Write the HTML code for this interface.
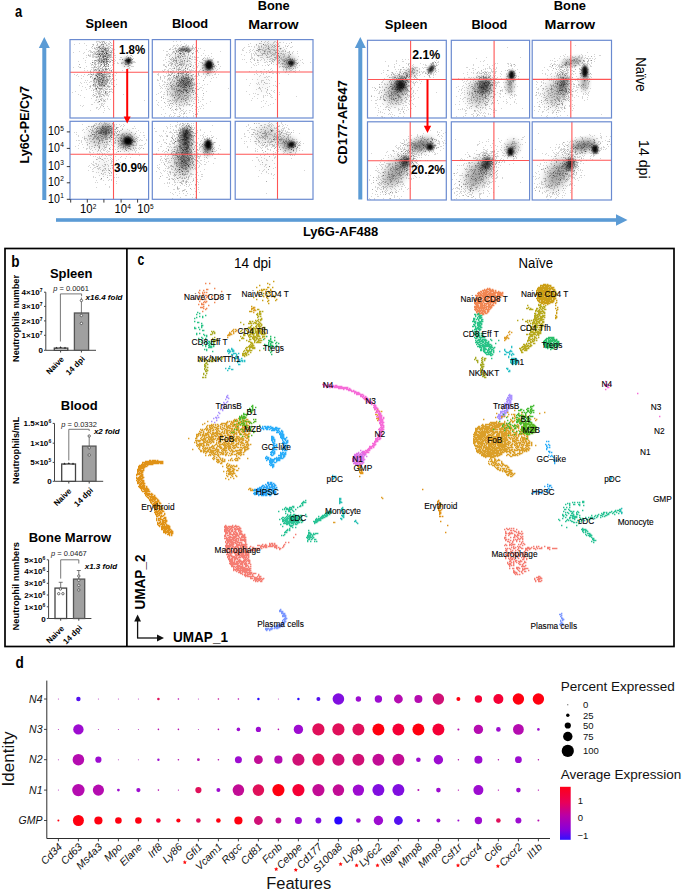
<!DOCTYPE html><html><head><meta charset="utf-8"><style>html,body{margin:0;padding:0;background:#fff;width:685px;height:890px;overflow:hidden}svg{position:absolute;left:0;top:0;display:block}text{font-family:"Liberation Sans",sans-serif}.b{font-weight:bold}.i{font-style:italic}</style></head><body>
<svg width="685" height="890" viewBox="0 0 685 890">
<defs><filter id="bl1" x="-50%" y="-50%" width="200%" height="200%"><feGaussianBlur stdDeviation="1"/></filter><filter id="bl2" x="-50%" y="-50%" width="200%" height="200%"><feGaussianBlur stdDeviation="2"/></filter><filter id="bl3" x="-50%" y="-50%" width="200%" height="200%"><feGaussianBlur stdDeviation="3"/></filter><filter id="bl4" x="-50%" y="-50%" width="200%" height="200%"><feGaussianBlur stdDeviation="4.5"/></filter><filter id="bl6" x="-50%" y="-50%" width="200%" height="200%"><feGaussianBlur stdDeviation="6"/></filter><linearGradient id="cbar" x1="0" y1="0" x2="0" y2="1"><stop offset="0" stop-color="#ff0018"/><stop offset=".3" stop-color="#e8005a"/><stop offset=".55" stop-color="#b800a8"/><stop offset=".8" stop-color="#8a00d8"/><stop offset="1" stop-color="#3010ff"/></linearGradient></defs>
<text x="15" y="16.9" font-size="16.4" class="b" textLength="7.2" lengthAdjust="spacingAndGlyphs">a</text>
<text x="106.5" y="27.9" font-size="13" class="b" text-anchor="middle" textLength="42.1" lengthAdjust="spacingAndGlyphs">Spleen</text>
<text x="190" y="28.2" font-size="13" class="b" text-anchor="middle" textLength="36.2" lengthAdjust="spacingAndGlyphs">Blood</text>
<text x="273.7" y="9.8" font-size="13" class="b" text-anchor="middle" textLength="32" lengthAdjust="spacingAndGlyphs">Bone</text>
<text x="273.4" y="28.8" font-size="13" class="b" text-anchor="middle" textLength="50.4" lengthAdjust="spacingAndGlyphs">Marrow</text>
<text x="406.2" y="28.8" font-size="13" class="b" text-anchor="middle" textLength="42.8" lengthAdjust="spacingAndGlyphs">Spleen</text>
<text x="489.4" y="28.8" font-size="13" class="b" text-anchor="middle" textLength="36" lengthAdjust="spacingAndGlyphs">Blood</text>
<text x="569.9" y="10.4" font-size="13" class="b" text-anchor="middle" textLength="32.2" lengthAdjust="spacingAndGlyphs">Bone</text>
<text x="569.9" y="29.4" font-size="13" class="b" text-anchor="middle" textLength="50.6" lengthAdjust="spacingAndGlyphs">Marrow</text>
<rect x="42.3" y="47" width="4" height="153" fill="#5b9bd5"/>
<path d="M44.3 37L49.8 48L38.8 48Z" fill="#5b9bd5"/>
<rect x="358.3" y="47" width="4" height="152.5" fill="#5b9bd5"/>
<path d="M360.3 37L365.8 48L354.8 48Z" fill="#5b9bd5"/>
<rect x="56" y="218.2" width="561" height="3.6" fill="#5b9bd5"/>
<path d="M627.5 220L616 214.2L616 225.8Z" fill="#5b9bd5"/>
<text x="29.5" y="124.8" font-size="12.5" class="b" text-anchor="middle" transform="rotate(-90 29.5 124.8)">Ly6C-PE/Cy7</text>
<text x="347.3" y="122.2" font-size="13" class="b" text-anchor="middle" transform="rotate(-90 347.3 122.2)">CD177-AF647</text>
<text x="340.6" y="236.4" font-size="13" class="b" text-anchor="middle">Ly6G-AF488</text>
<text x="636" y="74.4" font-size="14.2" text-anchor="middle" transform="rotate(90 636 74.4)" textLength="34.2" lengthAdjust="spacingAndGlyphs">Na&#239;ve</text>
<text x="638.6" y="159.3" font-size="14.2" text-anchor="middle" transform="rotate(90 638.6 159.3)" textLength="38.6" lengthAdjust="spacingAndGlyphs">14 dpi</text>
<clipPath id="c1"><rect x="70" y="39.6" width="78.6" height="78.4"/></clipPath>
<g clip-path="url(#c1)">
<ellipse cx="103" cy="54" rx="5" ry="8" transform="rotate(0 103 54)" fill="#000" fill-opacity="0.26" filter="url(#bl3)"/>
<ellipse cx="101.5" cy="79" rx="5.5" ry="8" transform="rotate(0 101.5 79)" fill="#000" fill-opacity="0.3" filter="url(#bl3)"/>
<ellipse cx="100.5" cy="98" rx="4" ry="6" transform="rotate(0 100.5 98)" fill="#000" fill-opacity="0.05" filter="url(#bl3)"/>
<ellipse cx="128.4" cy="60.7" rx="2.8" ry="2.8" transform="rotate(0 128.4 60.7)" fill="#000" fill-opacity="0.97" filter="url(#bl1)"/>
<ellipse cx="126.5" cy="62" rx="4" ry="4" transform="rotate(0 126.5 62)" fill="#000" fill-opacity="0.3" filter="url(#bl2)"/>
<path d="M106 74h1M96 60h1M96 54h1M97 76h1M128 59h1M100 71h1M124 63h1M91 52h1M105 56h1M103 58h1M101 96h1M131 58h1M98 93h1M103 81h1M95 87h1M108 43h1M102 67h1M101 91h1M99 85h1M99 71h1M97 90h1M106 61h1M98 51h1M99 77h1M105 64h1M97 44h1M102 72h1M105 64h1M106 92h1M98 74h1M90 72h1M87 84h1M104 90h1M106 83h1M110 54h1M99 73h1M103 75h1M92 57h1M92 46h1M95 53h1M113 63h1M106 69h1M109 83h1M112 57h1M126 60h1M129 68h1M103 66h1M111 45h1M103 51h1M111 50h1M96 67h1M88 74h1M97 72h1M99 96h1M99 46h1M107 53h1M105 58h1M93 65h1M106 55h1M100 66h1M127 55h1M106 95h1M101 62h1M101 82h1M110 50h1M121 57h1M103 61h1M103 46h1M99 46h1M109 58h1M130 65h1M93 68h1M103 56h1M103 56h1M108 73h1M98 54h1M113 71h1M107 66h1M113 58h1M100 62h1M102 44h1M108 64h1M134 61h1M102 80h1M94 78h1M100 58h1M100 79h1M108 59h1M108 61h1M103 80h1M103 59h1M108 86h1M103 94h1M104 110h1M109 48h1M122 59h1M114 63h1M103 66h1M99 54h1M108 49h1M108 53h1M113 52h1M103 62h1M97 47h1M100 56h1M103 55h1M98 56h1M98 101h1M96 64h1M110 56h1M94 51h1M100 68h1M106 50h1M106 59h1M99 86h1M92 60h1M104 77h1M105 83h1M110 76h1M102 60h1M130 62h1M126 56h1M81 75h1M104 74h1M107 80h1M94 81h1M130 57h1M101 88h1M93 73h1M88 54h1M98 60h1M89 82h1M98 80h1M134 62h1M96 88h1M106 52h1M99 58h1M129 65h1M104 53h1M125 60h1M104 77h1M93 67h1M95 85h1M104 103h1M108 59h1M95 64h1M102 48h1M102 94h1M100 85h1M100 84h1M110 61h1M99 59h1M127 60h1M102 61h1M102 76h1M107 56h1M103 59h1M98 62h1M107 72h1M101 68h1M111 60h1M96 73h1M103 69h1M128 61h1M106 50h1M99 79h1M96 54h1M104 59h1M95 78h1M104 55h1M91 72h1M104 83h1M108 46h1M94 69h1M90 70h1M90 51h1M98 94h1M95 66h1M111 89h1M133 58h1M99 75h1M104 49h1M107 45h1M99 57h1M106 59h1M102 74h1M80 82h1M93 84h1M104 84h1M108 57h1M112 62h1M105 92h1M92 48h1M102 47h1M106 66h1M100 72h1M104 42h1M95 60h1M105 80h1M102 81h1M96 51h1M95 70h1M105 91h1M110 55h1M108 54h1M99 92h1M101 85h1M111 70h1M110 57h1M100 42h1M128 63h1M93 55h1M100 85h1M110 61h1M106 75h1M101 62h1M88 72h1M106 64h1M98 73h1M93 69h1M101 60h1M99 60h1M111 70h1M92 62h1M133 66h1M107 55h1M100 79h1M90 77h1M96 75h1M108 66h1M94 70h1M94 70h1M130 59h1M104 85h1M109 91h1M92 52h1M94 79h1M92 52h1M99 82h1M103 106h1M103 46h1M113 86h1M92 54h1M131 55h1M96 76h1M104 50h1M107 82h1M107 86h1M90 110h1M111 84h1M122 70h1M102 84h1M86 45h1M97 97h1M96 89h1M112 50h1M88 55h1M97 63h1M129 67h1M105 82h1M98 62h1M117 62h1M99 78h1M106 59h1M105 56h1M104 74h1M104 62h1M108 68h1M123 62h1M107 106h1M112 76h1M91 81h1M99 57h1M105 68h1M94 53h1M92 104h1M102 43h1M104 42h1M105 54h1M104 93h1M108 80h1M105 56h1M104 79h1M101 73h1M103 48h1M99 93h1M99 54h1M104 61h1M107 60h1M129 59h1M101 41h1M106 61h1M103 84h1M101 84h1M100 90h1M129 59h1M101 94h1M111 55h1M105 61h1M105 58h1M98 84h1M93 86h1M99 62h1M127 70h1M95 78h1M94 60h1M87 70h1M101 54h1M111 88h1M103 60h1M102 74h1M105 76h1M99 84h1M101 61h1M99 49h1M93 89h1M103 62h1M102 54h1M98 60h1M104 73h1M112 84h1M98 74h1M103 78h1M100 53h1M101 78h1M112 49h1M94 63h1M100 93h1M106 61h1M102 71h1M97 96h1M110 99h1M109 109h1M100 48h1M95 75h1M105 49h1M109 54h1M98 59h1M106 64h1M106 57h1M109 75h1M98 50h1M101 73h1M103 48h1M93 94h1M108 76h1M106 80h1M86 82h1M99 84h1M101 71h1M82 86h1M111 43h1M103 57h1M106 81h1M105 52h1M104 86h1M97 86h1M133 62h1M128 58h1M118 63h1M99 46h1M105 69h1M103 76h1M103 91h1M125 72h1M96 47h1M108 87h1M115 72h1M108 66h1M105 71h1M93 92h1M99 52h1M99 54h1M129 59h1M106 66h1M99 88h1M106 76h1M100 60h1M76 75h1M106 60h1M108 80h1M73 52h1M108 64h1M128 63h1M108 57h1M99 88h1M106 48h1M93 74h1M90 54h1M100 64h1M85 80h1M128 61h1M104 76h1M126 64h1M104 85h1M97 79h1M98 52h1M109 55h1M104 71h1M103 52h1M94 80h1M106 42h1M107 57h1M108 108h1M103 61h1M125 64h1M125 61h1M95 63h1M101 64h1M104 61h1M107 51h1M92 95h1M109 56h1M101 105h1M104 72h1M107 57h1M95 88h1M98 59h1M100 55h1M101 54h1M114 80h1M94 95h1M108 47h1M104 81h1M107 51h1M103 52h1M103 62h1M81 78h1M104 53h1M129 60h1M95 48h1M110 42h1M108 51h1M102 57h1M95 60h1M99 41h1M94 67h1M115 55h1M106 51h1M94 66h1M131 55h1M95 100h1M100 73h1M94 64h1M107 91h1M92 88h1M110 91h1M96 108h1M90 56h1M91 64h1M99 77h1M92 75h1M107 54h1M128 59h1M94 89h1M127 62h1M101 78h1M94 66h1M102 84h1M128 65h1M115 75h1M103 54h1M103 79h1M99 79h1M114 61h1M99 73h1M105 68h1M101 64h1M103 85h1M95 78h1M74 44h1M108 72h1M133 61h1M96 88h1M128 68h1M103 51h1M97 79h1M83 76h1M93 70h1M97 45h1M125 60h1M108 59h1M95 64h1M108 64h1M104 72h1M107 69h1M95 49h1M98 68h1M104 65h1M95 83h1M144 100h1M105 60h1M107 57h1M106 60h1M109 76h1M104 61h1M115 60h1M107 94h1M109 52h1M110 65h1M94 63h1M101 61h1M100 77h1M113 77h1M104 53h1M94 84h1M129 62h1M131 66h1M111 82h1M110 81h1M99 70h1M128 57h1M80 67h1M101 75h1M95 91h1M104 88h1M91 76h1M132 59h1M100 99h1M101 91h1M102 82h1M109 54h1M99 97h1M93 84h1M105 99h1M96 89h1M105 91h1M72 92h1M105 66h1M126 64h1M97 102h1M109 61h1M105 56h1M107 89h1M111 83h1M98 69h1M100 55h1M98 81h1M109 44h1M92 46h1M109 43h1M97 43h1M100 45h1M103 64h1M102 98h1M90 76h1M125 64h1M106 63h1M106 53h1M113 61h1M93 81h1M100 68h1M96 81h1M100 74h1M109 51h1M100 61h1M107 61h1M104 82h1M98 61h1M99 67h1M102 62h1M96 96h1M112 78h1M116 79h1M96 42h1M95 60h1M105 72h1M108 49h1M97 72h1M104 58h1M97 51h1M94 79h1M106 63h1M97 77h1M106 59h1M106 73h1M109 89h1M128 57h1M131 63h1M97 72h1M108 86h1M106 53h1M107 82h1M106 51h1M101 64h1M105 49h1M104 65h1M102 69h1M94 82h1M106 49h1M130 55h1M104 63h1M129 59h1M86 55h1M101 98h1M98 93h1M97 73h1M111 79h1M96 41h1M112 92h1M100 72h1M78 94h1M99 70h1M109 73h1M110 70h1M99 70h1M91 67h1M108 96h1M84 68h1M105 56h1M112 65h1M127 64h1M106 77h1M103 101h1M99 83h1M102 94h1M107 65h1M95 89h1M109 76h1M100 92h1M90 55h1M108 52h1M93 53h1M132 61h1M107 56h1M110 45h1M96 56h1M99 77h1M102 63h1M96 88h1M99 61h1M111 71h1M93 57h1M98 46h1M96 81h1M99 51h1M113 54h1M103 77h1M90 86h1M110 57h1M107 63h1M100 63h1M105 58h1M109 72h1M121 63h1M96 79h1M103 44h1M105 66h1M128 66h1M97 76h1M98 72h1M106 57h1M98 80h1M111 52h1M100 46h1M106 70h1M105 92h1M103 77h1M98 60h1M101 73h1M112 48h1M92 56h1M95 84h1M128 64h1M98 84h1M106 89h1M108 74h1M96 97h1M99 59h1M94 60h1M99 61h1M105 55h1M105 51h1M107 50h1M107 59h1M101 72h1M101 49h1M104 80h1M128 52h1M99 42h1M106 52h1M110 62h1M106 58h1M103 63h1M109 87h1M94 61h1M99 66h1M106 68h1M103 74h1M104 47h1M98 50h1M97 60h1M96 72h1M102 41h1M110 80h1M107 98h1M99 47h1M102 51h1M95 75h1M125 60h1M103 70h1M105 89h1M103 61h1M104 48h1M90 73h1M129 59h1M95 88h1M100 51h1M99 101h1M94 48h1M105 43h1M109 70h1M101 92h1M81 90h1M94 52h1M105 50h1M132 59h1M108 55h1M94 85h1M90 50h1M95 53h1M114 86h1M92 67h1M112 60h1M125 60h1M103 57h1M108 56h1M108 66h1M100 55h1M107 63h1M106 69h1M99 69h1M97 49h1M105 43h1M113 58h1M100 107h1M107 62h1M113 54h1M102 89h1M98 66h1M100 79h1M99 72h1M102 70h1M106 52h1M107 47h1M108 55h1M100 73h1M96 80h1M107 79h1M106 54h1M102 50h1M101 50h1M100 84h1M97 91h1M98 63h1M102 77h1M101 51h1M105 66h1M107 93h1M94 47h1M96 74h1M103 89h1M107 53h1M101 51h1M103 104h1M106 81h1M102 103h1M131 59h1M92 74h1M94 78h1M103 61h1M103 80h1M104 56h1M92 78h1M98 102h1M94 67h1M124 60h1M104 72h1M108 68h1M106 53h1" stroke="#000" stroke-width="1" stroke-opacity=".17" fill="none" transform="translate(0 .5)"/>
<path d="M97 72h1M111 70h1M98 64h1M102 69h1M107 79h1M128 64h1M103 62h1M96 82h1M106 44h1M99 91h1M90 76h1M103 47h1M107 53h1M99 85h1M93 94h1M111 52h1M111 91h1M78 61h1M103 59h1M102 87h1M95 69h1M106 82h1M84 74h1M100 62h1M89 88h1M92 62h1M106 62h1M96 47h1M102 82h1M105 86h1M102 80h1M104 56h1M90 71h1M102 88h1M107 61h1M106 63h1M112 52h1M122 63h1M96 75h1M99 54h1M93 51h1M89 50h1M103 112h1M90 77h1M99 72h1M98 73h1M102 56h1M84 82h1M97 92h1M91 72h1M105 49h1M104 95h1M130 59h1M108 64h1M110 78h1M130 57h1M103 85h1M96 69h1M128 59h1M109 73h1M99 54h1M97 86h1M94 56h1M94 78h1M102 48h1M107 48h1M105 59h1M96 49h1M102 44h1M94 62h1M101 64h1M96 57h1M108 79h1M102 80h1M128 62h1M99 74h1M98 72h1M108 68h1M93 79h1M129 65h1M101 100h1M97 74h1M120 57h1M100 56h1M113 77h1M92 85h1M103 85h1M100 48h1M97 53h1M106 60h1M79 43h1M95 77h1M96 75h1M116 84h1M112 89h1M99 95h1M102 105h1M96 52h1M104 53h1M106 79h1M105 101h1M110 42h1M98 83h1M94 86h1M102 55h1M104 66h1M98 47h1M131 62h1M101 58h1M106 58h1M113 54h1M95 62h1M101 51h1M113 43h1M96 85h1M80 95h1M126 59h1M112 69h1M103 56h1M102 60h1M99 53h1M99 73h1M97 59h1M131 62h1M101 78h1M93 96h1M93 71h1M101 75h1M104 53h1M101 70h1M98 50h1M96 72h1M95 57h1M98 56h1M104 64h1M91 51h1M105 52h1M105 50h1M106 65h1M95 67h1M102 79h1M107 78h1M105 72h1M96 70h1M106 71h1M128 63h1M103 83h1M100 80h1M90 81h1M110 55h1M96 79h1M104 72h1M117 63h1M99 47h1M102 42h1M106 83h1M97 61h1M79 85h1M100 42h1M103 57h1M101 84h1M94 54h1M90 52h1M106 91h1M106 77h1M108 92h1M100 48h1M93 45h1M102 53h1M99 101h1M101 62h1M102 84h1M104 82h1M103 79h1M103 49h1M97 73h1M125 60h1M96 91h1M105 80h1M128 57h1M95 56h1M91 74h1M90 87h1M111 67h1M125 64h1M102 46h1M104 72h1M96 61h1M101 85h1M103 69h1M97 80h1M112 82h1M104 62h1M109 86h1M95 95h1M80 67h1M91 65h1M97 78h1M98 81h1M102 52h1M99 58h1M103 74h1M102 53h1M125 63h1M104 65h1M101 73h1M97 86h1M125 62h1M106 53h1M101 60h1M108 55h1M96 107h1M114 59h1M90 71h1M122 59h1M122 59h1M98 78h1M107 48h1M101 45h1M111 51h1M79 51h1M99 54h1M85 60h1M107 80h1M110 52h1M98 68h1M105 48h1M104 101h1M108 85h1M101 73h1M111 54h1M105 94h1M103 44h1M110 68h1M128 66h1M101 44h1M88 55h1M84 97h1M101 79h1M97 96h1M99 89h1M100 56h1M100 81h1M116 73h1M100 48h1M99 54h1M99 104h1M103 100h1M101 100h1M98 63h1M100 106h1M99 80h1M114 86h1M131 60h1M103 70h1M96 54h1M99 53h1M99 81h1M106 56h1M108 76h1M100 99h1M109 56h1M102 76h1M102 51h1M110 86h1M109 57h1M75 91h1M104 63h1M91 74h1M132 59h1M102 75h1M112 60h1M93 84h1M105 48h1M83 105h1M104 49h1M90 86h1M99 70h1M108 61h1M103 44h1M105 69h1M104 55h1M95 86h1M109 41h1M102 51h1M96 93h1M104 85h1M98 67h1M104 65h1M98 109h1M91 90h1M106 48h1M107 59h1M130 60h1M99 81h1M102 82h1M98 80h1M107 50h1M97 41h1M104 85h1M104 86h1M114 55h1M109 86h1M110 47h1M131 63h1M92 64h1M105 62h1M100 88h1M95 82h1M100 86h1M104 59h1M98 55h1M93 44h1M97 54h1M113 68h1M95 85h1M97 53h1M97 76h1M101 53h1M106 89h1M93 84h1M106 77h1M128 60h1M103 78h1M103 59h1M105 84h1M89 55h1M111 45h1M111 71h1M112 60h1M130 60h1M109 62h1M129 61h1M103 106h1M89 56h1M97 107h1M93 80h1M108 48h1M107 57h1M108 65h1M106 53h1M105 81h1M98 91h1M110 89h1M101 59h1M100 65h1M95 69h1M101 99h1M99 94h1M111 56h1M104 100h1M86 49h1M113 67h1M98 82h1M83 53h1M98 51h1M99 74h1M126 61h1M106 64h1M106 45h1M96 97h1M107 73h1M100 82h1M105 69h1M103 46h1M99 81h1M102 51h1M100 96h1M106 54h1M101 75h1M108 72h1M103 58h1M87 75h1M104 41h1M101 86h1M93 90h1M89 86h1M105 62h1M112 74h1M98 88h1M110 54h1M95 69h1M111 57h1M106 78h1M103 51h1M94 102h1M105 50h1M111 59h1M104 65h1M101 88h1M99 90h1M110 47h1M90 63h1M100 55h1M93 80h1M98 78h1M121 63h1M101 79h1M81 83h1M101 59h1M95 78h1M83 58h1M94 95h1M107 63h1M102 60h1M93 44h1M105 56h1M96 75h1M102 78h1M105 80h1M86 57h1M101 104h1M96 75h1M92 64h1M101 58h1M99 91h1M107 88h1M96 88h1M102 54h1M98 47h1M104 71h1M101 65h1M113 91h1M93 82h1M126 60h1M99 108h1M110 52h1M93 54h1M107 61h1M97 74h1M91 69h1M99 48h1M97 87h1M104 59h1M103 50h1M97 66h1M115 57h1M98 88h1M109 91h1M102 56h1M97 57h1M100 89h1M98 54h1M98 47h1M107 86h1M107 76h1M107 71h1M109 83h1M105 69h1M119 59h1M96 82h1M135 62h1M109 77h1M102 80h1M102 68h1M128 61h1M99 93h1M98 87h1M103 92h1M105 74h1M104 43h1M107 95h1M86 89h1M103 82h1M103 54h1M97 84h1M106 59h1M107 55h1M97 87h1M103 61h1M105 48h1M101 82h1M99 50h1M99 96h1M101 61h1M99 77h1M80 105h1M97 48h1M79 67h1M103 51h1M104 68h1M106 94h1M109 69h1M98 72h1M127 69h1M101 103h1M98 53h1M104 76h1M93 90h1M99 72h1M102 57h1M107 85h1M98 81h1M101 60h1M101 44h1M103 41h1M94 78h1M104 49h1M111 53h1M132 66h1M103 45h1M98 41h1M102 74h1M106 52h1M98 77h1M110 74h1M104 108h1M99 58h1M102 76h1M93 62h1M97 76h1M106 62h1M94 83h1M114 53h1M99 88h1M101 54h1M99 60h1M95 84h1M109 89h1M101 83h1M88 74h1M104 75h1M106 53h1M111 80h1M104 59h1M124 66h1M84 43h1M101 71h1M107 74h1M130 69h1M106 93h1M111 48h1M82 106h1M104 64h1M105 55h1M93 85h1M99 56h1M109 79h1M96 99h1M109 46h1M93 74h1M107 58h1M97 51h1M97 68h1M103 72h1M104 100h1M127 68h1M127 60h1M101 83h1M96 94h1M104 60h1M95 62h1M112 75h1M110 52h1M100 75h1M86 66h1M98 74h1M102 86h1M105 88h1M132 63h1M123 94h1M107 61h1M91 47h1M99 83h1M110 76h1M98 79h1M105 93h1M108 59h1M127 63h1M107 69h1M105 92h1M103 55h1M106 61h1M101 76h1M100 95h1M96 90h1M92 62h1M104 63h1M106 53h1M109 62h1M94 78h1M106 84h1M94 81h1M126 60h1M113 84h1M108 44h1M101 47h1M105 76h1M101 89h1M104 78h1M96 70h1M110 61h1M98 92h1M109 92h1M103 41h1M120 59h1M121 62h1M103 77h1M99 85h1M99 101h1M92 44h1M99 83h1M100 59h1M101 62h1M113 71h1M129 63h1M96 57h1M93 85h1M108 50h1M107 53h1M99 61h1M91 74h1M99 63h1M90 85h1M107 99h1M96 67h1M100 66h1M100 53h1M106 79h1M103 86h1M98 71h1M95 93h1M127 66h1M97 69h1M84 70h1M127 71h1M102 82h1M95 74h1M102 51h1M105 91h1M109 82h1M122 62h1M128 60h1M106 58h1M100 94h1M98 99h1M106 69h1M99 75h1M112 45h1M105 84h1M105 92h1M91 98h1M103 66h1M106 59h1M124 66h1M99 47h1M114 49h1M113 91h1M91 76h1M102 53h1M95 79h1M104 96h1M101 48h1M103 80h1M103 95h1M106 72h1M101 82h1M102 83h1M99 61h1M90 74h1M102 42h1M104 58h1M73 67h1M96 60h1M102 81h1M100 72h1M92 77h1M94 48h1M74 74h1M110 73h1M130 58h1M98 65h1M93 56h1M132 62h1M94 79h1M112 79h1M106 62h1M100 81h1M101 44h1M103 90h1M107 81h1M79 64h1M99 75h1M98 56h1M109 76h1M126 59h1M110 59h1M95 54h1M112 74h1M78 66h1M107 81h1M101 78h1M97 44h1M88 51h1M96 88h1M104 56h1M79 64h1M105 83h1M102 67h1M103 61h1M102 48h1M109 60h1M102 59h1M100 65h1M97 77h1M106 68h1M106 45h1M101 49h1M100 89h1M100 88h1M89 74h1M98 75h1M113 85h1M101 88h1M103 95h1M108 95h1M105 48h1M111 51h1M97 76h1M103 56h1M95 65h1M127 70h1M106 87h1M108 50h1M97 76h1M104 60h1M77 74h1M91 104h1M104 49h1M112 64h1M103 57h1M112 78h1M87 80h1M102 82h1M105 93h1M132 56h1M105 59h1M104 64h1M102 61h1M102 75h1M109 75h1M97 56h1M85 62h1M106 84h1M109 94h1M96 89h1M92 55h1M97 54h1M107 93h1M98 70h1M95 52h1M95 86h1M98 83h1M96 100h1M105 74h1M101 96h1M107 79h1M109 55h1M105 47h1M99 101h1M102 85h1M105 67h1M105 54h1M98 82h1M102 71h1M103 99h1M84 52h1M92 62h1M78 76h1M85 87h1M108 54h1M113 63h1M101 85h1M103 77h1M109 78h1M96 45h1M93 72h1M104 85h1M109 70h1M105 70h1" stroke="#000" stroke-width="1" stroke-opacity=".17" fill="none" transform="translate(0 .5)"/>
</g>
<line x1="113.6" y1="39.6" x2="113.6" y2="118" stroke="#ff5555" stroke-width="1.1"/>
<line x1="70" y1="72.3" x2="148.6" y2="72.3" stroke="#ff5555" stroke-width="1.1"/>
<rect x="70" y="39.6" width="78.6" height="78.4" fill="none" stroke="#6a8ad0" stroke-width="1.2"/>
<clipPath id="c2"><rect x="152.3" y="39.6" width="78.2" height="78.4"/></clipPath>
<g clip-path="url(#c2)">
<ellipse cx="185" cy="49.4" rx="6" ry="2" transform="rotate(0 185 49.4)" fill="#000" fill-opacity="0.6" filter="url(#bl1)"/>
<ellipse cx="181" cy="60" rx="8" ry="8" transform="rotate(0 181 60)" fill="#000" fill-opacity="0.14" filter="url(#bl4)"/>
<ellipse cx="209" cy="64.9" rx="3.8" ry="4.6" transform="rotate(0 209 64.9)" fill="#000" fill-opacity="0.98" filter="url(#bl1)"/>
<ellipse cx="208" cy="67" rx="5" ry="6.5" transform="rotate(0 208 67)" fill="#000" fill-opacity="0.42" filter="url(#bl2)"/>
<ellipse cx="185.7" cy="82" rx="4.5" ry="5.5" transform="rotate(0 185.7 82)" fill="#000" fill-opacity="0.6" filter="url(#bl3)"/>
<ellipse cx="181" cy="90" rx="10" ry="13" transform="rotate(0 181 90)" fill="#000" fill-opacity="0.3" filter="url(#bl4)"/>
<path d="M163 84h1M185 98h1M181 76h1M168 83h1M187 92h1M186 84h1M215 68h1M196 74h1M188 60h1M195 64h1M193 94h1M156 94h1M179 62h1M192 49h1M174 68h1M194 84h1M185 79h1M180 71h1M173 68h1M177 95h1M193 83h1M209 72h1M176 89h1M161 91h1M192 59h1M203 70h1M175 60h1M158 102h1M170 72h1M198 89h1M188 82h1M192 105h1M163 64h1M181 99h1M167 105h1M173 116h1M195 59h1M202 63h1M177 76h1M172 70h1M172 84h1M184 95h1M203 58h1M174 113h1M193 101h1M190 98h1M174 80h1M169 78h1M186 90h1M187 60h1M173 112h1M163 71h1M198 72h1M179 112h1M191 75h1M203 88h1M178 54h1M181 79h1M175 60h1M191 64h1M185 51h1M190 88h1M183 92h1M170 79h1M196 53h1M181 110h1M205 55h1M166 67h1M187 47h1M191 79h1M193 79h1M180 75h1M186 91h1M181 73h1M178 52h1M193 47h1M183 109h1M179 50h1M167 70h1M177 77h1M183 87h1M164 69h1M181 113h1M181 74h1M193 115h1M178 45h1M170 49h1M184 78h1M214 71h1M169 77h1M168 64h1M215 73h1M178 95h1M181 44h1M186 87h1M168 78h1M175 72h1M188 76h1M211 62h1M186 71h1M211 56h1M207 63h1M178 90h1M183 78h1M185 90h1M186 82h1M176 75h1M179 108h1M211 65h1M192 57h1M186 93h1M176 45h1M184 104h1M186 44h1M189 86h1M183 111h1M187 86h1M190 89h1M202 85h1M182 92h1M200 101h1M193 90h1M200 62h1M168 101h1M187 102h1M206 64h1M208 73h1M179 50h1M208 72h1M186 65h1M198 100h1M175 78h1M185 45h1M193 74h1M203 60h1M183 99h1M194 68h1M194 71h1M179 78h1M186 78h1M179 67h1M195 97h1M186 77h1M170 72h1M183 87h1M190 66h1M197 60h1M171 71h1M177 63h1M191 70h1M170 108h1M199 61h1M198 48h1M188 74h1M182 47h1M179 94h1M180 69h1M186 73h1M195 93h1M179 79h1M174 77h1M175 47h1M210 62h1M179 89h1M180 48h1M192 56h1M187 79h1M185 77h1M184 78h1M206 63h1M178 49h1M180 57h1M172 57h1M187 61h1M196 89h1M194 59h1M194 76h1M171 69h1M186 87h1M212 71h1M176 76h1M174 60h1M184 80h1M177 79h1M192 111h1M175 54h1M167 51h1M166 51h1M183 83h1M175 103h1M182 87h1M176 70h1M173 100h1M185 85h1M172 72h1M178 56h1M184 82h1M191 65h1M178 76h1M168 79h1M196 68h1M187 78h1M198 65h1M190 50h1M192 105h1M193 87h1M181 86h1M171 54h1M166 62h1M180 101h1M179 64h1M191 87h1M182 64h1M211 67h1M173 85h1M187 92h1M186 53h1M190 71h1M178 60h1M180 71h1M165 69h1M204 57h1M173 85h1M179 68h1M182 52h1M188 50h1M175 92h1M185 77h1M168 73h1M189 60h1M173 95h1M178 85h1M174 101h1M176 101h1M184 54h1M186 98h1M169 80h1M181 59h1M208 67h1M190 78h1M188 51h1M178 68h1M164 86h1M170 83h1M190 75h1M187 86h1M185 72h1M193 70h1M210 101h1M169 49h1M208 66h1M180 53h1M172 68h1M180 96h1M157 79h1M178 56h1M199 75h1M164 76h1M198 102h1M184 86h1M207 73h1M172 59h1M176 104h1M181 55h1M195 88h1M188 82h1M205 61h1M182 74h1M165 82h1M176 78h1M172 73h1M164 102h1M180 92h1M194 90h1M185 100h1M176 51h1M184 64h1M188 84h1M189 58h1M177 44h1M186 116h1M183 53h1M181 91h1M207 73h1M173 78h1M192 47h1M162 88h1M172 79h1M185 50h1M178 56h1M182 78h1M165 66h1M158 73h1M179 97h1M168 72h1M189 100h1M200 69h1M176 84h1M178 106h1M197 89h1M199 71h1M199 83h1M189 83h1M186 78h1M188 81h1M195 109h1M181 80h1M216 77h1M209 75h1M177 90h1M172 103h1M171 62h1M174 52h1M180 87h1M188 67h1M173 72h1M186 100h1M203 105h1M174 87h1M177 77h1M204 60h1M191 86h1M185 98h1M183 73h1M190 66h1M174 89h1M171 101h1M168 69h1M217 61h1M183 87h1M163 60h1M172 103h1M213 66h1M192 70h1M182 56h1M181 85h1M182 54h1M164 116h1M207 66h1M177 65h1M187 97h1M197 51h1M196 64h1M172 88h1M174 98h1M182 49h1M189 51h1M176 58h1M164 64h1M173 66h1M192 90h1M169 61h1M173 58h1M190 80h1M181 83h1M208 69h1M184 84h1M189 80h1M188 93h1M196 96h1M187 90h1M179 81h1M194 49h1M165 57h1M171 89h1M188 54h1M178 50h1M167 93h1M190 80h1M181 98h1M180 51h1M179 52h1M189 104h1M186 105h1M164 70h1M188 82h1M195 99h1M171 74h1M179 80h1M212 62h1M183 54h1M179 62h1M201 87h1M181 72h1M186 73h1M190 82h1M183 93h1M179 53h1M171 86h1M179 71h1M175 53h1M187 103h1M167 84h1M192 85h1M180 111h1M184 53h1M203 80h1M192 78h1M189 81h1M194 57h1M176 60h1M158 93h1M191 97h1M180 53h1M188 92h1M195 76h1M160 79h1M188 84h1M182 72h1M172 73h1M183 81h1M178 86h1M182 80h1M172 64h1M191 48h1M192 76h1M195 88h1M194 82h1M206 74h1M183 81h1M185 85h1M174 91h1M193 84h1M197 94h1M172 109h1M192 82h1M187 72h1M189 50h1M186 113h1M178 75h1M215 74h1M178 77h1M188 52h1M176 50h1M180 83h1M191 83h1M167 76h1M190 66h1M210 72h1M182 73h1M180 86h1M197 83h1M192 82h1M167 89h1M180 63h1M192 90h1M184 79h1M162 70h1M181 91h1M212 60h1M167 91h1M210 71h1M185 68h1M193 113h1M185 76h1M169 100h1M183 86h1M181 88h1M210 61h1M195 78h1M175 109h1M202 70h1M172 63h1M184 80h1M185 84h1M171 88h1M164 94h1M189 81h1M187 83h1M188 83h1M195 106h1M189 66h1M212 75h1M208 67h1M187 104h1M163 96h1M209 57h1M192 53h1M178 70h1M186 85h1M187 80h1M186 77h1M216 70h1M185 100h1M190 64h1M182 79h1M181 79h1M172 94h1M179 85h1M173 88h1M193 116h1M172 89h1M191 85h1M193 87h1M174 75h1M189 85h1M181 51h1M180 82h1M171 85h1M180 81h1M217 62h1M178 86h1M186 92h1M182 80h1M184 86h1M207 65h1M197 96h1M180 65h1M185 90h1M190 66h1M166 55h1M174 77h1M173 60h1M184 56h1M172 61h1M179 116h1M207 66h1M180 61h1M179 55h1M185 51h1M189 73h1M182 94h1M173 81h1M184 54h1M176 101h1M182 71h1M181 51h1M187 82h1M158 80h1M168 89h1M180 82h1M189 112h1M191 101h1M187 94h1M205 71h1M213 64h1M198 89h1M186 50h1M183 80h1M185 70h1M178 72h1M206 65h1M167 94h1M167 82h1M203 93h1M168 103h1M193 65h1M190 58h1M191 80h1M193 90h1M161 100h1M175 113h1M174 75h1M180 71h1M184 85h1M203 95h1M185 87h1M181 79h1M191 75h1M210 65h1M167 75h1M184 89h1M186 47h1M181 93h1M167 91h1M178 75h1M176 51h1M170 85h1M183 50h1M174 97h1M189 79h1M187 79h1M179 105h1M205 64h1M196 63h1M181 67h1M184 46h1M166 84h1M176 99h1M192 90h1M180 59h1M169 104h1M183 75h1M180 62h1M180 50h1M218 64h1M175 109h1M190 85h1M183 105h1M173 76h1M179 114h1M195 92h1M208 60h1M213 64h1M184 88h1M173 102h1M184 53h1M183 98h1M160 88h1M172 93h1M176 61h1M179 64h1M199 106h1M170 92h1M173 104h1M181 50h1M168 75h1M186 85h1M174 75h1M182 66h1M194 85h1M189 86h1M195 57h1M184 60h1M176 59h1M159 83h1M171 95h1M182 48h1M190 83h1M175 99h1M171 110h1M180 53h1M188 64h1M184 113h1M189 110h1M177 92h1M179 102h1M188 52h1M189 79h1M178 69h1M197 50h1M220 66h1M197 114h1M175 78h1M181 77h1M183 63h1M194 83h1M172 53h1M218 62h1M167 88h1M208 73h1M187 81h1M185 111h1M176 100h1M194 56h1M178 94h1M206 65h1M171 86h1M181 77h1M168 99h1M196 105h1M183 80h1M202 104h1M185 83h1M182 76h1M169 105h1M175 65h1M186 95h1M215 65h1M198 73h1M188 49h1M182 80h1M165 59h1M165 98h1M180 51h1M169 56h1M172 63h1M165 88h1M193 85h1M194 48h1M187 72h1M186 77h1M211 59h1M179 53h1M207 70h1M210 62h1M187 92h1M176 66h1M184 72h1M175 48h1M177 99h1M191 92h1M168 61h1M169 101h1M194 103h1M172 99h1M179 107h1M157 74h1M204 65h1M171 103h1M175 56h1M207 67h1M188 97h1M181 53h1M208 55h1M210 63h1M176 69h1M181 86h1M187 51h1M162 81h1M182 56h1M186 75h1M179 83h1M192 48h1M189 70h1M198 111h1M197 107h1M181 64h1M177 80h1M202 90h1M172 100h1M176 91h1M176 74h1M192 74h1M168 89h1M165 103h1M186 48h1M186 91h1M186 50h1M206 65h1M228 88h1M203 93h1M186 74h1M202 99h1M186 74h1M183 97h1M175 77h1M174 51h1M189 77h1M177 73h1M168 65h1M182 51h1M171 59h1M179 91h1M211 78h1M173 75h1M176 67h1M188 99h1M169 105h1M170 71h1M188 55h1M198 99h1M177 69h1M186 102h1M177 91h1M177 93h1M159 85h1M183 116h1M187 96h1M188 65h1M187 51h1M188 83h1M187 77h1M182 87h1M200 48h1M171 74h1M185 84h1M197 66h1M183 89h1M186 48h1M170 75h1M173 77h1M188 77h1M181 91h1M182 77h1M183 46h1M188 77h1M178 84h1M212 66h1M186 51h1M187 89h1M178 82h1M185 87h1M190 55h1M185 74h1M178 65h1M177 82h1M170 93h1M176 82h1M183 114h1M183 106h1M182 52h1M191 62h1M186 85h1M186 79h1M177 86h1M171 85h1M182 110h1M182 82h1M176 106h1M185 56h1M191 52h1M192 77h1M190 81h1M192 75h1M181 81h1M160 92h1M189 82h1M196 99h1M169 49h1M161 87h1M160 78h1M179 97h1M174 88h1M185 68h1M174 115h1M184 84h1M177 90h1M219 68h1M179 53h1M186 72h1M175 50h1M183 49h1M208 68h1M202 68h1M190 72h1M173 49h1M189 51h1M181 72h1M178 90h1M175 63h1M163 94h1M180 109h1M184 84h1M180 86h1M176 108h1M205 64h1M183 84h1M167 55h1M179 72h1M182 62h1M172 57h1M205 69h1M175 49h1M198 75h1M183 72h1M201 62h1M190 83h1M183 46h1M179 84h1M186 95h1M189 88h1M173 110h1M181 99h1M168 78h1M180 73h1M186 85h1M202 97h1M205 77h1M187 50h1M185 67h1M198 74h1M178 73h1M174 97h1M177 85h1M178 90h1M182 61h1" stroke="#000" stroke-width="1" stroke-opacity=".17" fill="none" transform="translate(0 .5)"/>
<path d="M178 98h1M187 56h1M164 84h1M173 61h1M181 55h1M211 72h1M178 85h1M187 61h1M188 85h1M180 69h1M184 43h1M189 86h1M165 76h1M175 53h1M187 49h1M197 76h1M188 95h1M190 95h1M169 75h1M178 85h1M184 48h1M186 90h1M196 66h1M206 103h1M186 104h1M184 60h1M175 93h1M189 57h1M190 56h1M176 76h1M184 49h1M209 67h1M186 61h1M184 62h1M178 98h1M166 66h1M186 91h1M202 67h1M185 55h1M189 61h1M190 104h1M191 84h1M171 77h1M183 92h1M197 86h1M181 85h1M207 57h1M186 73h1M171 86h1M188 72h1M187 72h1M177 46h1M188 79h1M192 79h1M176 76h1M167 54h1M174 72h1M191 81h1M188 78h1M178 74h1M172 106h1M181 61h1M180 82h1M191 79h1M166 73h1M213 58h1M189 93h1M206 69h1M185 71h1M186 50h1M172 87h1M171 64h1M182 63h1M184 63h1M192 46h1M171 105h1M156 100h1M182 84h1M184 71h1M190 91h1M175 95h1M192 91h1M195 62h1M196 48h1M190 83h1M185 101h1M183 81h1M167 80h1M183 92h1M158 75h1M183 73h1M196 69h1M189 105h1M176 77h1M190 96h1M182 70h1M190 70h1M202 65h1M179 76h1M183 83h1M178 84h1M175 91h1M191 59h1M189 90h1M179 80h1M182 75h1M185 95h1M194 97h1M181 48h1M214 66h1M170 103h1M188 54h1M209 63h1M193 52h1M176 57h1M211 60h1M189 51h1M214 65h1M162 85h1M178 51h1M168 107h1M180 54h1M181 77h1M180 81h1M175 58h1M190 73h1M177 82h1M185 66h1M170 63h1M190 83h1M180 82h1M198 74h1M188 104h1M191 88h1M188 74h1M191 50h1M177 52h1M172 49h1M209 67h1M213 63h1M178 65h1M210 66h1M180 91h1M180 73h1M187 92h1M185 71h1M191 106h1M194 91h1M177 54h1M169 115h1M160 86h1M175 53h1M175 86h1M183 76h1M160 76h1M179 116h1M180 73h1M175 55h1M178 73h1M188 81h1M180 52h1M176 88h1M178 70h1M168 75h1M192 53h1M181 80h1M213 72h1M170 100h1M177 51h1M180 53h1M185 68h1M203 64h1M182 72h1M182 56h1M207 84h1M179 96h1M164 81h1M185 87h1M196 76h1M204 84h1M178 69h1M177 78h1M189 79h1M210 64h1M183 71h1M201 106h1M174 62h1M192 99h1M179 81h1M197 113h1M183 117h1M212 66h1M189 104h1M176 41h1M202 62h1M181 82h1M189 86h1M184 95h1M170 100h1M170 114h1M179 47h1M192 90h1M161 96h1M160 77h1M192 87h1M183 91h1M170 85h1M165 66h1M169 91h1M172 47h1M178 97h1M190 77h1M190 84h1M171 60h1M184 103h1M185 100h1M193 48h1M186 45h1M192 88h1M176 83h1M178 57h1M187 92h1M171 116h1M203 53h1M174 68h1M204 64h1M170 59h1M187 117h1M192 45h1M184 113h1M178 75h1M170 65h1M193 78h1M193 74h1M190 63h1M180 60h1M186 91h1M205 58h1M183 81h1M170 68h1M182 73h1M187 58h1M192 84h1M177 98h1M188 51h1M214 71h1M177 49h1M179 48h1M183 89h1M212 67h1M173 51h1M169 63h1M188 51h1M189 89h1M176 109h1M186 80h1M206 67h1M175 57h1M180 64h1M191 85h1M188 72h1M218 74h1M203 99h1M191 79h1M181 79h1M180 108h1M177 100h1M193 66h1M170 55h1M183 58h1M188 98h1M187 74h1M175 92h1M188 71h1M176 79h1M183 46h1M180 53h1M160 77h1M180 45h1M182 67h1M191 72h1M186 97h1M191 78h1M181 64h1M198 73h1M172 95h1M163 98h1M187 79h1M182 82h1M180 90h1M193 92h1M181 83h1M185 51h1M184 74h1M192 83h1M190 94h1M187 69h1M173 76h1M192 88h1M186 88h1M175 65h1M168 65h1M183 58h1M211 64h1M192 53h1M158 74h1M185 83h1M195 51h1M183 77h1M172 79h1M182 61h1M180 64h1M191 86h1M188 96h1M181 101h1M182 91h1M189 50h1M186 90h1M178 73h1M187 78h1M185 85h1M175 86h1M195 75h1M185 89h1M192 97h1M169 74h1M168 71h1M179 90h1M183 77h1M185 89h1M181 63h1M161 97h1M176 84h1M209 69h1M182 80h1M157 80h1M196 84h1M178 51h1M176 86h1M198 102h1M185 74h1M177 80h1M169 94h1M184 89h1M184 103h1M157 104h1M181 70h1M169 68h1M173 95h1M187 59h1M218 64h1M178 90h1M170 87h1M163 71h1M176 51h1M185 58h1M188 74h1M186 85h1M183 82h1M177 56h1M202 68h1M194 62h1M178 80h1M188 78h1M176 68h1M182 91h1M189 87h1M192 89h1M189 101h1M173 46h1M170 62h1M191 49h1M183 54h1M183 89h1M194 79h1M176 50h1M180 49h1M178 49h1M186 83h1M181 105h1M167 99h1M180 57h1M176 60h1M180 50h1M179 57h1M179 85h1M205 76h1M186 78h1M179 58h1M176 83h1M188 46h1M180 56h1M206 71h1M196 50h1M179 50h1M177 116h1M181 49h1M186 90h1M214 67h1M175 102h1M220 51h1M182 80h1M171 66h1M193 68h1M184 90h1M173 70h1M185 78h1M170 82h1M188 45h1M188 76h1M187 97h1M173 83h1M183 83h1M185 71h1M207 72h1M158 105h1M166 90h1M192 46h1M214 66h1M180 84h1M206 91h1M178 85h1M166 54h1M192 67h1M184 78h1M175 48h1M204 78h1M182 96h1M179 69h1M183 56h1M173 52h1M174 48h1M191 80h1M178 48h1M187 75h1M179 94h1M188 75h1M188 48h1M183 50h1M174 85h1M184 55h1M198 57h1M192 54h1M177 92h1M176 83h1M203 73h1M180 95h1M186 80h1M174 73h1M174 81h1M204 50h1M174 97h1M173 60h1M191 75h1M189 49h1M179 50h1M174 68h1M171 107h1M187 52h1M179 50h1M186 85h1M178 80h1M183 76h1M172 80h1M184 87h1M179 69h1M175 109h1M184 78h1M189 58h1M171 72h1M172 72h1M179 67h1M189 85h1M195 93h1M187 83h1M179 64h1M195 114h1M179 90h1M187 57h1M183 64h1M178 88h1M169 116h1M176 89h1M163 75h1M184 96h1M179 93h1M182 46h1M195 47h1M213 64h1M173 51h1M176 88h1M181 99h1M198 71h1M164 82h1M218 61h1M180 105h1M208 61h1M171 64h1M175 57h1M180 56h1M179 94h1M169 88h1M193 88h1M184 69h1M170 75h1M185 95h1M186 89h1M190 90h1M191 89h1M180 54h1M183 90h1M203 67h1M184 89h1M187 61h1M176 110h1M177 50h1M181 65h1M189 84h1M173 41h1M167 92h1M175 64h1M161 114h1M189 63h1M193 103h1M187 81h1M192 92h1M192 48h1M185 75h1M189 69h1M192 80h1M165 113h1M183 52h1M171 82h1M178 57h1M212 59h1M185 70h1M195 47h1M184 87h1M196 82h1M171 65h1M188 85h1M200 108h1M171 81h1M168 86h1M178 51h1M179 83h1M165 106h1M179 89h1M180 115h1M188 81h1M187 68h1M168 53h1M194 99h1M187 82h1M196 81h1M186 64h1M182 50h1M199 88h1M187 69h1M191 79h1M179 104h1M161 107h1M168 71h1M184 61h1M184 49h1M186 110h1M189 86h1M170 71h1M209 63h1M182 75h1M197 67h1M170 48h1M176 76h1M176 63h1M176 62h1M171 73h1M190 110h1M202 63h1M194 84h1M177 80h1M203 108h1M176 61h1M180 92h1M190 58h1M184 86h1M186 50h1M179 73h1M203 80h1M188 77h1M190 66h1M173 59h1M214 74h1M164 102h1M193 80h1M173 58h1M174 59h1M176 77h1M175 94h1M163 65h1M183 65h1M213 77h1M186 65h1M190 50h1M170 59h1M186 66h1M163 109h1M178 82h1M181 68h1M198 52h1M183 65h1M212 68h1M183 78h1M177 63h1M190 61h1M195 70h1M197 57h1M196 84h1M174 97h1M171 87h1M176 66h1M166 86h1M185 81h1M211 53h1M163 98h1M197 50h1M174 60h1M196 66h1M188 52h1M170 96h1M180 53h1M178 75h1M187 72h1M176 90h1M180 86h1M202 59h1M217 69h1M178 95h1M190 86h1M193 53h1M212 68h1M181 81h1M167 95h1M176 71h1M186 90h1M216 66h1M169 54h1M189 91h1M171 94h1M177 86h1M170 108h1M166 86h1M170 103h1M188 92h1M180 89h1M191 69h1M192 91h1M172 86h1M183 53h1M196 49h1M188 91h1M178 55h1M182 84h1M172 52h1M181 73h1M177 76h1M186 82h1M186 75h1M185 90h1M183 99h1M179 90h1M185 78h1M188 87h1M188 79h1M176 104h1M181 102h1M183 70h1M178 91h1M167 79h1M173 45h1M183 85h1M192 85h1M213 66h1M179 104h1M177 56h1M191 76h1M161 97h1M179 79h1M181 93h1M181 91h1M210 68h1M186 99h1M207 61h1M178 116h1M198 63h1M175 95h1M169 56h1M189 88h1M210 81h1M203 65h1M188 90h1M212 69h1M192 108h1M182 60h1M191 82h1M183 101h1M189 52h1M185 51h1M178 73h1M181 49h1M182 104h1M193 79h1M189 91h1M167 101h1M185 58h1M173 89h1M181 78h1M176 102h1M164 92h1M173 71h1M193 94h1M176 52h1M185 46h1M170 78h1M190 88h1M169 84h1M185 91h1M175 53h1M172 84h1M183 70h1M185 83h1M164 78h1M203 70h1M207 58h1M198 109h1M179 83h1M193 98h1M184 99h1M176 96h1M181 90h1M188 72h1M180 41h1M162 80h1M163 50h1M183 72h1M187 71h1M179 48h1M174 67h1M170 83h1M195 114h1M183 90h1M187 90h1M191 81h1M187 64h1M180 108h1M190 82h1M181 61h1M169 74h1M187 75h1M207 75h1M183 72h1M182 87h1M183 76h1M170 82h1M191 79h1M189 58h1M177 73h1M169 58h1M182 85h1M177 109h1M176 60h1M171 58h1M189 81h1M177 66h1M193 50h1M180 90h1M201 55h1M195 84h1M171 63h1M203 58h1M187 99h1M191 100h1M185 68h1M176 94h1M184 112h1M182 46h1M164 77h1M170 75h1M181 65h1M178 74h1M176 62h1M173 61h1M175 58h1M191 92h1M187 68h1M202 59h1M193 44h1M169 79h1M167 94h1M176 106h1M189 95h1M209 68h1M175 100h1M187 50h1M189 81h1M174 45h1M206 66h1M187 46h1M174 100h1M210 70h1M207 68h1M192 78h1M189 86h1M190 51h1M192 78h1M174 89h1M196 53h1M205 60h1M176 48h1M183 113h1M174 64h1M187 89h1M175 61h1M199 70h1M210 59h1M211 63h1M180 85h1M198 79h1M186 93h1M172 96h1M193 92h1M190 50h1M177 85h1M179 80h1M187 84h1M186 102h1M203 74h1M213 69h1M200 87h1M184 60h1M188 53h1M168 74h1M174 81h1M191 88h1M182 98h1M178 72h1M168 70h1M180 78h1M183 92h1M203 70h1M181 53h1M167 84h1M198 97h1M188 88h1M193 94h1M164 65h1M183 69h1M201 76h1M192 85h1" stroke="#000" stroke-width="1" stroke-opacity=".17" fill="none" transform="translate(0 .5)"/>
</g>
<line x1="196.4" y1="39.6" x2="196.4" y2="118" stroke="#ff5555" stroke-width="1.1"/>
<line x1="152.3" y1="72" x2="230.5" y2="72" stroke="#ff5555" stroke-width="1.1"/>
<rect x="152.3" y="39.6" width="78.2" height="78.4" fill="none" stroke="#6a8ad0" stroke-width="1.2"/>
<clipPath id="c3"><rect x="235.2" y="39.6" width="77.8" height="78.4"/></clipPath>
<g clip-path="url(#c3)">
<ellipse cx="268" cy="50" rx="10" ry="6" transform="rotate(-10 268 50)" fill="#000" fill-opacity="0.2" filter="url(#bl4)"/>
<ellipse cx="281" cy="57" rx="7" ry="5" transform="rotate(0 281 57)" fill="#000" fill-opacity="0.17" filter="url(#bl3)"/>
<ellipse cx="291.5" cy="63.1" rx="3" ry="2.6" transform="rotate(-30 291.5 63.1)" fill="#000" fill-opacity="0.95" filter="url(#bl1)"/>
<ellipse cx="289" cy="63" rx="6" ry="5" transform="rotate(-30 289 63)" fill="#000" fill-opacity="0.5" filter="url(#bl3)"/>
<ellipse cx="263" cy="84" rx="7" ry="9" transform="rotate(0 263 84)" fill="#000" fill-opacity="0.04" filter="url(#bl4)"/>
<path d="M270 44h1M272 61h1M291 66h1M278 43h1M279 60h1M263 50h1M260 52h1M296 65h1M292 58h1M261 80h1M251 67h1M277 53h1M295 67h1M266 55h1M266 101h1M275 59h1M274 54h1M249 50h1M269 61h1M289 56h1M279 57h1M293 68h1M274 50h1M274 60h1M279 62h1M263 44h1M267 89h1M290 58h1M263 44h1M276 56h1M268 49h1M263 106h1M259 43h1M270 69h1M274 49h1M260 51h1M279 59h1M266 57h1M252 57h1M254 55h1M270 56h1M291 64h1M263 44h1M289 53h1M294 60h1M283 57h1M265 45h1M288 61h1M275 58h1M310 62h1M289 55h1M252 58h1M263 80h1M253 64h1M264 82h1M249 46h1M288 56h1M289 71h1M285 58h1M286 43h1M285 72h1M249 85h1M273 59h1M266 79h1M269 93h1M261 46h1M284 61h1M256 70h1M261 59h1M295 64h1M254 51h1M288 66h1M264 45h1M274 92h1M253 93h1M274 41h1M290 66h1M264 42h1M293 68h1M295 66h1M283 56h1M278 44h1M290 66h1M272 60h1M268 47h1M274 45h1M272 58h1M267 59h1M264 53h1M265 53h1M293 60h1M285 60h1M254 54h1M295 70h1M273 61h1M267 89h1M260 60h1M270 50h1M285 46h1M251 53h1M290 54h1M277 47h1M275 46h1M254 46h1M302 62h1M293 71h1M268 65h1M288 61h1M243 50h1M262 50h1M279 66h1M277 59h1M266 45h1M261 71h1M286 62h1M257 79h1M278 53h1M290 60h1M297 63h1M288 62h1M250 49h1M261 47h1M251 57h1M278 58h1M267 64h1M273 59h1M278 56h1M276 64h1M256 44h1M278 50h1M290 47h1M259 46h1M299 65h1M289 60h1M283 67h1M280 64h1M268 57h1M281 63h1M271 56h1M296 60h1M274 60h1M275 99h1M285 50h1M265 41h1M270 58h1M264 53h1M293 51h1M288 55h1M260 55h1M283 61h1M277 60h1M290 62h1M258 82h1M288 66h1M262 53h1M289 63h1M271 90h1M289 63h1M274 90h1M289 43h1M268 76h1M274 55h1M280 61h1M275 41h1M253 59h1M269 59h1M269 49h1M291 42h1M279 42h1M259 50h1M279 92h1M291 60h1M289 63h1M258 50h1M300 60h1M266 61h1M252 98h1M273 45h1M249 94h1M258 45h1M267 54h1M262 87h1M266 71h1M242 49h1M271 62h1M267 87h1M273 64h1M265 54h1M267 77h1M289 61h1M272 46h1M268 51h1M264 82h1M277 57h1M290 58h1M279 51h1M272 61h1M251 56h1M278 55h1M280 58h1M288 74h1M272 52h1M273 42h1M279 57h1M250 59h1M256 53h1M279 73h1M288 59h1M276 52h1M274 57h1M250 59h1M267 57h1M280 55h1M285 67h1M264 50h1M259 87h1M275 53h1M258 83h1M295 60h1M263 53h1M288 68h1M280 48h1M259 49h1M284 60h1M286 63h1M297 67h1M272 59h1M272 70h1M260 75h1M275 81h1M276 73h1M264 60h1M288 57h1M277 49h1M256 83h1M251 58h1M244 55h1M291 68h1M284 61h1M292 52h1M291 42h1M252 50h1M286 66h1M275 48h1M302 59h1M268 70h1M268 46h1M294 63h1M276 55h1M266 49h1M292 59h1M282 54h1M273 85h1M289 61h1M295 62h1M289 69h1M285 51h1M258 64h1M272 54h1M280 66h1M265 77h1M249 71h1M292 62h1M273 91h1M266 92h1M265 88h1M260 71h1M268 48h1M275 52h1M279 67h1M289 59h1M287 57h1M291 65h1M274 46h1M257 62h1M256 50h1M296 96h1M287 46h1M269 57h1M266 55h1M279 45h1M261 41h1M270 72h1M286 69h1M294 66h1M263 96h1M271 60h1M271 97h1M279 60h1M277 60h1M268 65h1M261 73h1M267 42h1M269 72h1M261 46h1M269 64h1M273 103h1M279 56h1M253 53h1M275 46h1M267 51h1M289 61h1M272 54h1M283 53h1M291 70h1M244 47h1M289 63h1M275 51h1M258 51h1M282 60h1M285 53h1M263 97h1M264 52h1M284 61h1M257 74h1M276 42h1M269 56h1M273 54h1M269 80h1M271 71h1M292 53h1M254 47h1M277 45h1M268 43h1M261 49h1M287 59h1M267 52h1M258 55h1M292 63h1M263 44h1M249 52h1M294 59h1M272 44h1M263 95h1M271 68h1M274 50h1M262 65h1M297 51h1M288 63h1M257 98h1M288 66h1M286 69h1M258 94h1M263 73h1M267 83h1M283 69h1M258 49h1M276 50h1M246 79h1M283 54h1M280 42h1M283 60h1" stroke="#000" stroke-width="1" stroke-opacity=".17" fill="none" transform="translate(0 .5)"/>
<path d="M264 51h1M281 51h1M297 63h1M256 89h1M283 66h1M272 49h1M296 63h1M271 63h1M263 58h1M286 68h1M277 54h1M282 50h1M268 54h1M294 71h1M290 59h1M258 51h1M278 61h1M262 55h1M277 44h1M279 62h1M259 87h1M269 83h1M296 64h1M271 55h1M285 67h1M267 93h1M295 72h1M290 61h1M303 63h1M271 53h1M281 58h1M246 52h1M273 53h1M298 62h1M290 54h1M262 49h1M257 48h1M258 46h1M270 53h1M277 54h1M284 66h1M278 53h1M269 52h1M281 53h1M246 91h1M261 91h1M278 60h1M287 60h1M286 60h1M264 77h1M267 57h1M241 54h1M290 59h1M259 48h1M265 51h1M279 83h1M254 74h1M290 59h1M266 46h1M287 64h1M256 65h1M271 95h1M286 70h1M289 61h1M276 86h1M254 60h1M287 52h1M270 51h1M260 89h1M251 62h1M289 64h1M258 60h1M292 69h1M255 53h1M275 85h1M256 45h1M264 51h1M257 50h1M261 53h1M267 44h1M272 97h1M289 67h1M273 50h1M294 58h1M255 63h1M265 103h1M286 71h1M254 65h1M275 52h1M260 49h1M294 61h1M291 47h1M283 70h1M282 63h1M283 50h1M251 54h1M254 60h1M265 49h1M288 54h1M291 59h1M292 65h1M279 56h1M280 53h1M288 57h1M290 62h1M258 47h1M261 45h1M242 50h1M289 57h1M262 54h1M266 91h1M287 60h1M264 62h1M259 88h1M297 53h1M271 77h1M288 62h1M290 54h1M267 53h1M288 61h1M251 100h1M267 48h1M294 62h1M259 84h1M256 50h1M260 49h1M248 44h1M291 61h1M288 45h1M267 56h1M257 94h1M272 46h1M289 51h1M269 49h1M282 59h1M264 51h1M250 83h1M258 55h1M281 59h1M269 51h1M250 51h1M283 47h1M275 57h1M278 46h1M270 104h1M267 53h1M263 100h1M274 45h1M261 43h1M270 61h1M273 62h1M248 46h1M295 68h1M298 56h1M260 43h1M291 61h1M257 55h1M261 81h1M289 56h1M261 90h1M251 46h1M275 57h1M281 48h1M297 63h1M265 47h1M273 43h1M266 73h1M287 67h1M279 63h1M270 59h1M289 51h1M276 52h1M265 50h1M243 48h1M290 61h1M244 59h1M288 63h1M274 59h1M299 70h1M283 42h1M286 62h1M273 49h1M290 70h1M288 59h1M297 59h1M275 44h1M280 49h1M287 63h1M267 95h1M279 48h1M286 58h1M273 73h1M274 42h1M289 64h1M279 46h1M274 47h1M258 62h1M290 68h1M274 57h1M282 64h1M258 88h1M262 57h1M289 59h1M265 83h1M268 48h1M264 69h1M284 56h1M278 55h1M257 60h1M281 57h1M278 53h1M282 63h1M277 56h1M256 54h1M268 105h1M257 55h1M287 46h1M289 52h1M282 51h1M250 61h1M277 45h1M281 53h1M256 44h1M253 49h1M275 50h1M250 43h1M269 72h1M271 47h1M278 46h1M283 59h1M271 49h1M257 50h1M283 63h1M274 53h1M280 48h1M257 84h1M283 51h1M259 49h1M272 73h1M255 93h1M254 96h1M277 47h1M259 76h1M278 63h1M261 107h1M286 48h1M287 67h1M262 54h1M259 49h1M285 51h1M268 41h1M292 59h1M276 45h1M267 90h1M284 59h1M251 55h1M271 63h1M276 58h1M260 57h1M265 62h1M269 93h1M277 56h1M259 55h1M279 57h1M292 64h1M289 68h1M270 96h1M288 62h1M268 45h1M263 84h1M279 94h1M280 48h1M254 59h1M282 66h1M263 48h1M292 46h1M268 79h1M277 86h1M266 83h1M263 53h1M246 62h1M242 59h1M255 52h1M292 62h1M289 58h1M267 62h1M271 55h1M258 49h1M261 101h1M269 61h1M252 79h1M285 60h1M258 49h1M269 86h1M264 59h1M282 66h1M290 62h1M263 47h1M275 54h1M284 64h1M261 57h1M289 63h1M296 62h1M271 45h1M262 80h1M261 41h1M276 57h1M257 59h1M254 58h1M286 61h1M277 61h1M268 46h1M278 62h1M270 94h1M256 73h1M263 74h1M284 49h1M270 52h1M284 54h1M259 43h1M273 47h1M261 82h1M268 48h1M290 66h1M257 60h1M289 62h1M284 55h1M286 67h1M261 55h1M290 65h1M273 55h1M286 59h1M269 47h1M291 64h1M285 45h1M292 59h1M276 49h1M288 52h1M269 51h1M265 65h1M259 47h1M278 46h1M265 44h1M260 88h1M289 63h1M266 76h1M285 64h1M258 56h1M271 58h1M269 76h1M288 62h1M265 95h1" stroke="#000" stroke-width="1" stroke-opacity=".17" fill="none" transform="translate(0 .5)"/>
</g>
<line x1="277.5" y1="39.6" x2="277.5" y2="118" stroke="#ff5555" stroke-width="1.1"/>
<line x1="235.2" y1="72" x2="313" y2="72" stroke="#ff5555" stroke-width="1.1"/>
<rect x="235.2" y="39.6" width="77.8" height="78.4" fill="none" stroke="#6a8ad0" stroke-width="1.2"/>
<clipPath id="c4"><rect x="70" y="121.3" width="78.6" height="78"/></clipPath>
<g clip-path="url(#c4)">
<ellipse cx="106" cy="130" rx="6" ry="5" transform="rotate(-10 106 130)" fill="#000" fill-opacity="0.65" filter="url(#bl3)"/>
<ellipse cx="99" cy="137" rx="10" ry="9" transform="rotate(-20 99 137)" fill="#000" fill-opacity="0.25" filter="url(#bl4)"/>
<ellipse cx="127.9" cy="141" rx="4.3" ry="3.9" transform="rotate(0 127.9 141)" fill="#000" fill-opacity="0.98" filter="url(#bl1)"/>
<ellipse cx="126.5" cy="141" rx="7.5" ry="7" transform="rotate(0 126.5 141)" fill="#000" fill-opacity="0.6" filter="url(#bl3)"/>
<ellipse cx="104" cy="166" rx="7" ry="9" transform="rotate(0 104 166)" fill="#000" fill-opacity="0.06" filter="url(#bl4)"/>
<path d="M134 141h1M121 156h1M98 126h1M100 132h1M112 139h1M95 133h1M98 142h1M96 131h1M107 133h1M111 155h1M132 145h1M114 142h1M111 127h1M118 143h1M98 131h1M110 128h1M116 174h1M99 168h1M94 128h1M104 132h1M135 139h1M133 138h1M76 132h1M103 134h1M132 154h1M139 145h1M103 174h1M115 142h1M129 148h1M107 126h1M94 125h1M130 140h1M106 133h1M103 130h1M107 164h1M136 144h1M118 135h1M105 137h1M116 136h1M100 169h1M100 129h1M114 177h1M105 168h1M93 125h1M116 127h1M128 139h1M109 170h1M110 135h1M128 134h1M114 138h1M116 177h1M109 131h1M126 150h1M101 130h1M130 140h1M128 144h1M115 163h1M99 130h1M101 178h1M106 142h1M97 130h1M114 133h1M111 130h1M94 124h1M100 143h1M143 148h1M125 145h1M78 148h1M144 135h1M99 141h1M135 142h1M125 139h1M95 132h1M102 127h1M96 124h1M88 170h1M110 140h1M84 138h1M107 139h1M123 144h1M116 160h1M139 135h1M86 149h1M127 140h1M132 140h1M96 132h1M101 131h1M99 127h1M132 142h1M113 126h1M106 132h1M104 153h1M96 138h1M105 134h1M102 139h1M109 148h1M98 143h1M96 132h1M115 131h1M96 163h1M115 149h1M90 129h1M106 145h1M102 136h1M118 127h1M99 137h1M138 137h1M97 131h1M103 144h1M122 147h1M129 145h1M104 172h1M113 132h1M108 169h1M110 135h1M107 138h1M99 161h1M121 145h1M125 149h1M111 136h1M133 141h1M100 133h1M98 168h1M117 149h1M109 170h1M125 137h1M122 141h1M123 146h1M116 124h1M109 133h1M123 148h1M131 144h1M98 146h1M87 148h1M107 142h1M114 134h1M94 147h1M128 146h1M104 158h1M136 140h1M131 132h1M109 175h1M92 126h1M93 177h1M124 135h1M101 136h1M108 133h1M120 140h1M92 128h1M91 132h1M119 168h1M134 126h1M97 137h1M131 149h1M110 136h1M110 159h1M134 145h1M123 147h1M86 138h1M118 148h1M138 148h1M98 138h1M98 172h1M100 158h1M134 142h1M109 137h1M141 140h1M115 142h1M105 155h1M110 128h1M95 145h1M131 138h1M105 134h1M109 132h1M132 128h1M106 146h1M131 140h1M101 133h1M99 158h1M93 134h1M111 132h1M121 144h1M134 141h1M128 143h1M119 124h1M136 131h1M89 152h1M103 132h1M105 136h1M135 145h1M89 151h1M128 154h1M121 147h1M92 134h1M130 146h1M126 142h1M123 143h1M133 128h1M130 149h1M127 143h1M106 131h1M122 143h1M105 174h1M113 127h1M111 137h1M108 132h1M116 127h1M129 141h1M111 132h1M99 126h1M79 143h1M104 142h1M114 143h1M92 130h1M97 128h1M108 129h1M118 144h1M113 144h1M98 133h1M109 127h1M113 123h1M113 123h1M81 140h1M99 157h1M97 131h1M120 147h1M94 134h1M112 127h1M109 129h1M98 169h1M117 135h1M120 130h1M110 175h1M113 144h1M103 128h1M109 132h1M118 141h1M91 127h1M114 135h1M98 165h1M111 160h1M93 161h1M138 130h1M112 145h1M91 130h1M91 136h1M116 133h1M107 177h1M110 126h1M129 146h1M111 129h1M111 134h1M115 138h1M105 133h1M111 142h1M106 132h1M132 150h1M96 187h1M136 148h1M101 127h1M131 144h1M102 128h1M92 164h1M131 141h1M93 171h1M105 126h1M105 134h1M94 141h1M101 140h1M109 141h1M98 136h1M106 133h1M106 151h1M132 137h1M121 135h1M111 165h1M97 151h1M114 126h1M122 134h1M102 126h1M109 151h1M111 131h1M105 169h1M93 152h1M101 132h1M140 148h1M94 167h1M75 146h1M94 132h1M132 139h1M91 132h1M120 144h1M98 143h1M101 179h1M105 149h1M97 166h1M127 140h1M114 138h1M102 140h1M115 132h1M112 123h1M122 142h1M100 133h1M120 157h1M110 168h1M101 123h1M95 135h1M115 135h1M137 137h1M96 134h1M96 123h1M107 139h1M102 170h1M135 138h1M87 142h1M104 134h1M100 131h1M106 144h1M105 168h1M92 146h1M111 128h1M114 131h1M90 141h1M78 135h1M109 173h1M106 138h1M98 139h1M135 141h1M140 132h1M136 143h1M107 150h1M100 151h1M103 129h1M100 128h1M122 135h1M97 168h1M115 140h1M100 179h1M91 126h1M133 140h1M93 126h1M125 148h1M120 145h1M98 133h1M92 134h1M98 130h1M117 129h1M123 138h1M144 144h1M129 146h1M134 141h1M135 151h1M117 127h1M91 148h1M98 124h1M102 159h1M98 132h1M104 122h1M104 128h1M103 128h1M129 144h1M93 134h1M118 138h1M97 182h1M113 143h1M100 132h1M96 159h1M102 130h1M120 170h1M130 149h1M106 127h1M106 132h1M92 131h1M97 153h1M81 141h1M122 140h1M114 146h1M94 132h1M100 122h1M89 139h1M135 128h1M104 166h1M76 140h1M110 141h1M109 132h1M89 148h1M97 145h1M146 140h1M107 124h1M99 167h1M97 131h1M113 127h1M96 138h1M144 137h1M82 137h1M118 138h1M98 150h1M95 144h1M89 147h1M145 143h1M98 149h1M135 152h1M103 127h1M105 130h1M100 158h1M101 173h1M131 143h1M111 132h1M91 163h1M99 133h1M108 126h1M113 125h1M94 137h1M104 148h1M95 167h1M97 128h1M85 138h1M135 148h1M126 150h1M123 145h1M113 148h1M104 142h1M103 126h1M94 142h1M127 145h1M102 128h1M104 145h1M109 137h1M105 126h1M88 126h1M108 170h1M121 130h1M112 124h1M118 177h1M104 142h1M111 135h1M99 140h1M104 147h1M112 168h1M102 155h1M113 170h1M89 131h1M103 173h1M76 134h1M122 133h1M108 144h1M136 150h1M93 138h1M118 141h1M97 134h1M117 131h1M96 139h1M99 143h1M116 128h1M96 135h1M102 154h1M103 132h1M84 132h1M105 164h1M106 134h1M129 137h1M105 124h1M94 165h1M106 123h1M109 141h1M134 140h1M133 148h1M116 132h1M91 133h1M124 143h1M119 132h1M143 132h1M123 146h1M99 139h1M107 144h1M94 134h1M131 135h1M117 147h1M98 144h1M92 129h1M127 147h1M103 126h1M96 130h1M118 151h1M100 140h1M100 135h1M121 141h1M84 136h1M126 136h1M98 147h1M140 139h1M135 147h1M130 144h1M101 139h1M96 136h1M109 145h1M96 129h1M105 137h1M111 133h1M104 129h1M108 129h1M122 144h1M102 134h1M105 131h1M111 180h1M110 126h1M101 133h1M135 141h1M108 180h1M124 146h1M116 135h1M102 142h1M111 158h1M125 140h1M103 149h1M102 148h1M86 127h1M90 152h1M86 148h1M99 175h1M104 168h1M126 156h1M88 166h1M130 144h1M103 146h1M99 132h1M121 137h1M105 131h1M89 143h1M133 147h1M112 149h1M117 135h1M127 129h1M134 149h1M130 143h1M108 151h1M108 130h1M101 132h1M114 133h1M90 136h1M95 163h1M128 139h1M110 130h1M131 136h1M103 132h1M105 126h1M100 128h1M96 127h1M111 161h1M110 126h1M98 138h1M123 133h1M118 151h1M103 124h1M87 145h1" stroke="#000" stroke-width="1" stroke-opacity=".17" fill="none" transform="translate(0 .5)"/>
<path d="M102 125h1M101 178h1M119 145h1M101 159h1M127 140h1M130 148h1M93 132h1M125 147h1M93 162h1M102 140h1M123 136h1M129 133h1M138 152h1M112 128h1M102 170h1M111 172h1M118 141h1M97 166h1M96 180h1M113 133h1M110 163h1M110 171h1M128 148h1M109 138h1M116 183h1M117 134h1M126 138h1M136 138h1M127 136h1M133 141h1M110 136h1M130 143h1M86 129h1M104 135h1M121 138h1M112 165h1M99 128h1M130 143h1M104 146h1M132 142h1M108 168h1M126 138h1M110 126h1M101 178h1M103 170h1M146 139h1M101 173h1M100 150h1M120 151h1M92 139h1M110 149h1M126 148h1M103 166h1M108 172h1M109 179h1M105 123h1M101 152h1M113 129h1M107 141h1M101 129h1M141 145h1M113 146h1M107 177h1M97 137h1M122 129h1M111 163h1M110 130h1M107 143h1M107 154h1M100 130h1M97 159h1M120 139h1M90 138h1M129 140h1M99 146h1M112 131h1M103 150h1M105 165h1M93 142h1M87 128h1M108 137h1M102 142h1M101 138h1M102 136h1M93 164h1M143 148h1M103 138h1M111 129h1M102 171h1M92 139h1M123 126h1M118 146h1M94 141h1M96 134h1M98 132h1M111 128h1M117 127h1M109 123h1M93 168h1M105 135h1M102 130h1M91 126h1M113 129h1M112 159h1M102 159h1M90 135h1M113 144h1M110 138h1M97 128h1M92 154h1M89 138h1M94 125h1M132 140h1M127 142h1M118 134h1M124 138h1M126 133h1M98 158h1M87 140h1M128 139h1M109 141h1M131 132h1M121 140h1M136 138h1M99 145h1M129 148h1M101 132h1M130 137h1M119 131h1M112 137h1M123 147h1M135 133h1M96 142h1M102 132h1M94 129h1M93 176h1M108 124h1M107 175h1M132 144h1M125 138h1M130 134h1M100 132h1M99 131h1M134 150h1M109 170h1M121 143h1M123 135h1M127 141h1M98 136h1M108 155h1M115 129h1M129 140h1M112 132h1M112 123h1M109 155h1M121 134h1M113 130h1M95 123h1M142 140h1M99 123h1M81 142h1M105 172h1M99 140h1M88 135h1M109 125h1M103 134h1M102 130h1M133 148h1M90 167h1M125 141h1M84 139h1M102 131h1M94 138h1M92 130h1M87 144h1M87 144h1M109 137h1M102 127h1M117 131h1M110 147h1M101 129h1M126 138h1M111 137h1M111 131h1M120 137h1M87 139h1M93 156h1M96 166h1M114 134h1M95 128h1M120 140h1M106 137h1M96 159h1M118 151h1M99 156h1M82 124h1M122 128h1M99 132h1M83 129h1M99 140h1M128 136h1M103 132h1M97 127h1M129 130h1M109 149h1M127 142h1M96 127h1M92 134h1M107 135h1M132 139h1M107 126h1M104 164h1M115 139h1M113 170h1M98 133h1M124 125h1M126 145h1M111 162h1M106 170h1M97 138h1M105 132h1M97 137h1M111 139h1M92 150h1M97 139h1M112 167h1M103 160h1M126 141h1M106 161h1M98 154h1M125 147h1M103 137h1M115 143h1M89 165h1M132 140h1M105 131h1M104 133h1M95 125h1M91 135h1M118 130h1M137 139h1M133 139h1M118 134h1M93 138h1M124 151h1M99 133h1M90 149h1M95 136h1M106 147h1M104 137h1M100 167h1M130 157h1M101 131h1M143 135h1M109 173h1M121 138h1M122 129h1M103 138h1M88 136h1M105 133h1M130 135h1M113 146h1M116 154h1M124 137h1M94 136h1M98 128h1M108 131h1M137 141h1M106 131h1M120 148h1M113 126h1M102 141h1M111 173h1M98 164h1M106 139h1M119 134h1M104 136h1M100 133h1M78 136h1M104 132h1M93 126h1M93 131h1M131 142h1M89 136h1M99 153h1M114 124h1M104 131h1M126 143h1M134 139h1M111 179h1M129 153h1M93 139h1M111 135h1M99 135h1M121 143h1M110 155h1M95 145h1M101 138h1M122 168h1M122 143h1M133 144h1M125 140h1M105 184h1M113 152h1M79 140h1M105 132h1M99 147h1M117 131h1M95 149h1M88 126h1M102 153h1M101 136h1M122 149h1M108 127h1M124 136h1M102 126h1M106 130h1M89 131h1M139 155h1M106 130h1M139 140h1M117 140h1M111 133h1M95 136h1M99 147h1M118 146h1M102 128h1M105 138h1M106 128h1M125 158h1M104 162h1M92 169h1M139 149h1M104 170h1M132 154h1M127 135h1M109 148h1M108 126h1M108 166h1M92 134h1M88 135h1M112 129h1M141 147h1M82 130h1M120 126h1M130 143h1M109 148h1M98 137h1M133 141h1M93 126h1M102 165h1M97 126h1M115 137h1M124 134h1M108 160h1M99 146h1M98 130h1M114 129h1M91 141h1M106 136h1M92 171h1M108 130h1M99 141h1M103 169h1M99 123h1M96 131h1M125 149h1M110 139h1M107 127h1M106 136h1M99 147h1M118 140h1M132 136h1M111 125h1M135 133h1M105 129h1M116 137h1M104 123h1M88 130h1M97 145h1M110 132h1M108 132h1M111 144h1M97 157h1M117 151h1M94 142h1M139 147h1M127 147h1M120 162h1M111 175h1M94 147h1M119 137h1M98 142h1M106 129h1M125 137h1M106 139h1M106 134h1M74 132h1M106 133h1M94 134h1M105 139h1M123 141h1M99 133h1M126 139h1M117 137h1M120 138h1M101 129h1M107 129h1M90 135h1M94 136h1M105 158h1M126 133h1M96 172h1M96 132h1M104 127h1M129 134h1M121 136h1M101 149h1M95 177h1M96 164h1M117 165h1M105 139h1M84 138h1M94 135h1M125 142h1M116 128h1M111 137h1M128 146h1M115 156h1M109 128h1M121 138h1M125 146h1M107 137h1M132 136h1M113 183h1M121 141h1M103 180h1M100 135h1M93 130h1M103 133h1M124 139h1M130 134h1M132 140h1M99 141h1M115 140h1M105 164h1M110 157h1M93 137h1M107 152h1M95 131h1M94 145h1M116 133h1M128 137h1M90 155h1M93 165h1M109 133h1M85 140h1M105 147h1M96 129h1M128 136h1M116 181h1M95 156h1M118 159h1M106 141h1M112 134h1M95 182h1M114 125h1M96 133h1M119 131h1M78 145h1M109 187h1M102 134h1M89 143h1M78 140h1M89 146h1M103 131h1M142 145h1M99 148h1M108 126h1M102 138h1M105 147h1M95 128h1M100 137h1M111 172h1M84 137h1M112 161h1M116 128h1M99 124h1M91 146h1M123 124h1M126 150h1M83 147h1M86 142h1M105 128h1M122 134h1M109 186h1M93 127h1M101 133h1M103 176h1M110 130h1M95 137h1M102 126h1M104 150h1M127 142h1M128 148h1M114 141h1M107 158h1M140 145h1M108 132h1M128 151h1M106 156h1M136 136h1M90 129h1M106 135h1M101 156h1M103 140h1M130 139h1M129 146h1M99 148h1M133 145h1M105 133h1M131 140h1M82 144h1M111 126h1M112 133h1M110 130h1M107 130h1M120 151h1M112 165h1M108 165h1M111 137h1M116 152h1M111 135h1M119 143h1M121 125h1M89 126h1M129 140h1M105 144h1M98 150h1M101 130h1M115 129h1M127 142h1M108 134h1M106 142h1M125 141h1M102 174h1M120 135h1M134 134h1M100 131h1M134 137h1M136 145h1M118 134h1M109 126h1M133 145h1M110 136h1" stroke="#000" stroke-width="1" stroke-opacity=".17" fill="none" transform="translate(0 .5)"/>
</g>
<line x1="113.5" y1="121.3" x2="113.5" y2="199.3" stroke="#ff5555" stroke-width="1.1"/>
<line x1="70" y1="154.3" x2="148.6" y2="154.3" stroke="#ff5555" stroke-width="1.1"/>
<rect x="70" y="121.3" width="78.6" height="78" fill="none" stroke="#6a8ad0" stroke-width="1.2"/>
<clipPath id="c5"><rect x="152.3" y="121.3" width="78.2" height="78"/></clipPath>
<g clip-path="url(#c5)">
<ellipse cx="185.7" cy="140" rx="4.5" ry="11" transform="rotate(0 185.7 140)" fill="#000" fill-opacity="0.75" filter="url(#bl3)"/>
<ellipse cx="186" cy="133" rx="3.5" ry="5" transform="rotate(0 186 133)" fill="#000" fill-opacity="0.6" filter="url(#bl2)"/>
<ellipse cx="185" cy="160" rx="6" ry="10" transform="rotate(0 185 160)" fill="#000" fill-opacity="0.4" filter="url(#bl3)"/>
<ellipse cx="182" cy="160" rx="9" ry="18" transform="rotate(0 182 160)" fill="#000" fill-opacity="0.22" filter="url(#bl4)"/>
<ellipse cx="208.2" cy="144.5" rx="3.4" ry="4.8" transform="rotate(0 208.2 144.5)" fill="#000" fill-opacity="0.98" filter="url(#bl1)"/>
<ellipse cx="207.5" cy="148" rx="4.5" ry="7" transform="rotate(0 207.5 148)" fill="#000" fill-opacity="0.5" filter="url(#bl2)"/>
<path d="M208 149h1M178 157h1M184 160h1M199 165h1M186 131h1M186 135h1M177 182h1M198 156h1M185 135h1M184 165h1M163 162h1M168 162h1M175 146h1M189 149h1M167 152h1M178 152h1M166 177h1M196 187h1M196 160h1M190 152h1M161 173h1M195 136h1M184 142h1M179 148h1M176 134h1M179 138h1M201 140h1M187 153h1M185 162h1M185 152h1M180 172h1M218 148h1M172 198h1M190 169h1M162 136h1M204 161h1M182 166h1M189 126h1M195 184h1M188 151h1M164 183h1M159 178h1M192 140h1M187 164h1M176 151h1M175 182h1M189 153h1M187 168h1M182 154h1M182 152h1M182 168h1M204 132h1M188 151h1M175 139h1M186 144h1M192 158h1M208 139h1M179 172h1M187 128h1M185 169h1M186 147h1M169 132h1M180 146h1M181 148h1M172 138h1M161 156h1M185 153h1M186 133h1M182 140h1M178 141h1M185 144h1M182 173h1M180 143h1M184 149h1M181 126h1M188 159h1M188 172h1M185 143h1M186 182h1M169 172h1M192 143h1M160 176h1M207 140h1M161 158h1M165 154h1M183 133h1M183 166h1M209 140h1M193 129h1M170 144h1M192 159h1M185 154h1M190 153h1M182 183h1M191 158h1M192 129h1M186 125h1M184 152h1M182 123h1M174 144h1M174 170h1M182 165h1M179 135h1M180 135h1M169 144h1M207 137h1M175 154h1M209 137h1M179 132h1M177 140h1M204 139h1M186 177h1M186 147h1M176 172h1M185 154h1M182 163h1M183 162h1M190 127h1M187 162h1M190 182h1M213 143h1M197 149h1M185 123h1M179 154h1M191 131h1M185 126h1M203 147h1M177 166h1M189 141h1M206 157h1M179 150h1M188 153h1M188 126h1M190 135h1M198 156h1M183 135h1M197 161h1M211 144h1M177 171h1M210 150h1M188 147h1M179 171h1M165 151h1M184 136h1M176 131h1M188 176h1M172 157h1M165 161h1M185 173h1M187 150h1M183 158h1M197 163h1M181 158h1M179 159h1M212 151h1M201 146h1M203 143h1M174 173h1M189 126h1M184 134h1M196 160h1M170 192h1M187 133h1M185 150h1M175 138h1M188 165h1M166 148h1M210 149h1M212 154h1M173 143h1M174 151h1M175 132h1M191 126h1M193 141h1M183 159h1M191 151h1M182 174h1M180 146h1M177 150h1M173 129h1M166 159h1M186 177h1M196 195h1M182 151h1M164 164h1M181 147h1M180 182h1M207 135h1M186 145h1M176 141h1M184 138h1M193 132h1M188 147h1M191 165h1M196 174h1M175 168h1M166 135h1M183 154h1M187 149h1M185 165h1M189 159h1M188 144h1M194 159h1M189 166h1M174 132h1M197 150h1M205 149h1M191 154h1M187 133h1M182 165h1M197 157h1M157 165h1M193 174h1M186 130h1M190 127h1M173 179h1M198 184h1M170 172h1M183 135h1M213 153h1M172 151h1M161 135h1M173 158h1M188 177h1M186 148h1M199 158h1M180 159h1M190 152h1M176 163h1M195 167h1M191 189h1M205 152h1M177 150h1M197 130h1M190 131h1M186 143h1M191 135h1M184 144h1M176 145h1M188 131h1M187 154h1M176 146h1M175 141h1M196 175h1M197 152h1M179 177h1M211 148h1M178 156h1M183 159h1M170 132h1M179 169h1M190 138h1M183 133h1M170 146h1M182 161h1M187 155h1M186 148h1M182 149h1M155 131h1M185 140h1M190 145h1M191 176h1M190 168h1M174 157h1M175 141h1M183 136h1M196 181h1M186 150h1M206 142h1M185 181h1M184 138h1M182 153h1M179 133h1M185 149h1M191 151h1M175 179h1M165 159h1M193 149h1M195 159h1M185 143h1M188 123h1M173 151h1M183 147h1M191 151h1M183 134h1M179 132h1M192 156h1M171 154h1M167 171h1M189 147h1M156 171h1M187 144h1M191 159h1M175 175h1M193 149h1M199 144h1M193 162h1M179 169h1M165 168h1M174 151h1M188 142h1M176 174h1M193 149h1M184 157h1M191 143h1M211 135h1M189 143h1M178 178h1M168 175h1M185 142h1M212 137h1M204 138h1M184 153h1M198 150h1M186 157h1M179 172h1M202 144h1M173 139h1M179 140h1M179 169h1M173 189h1M193 194h1M172 135h1M175 157h1M179 144h1M207 142h1M186 149h1M187 153h1M179 182h1M179 124h1M194 153h1M179 165h1M180 146h1M168 150h1M171 166h1M187 145h1M173 140h1M195 155h1M181 148h1M199 162h1M192 163h1M181 167h1M187 158h1M190 129h1M158 168h1M196 131h1M180 133h1M186 125h1M183 154h1M182 128h1M193 138h1M197 143h1M177 149h1M193 158h1M179 137h1M196 167h1M188 157h1M186 167h1M193 157h1M166 161h1M209 153h1M196 140h1M195 177h1M184 135h1M200 129h1M182 152h1M163 150h1M175 154h1M172 154h1M195 191h1M204 159h1M179 137h1M186 191h1M161 146h1M204 145h1M169 182h1M210 148h1M188 137h1M182 190h1M191 149h1M166 126h1M190 174h1M177 148h1M180 159h1M177 171h1M172 178h1M175 152h1M193 123h1M186 134h1M189 124h1M198 138h1M184 135h1M178 146h1M181 134h1M202 144h1M171 169h1M187 137h1M182 178h1M186 149h1M185 140h1M181 160h1M188 136h1M191 143h1M178 136h1M191 142h1M171 137h1M191 145h1M191 147h1M212 151h1M184 139h1M183 139h1M174 142h1M186 153h1M162 160h1M184 159h1M192 143h1M191 139h1M190 138h1M183 190h1M190 129h1M189 130h1M169 183h1M174 136h1M168 146h1M184 143h1M182 149h1M194 164h1M178 135h1M203 137h1M180 147h1M180 141h1M204 139h1M180 157h1M186 180h1M183 159h1M183 139h1M199 147h1M179 125h1M168 174h1M193 180h1M186 151h1M185 133h1M189 167h1M184 127h1M212 147h1M208 141h1M182 171h1M180 123h1M183 149h1M207 155h1M173 155h1M186 163h1M189 158h1M174 151h1M178 152h1M167 168h1M191 125h1M190 157h1M176 130h1M174 174h1M178 161h1M180 136h1M193 125h1M199 145h1M188 150h1M187 128h1M185 131h1M173 130h1M182 123h1M172 179h1M210 146h1M189 135h1M200 160h1M189 155h1M173 172h1M184 174h1M174 142h1M189 150h1M205 150h1M174 161h1M202 135h1M191 173h1M191 139h1M186 130h1M207 145h1M191 174h1M183 168h1M186 169h1M207 138h1M168 150h1M203 145h1M188 186h1M171 150h1M175 172h1M187 127h1M179 169h1M183 150h1M187 147h1M212 125h1M189 136h1M187 149h1M178 150h1M212 144h1M181 170h1M186 130h1M181 161h1M185 133h1M185 168h1M198 189h1M172 166h1M200 156h1M186 152h1M192 144h1M177 189h1M172 126h1M167 156h1M186 127h1M180 137h1M207 144h1M177 134h1M193 164h1M190 134h1M193 164h1M183 173h1M193 132h1M184 160h1M207 139h1M184 146h1M194 159h1M181 136h1M183 132h1M179 146h1M174 147h1M170 172h1M187 145h1M186 151h1M210 144h1M185 135h1M172 133h1M180 185h1M204 155h1M189 134h1M181 152h1M198 175h1M177 162h1M183 180h1M186 137h1M165 155h1M186 137h1M200 146h1M186 169h1M166 136h1M178 188h1M183 190h1M188 166h1M170 165h1M184 178h1M182 181h1M191 152h1M187 173h1M193 137h1M182 191h1M182 149h1M160 176h1M182 161h1M186 143h1M187 148h1M171 147h1M207 150h1M195 133h1M178 159h1M170 166h1M188 159h1M192 163h1M186 136h1M181 159h1M184 143h1M187 179h1M184 149h1M184 137h1M193 161h1M177 195h1M180 135h1M182 171h1M189 175h1M168 158h1M192 162h1M190 149h1M188 131h1M181 167h1M192 148h1M188 125h1M179 147h1M180 130h1M169 176h1M171 153h1M193 178h1M195 169h1M179 133h1M196 172h1M183 151h1M193 140h1M180 174h1M180 124h1M179 156h1M183 193h1M187 145h1M156 153h1M178 189h1M187 151h1M186 160h1M175 174h1M189 132h1M177 137h1M188 142h1M183 150h1M185 144h1M179 146h1M184 147h1M184 130h1M173 175h1M196 166h1M185 157h1M182 154h1M161 162h1M186 186h1M171 168h1M182 167h1M180 131h1M175 168h1M190 157h1M176 150h1M191 123h1M181 153h1M175 147h1M179 128h1M177 155h1M164 163h1M193 161h1M166 143h1M190 128h1M163 170h1M164 152h1M194 147h1M178 135h1M188 177h1M187 181h1M188 170h1M188 166h1M212 143h1M177 156h1M206 151h1M187 174h1M209 149h1M196 166h1M179 169h1M179 134h1M168 149h1M182 155h1M170 171h1M183 129h1M188 166h1M206 157h1M183 169h1M168 161h1M172 184h1M174 164h1M185 147h1M199 148h1M203 148h1M165 165h1M188 154h1M177 178h1M181 182h1M193 142h1M192 167h1M182 149h1M188 141h1M174 146h1M186 174h1M180 165h1M184 136h1M182 147h1M203 134h1M180 158h1M208 144h1M186 148h1M188 161h1M175 130h1M180 140h1M208 147h1M184 140h1M187 126h1M183 144h1M204 149h1M175 141h1M182 174h1M210 148h1M182 127h1M197 149h1M191 161h1M211 151h1M188 146h1M170 162h1M215 142h1M185 160h1M192 135h1M191 153h1M186 129h1M204 154h1M194 127h1M184 144h1M184 171h1M187 130h1M176 172h1M176 170h1M186 168h1M187 155h1M186 137h1M194 156h1M177 147h1M189 137h1M186 130h1M178 159h1M192 132h1M192 127h1M193 165h1M198 161h1M181 152h1M166 166h1M190 164h1M189 155h1M186 148h1M189 129h1M174 149h1M188 125h1M186 146h1M207 158h1M167 163h1M169 160h1M184 164h1M177 154h1M168 179h1M189 152h1M178 139h1M184 133h1M186 181h1M176 157h1M192 174h1M177 156h1M168 168h1M179 141h1M182 158h1M185 169h1M182 139h1M183 136h1M212 151h1M171 165h1M168 167h1M182 139h1M196 145h1M187 144h1M174 185h1M184 151h1M190 162h1M178 157h1M186 138h1M161 144h1M169 143h1M179 132h1M189 126h1M181 158h1M189 151h1M191 136h1M183 132h1M180 177h1M176 165h1M216 150h1M172 138h1M182 161h1M196 142h1M181 156h1M192 197h1M180 142h1M172 193h1M194 168h1M185 139h1M192 131h1M185 166h1M186 138h1M191 159h1M185 131h1M204 149h1M178 143h1M192 135h1M196 149h1M180 142h1M177 141h1M169 162h1M168 186h1M187 132h1M193 158h1M211 140h1M188 130h1M177 122h1M179 177h1M181 167h1M185 140h1M173 167h1M175 153h1M214 151h1M177 145h1M183 155h1M202 174h1M177 152h1M184 149h1M173 158h1M181 156h1M174 162h1M185 142h1M197 153h1M186 137h1M158 148h1M183 150h1M167 183h1M190 155h1M187 131h1M187 146h1M190 131h1M182 177h1M179 146h1M173 179h1M181 141h1M189 164h1M183 150h1M172 137h1M189 159h1M181 178h1M174 159h1M183 125h1M185 139h1M181 139h1M193 149h1M180 147h1M191 135h1M210 142h1M181 154h1M183 140h1M191 145h1M165 133h1M176 162h1M172 142h1M186 164h1M209 138h1M165 156h1M195 160h1M166 158h1M193 179h1M180 169h1M186 131h1M177 140h1M180 174h1M172 136h1M177 158h1M200 171h1M190 132h1M178 141h1M212 149h1M187 164h1M173 139h1" stroke="#000" stroke-width="1" stroke-opacity=".17" fill="none" transform="translate(0 .5)"/>
<path d="M160 136h1M166 160h1M188 141h1M167 182h1M187 141h1M181 170h1M192 163h1M159 169h1M181 139h1M212 150h1M196 156h1M184 158h1M189 127h1M182 155h1M180 148h1M191 132h1M179 154h1M186 161h1M192 181h1M182 171h1M190 150h1M205 139h1M188 182h1M179 145h1M192 168h1M191 156h1M187 148h1M180 162h1M191 137h1M191 129h1M183 150h1M207 149h1M183 128h1M204 144h1M176 132h1M188 165h1M174 132h1M171 137h1M209 138h1M189 142h1M175 138h1M189 125h1M185 144h1M169 179h1M188 132h1M167 136h1M182 184h1M205 164h1M186 162h1M185 163h1M156 154h1M207 139h1M186 131h1M186 134h1M178 129h1M191 131h1M180 129h1M182 140h1M188 145h1M205 145h1M184 142h1M186 129h1M182 174h1M201 145h1M188 148h1M185 174h1M182 160h1M187 193h1M178 130h1M175 169h1M184 178h1M185 163h1M179 155h1M183 175h1M182 160h1M200 155h1M181 163h1M180 138h1M186 139h1M172 149h1M187 139h1M200 143h1M183 163h1M179 137h1M199 144h1M197 132h1M176 126h1M187 171h1M182 139h1M176 152h1M195 157h1M184 127h1M212 146h1M189 149h1M207 152h1M194 155h1M172 166h1M185 137h1M198 153h1M185 153h1M187 170h1M187 158h1M189 176h1M182 143h1M192 155h1M200 147h1M200 163h1M176 165h1M185 163h1M214 158h1M183 131h1M184 134h1M210 146h1M186 141h1M207 141h1M198 182h1M182 154h1M210 149h1M182 144h1M174 143h1M171 160h1M186 140h1M196 165h1M215 158h1M175 158h1M184 143h1M181 137h1M213 151h1M179 140h1M159 164h1M181 142h1M167 177h1M174 189h1M186 138h1M173 153h1M184 165h1M192 144h1M181 154h1M179 167h1M192 156h1M187 151h1M190 145h1M198 187h1M190 157h1M174 180h1M180 135h1M172 156h1M157 167h1M191 142h1M191 139h1M186 163h1M183 162h1M186 184h1M202 146h1M187 151h1M186 195h1M182 171h1M184 128h1M208 161h1M191 167h1M169 179h1M188 137h1M191 150h1M186 143h1M214 147h1M175 169h1M159 135h1M167 158h1M187 132h1M157 142h1M176 127h1M183 143h1M187 130h1M182 141h1M192 139h1M211 137h1M162 175h1M187 137h1M208 144h1M184 153h1M187 160h1M189 161h1M185 165h1M187 142h1M188 152h1M180 133h1M179 140h1M186 142h1M160 172h1M183 165h1M194 142h1M183 156h1M187 130h1M179 169h1M165 159h1M179 130h1M182 171h1M184 141h1M186 149h1M188 157h1M192 161h1M177 138h1M185 136h1M177 169h1M165 142h1M197 156h1M164 158h1M178 157h1M191 145h1M182 156h1M185 150h1M201 160h1M187 156h1M177 164h1M183 130h1M183 160h1M181 143h1M177 148h1M178 169h1M189 157h1M172 138h1M189 135h1M199 192h1M181 150h1M186 176h1M182 125h1M177 124h1M197 142h1M194 151h1M186 132h1M182 129h1M169 171h1M182 178h1M185 134h1M184 190h1M195 197h1M177 149h1M185 133h1M183 181h1M187 140h1M181 153h1M171 178h1M186 149h1M205 136h1M181 157h1M185 168h1M185 147h1M178 130h1M176 164h1M173 147h1M182 135h1M195 145h1M193 165h1M190 162h1M185 134h1M193 136h1M190 148h1M186 153h1M163 139h1M184 161h1M191 154h1M212 151h1M183 137h1M174 182h1M200 151h1M210 131h1M176 155h1M177 139h1M179 193h1M184 161h1M192 131h1M192 160h1M190 127h1M181 161h1M188 146h1M182 132h1M190 149h1M183 139h1M174 163h1M181 137h1M174 160h1M181 171h1M178 140h1M159 167h1M170 128h1M192 167h1M177 156h1M179 149h1M185 161h1M177 132h1M174 135h1M186 157h1M176 153h1M178 160h1M187 148h1M184 156h1M175 155h1M178 175h1M182 130h1M187 164h1M190 134h1M177 153h1M176 163h1M183 139h1M180 130h1M184 189h1M185 151h1M208 144h1M182 152h1M175 184h1M211 144h1M188 171h1M184 135h1M197 154h1M176 147h1M186 125h1M192 131h1M199 157h1M184 148h1M191 137h1M181 162h1M174 149h1M178 180h1M192 152h1M179 138h1M186 165h1M189 153h1M196 171h1M181 166h1M194 154h1M189 142h1M200 135h1M175 163h1M185 142h1M174 176h1M170 124h1M206 143h1M179 163h1M189 160h1M189 133h1M186 163h1M193 169h1M186 171h1M184 140h1M186 147h1M187 150h1M164 142h1M195 174h1M191 146h1M187 152h1M166 139h1M193 133h1M179 133h1M171 158h1M189 164h1M159 141h1M186 132h1M181 165h1M182 131h1M201 176h1M213 148h1M182 135h1M169 178h1M211 147h1M197 172h1M204 169h1M188 166h1M186 140h1M188 178h1M180 145h1M184 162h1M182 161h1M185 160h1M187 164h1M213 163h1M209 144h1M187 153h1M209 143h1M192 147h1M182 155h1M182 129h1M167 128h1M188 171h1M184 162h1M184 136h1M191 127h1M210 148h1M169 167h1M183 130h1M160 156h1M206 162h1M158 150h1M187 153h1M178 170h1M189 160h1M184 174h1M187 141h1M183 147h1M185 149h1M190 152h1M187 171h1M175 162h1M185 156h1M183 152h1M194 151h1M186 130h1M185 165h1M210 147h1M187 123h1M186 184h1M192 162h1M179 162h1M185 149h1M184 138h1M213 153h1M198 167h1M191 184h1M177 178h1M190 134h1M174 181h1M189 159h1M170 126h1M183 174h1M179 167h1M209 154h1M195 151h1M185 130h1M171 158h1M180 129h1M182 150h1M185 132h1M205 151h1M190 136h1M183 139h1M184 185h1M219 145h1M183 153h1M183 164h1M197 160h1M183 131h1M176 177h1M190 133h1M186 151h1M170 154h1M188 134h1M194 133h1M183 156h1M190 188h1M184 177h1M185 134h1M165 170h1M176 159h1M178 163h1M196 123h1M195 185h1M182 139h1M188 158h1M164 171h1M220 149h1M156 131h1M185 137h1M187 146h1M185 139h1M186 171h1M204 141h1M179 142h1M186 139h1M182 152h1M198 158h1M194 141h1M201 164h1M218 153h1M183 162h1M181 157h1M171 132h1M182 173h1M173 166h1M189 132h1M187 133h1M180 148h1M173 151h1M192 167h1M188 147h1M180 197h1M181 132h1M190 155h1M213 142h1M192 158h1M185 189h1M181 164h1M194 146h1M192 143h1M180 159h1M181 163h1M176 166h1M173 155h1M179 144h1M197 146h1M163 131h1M214 149h1M186 137h1M189 139h1M187 137h1M200 130h1M205 145h1M188 138h1M195 184h1M181 183h1M188 146h1M178 152h1M181 135h1M207 143h1M177 178h1M180 163h1M195 142h1M179 191h1M182 128h1M168 149h1M204 157h1M183 128h1M185 133h1M188 160h1M200 141h1M211 153h1M207 146h1M210 140h1M167 136h1M207 152h1M179 167h1M187 128h1M190 130h1M183 180h1M181 131h1M186 191h1M173 194h1M186 147h1M188 153h1M199 166h1M180 132h1M190 188h1M184 154h1M174 175h1M184 155h1M182 144h1M180 140h1M179 174h1M185 136h1M187 152h1M175 149h1M182 157h1M176 155h1M166 131h1M182 167h1M206 138h1M190 135h1M179 169h1M193 144h1M187 147h1M177 166h1M184 124h1M189 129h1M202 144h1M160 160h1M174 162h1M162 151h1M174 140h1M193 129h1M180 145h1M193 139h1M196 170h1M172 169h1M175 141h1M187 129h1M184 139h1M170 173h1M178 134h1M167 127h1M183 124h1M180 149h1M187 133h1M186 159h1M204 151h1M191 136h1M194 148h1M185 172h1M193 154h1M189 130h1M179 146h1M171 153h1M186 182h1M192 144h1M185 147h1M175 159h1M182 125h1M188 138h1M187 160h1M183 181h1M196 158h1M171 140h1M184 168h1M191 144h1M190 164h1M215 151h1M180 139h1M185 136h1M184 137h1M203 152h1M179 158h1M176 125h1M179 156h1M214 142h1M209 147h1M154 128h1M181 147h1M194 135h1M169 147h1M194 128h1M202 138h1M178 159h1M186 126h1M188 156h1M189 185h1M194 135h1M178 146h1M191 131h1M177 186h1M189 145h1M183 142h1M190 151h1M195 145h1M191 153h1M202 146h1M176 153h1M174 174h1M191 155h1M177 187h1M177 162h1M179 142h1M188 160h1M180 152h1M187 124h1M179 152h1M188 132h1M188 139h1M187 148h1M202 176h1M181 148h1M190 173h1M180 144h1M186 132h1M197 181h1M172 143h1M189 129h1M201 174h1M184 134h1M194 135h1M180 151h1M195 133h1M173 134h1M188 126h1M181 161h1M194 188h1M182 161h1M177 188h1M174 155h1M197 160h1M191 128h1M183 145h1M173 143h1M174 147h1M193 136h1M176 153h1M174 178h1M183 168h1M187 143h1M212 149h1M185 161h1M192 136h1M167 173h1M196 168h1M185 142h1M194 166h1M179 147h1M191 134h1M182 158h1M213 136h1M188 179h1M183 157h1M187 123h1M175 192h1M189 138h1M180 139h1M182 161h1M188 125h1M172 152h1M167 135h1M177 157h1M176 162h1M191 150h1M189 144h1M185 195h1M184 145h1M189 154h1M178 136h1M186 132h1M179 136h1M175 155h1M182 137h1M160 159h1M181 139h1M180 137h1M180 132h1M186 181h1M208 144h1M205 141h1M168 155h1M160 146h1M209 142h1M163 140h1M185 174h1M176 152h1M188 145h1M171 141h1M213 148h1M178 139h1M181 129h1M184 136h1M172 155h1M204 144h1M197 155h1M195 168h1M187 147h1M184 133h1M204 153h1M175 141h1M183 123h1M212 137h1M170 174h1M182 180h1M166 151h1M185 133h1M180 166h1M196 140h1M179 172h1M182 167h1M213 144h1M180 182h1M184 175h1M186 157h1M188 163h1M179 188h1M186 139h1M186 142h1M172 172h1M185 130h1M196 147h1M181 181h1M177 187h1M177 156h1M200 179h1M181 163h1M214 142h1M170 131h1M181 183h1M204 142h1M185 135h1M186 153h1M180 176h1M181 148h1M211 142h1M216 138h1M189 134h1M181 145h1M170 141h1M183 144h1M178 140h1M190 139h1M187 138h1M199 154h1M189 184h1M180 128h1M164 164h1M193 180h1M212 155h1M179 164h1M177 151h1M174 142h1M191 158h1M191 128h1M188 142h1M171 152h1M188 148h1M197 179h1M189 149h1M190 140h1M185 139h1M181 160h1M187 133h1M185 144h1M190 155h1M179 153h1M186 167h1M188 159h1M188 165h1M168 150h1M188 146h1M203 136h1M182 134h1M188 165h1M193 135h1M199 149h1M187 138h1M184 129h1M163 130h1M189 148h1M188 158h1M185 167h1M191 135h1M167 146h1M186 151h1M176 137h1M181 135h1M187 158h1M187 131h1M188 165h1M175 175h1M184 159h1M185 131h1M192 157h1M185 149h1M183 156h1M185 152h1M189 158h1M192 140h1M179 127h1M203 152h1M178 165h1M187 138h1M179 141h1M190 194h1M199 156h1M191 155h1M175 126h1M168 166h1M188 151h1M177 134h1M195 165h1M180 157h1M187 144h1M183 144h1M192 133h1M190 127h1M185 183h1M175 125h1M171 165h1M185 143h1M185 182h1M175 161h1M204 164h1M185 178h1M186 143h1M176 163h1M183 154h1M188 141h1M177 188h1M180 150h1M192 137h1M188 135h1M178 136h1M166 143h1M211 139h1" stroke="#000" stroke-width="1" stroke-opacity=".17" fill="none" transform="translate(0 .5)"/>
</g>
<line x1="196.4" y1="121.3" x2="196.4" y2="199.3" stroke="#ff5555" stroke-width="1.1"/>
<line x1="152.3" y1="154.2" x2="230.5" y2="154.2" stroke="#ff5555" stroke-width="1.1"/>
<rect x="152.3" y="121.3" width="78.2" height="78" fill="none" stroke="#6a8ad0" stroke-width="1.2"/>
<clipPath id="c6"><rect x="235.2" y="121.3" width="77.8" height="78"/></clipPath>
<g clip-path="url(#c6)">
<ellipse cx="267" cy="134" rx="10" ry="7" transform="rotate(-10 267 134)" fill="#000" fill-opacity="0.22" filter="url(#bl4)"/>
<ellipse cx="281" cy="140" rx="7" ry="5" transform="rotate(0 281 140)" fill="#000" fill-opacity="0.2" filter="url(#bl3)"/>
<ellipse cx="291.5" cy="144.5" rx="3.2" ry="3" transform="rotate(0 291.5 144.5)" fill="#000" fill-opacity="0.95" filter="url(#bl1)"/>
<ellipse cx="289" cy="145" rx="6.5" ry="5.5" transform="rotate(0 289 145)" fill="#000" fill-opacity="0.5" filter="url(#bl3)"/>
<ellipse cx="266" cy="163" rx="7" ry="7" transform="rotate(0 266 163)" fill="#000" fill-opacity="0.03" filter="url(#bl4)"/>
<path d="M292 155h1M267 149h1M277 130h1M257 133h1M291 158h1M275 134h1M273 153h1M271 130h1M285 131h1M280 139h1M289 145h1M281 130h1M267 144h1M292 139h1M251 134h1M279 130h1M272 146h1M265 151h1M265 142h1M296 148h1M287 132h1M248 130h1M267 145h1M260 125h1M278 131h1M288 129h1M288 146h1M268 149h1M289 154h1M277 132h1M262 133h1M265 146h1M275 156h1M280 131h1M280 136h1M277 151h1M274 139h1M259 127h1M288 137h1M278 142h1M286 133h1M293 144h1M288 147h1M272 130h1M277 140h1M290 137h1M268 134h1M286 140h1M284 142h1M244 136h1M280 143h1M297 147h1M275 142h1M262 140h1M286 146h1M274 138h1M276 144h1M244 134h1M275 167h1M296 148h1M288 139h1M287 144h1M273 139h1M272 141h1M273 141h1M258 135h1M255 134h1M262 162h1M277 135h1M273 139h1M294 141h1M264 144h1M248 124h1M280 138h1M241 138h1M288 139h1M274 145h1M267 146h1M278 142h1M261 137h1M294 155h1M275 133h1M258 159h1M268 173h1M275 147h1M275 147h1M272 141h1M292 142h1M284 136h1M266 167h1M270 134h1M271 131h1M292 145h1M257 131h1M265 134h1M265 139h1M264 155h1M295 153h1M281 137h1M291 152h1M258 160h1M262 136h1M265 137h1M254 129h1M271 139h1M271 130h1M299 142h1M292 143h1M256 127h1M264 138h1M269 133h1M279 139h1M287 145h1M263 145h1M285 150h1M290 155h1M293 143h1M269 145h1M259 142h1M277 133h1M255 148h1M254 123h1M295 143h1M298 145h1M293 142h1M281 132h1M271 134h1M273 125h1M270 129h1M276 138h1M266 193h1M289 146h1M297 147h1M277 162h1M279 147h1M285 150h1M283 141h1M244 133h1M272 145h1M273 175h1M258 176h1M267 160h1M279 140h1M278 149h1M265 136h1M284 142h1M286 142h1M256 141h1M276 130h1M282 139h1M273 139h1M272 144h1M292 146h1M266 145h1M277 142h1M263 136h1M271 141h1M269 139h1M259 132h1M285 130h1M288 135h1M258 141h1M281 123h1M289 144h1M279 126h1M262 143h1M283 153h1M260 129h1M291 149h1M274 148h1M288 138h1M272 130h1M273 146h1M281 129h1M296 142h1M264 142h1M276 127h1M279 135h1M265 132h1M278 144h1M286 138h1M295 145h1M270 150h1M293 150h1M260 138h1M277 140h1M300 143h1M281 138h1M255 141h1M273 151h1M274 128h1M289 132h1M262 138h1M278 131h1M269 122h1M290 152h1M271 128h1M288 128h1M278 151h1M279 147h1M275 128h1M289 140h1M273 145h1M289 146h1M278 145h1M258 140h1M274 135h1M259 137h1M268 142h1M293 150h1M284 127h1M287 153h1M285 140h1M276 150h1M281 132h1M296 141h1M266 181h1M264 127h1M278 137h1M258 131h1M273 155h1M285 143h1M284 146h1M280 134h1M293 150h1M289 145h1M296 149h1M274 148h1M286 139h1M256 139h1M274 146h1M287 125h1M266 136h1M266 133h1M285 133h1M291 154h1M276 137h1M277 147h1M280 133h1M255 130h1M284 144h1M268 126h1M292 147h1M254 141h1M260 147h1M288 134h1M290 143h1M289 148h1M265 135h1M287 142h1M271 125h1M290 145h1M290 133h1M273 139h1M267 132h1M255 150h1M295 144h1M269 166h1M258 145h1M290 154h1M267 153h1M259 141h1M257 134h1M273 168h1M295 142h1M265 130h1M281 139h1M261 135h1M274 133h1M265 132h1M282 147h1M257 139h1M275 139h1M265 164h1M255 133h1M260 137h1M286 148h1M299 145h1M289 148h1M283 125h1M274 157h1M262 162h1M263 152h1M284 139h1M261 142h1M295 145h1M271 141h1M251 129h1M297 146h1M296 143h1M283 137h1M282 131h1M260 132h1M280 149h1M265 135h1M299 145h1M252 134h1M296 139h1M257 151h1M281 143h1M288 141h1M296 151h1M263 133h1M264 126h1M277 135h1M304 170h1M276 123h1M271 140h1M262 127h1M282 128h1M287 131h1M255 166h1M292 138h1M271 126h1M289 134h1M250 141h1M285 148h1M244 141h1M277 137h1M279 131h1M281 132h1M274 158h1M297 144h1M287 136h1M282 132h1M278 139h1M285 143h1M263 137h1M293 149h1M259 146h1M267 136h1M273 137h1M248 125h1M257 149h1M277 149h1M293 151h1M272 160h1M251 136h1M247 147h1M293 150h1M270 130h1M273 136h1M294 144h1M266 159h1M274 144h1" stroke="#000" stroke-width="1" stroke-opacity=".17" fill="none" transform="translate(0 .5)"/>
<path d="M265 147h1M256 123h1M269 156h1M269 143h1M275 136h1M259 161h1M246 141h1M291 144h1M264 158h1M277 140h1M274 136h1M257 157h1M290 143h1M270 127h1M296 143h1M282 124h1M284 143h1M287 134h1M288 145h1M262 136h1M264 124h1M283 140h1M270 144h1M273 178h1M285 124h1M283 142h1M254 132h1M293 130h1M250 127h1M248 137h1M274 138h1M262 133h1M271 144h1M256 138h1M283 148h1M273 154h1M294 142h1M289 152h1M299 148h1M247 130h1M291 146h1M258 142h1M279 133h1M283 141h1M293 132h1M257 133h1M283 147h1M272 135h1M281 140h1M263 142h1M293 141h1M262 137h1M264 135h1M281 122h1M270 124h1M281 139h1M279 139h1M266 164h1M270 138h1M291 132h1M276 128h1M268 169h1M267 138h1M269 124h1M289 144h1M274 139h1M261 129h1M297 141h1M294 139h1M288 144h1M264 127h1M262 150h1M252 160h1M262 145h1M266 181h1M280 141h1M279 125h1M264 133h1M275 154h1M254 123h1M270 132h1M255 143h1M278 126h1M290 152h1M264 169h1M269 156h1M293 143h1M288 136h1M258 140h1M294 142h1M299 144h1M272 131h1M264 166h1M247 146h1M259 141h1M291 149h1M278 141h1M297 147h1M277 139h1M289 143h1M266 171h1M262 150h1M270 142h1M285 151h1M259 136h1M269 138h1M263 133h1M295 144h1M279 139h1M274 127h1M292 144h1M263 137h1M291 146h1M261 129h1M271 131h1M284 128h1M280 136h1M260 143h1M265 142h1M271 123h1M279 131h1M270 149h1M283 151h1M280 134h1M256 144h1M268 132h1M265 133h1M253 132h1M286 134h1M292 142h1M263 145h1M279 154h1M280 140h1M291 132h1M252 134h1M271 131h1M278 138h1M272 129h1M259 137h1M278 129h1M288 147h1M287 147h1M278 126h1M285 141h1M291 143h1M279 132h1M278 134h1M266 134h1M266 134h1M279 146h1M257 130h1M303 143h1M286 141h1M291 149h1M291 140h1M283 133h1M276 139h1M269 126h1M267 125h1M253 129h1M293 139h1M245 136h1M264 138h1M270 129h1M271 130h1M258 138h1M282 142h1M291 149h1M289 129h1M268 131h1M259 123h1M287 137h1M253 132h1M286 141h1M267 128h1M283 130h1M278 141h1M270 142h1M282 138h1M291 147h1M279 143h1M274 134h1M300 141h1M265 154h1M259 170h1M267 136h1M295 146h1M269 125h1M282 126h1M256 143h1M286 134h1M261 125h1M284 133h1M266 133h1M262 147h1M260 132h1M264 133h1M256 134h1M272 144h1M284 152h1M269 142h1M268 140h1M264 131h1M284 150h1M254 130h1M256 138h1M299 150h1M263 129h1M271 174h1M271 130h1M282 130h1M274 140h1M274 163h1M296 150h1M287 143h1M246 126h1M265 142h1M282 143h1M279 134h1M262 144h1M261 135h1M283 135h1M290 134h1M293 147h1M299 142h1M268 141h1M300 145h1M291 142h1M253 134h1M276 136h1M285 141h1M258 123h1M293 147h1M295 146h1M276 132h1M275 142h1M264 144h1M266 160h1M281 133h1M287 146h1M265 165h1M275 157h1M269 144h1M268 123h1M298 145h1M263 170h1M288 147h1M265 151h1M289 140h1M295 146h1M260 164h1M261 173h1M290 136h1M288 144h1M268 169h1M287 143h1M284 142h1M267 141h1M288 132h1M284 145h1M255 137h1M293 147h1M275 152h1M273 130h1M266 172h1M265 138h1M280 145h1M299 133h1M261 131h1M283 129h1M255 141h1M278 143h1M294 146h1M268 125h1M280 139h1M257 136h1M271 130h1M291 144h1M288 135h1M262 171h1M289 145h1M272 124h1M250 139h1M278 137h1M261 160h1M295 152h1M261 148h1M286 127h1M278 136h1M298 143h1M275 137h1M274 136h1M280 149h1M283 141h1M265 124h1M267 142h1M286 138h1M264 132h1M269 166h1M266 127h1M286 132h1M265 130h1M271 173h1M249 132h1M261 125h1M288 149h1M264 136h1M273 145h1M294 145h1M274 174h1M265 131h1M265 139h1M256 157h1M271 142h1M289 147h1M256 127h1M282 135h1M302 150h1M261 145h1M267 137h1M277 147h1M261 157h1M252 129h1M283 139h1M270 141h1M276 146h1M269 166h1M276 135h1M254 136h1M279 136h1M271 147h1M297 142h1M244 143h1M295 146h1M260 155h1M249 128h1M262 164h1M269 134h1M277 140h1M293 147h1M283 128h1M266 135h1M255 151h1M266 146h1M267 148h1M284 136h1" stroke="#000" stroke-width="1" stroke-opacity=".17" fill="none" transform="translate(0 .5)"/>
</g>
<line x1="277.5" y1="121.3" x2="277.5" y2="199.3" stroke="#ff5555" stroke-width="1.1"/>
<line x1="235.2" y1="154.2" x2="313" y2="154.2" stroke="#ff5555" stroke-width="1.1"/>
<rect x="235.2" y="121.3" width="77.8" height="78" fill="none" stroke="#6a8ad0" stroke-width="1.2"/>
<clipPath id="c7"><rect x="367.5" y="40.3" width="78.8" height="77.7"/></clipPath>
<g clip-path="url(#c7)">
<ellipse cx="400.7" cy="85" rx="5" ry="6.5" transform="rotate(20 400.7 85)" fill="#000" fill-opacity="0.9" filter="url(#bl2)"/>
<ellipse cx="396" cy="91" rx="9" ry="13" transform="rotate(25 396 91)" fill="#000" fill-opacity="0.36" filter="url(#bl4)"/>
<ellipse cx="410" cy="73" rx="8" ry="3" transform="rotate(-25 410 73)" fill="#000" fill-opacity="0.3" filter="url(#bl2)"/>
<ellipse cx="431.2" cy="68.9" rx="2.6" ry="4.5" transform="rotate(35 431.2 68.9)" fill="#000" fill-opacity="0.85" filter="url(#bl1)"/>
<path d="M410 97h1M409 95h1M372 87h1M393 96h1M438 71h1M395 89h1M394 74h1M399 76h1M406 99h1M398 69h1M408 82h1M371 100h1M379 92h1M390 86h1M405 94h1M396 86h1M406 73h1M390 80h1M416 79h1M402 79h1M413 83h1M405 97h1M390 103h1M413 95h1M413 81h1M404 85h1M402 85h1M395 91h1M389 96h1M389 81h1M407 94h1M394 92h1M395 93h1M406 80h1M397 94h1M406 78h1M406 88h1M414 67h1M399 75h1M403 77h1M404 81h1M405 78h1M405 86h1M392 88h1M417 70h1M422 67h1M426 73h1M435 68h1M390 86h1M423 64h1M403 89h1M420 63h1M391 88h1M400 69h1M407 95h1M395 81h1M405 100h1M398 96h1M391 84h1M374 87h1M398 74h1M398 104h1M399 90h1M403 73h1M374 90h1M402 100h1M420 79h1M412 87h1M401 75h1M419 80h1M396 98h1M396 83h1M400 96h1M393 85h1M388 70h1M409 79h1M396 90h1M407 88h1M400 90h1M417 70h1M398 97h1M392 78h1M425 73h1M431 68h1M423 72h1M396 83h1M435 62h1M404 77h1M384 83h1M403 81h1M435 71h1M420 83h1M384 99h1M396 79h1M397 95h1M409 80h1M404 83h1M392 97h1M409 76h1M409 78h1M379 91h1M409 76h1M388 91h1M410 84h1M388 102h1M405 78h1M407 76h1M401 73h1M405 78h1M402 103h1M403 86h1M408 97h1M428 72h1M400 89h1M410 90h1M404 84h1M387 106h1M410 90h1M396 101h1M431 63h1M430 73h1M418 87h1M405 80h1M406 102h1M417 82h1M406 86h1M410 80h1M403 73h1M407 75h1M409 104h1M399 84h1M415 77h1M405 105h1M409 74h1M404 101h1M406 93h1M404 77h1M406 97h1M427 74h1M396 71h1M402 75h1M410 84h1M398 78h1M435 74h1M426 69h1M409 63h1M389 95h1M405 72h1M412 67h1M399 81h1M413 68h1M428 73h1M391 72h1M396 84h1M398 78h1M400 85h1M400 90h1M404 93h1M390 95h1M406 70h1M389 90h1M408 95h1M380 87h1M417 67h1M408 64h1M414 76h1M409 77h1M403 87h1M393 99h1M437 62h1M402 61h1M391 97h1M404 107h1M392 77h1M429 68h1M396 94h1M410 85h1M413 79h1M430 70h1M433 64h1M381 73h1M398 87h1M383 80h1M396 80h1M401 87h1M400 102h1M398 108h1M409 66h1M376 103h1M407 81h1M403 87h1M396 91h1M411 79h1M382 86h1M432 69h1M400 79h1M389 97h1M414 78h1M401 84h1M398 110h1M406 70h1M401 86h1M391 92h1M405 85h1M436 63h1M385 100h1M399 89h1M433 68h1M397 89h1M389 98h1M398 91h1M403 78h1M402 99h1M410 86h1M381 84h1M399 96h1M401 79h1M395 107h1M387 84h1M396 100h1M434 66h1M399 96h1M403 103h1M400 87h1M377 115h1M410 74h1M393 98h1M402 83h1M387 76h1M399 81h1M396 87h1M402 87h1M432 63h1M407 91h1M379 87h1M401 88h1M385 107h1M392 114h1M389 110h1M414 75h1M395 77h1M405 87h1M391 83h1M414 83h1M393 92h1M419 71h1M394 75h1M427 69h1M397 92h1M385 97h1M408 82h1M397 88h1M403 85h1M406 87h1M436 65h1M394 86h1M400 70h1M406 63h1M428 75h1M413 69h1M401 78h1M376 100h1M406 73h1M394 83h1M402 86h1M409 91h1M404 76h1M402 108h1M385 94h1M397 80h1M388 107h1M407 80h1M393 98h1M393 88h1M391 89h1M393 84h1M409 72h1M381 97h1M399 92h1M390 91h1M392 103h1M405 89h1M401 87h1M396 89h1M407 89h1M394 82h1M406 72h1M389 100h1M408 71h1M399 85h1M399 84h1M391 84h1M406 75h1M406 75h1M389 100h1M395 89h1M403 111h1M404 69h1M405 82h1M398 83h1M379 84h1M411 100h1M428 72h1M393 78h1M432 69h1M391 86h1M404 109h1M410 81h1M391 95h1M391 112h1M393 93h1M400 83h1M399 74h1M409 100h1M371 95h1M396 90h1M399 79h1M400 79h1M431 73h1M383 96h1M404 113h1M401 100h1M405 94h1M403 67h1M403 85h1M415 67h1M380 90h1M433 63h1M413 99h1M391 93h1M415 68h1M414 70h1M392 84h1M405 77h1M411 108h1M416 70h1M434 65h1M396 93h1M429 77h1M431 67h1M388 96h1M399 79h1M381 95h1M409 82h1M413 92h1M403 76h1M391 81h1M423 71h1M413 82h1M399 113h1M398 74h1M409 74h1M408 77h1M401 77h1M384 94h1M429 75h1M435 69h1M402 88h1M399 76h1M400 78h1M405 70h1M398 91h1M385 100h1M397 95h1M431 64h1M390 86h1M388 109h1M371 96h1M394 80h1M382 117h1M405 82h1M389 77h1M401 90h1M389 94h1M398 88h1M389 96h1M379 93h1M408 69h1M405 82h1M377 89h1M405 72h1M400 111h1M410 79h1M397 76h1M380 111h1M391 99h1M404 84h1M419 75h1M402 76h1M400 91h1M421 81h1M403 61h1M388 88h1M405 87h1M400 72h1M411 72h1M417 71h1M401 87h1M396 60h1M410 98h1M400 69h1M400 82h1M396 63h1M404 85h1M391 74h1M394 66h1M409 96h1M394 87h1M401 79h1M401 87h1M406 84h1M404 85h1M438 61h1M408 59h1M414 85h1M401 102h1M407 76h1M391 116h1M388 105h1M379 87h1M410 81h1M398 96h1M398 95h1M402 88h1M411 97h1M394 76h1M383 99h1M387 84h1M408 80h1M403 78h1M438 69h1M401 85h1M406 77h1M412 70h1M398 103h1M406 76h1M398 109h1M405 82h1M394 64h1M410 69h1M408 91h1M428 69h1M397 92h1M378 110h1M435 68h1M397 75h1M381 92h1M397 84h1M406 110h1M410 75h1M416 81h1M436 70h1M406 91h1M382 81h1M412 68h1M406 75h1M406 93h1M391 95h1M386 107h1M398 83h1M400 88h1M402 94h1M394 77h1M393 99h1M406 92h1M415 106h1M378 108h1M395 81h1M404 84h1M407 92h1M417 75h1M414 98h1M376 79h1M413 96h1M383 96h1M414 69h1M396 89h1M401 99h1M400 72h1M394 94h1M435 70h1M425 64h1M435 66h1M429 75h1M405 97h1M388 65h1M387 70h1M406 89h1M392 76h1M416 78h1M395 73h1M411 76h1M399 89h1M404 87h1M389 113h1M382 82h1M404 72h1M384 89h1M397 100h1M384 100h1M417 78h1M407 94h1M405 59h1M413 90h1M392 92h1M385 87h1M392 80h1M386 87h1M410 71h1M399 74h1M406 75h1M435 66h1M402 67h1M409 75h1M408 103h1M399 85h1M435 62h1M385 92h1M386 87h1M378 112h1M428 73h1M409 101h1M399 87h1M389 87h1M391 88h1M394 86h1M391 86h1M398 95h1M403 111h1M399 82h1M395 87h1M393 76h1M403 67h1M410 75h1M402 86h1M393 91h1M375 88h1M394 77h1M398 102h1M407 74h1M387 104h1M413 73h1M406 84h1M392 87h1M392 72h1M406 87h1M394 100h1M405 78h1" stroke="#000" stroke-width="1" stroke-opacity=".17" fill="none" transform="translate(0 .5)"/>
<path d="M383 72h1M436 72h1M429 76h1M396 81h1M399 80h1M407 75h1M403 84h1M403 86h1M413 91h1M399 109h1M402 89h1M406 76h1M402 86h1M406 83h1M397 87h1M395 77h1M407 74h1M412 93h1M394 83h1M409 81h1M402 93h1M416 74h1M394 93h1M425 65h1M399 71h1M384 78h1M438 62h1M402 93h1M401 79h1M392 103h1M434 61h1M394 79h1M424 71h1M424 76h1M395 82h1M392 94h1M399 87h1M414 72h1M433 67h1M407 86h1M401 91h1M433 65h1M375 88h1M397 89h1M396 104h1M407 76h1M401 101h1M386 98h1M400 76h1M396 78h1M397 80h1M411 79h1M408 109h1M385 61h1M393 87h1M401 82h1M385 109h1M390 95h1M403 86h1M400 100h1M398 98h1M404 86h1M419 68h1M402 78h1M399 72h1M402 80h1M400 104h1M405 91h1M432 66h1M412 68h1M430 69h1M413 69h1M397 92h1M381 82h1M398 89h1M412 69h1M394 78h1M404 84h1M394 79h1M399 96h1M391 82h1M399 65h1M436 64h1M401 83h1M430 68h1M401 85h1M380 112h1M402 80h1M395 88h1M408 63h1M407 73h1M436 92h1M384 117h1M412 103h1M391 84h1M384 90h1M403 116h1M391 75h1M397 92h1M391 96h1M427 69h1M394 115h1M388 66h1M394 91h1M431 72h1M392 117h1M399 104h1M392 88h1M401 87h1M396 84h1M390 80h1M395 94h1M396 81h1M430 77h1M424 67h1M397 84h1M401 94h1M408 86h1M405 93h1M403 83h1M418 97h1M388 75h1M431 74h1M383 98h1M395 89h1M401 84h1M407 89h1M404 77h1M395 69h1M407 81h1M391 98h1M401 76h1M384 90h1M406 105h1M405 77h1M400 87h1M404 79h1M419 69h1M401 92h1M401 81h1M403 87h1M384 99h1M405 78h1M380 97h1M396 87h1M374 96h1M392 89h1M399 79h1M407 80h1M410 82h1M398 85h1M411 71h1M387 91h1M384 89h1M403 81h1M391 91h1M394 85h1M399 90h1M402 88h1M399 76h1M399 90h1M407 107h1M399 84h1M400 75h1M412 65h1M390 77h1M399 79h1M391 93h1M402 76h1M391 82h1M380 97h1M397 73h1M405 94h1M415 75h1M408 90h1M384 84h1M419 72h1M415 82h1M394 86h1M378 93h1M403 90h1M399 74h1M382 116h1M403 94h1M402 77h1M417 90h1M389 110h1M402 59h1M410 87h1M426 67h1M375 107h1M435 58h1M404 88h1M398 99h1M392 88h1M394 79h1M425 72h1M400 91h1M390 86h1M384 100h1M398 75h1M431 69h1M395 76h1M393 74h1M393 77h1M392 94h1M409 70h1M394 89h1M382 103h1M389 95h1M408 85h1M384 100h1M381 92h1M402 109h1M403 94h1M433 62h1M416 67h1M395 83h1M432 62h1M393 104h1M391 77h1M376 90h1M412 71h1M395 103h1M431 64h1M401 76h1M422 73h1M386 95h1M383 99h1M390 104h1M387 96h1M403 87h1M379 84h1M395 79h1M411 88h1M403 87h1M400 91h1M407 90h1M407 80h1M432 71h1M413 64h1M411 81h1M392 73h1M392 89h1M395 93h1M379 86h1M401 91h1M412 70h1M383 109h1M436 60h1M404 98h1M410 64h1M399 83h1M399 78h1M413 73h1M398 88h1M400 77h1M408 81h1M406 99h1M398 85h1M410 88h1M377 97h1M403 84h1M407 75h1M394 100h1M412 82h1M408 65h1M383 95h1M406 90h1M389 77h1M398 97h1M406 74h1M406 98h1M401 77h1M400 78h1M430 74h1M396 98h1M408 68h1M405 73h1M396 92h1M393 73h1M396 82h1M386 106h1M433 68h1M388 114h1M396 103h1M407 69h1M397 89h1M402 83h1M388 92h1M401 69h1M397 95h1M395 88h1M389 102h1M391 94h1M400 97h1M409 85h1M405 81h1M394 91h1M414 75h1M405 101h1M393 74h1M403 74h1M382 87h1M406 82h1M391 98h1M408 82h1M405 81h1M395 98h1M405 89h1M398 83h1M391 99h1M406 77h1M390 108h1M399 73h1M391 93h1M408 71h1M395 98h1M398 116h1M399 79h1M405 74h1M436 65h1M380 106h1M413 66h1M393 95h1M403 69h1M401 109h1M408 85h1M434 72h1M404 92h1M405 90h1M432 70h1M400 79h1M397 86h1M419 72h1M427 74h1M406 77h1M395 95h1M403 87h1M411 89h1M391 74h1M402 80h1M406 80h1M402 94h1M411 96h1M384 113h1M402 71h1M392 85h1M399 97h1M403 73h1M383 104h1M407 86h1M402 83h1M390 114h1M398 81h1M419 79h1M410 95h1M394 89h1M409 76h1M433 63h1M409 86h1M400 97h1M391 106h1M433 77h1M415 76h1M415 77h1M391 101h1M380 98h1M411 79h1M389 90h1M403 81h1M408 90h1M395 98h1M377 99h1M405 88h1M435 71h1M393 87h1M403 95h1M435 62h1M397 89h1M396 61h1M411 94h1M422 72h1M408 77h1M420 74h1M397 86h1M428 73h1M379 99h1M396 78h1M397 77h1M427 67h1M406 80h1M392 87h1M397 87h1M413 68h1M402 78h1M400 81h1M392 86h1M433 74h1M400 113h1M396 87h1M411 88h1M380 99h1M388 109h1M390 84h1M398 94h1M415 93h1M430 63h1M407 89h1M393 95h1M409 69h1M431 70h1M409 71h1M404 83h1M403 112h1M397 90h1M411 74h1M375 103h1M397 102h1M425 73h1M397 82h1M395 79h1M397 85h1M421 71h1M393 99h1M409 91h1M382 90h1M433 75h1M409 79h1M405 102h1M387 100h1M390 98h1M406 67h1M402 84h1M404 76h1M406 88h1M394 67h1M406 90h1M397 81h1M390 83h1M407 96h1M388 88h1M400 82h1M412 72h1M413 104h1M383 97h1M397 91h1M399 88h1M408 64h1M414 72h1M380 96h1M398 79h1M432 63h1M403 86h1M438 64h1M396 84h1M433 62h1M392 99h1M401 97h1M413 77h1M389 82h1M398 81h1M393 89h1M407 90h1M405 87h1M394 77h1M398 100h1M437 65h1M426 65h1M398 94h1M385 84h1M430 68h1M399 89h1M395 103h1M389 81h1M406 76h1M413 72h1M407 81h1M389 87h1M414 76h1M384 94h1M400 81h1M399 82h1M396 75h1M388 93h1M433 70h1M394 107h1M414 84h1M395 75h1M397 81h1M386 92h1M392 89h1M404 91h1M432 62h1M410 76h1M411 68h1M406 82h1M400 87h1M393 81h1M394 99h1M433 73h1M429 76h1M407 99h1M375 100h1M431 66h1M407 79h1M397 100h1M408 81h1M402 84h1M395 98h1M391 92h1M389 107h1M382 112h1M398 81h1M399 82h1M386 94h1M406 80h1M403 105h1M403 85h1M388 93h1M415 82h1M400 98h1M396 101h1M391 102h1M383 70h1M425 67h1M402 107h1M416 77h1M395 91h1M395 77h1M392 72h1M401 99h1M406 84h1M399 95h1M400 71h1M417 73h1M386 74h1M371 96h1M405 82h1M404 87h1M416 73h1M404 72h1M381 116h1M387 70h1M397 89h1M410 93h1M423 68h1M377 105h1" stroke="#000" stroke-width="1" stroke-opacity=".17" fill="none" transform="translate(0 .5)"/>
</g>
<line x1="410.6" y1="40.3" x2="410.6" y2="118" stroke="#ff5555" stroke-width="1.1"/>
<line x1="367.5" y1="79.5" x2="446.3" y2="79.5" stroke="#ff5555" stroke-width="1.1"/>
<rect x="367.5" y="40.3" width="78.8" height="77.7" fill="none" stroke="#6a8ad0" stroke-width="1.2"/>
<clipPath id="c8"><rect x="451.3" y="40.3" width="78.3" height="77.7"/></clipPath>
<g clip-path="url(#c8)">
<ellipse cx="484.7" cy="85.7" rx="5" ry="6.5" transform="rotate(20 484.7 85.7)" fill="#000" fill-opacity="0.77" filter="url(#bl3)"/>
<ellipse cx="480" cy="92" rx="10" ry="14" transform="rotate(20 480 92)" fill="#000" fill-opacity="0.27" filter="url(#bl4)"/>
<ellipse cx="511.6" cy="74.9" rx="3" ry="4.5" transform="rotate(0 511.6 74.9)" fill="#000" fill-opacity="0.95" filter="url(#bl1)"/>
<ellipse cx="510" cy="84" rx="3.5" ry="10" transform="rotate(0 510 84)" fill="#000" fill-opacity="0.34" filter="url(#bl2)"/>
<path d="M487 87h1M467 90h1M478 67h1M477 77h1M510 85h1M464 78h1M478 108h1M482 95h1M505 93h1M509 85h1M487 79h1M508 64h1M508 87h1M486 75h1M475 92h1M475 100h1M489 88h1M474 86h1M481 87h1M493 96h1M507 89h1M483 88h1M495 63h1M489 92h1M494 80h1M463 82h1M502 90h1M514 71h1M467 101h1M483 77h1M483 81h1M467 105h1M491 96h1M486 72h1M488 84h1M496 71h1M489 89h1M483 77h1M480 109h1M471 99h1M471 106h1M481 90h1M485 101h1M467 108h1M511 92h1M513 80h1M474 111h1M483 91h1M482 94h1M497 92h1M507 84h1M510 84h1M489 79h1M510 98h1M486 80h1M482 91h1M474 90h1M476 58h1M464 92h1M483 87h1M488 82h1M479 82h1M480 87h1M478 91h1M484 73h1M481 88h1M494 94h1M492 90h1M509 97h1M469 94h1M482 96h1M490 78h1M516 95h1M485 81h1M487 88h1M473 97h1M479 115h1M484 78h1M510 88h1M475 95h1M466 81h1M471 86h1M485 92h1M488 81h1M511 73h1M505 89h1M486 77h1M494 85h1M486 90h1M511 76h1M492 85h1M476 76h1M493 88h1M483 77h1M506 73h1M515 80h1M500 73h1M483 65h1M500 90h1M483 101h1M465 103h1M476 83h1M509 91h1M487 82h1M493 80h1M502 91h1M508 84h1M479 104h1M481 87h1M511 94h1M484 85h1M490 86h1M485 116h1M473 115h1M474 110h1M492 102h1M473 97h1M475 91h1M482 91h1M487 95h1M482 82h1M490 97h1M489 93h1M489 83h1M472 102h1M507 76h1M476 101h1M469 69h1M496 110h1M509 83h1M486 87h1M473 88h1M497 100h1M494 93h1M514 101h1M475 83h1M488 83h1M486 102h1M494 83h1M482 76h1M476 79h1M507 70h1M490 75h1M475 106h1M475 81h1M479 84h1M479 101h1M513 82h1M508 63h1M497 83h1M496 85h1M486 90h1M487 81h1M485 85h1M473 87h1M489 77h1M488 79h1M471 108h1M514 79h1M483 79h1M488 82h1M484 103h1M511 78h1M509 87h1M472 95h1M483 61h1M479 89h1M485 82h1M493 75h1M489 93h1M494 95h1M467 98h1M471 106h1M484 103h1M467 93h1M486 78h1M481 81h1M480 91h1M478 76h1M473 73h1M477 90h1M464 77h1M471 92h1M490 84h1M487 71h1M475 102h1M507 47h1M464 97h1M466 107h1M492 82h1M476 95h1M462 88h1M472 68h1M479 85h1M488 100h1M477 92h1M515 84h1M482 94h1M484 89h1M483 76h1M467 67h1M484 83h1M474 91h1M465 110h1M491 80h1M509 74h1M483 76h1M500 94h1M496 84h1M480 84h1M477 85h1M483 91h1M487 85h1M516 103h1M491 71h1M491 80h1M480 90h1M511 72h1M489 81h1M486 88h1M489 74h1M492 82h1M479 85h1M497 82h1M490 85h1M471 98h1M516 75h1M475 111h1M486 72h1M469 94h1M510 71h1M506 90h1M483 69h1M488 113h1M508 90h1M481 76h1M475 81h1M510 82h1M492 71h1M491 79h1M514 75h1M494 83h1M486 57h1M491 100h1M479 81h1M502 89h1M479 86h1M483 83h1M477 115h1M500 97h1M481 88h1M492 91h1M466 87h1M490 87h1M505 82h1M488 91h1M510 89h1M488 90h1M494 116h1M485 97h1M471 72h1M479 81h1M481 81h1M480 107h1M514 96h1M493 110h1M481 85h1M489 86h1M486 82h1M475 96h1M480 82h1M486 102h1M479 91h1M462 86h1M474 84h1M500 93h1M469 100h1M484 60h1M509 83h1M484 97h1M479 87h1M489 91h1M494 76h1M492 85h1M477 72h1M512 91h1M518 76h1M483 97h1M486 89h1M510 81h1M480 61h1M485 82h1M493 100h1M488 93h1M486 86h1M480 87h1M491 70h1M485 108h1M475 91h1M462 80h1M479 76h1M494 80h1M483 75h1M481 70h1M467 92h1M488 95h1M494 108h1M485 101h1M493 96h1M484 77h1M488 73h1M484 116h1M506 78h1M508 92h1M483 78h1M481 89h1M476 101h1M477 89h1M489 94h1M488 94h1M477 110h1M509 82h1M489 83h1M510 77h1M485 80h1M482 94h1M488 82h1M484 74h1M473 82h1M511 64h1M480 93h1M472 86h1M511 87h1M505 87h1M464 109h1M495 82h1M472 88h1M491 85h1M496 68h1M491 90h1M514 72h1M477 91h1M515 73h1M499 93h1M481 82h1M468 98h1M482 95h1M491 96h1M489 76h1M477 87h1M474 110h1M483 93h1M486 78h1M485 96h1M493 91h1M477 83h1M486 79h1M481 82h1M481 96h1M478 88h1M493 97h1M483 98h1M485 81h1M488 85h1M488 101h1M498 81h1M469 93h1M480 98h1M460 95h1M510 65h1M478 92h1M480 99h1M486 96h1M487 64h1M475 84h1M509 81h1M477 93h1M479 76h1M478 87h1M488 77h1M495 110h1M479 77h1M475 110h1M501 90h1M501 71h1M485 78h1M511 82h1M482 87h1M465 97h1M498 103h1M493 103h1M476 100h1M487 90h1M481 70h1M520 57h1M493 83h1M461 90h1M514 95h1M471 84h1M483 72h1M475 69h1M481 105h1M477 84h1M478 114h1M469 85h1M471 86h1M504 86h1M482 79h1M484 82h1M494 91h1M479 90h1M484 77h1M467 74h1M483 88h1M485 77h1M514 66h1M469 91h1M482 84h1M487 102h1M514 75h1M477 91h1M485 98h1M470 81h1M471 100h1M477 97h1M485 89h1M510 104h1M483 113h1M477 73h1M483 86h1M496 67h1M493 97h1M477 72h1M485 89h1M486 83h1M477 98h1M485 77h1M490 85h1M480 107h1M483 83h1M487 85h1M472 105h1M509 69h1M475 91h1M494 87h1M485 91h1M479 98h1M495 85h1M491 69h1M514 64h1M476 83h1M491 93h1M514 86h1M489 82h1M470 87h1M492 77h1M490 80h1M488 84h1M479 94h1M483 99h1M501 78h1M463 101h1M484 88h1M476 97h1M495 83h1M474 83h1M482 81h1M484 84h1M473 96h1M485 71h1M467 93h1M479 86h1M486 85h1M519 72h1M462 99h1M486 92h1M511 82h1M488 82h1M511 84h1M491 84h1M492 65h1M491 109h1M481 112h1M479 72h1M482 97h1M509 84h1M470 82h1M458 78h1M485 86h1M467 80h1M485 77h1M517 69h1M484 71h1M484 97h1M501 74h1M495 69h1M472 103h1M491 104h1M472 90h1M485 74h1M469 98h1M483 76h1M495 72h1M472 114h1M487 86h1M481 87h1M489 77h1M477 105h1M514 73h1M459 89h1M509 92h1M482 87h1M489 83h1M513 81h1M473 64h1M468 86h1M499 96h1M494 112h1M512 72h1M489 92h1M480 101h1M475 85h1M510 81h1M485 95h1M469 107h1M478 91h1M490 87h1" stroke="#000" stroke-width="1" stroke-opacity=".17" fill="none" transform="translate(0 .5)"/>
<path d="M481 91h1M477 100h1M479 88h1M506 78h1M480 77h1M510 75h1M479 82h1M476 94h1M492 96h1M458 91h1M469 92h1M474 88h1M472 93h1M464 90h1M488 83h1M512 73h1M482 92h1M493 91h1M462 109h1M489 80h1M483 82h1M465 115h1M492 85h1M477 92h1M482 94h1M481 73h1M504 87h1M508 91h1M479 86h1M479 78h1M472 93h1M471 100h1M483 76h1M475 91h1M465 111h1M497 63h1M478 81h1M491 92h1M473 89h1M511 90h1M486 96h1M485 85h1M487 104h1M474 88h1M483 92h1M475 89h1M482 92h1M488 72h1M506 74h1M485 79h1M473 80h1M496 82h1M488 75h1M477 107h1M478 105h1M508 81h1M473 79h1M478 103h1M482 99h1M481 87h1M481 87h1M508 69h1M472 94h1M480 92h1M508 84h1M494 94h1M487 68h1M485 85h1M485 95h1M485 113h1M495 75h1M513 71h1M486 109h1M484 73h1M491 90h1M473 70h1M475 93h1M507 80h1M491 89h1M463 116h1M489 66h1M479 93h1M487 102h1M490 90h1M506 103h1M485 97h1M480 81h1M463 98h1M511 65h1M489 81h1M493 68h1M479 96h1M474 91h1M482 85h1M488 94h1M482 83h1M469 101h1M483 91h1M499 86h1M483 92h1M487 81h1M512 80h1M488 96h1M458 86h1M485 105h1M489 88h1M485 79h1M481 92h1M482 108h1M484 112h1M512 95h1M491 103h1M490 114h1M485 90h1M455 104h1M471 97h1M488 100h1M501 87h1M476 116h1M483 107h1M473 94h1M479 83h1M476 106h1M470 78h1M514 64h1M479 93h1M494 64h1M471 114h1M476 77h1M467 88h1M495 94h1M487 92h1M468 95h1M458 109h1M490 76h1M487 78h1M473 116h1M485 95h1M482 99h1M467 101h1M485 72h1M478 111h1M480 86h1M517 86h1M482 81h1M487 84h1M485 96h1M481 91h1M469 103h1M469 83h1M514 91h1M490 96h1M487 83h1M486 87h1M481 77h1M482 86h1M507 75h1M473 97h1M476 77h1M485 79h1M474 91h1M484 89h1M476 107h1M485 94h1M494 91h1M485 104h1M498 82h1M481 77h1M482 89h1M514 78h1M471 93h1M473 68h1M480 77h1M480 79h1M514 102h1M493 87h1M493 112h1M485 97h1M515 65h1M466 84h1M474 85h1M473 65h1M515 77h1M507 63h1M477 87h1M513 64h1M493 82h1M472 95h1M507 102h1M486 82h1M478 87h1M468 83h1M482 90h1M492 79h1M478 76h1M493 93h1M487 104h1M483 93h1M483 91h1M494 80h1M490 73h1M477 84h1M483 88h1M494 73h1M485 105h1M477 114h1M480 83h1M460 98h1M476 106h1M484 115h1M481 78h1M482 93h1M456 96h1M472 84h1M486 85h1M485 72h1M503 96h1M482 91h1M513 71h1M477 83h1M493 79h1M480 77h1M487 90h1M486 105h1M487 84h1M514 73h1M475 86h1M470 106h1M466 113h1M515 99h1M488 76h1M512 68h1M488 81h1M481 75h1M489 82h1M485 93h1M471 77h1M473 77h1M477 115h1M507 80h1M479 85h1M477 82h1M485 91h1M492 84h1M486 91h1M483 87h1M479 93h1M474 97h1M463 85h1M506 76h1M482 72h1M494 77h1M459 101h1M480 92h1M473 113h1M492 103h1M482 89h1M478 83h1M479 83h1M485 91h1M470 103h1M488 77h1M480 113h1M493 91h1M491 84h1M489 76h1M496 86h1M477 99h1M472 88h1M510 91h1M479 90h1M474 89h1M475 87h1M489 83h1M487 98h1M495 73h1M467 72h1M500 91h1M485 76h1M494 81h1M495 88h1M515 75h1M482 107h1M506 99h1M480 84h1M472 86h1M486 77h1M478 71h1M514 87h1M477 98h1M485 107h1M463 73h1M490 82h1M496 78h1M483 100h1M480 81h1M511 79h1M476 82h1M483 72h1M478 90h1M473 87h1M476 105h1M483 89h1M509 74h1M464 87h1M478 88h1M515 70h1M462 92h1M494 84h1M489 108h1M475 93h1M476 91h1M490 93h1M486 74h1M512 74h1M482 115h1M479 96h1M462 108h1M522 108h1M489 91h1M484 92h1M490 68h1M486 82h1M514 75h1M493 71h1M466 110h1M488 90h1M488 77h1M472 92h1M478 92h1M479 99h1M495 88h1M488 85h1M505 70h1M481 95h1M477 95h1M481 92h1M487 74h1M482 87h1M513 80h1M485 104h1M489 72h1M507 70h1M471 96h1M486 76h1M514 94h1M484 83h1M508 66h1M493 97h1M488 82h1M482 94h1M478 81h1M484 83h1M476 79h1M481 73h1M492 72h1M503 82h1M481 93h1M484 93h1M464 94h1M509 75h1M491 92h1M500 76h1M485 82h1M473 100h1M488 98h1M470 99h1M488 80h1M515 77h1M469 108h1M477 84h1M484 84h1M486 104h1M476 89h1M479 112h1M484 79h1M479 78h1M488 84h1M501 108h1M482 79h1M486 86h1M511 86h1M493 79h1M489 67h1M480 110h1M493 78h1M487 90h1M492 102h1M489 99h1M480 89h1M513 76h1M473 72h1M512 72h1M489 88h1M489 68h1M480 86h1M516 76h1M468 88h1M489 106h1M464 81h1M485 103h1M478 92h1M512 79h1M490 72h1M494 102h1M495 71h1M465 113h1M487 99h1M478 86h1M511 65h1M490 88h1M494 76h1M480 73h1M481 71h1M483 78h1M487 93h1M481 92h1M485 89h1M478 80h1M510 76h1M483 87h1M494 109h1M497 100h1M487 87h1M495 81h1M456 116h1M500 90h1M465 83h1M485 98h1M480 102h1M489 91h1M514 80h1M486 73h1M477 91h1M480 94h1M511 94h1M490 78h1M486 98h1M486 79h1M509 71h1M466 67h1M511 91h1M490 85h1M474 78h1M469 77h1M510 83h1M487 81h1M486 80h1M503 101h1M483 89h1M485 69h1M481 86h1M486 91h1M484 93h1M490 88h1M493 80h1M497 77h1M476 73h1M477 75h1M467 99h1M479 84h1M459 104h1M475 79h1M487 91h1M479 96h1M471 102h1M507 76h1M511 73h1M510 95h1M484 83h1M513 81h1M492 79h1M461 89h1M468 77h1M479 73h1M474 99h1M492 84h1M499 82h1M510 63h1M511 66h1M490 75h1M495 78h1M480 81h1M488 89h1M506 101h1M474 91h1M488 114h1M456 87h1M480 96h1M515 94h1M460 109h1M479 87h1M493 82h1M490 108h1M461 93h1M481 85h1M480 92h1M480 83h1M475 90h1M506 82h1M489 83h1M481 94h1M486 98h1M511 83h1M490 89h1M514 74h1M479 78h1M476 113h1M486 82h1M484 83h1M478 103h1M468 103h1M482 102h1M491 84h1M479 102h1M508 82h1M492 98h1M509 74h1M512 81h1M469 85h1M505 93h1M512 97h1M485 68h1M511 71h1M480 88h1M479 101h1M490 82h1M518 78h1" stroke="#000" stroke-width="1" stroke-opacity=".17" fill="none" transform="translate(0 .5)"/>
</g>
<line x1="494.1" y1="40.3" x2="494.1" y2="118" stroke="#ff5555" stroke-width="1.1"/>
<line x1="451.3" y1="79.4" x2="529.6" y2="79.4" stroke="#ff5555" stroke-width="1.1"/>
<rect x="451.3" y="40.3" width="78.3" height="77.7" fill="none" stroke="#6a8ad0" stroke-width="1.2"/>
<clipPath id="c9"><rect x="532.2" y="40.3" width="79.3" height="77.7"/></clipPath>
<g clip-path="url(#c9)">
<ellipse cx="563.3" cy="84" rx="4" ry="9" transform="rotate(5 563.3 84)" fill="#000" fill-opacity="0.6" filter="url(#bl3)"/>
<ellipse cx="556" cy="92" rx="9" ry="14" transform="rotate(20 556 92)" fill="#000" fill-opacity="0.24" filter="url(#bl4)"/>
<ellipse cx="572" cy="62" rx="11" ry="3.5" transform="rotate(-12 572 62)" fill="#000" fill-opacity="0.35" filter="url(#bl2)"/>
<ellipse cx="584.9" cy="71.3" rx="3.2" ry="6" transform="rotate(0 584.9 71.3)" fill="#000" fill-opacity="0.95" filter="url(#bl1)"/>
<ellipse cx="584.5" cy="82" rx="3.5" ry="9" transform="rotate(0 584.5 82)" fill="#000" fill-opacity="0.34" filter="url(#bl2)"/>
<path d="M544 100h1M567 98h1M578 81h1M553 79h1M587 77h1M563 83h1M565 65h1M566 83h1M580 73h1M580 77h1M584 63h1M540 107h1M576 86h1M585 71h1M551 89h1M551 104h1M574 84h1M587 88h1M565 78h1M587 65h1M555 86h1M555 73h1M581 75h1M548 108h1M574 84h1M559 101h1M570 94h1M556 87h1M567 59h1M565 99h1M558 92h1M567 84h1M557 83h1M563 80h1M564 96h1M568 69h1M568 78h1M560 115h1M559 65h1M564 96h1M583 63h1M578 60h1M552 65h1M572 77h1M555 85h1M566 90h1M584 65h1M576 76h1M583 76h1M544 92h1M562 104h1M572 94h1M557 84h1M549 80h1M573 59h1M583 60h1M568 84h1M550 60h1M552 97h1M593 79h1M581 69h1M560 107h1M572 91h1M553 85h1M562 103h1M557 67h1M571 74h1M556 93h1M564 75h1M559 96h1M585 74h1M552 60h1M565 95h1M560 69h1M563 86h1M536 87h1M565 59h1M561 72h1M587 63h1M538 89h1M567 56h1M547 91h1M569 92h1M567 79h1M556 83h1M558 98h1M563 90h1M576 59h1M560 111h1M573 71h1M575 91h1M574 60h1M562 72h1M583 71h1M554 94h1M587 58h1M577 58h1M573 74h1M559 58h1M558 108h1M585 72h1M599 55h1M551 100h1M557 110h1M547 100h1M572 95h1M563 78h1M588 59h1M563 78h1M588 83h1M565 88h1M585 69h1M546 91h1M569 64h1M540 94h1M563 72h1M580 73h1M586 73h1M570 79h1M557 94h1M556 94h1M584 61h1M567 115h1M564 95h1M565 92h1M558 107h1M584 69h1M564 94h1M547 90h1M559 79h1M561 100h1M569 86h1M585 72h1M587 80h1M562 94h1M555 93h1M536 84h1M590 58h1M543 89h1M542 111h1M566 83h1M567 84h1M557 84h1M554 86h1M551 88h1M553 84h1M558 92h1M572 89h1M552 113h1M580 75h1M562 82h1M566 92h1M561 66h1M566 94h1M558 94h1M545 74h1M564 80h1M568 83h1M585 90h1M543 83h1M560 80h1M571 63h1M560 69h1M563 85h1M562 102h1M565 93h1M535 95h1M574 65h1M556 103h1M550 95h1M575 62h1M561 64h1M565 80h1M561 103h1M562 74h1M578 87h1M574 67h1M560 97h1M561 81h1M575 66h1M557 79h1M568 91h1M557 97h1M550 107h1M572 77h1M584 60h1M549 93h1M565 100h1M565 86h1M567 64h1M555 107h1M562 65h1M571 66h1M552 89h1M560 71h1M560 82h1M572 110h1M559 85h1M559 103h1M572 67h1M568 96h1M558 91h1M556 108h1M569 89h1M575 80h1M556 75h1M581 76h1M536 92h1M568 88h1M563 82h1M557 84h1M587 61h1M583 61h1M560 56h1M539 106h1M548 94h1M569 77h1M567 61h1M559 84h1M583 79h1M563 81h1M566 91h1M563 93h1M560 74h1M546 79h1M560 71h1M562 96h1M559 101h1M582 69h1M536 92h1M568 91h1M561 93h1M559 67h1M555 83h1M563 77h1M558 76h1M551 73h1M562 82h1M551 104h1M566 90h1M581 91h1M563 71h1M575 58h1M555 66h1M580 65h1M580 74h1M561 108h1M567 67h1M590 73h1M563 97h1M572 81h1M564 87h1M556 86h1M567 82h1M587 61h1M563 70h1M568 97h1M560 85h1M578 85h1M566 62h1M578 57h1M577 61h1M567 93h1M546 103h1M561 107h1M542 70h1M571 84h1M547 98h1M565 73h1M552 105h1M551 86h1M553 68h1M580 61h1M589 58h1M551 85h1M554 110h1M574 71h1M551 63h1M583 60h1M548 90h1M563 85h1M579 69h1M562 72h1M564 107h1M562 84h1M565 94h1M586 78h1M550 74h1M573 88h1M557 99h1M560 90h1M601 114h1M552 112h1M560 66h1M542 90h1M548 103h1M569 76h1M562 89h1M550 95h1M559 91h1M574 86h1M564 90h1M559 68h1M584 80h1M569 97h1M555 61h1M546 86h1M537 102h1M572 100h1M575 65h1M566 64h1M551 88h1M591 77h1M560 94h1M561 90h1M572 104h1M564 94h1M548 93h1M584 76h1M551 89h1M587 87h1M586 93h1M562 92h1M566 89h1M564 69h1M556 76h1M590 76h1M594 56h1M556 91h1M580 73h1M544 106h1M585 87h1M565 63h1M587 94h1M563 73h1M564 84h1M570 87h1M561 90h1M566 86h1M588 74h1M558 79h1M557 74h1M569 67h1M556 69h1M558 104h1M562 97h1M575 69h1M570 69h1M585 92h1M581 70h1M564 82h1M569 99h1M578 84h1M565 92h1M581 88h1M565 91h1M559 94h1M590 88h1M584 68h1M580 60h1M588 69h1M555 100h1M570 60h1M569 64h1M567 78h1M562 77h1M588 60h1M551 67h1M558 99h1M559 81h1M561 81h1M576 58h1M572 70h1M551 86h1M567 69h1M567 93h1M579 84h1M554 103h1M566 77h1M563 99h1M547 109h1M572 106h1M543 88h1M587 97h1M588 76h1M554 64h1M557 83h1M562 83h1M552 94h1M567 81h1M563 77h1M562 109h1M546 96h1M557 88h1M576 90h1M559 101h1M555 81h1M588 79h1M557 86h1M554 96h1M556 65h1M583 74h1M585 85h1M553 96h1M541 85h1M583 64h1M557 75h1M554 93h1M561 67h1M565 64h1M562 67h1M563 94h1M553 111h1M552 103h1M564 84h1M559 98h1M576 95h1M568 100h1M576 61h1M548 106h1M565 105h1M568 81h1M563 84h1M562 89h1M571 90h1M585 70h1M579 71h1M547 88h1M558 110h1M564 58h1M562 70h1M568 93h1M559 86h1M570 62h1M561 101h1M585 57h1M583 60h1M553 82h1M564 111h1M560 98h1M567 92h1M560 82h1M576 85h1M555 72h1M561 90h1M562 62h1M578 96h1M544 107h1M562 90h1M559 104h1M570 80h1M552 70h1M561 87h1M581 87h1M550 93h1M548 90h1M583 84h1M570 108h1M588 63h1M552 66h1M566 68h1M575 56h1M584 58h1M563 85h1M584 61h1M564 81h1M591 60h1M551 80h1M562 99h1M576 87h1M567 99h1M575 73h1M554 105h1M561 85h1M565 84h1M570 71h1M560 88h1M555 100h1M558 66h1M554 63h1M577 92h1M571 63h1M562 107h1M562 86h1M558 93h1M557 104h1M556 87h1M570 92h1M556 97h1M581 70h1M548 96h1M554 96h1M581 85h1M567 80h1M579 73h1M582 56h1M563 77h1M567 71h1M567 76h1M565 62h1M570 63h1M561 66h1M564 71h1M561 78h1M566 60h1M581 63h1M574 59h1M557 90h1M559 84h1M544 67h1M583 74h1M553 105h1M564 83h1M560 77h1M556 91h1M553 91h1M568 91h1M559 64h1M566 96h1M565 71h1M559 94h1M550 66h1M588 86h1M591 60h1M562 77h1M560 90h1M558 112h1M563 98h1M576 65h1M560 85h1M566 65h1M562 95h1M555 102h1M580 69h1M563 80h1M544 103h1M570 63h1M551 76h1M561 85h1M591 60h1M570 94h1M569 90h1M561 89h1M580 69h1M557 79h1M584 64h1M541 115h1M562 94h1M559 74h1M563 81h1M565 88h1M579 60h1M558 100h1M541 82h1M586 68h1" stroke="#000" stroke-width="1" stroke-opacity=".17" fill="none" transform="translate(0 .5)"/>
<path d="M547 115h1M591 62h1M585 73h1M562 65h1M583 89h1M559 90h1M585 72h1M551 90h1M545 97h1M560 76h1M561 85h1M562 104h1M557 116h1M566 73h1M592 58h1M594 59h1M589 74h1M555 81h1M539 104h1M538 92h1M547 102h1M586 88h1M586 76h1M564 82h1M565 99h1M561 69h1M589 64h1M547 100h1M545 99h1M557 71h1M591 66h1M550 100h1M576 60h1M555 83h1M557 98h1M576 63h1M559 66h1M565 84h1M579 65h1M585 72h1M554 83h1M591 63h1M594 54h1M557 97h1M540 93h1M568 96h1M588 61h1M566 80h1M578 62h1M582 62h1M547 102h1M566 79h1M537 98h1M556 105h1M568 64h1M578 63h1M564 106h1M574 97h1M557 64h1M585 55h1M560 85h1M579 60h1M557 73h1M565 91h1M568 88h1M585 63h1M550 85h1M577 87h1M586 64h1M581 85h1M573 91h1M582 98h1M569 101h1M564 84h1M557 104h1M562 70h1M590 66h1M583 76h1M561 81h1M589 91h1M568 77h1M550 102h1M553 85h1M555 99h1M559 89h1M551 88h1M546 107h1M560 88h1M568 62h1M572 96h1M564 64h1M551 101h1M559 99h1M553 80h1M580 61h1M559 87h1M566 78h1M548 109h1M573 84h1M590 73h1M541 81h1M557 91h1M560 92h1M587 76h1M543 101h1M543 80h1M538 106h1M569 83h1M539 95h1M556 101h1M569 59h1M562 73h1M552 88h1M554 87h1M587 62h1M576 79h1M578 64h1M543 94h1M560 94h1M577 62h1M579 64h1M565 64h1M575 69h1M545 100h1M550 89h1M564 107h1M568 80h1M547 69h1M564 74h1M568 92h1M566 80h1M558 78h1M569 89h1M561 83h1M553 112h1M569 63h1M550 64h1M583 84h1M566 90h1M588 84h1M567 66h1M541 102h1M587 52h1M580 73h1M561 96h1M541 85h1M548 79h1M569 92h1M562 103h1M569 105h1M551 95h1M565 97h1M557 74h1M548 106h1M577 63h1M556 112h1M591 74h1M558 77h1M559 97h1M561 84h1M567 80h1M555 68h1M547 75h1M555 64h1M582 68h1M569 106h1M564 98h1M573 83h1M539 101h1M542 88h1M546 88h1M551 87h1M565 89h1M556 98h1M561 103h1M567 81h1M581 58h1M565 54h1M577 78h1M560 82h1M572 60h1M575 65h1M582 57h1M575 90h1M544 93h1M559 110h1M551 91h1M564 93h1M559 74h1M565 75h1M581 54h1M539 106h1M562 87h1M562 79h1M563 78h1M581 67h1M566 91h1M549 88h1M541 100h1M558 88h1M568 89h1M552 102h1M583 74h1M569 92h1M557 91h1M582 97h1M568 78h1M568 95h1M557 60h1M584 79h1M588 60h1M559 72h1M566 62h1M548 106h1M551 97h1M567 73h1M561 93h1M585 72h1M566 63h1M568 72h1M573 86h1M558 92h1M554 117h1M545 99h1M581 57h1M588 77h1M543 111h1M584 100h1M569 79h1M572 73h1M577 89h1M566 100h1M566 73h1M560 75h1M537 82h1M548 112h1M565 89h1M558 69h1M557 81h1M542 112h1M573 71h1M560 93h1M563 67h1M573 65h1M551 78h1M544 109h1M563 59h1M565 108h1M552 110h1M562 79h1M546 110h1M561 71h1M563 95h1M565 75h1M558 75h1M558 65h1M545 83h1M542 73h1M556 112h1M556 96h1M575 61h1M547 95h1M590 65h1M582 79h1M585 76h1M557 93h1M545 86h1M566 63h1M574 57h1M562 79h1M567 77h1M563 84h1M584 80h1M587 72h1M561 84h1M560 90h1M582 96h1M565 78h1M585 94h1M554 78h1M565 73h1M538 88h1M536 94h1M573 57h1M564 99h1M568 100h1M567 70h1M566 96h1M583 76h1M583 69h1M579 68h1M565 79h1M572 91h1M591 56h1M582 84h1M564 91h1M564 64h1M542 93h1M570 55h1M563 65h1M555 82h1M575 65h1M565 75h1M565 67h1M561 72h1M544 97h1M564 83h1M543 97h1M580 86h1M552 92h1M563 99h1M587 80h1M564 74h1M564 91h1M562 73h1M572 66h1M559 104h1M557 83h1M549 97h1M583 78h1M569 65h1M566 91h1M579 85h1M579 55h1M563 84h1M563 94h1M571 61h1M567 72h1M566 63h1M553 86h1M568 98h1M546 100h1M560 67h1M570 63h1M566 62h1M585 80h1M582 65h1M554 58h1M571 70h1M551 92h1M574 66h1M543 88h1M554 104h1M586 58h1M564 97h1M544 95h1M582 73h1M563 90h1M582 62h1M569 81h1M564 56h1M583 93h1M561 67h1M560 87h1M600 55h1M583 87h1M565 88h1M550 89h1M549 66h1M585 79h1M587 99h1M557 83h1M572 60h1M587 64h1M534 110h1M595 58h1M574 105h1M545 89h1M565 79h1M563 96h1M561 83h1M559 88h1M574 63h1M541 102h1M562 66h1M537 89h1M562 74h1M588 93h1M581 73h1M541 96h1M573 108h1M566 92h1M583 85h1M587 69h1M561 77h1M579 61h1M566 88h1M589 81h1M559 90h1M563 92h1M586 71h1M583 67h1M558 100h1M582 55h1M579 57h1M573 61h1M586 75h1M545 73h1M558 104h1M588 95h1M566 74h1M541 100h1M567 75h1M557 95h1M557 106h1M566 69h1M566 98h1M571 60h1M567 67h1M563 55h1M589 78h1M546 116h1M556 69h1M557 104h1M564 108h1M564 108h1M558 81h1M562 90h1M558 96h1M554 61h1M594 61h1M589 81h1M550 84h1M560 73h1M553 64h1M556 80h1M560 86h1M559 100h1M568 70h1M565 78h1M538 111h1M554 99h1M558 75h1M554 76h1M547 78h1M572 57h1M562 74h1M557 73h1M559 74h1M566 83h1M552 65h1M557 89h1M565 82h1M561 90h1M552 85h1M539 109h1M569 78h1M569 89h1M583 64h1M573 60h1M538 93h1M558 99h1M578 84h1M544 95h1M590 60h1M574 60h1M562 104h1M562 105h1M561 101h1M559 85h1M562 81h1M583 72h1M568 85h1M581 72h1M561 93h1M556 106h1M557 82h1M556 106h1M565 65h1M564 69h1M553 89h1M548 70h1M558 72h1M543 82h1M548 92h1M588 82h1M574 59h1M588 92h1M554 99h1M534 106h1M557 98h1M561 84h1M557 110h1M555 102h1M547 117h1M552 100h1M551 102h1M586 71h1M556 114h1M562 91h1M559 90h1M578 78h1M571 94h1M559 70h1M569 59h1M577 59h1M554 90h1M536 95h1M546 98h1M584 80h1M555 90h1M564 81h1M577 80h1M591 56h1M555 109h1M566 91h1M546 98h1M587 58h1M568 79h1M566 70h1M578 63h1M579 68h1M567 86h1M584 81h1M572 56h1M569 83h1M570 80h1M558 82h1M552 65h1M563 101h1M570 79h1M552 106h1M553 68h1M566 78h1M540 86h1M562 78h1M565 65h1M563 94h1M587 72h1M583 94h1M560 77h1M565 90h1M575 45h1M584 75h1M552 92h1M582 63h1M559 90h1M562 89h1M564 99h1M582 86h1M587 78h1M578 56h1M579 56h1M542 104h1M563 86h1M566 89h1M560 92h1M553 81h1M550 107h1M559 100h1M567 94h1M566 70h1M567 84h1M536 81h1M588 56h1" stroke="#000" stroke-width="1" stroke-opacity=".17" fill="none" transform="translate(0 .5)"/>
</g>
<line x1="570.8" y1="40.3" x2="570.8" y2="118" stroke="#ff5555" stroke-width="1.1"/>
<line x1="532.2" y1="79.4" x2="611.5" y2="79.4" stroke="#ff5555" stroke-width="1.1"/>
<rect x="532.2" y="40.3" width="79.3" height="77.7" fill="none" stroke="#6a8ad0" stroke-width="1.2"/>
<clipPath id="c10"><rect x="367.5" y="121.8" width="78.8" height="78.2"/></clipPath>
<g clip-path="url(#c10)">
<ellipse cx="405.5" cy="161.9" rx="4" ry="5" transform="rotate(30 405.5 161.9)" fill="#000" fill-opacity="0.8" filter="url(#bl2)"/>
<ellipse cx="396" cy="172" rx="8" ry="17" transform="rotate(40 396 172)" fill="#000" fill-opacity="0.37" filter="url(#bl4)"/>
<ellipse cx="421" cy="145" rx="12" ry="5" transform="rotate(-15 421 145)" fill="#000" fill-opacity="0.55" filter="url(#bl3)"/>
<ellipse cx="430" cy="146.9" rx="3.5" ry="3.2" transform="rotate(0 430 146.9)" fill="#000" fill-opacity="0.95" filter="url(#bl1)"/>
<path d="M398 168h1M405 171h1M410 151h1M407 165h1M407 175h1M394 197h1M404 163h1M400 159h1M400 159h1M416 163h1M376 180h1M380 185h1M396 181h1M403 157h1M382 192h1M394 175h1M369 198h1M412 168h1M407 158h1M394 196h1M397 174h1M385 155h1M401 178h1M411 156h1M436 148h1M383 172h1M415 154h1M443 145h1M403 164h1M395 162h1M401 171h1M395 189h1M390 198h1M408 150h1M409 151h1M407 143h1M398 186h1M438 141h1M409 145h1M416 148h1M400 166h1M390 177h1M406 162h1M387 177h1M378 176h1M425 155h1M377 196h1M405 155h1M406 163h1M402 168h1M404 159h1M404 144h1M433 138h1M411 142h1M390 160h1M412 153h1M430 145h1M388 171h1M385 194h1M415 139h1M421 154h1M428 138h1M434 146h1M392 179h1M404 185h1M414 175h1M405 153h1M413 153h1M390 182h1M421 150h1M414 151h1M388 176h1M405 149h1M422 141h1M401 162h1M392 187h1M408 188h1M388 157h1M398 170h1M377 188h1M406 144h1M381 184h1M397 169h1M418 140h1M420 142h1M407 159h1M435 154h1M385 190h1M422 137h1M420 141h1M411 153h1M415 160h1M418 151h1M408 160h1M413 159h1M415 151h1M390 182h1M378 187h1M387 177h1M389 177h1M393 176h1M402 166h1M382 181h1M430 143h1M406 174h1M388 193h1M403 153h1M419 146h1M404 144h1M414 148h1M413 158h1M388 155h1M443 143h1M429 151h1M413 143h1M386 167h1M403 165h1M395 160h1M378 183h1M420 149h1M422 137h1M437 147h1M389 186h1M381 159h1M389 165h1M393 178h1M413 163h1M417 167h1M392 164h1M388 184h1M401 163h1M421 148h1M411 144h1M383 189h1M425 151h1M395 173h1M404 156h1M394 158h1M399 155h1M412 143h1M398 148h1M430 130h1M390 192h1M406 168h1M428 149h1M410 149h1M437 143h1M408 159h1M421 150h1M385 179h1M390 169h1M398 156h1M392 163h1M434 152h1M391 174h1M402 168h1M423 145h1M405 145h1M401 182h1M378 179h1M410 146h1M431 142h1M405 151h1M427 147h1M399 174h1M409 155h1M408 161h1M389 194h1M416 146h1M403 153h1M432 139h1M395 162h1M411 178h1M406 162h1M431 137h1M401 165h1M404 167h1M392 177h1M433 145h1M431 143h1M401 151h1M425 146h1M384 179h1M414 156h1M417 151h1M405 164h1M443 133h1M390 186h1M438 147h1M442 136h1M392 184h1M407 170h1M437 132h1M427 148h1M400 146h1M398 156h1M410 169h1M434 145h1M397 178h1M405 156h1M411 152h1M413 157h1M385 192h1M411 142h1M390 163h1M410 162h1M409 151h1M405 160h1M411 156h1M397 166h1M414 144h1M438 147h1M402 169h1M405 161h1M377 189h1M403 157h1M403 161h1M425 139h1M423 147h1M413 144h1M393 150h1M388 164h1M404 173h1M392 167h1M393 169h1M391 176h1M401 178h1M407 156h1M400 164h1M387 183h1M383 164h1M430 143h1M388 166h1M404 165h1M410 158h1M419 155h1M389 177h1M406 166h1M417 165h1M398 165h1M407 150h1M403 143h1M400 184h1M398 156h1M402 184h1M427 144h1M407 158h1M417 157h1M390 170h1M412 151h1M409 151h1M417 165h1M410 157h1M408 150h1M412 162h1M409 169h1M397 196h1M403 177h1M396 147h1M404 160h1M411 174h1M411 149h1M423 138h1M445 143h1M433 147h1M408 156h1M396 172h1M380 189h1M426 141h1M394 169h1M386 152h1M396 159h1M421 153h1M392 171h1M402 147h1M385 194h1M390 192h1M406 158h1M388 169h1M417 134h1M406 139h1M412 147h1M406 140h1M419 150h1M435 141h1M423 133h1M375 186h1M384 162h1M421 157h1M387 187h1M400 145h1M383 183h1M435 144h1M417 152h1M438 140h1M380 165h1M397 168h1M405 165h1M416 162h1M416 177h1M388 163h1M395 169h1M412 147h1M424 149h1M398 191h1M437 131h1M399 170h1M423 145h1M380 162h1M409 153h1M377 171h1M426 149h1M408 152h1M396 167h1M376 177h1M434 139h1M404 142h1M411 135h1M406 178h1M417 146h1M426 147h1M439 141h1M378 172h1M419 177h1M403 168h1M399 175h1M418 155h1M404 166h1M416 139h1M408 159h1M387 179h1M400 182h1M423 141h1M409 164h1M379 184h1M403 184h1M420 138h1M386 163h1M407 151h1M409 163h1M425 145h1M432 143h1M410 149h1M435 153h1M410 139h1M389 176h1M404 147h1M401 172h1M398 147h1M398 166h1M409 166h1M411 139h1M404 167h1M373 177h1M422 135h1M402 161h1M430 141h1M399 155h1M370 175h1M373 177h1M383 178h1M379 185h1M411 143h1M409 178h1M393 178h1M404 140h1M419 148h1M427 142h1M385 184h1M409 164h1M419 157h1M412 150h1M395 170h1M433 146h1M403 150h1M424 139h1M402 160h1M397 183h1M435 146h1M391 184h1M393 176h1M399 189h1M381 183h1M424 144h1M441 138h1M378 177h1M399 167h1M432 140h1M408 157h1M399 171h1M416 137h1M388 183h1M383 175h1M404 157h1M409 152h1M438 143h1M396 175h1M382 172h1M430 141h1M414 158h1M435 139h1M390 188h1M395 191h1M417 163h1M429 146h1M419 145h1M402 170h1M425 151h1M405 160h1M372 189h1M420 147h1M377 178h1M407 159h1M381 182h1M396 172h1M420 160h1M389 174h1M401 171h1M415 162h1M373 182h1M431 138h1M407 152h1M401 175h1M399 177h1M391 155h1M390 181h1M430 141h1M407 189h1M414 147h1M436 139h1M419 147h1M409 175h1M432 149h1M416 159h1M433 151h1M391 189h1M419 142h1M396 168h1M421 143h1M375 194h1M401 154h1M392 166h1M392 175h1M380 192h1M396 145h1M397 168h1M409 145h1M380 179h1M406 157h1M392 192h1M383 186h1M383 188h1M401 160h1M401 156h1M404 157h1M434 145h1M403 163h1M435 145h1M381 180h1M399 174h1M436 140h1M416 153h1M420 140h1M432 138h1M395 178h1M404 169h1M395 159h1M369 179h1M406 168h1M436 140h1M389 163h1M413 163h1M405 165h1M398 177h1M419 149h1M432 148h1M385 182h1M413 159h1M400 164h1M407 168h1M381 187h1M390 154h1M393 168h1M404 152h1M434 144h1M402 143h1M394 195h1M410 162h1M401 171h1M383 181h1M397 183h1M425 151h1M404 159h1M373 180h1M376 166h1M405 159h1M406 172h1M408 149h1M400 174h1M381 164h1M436 145h1M394 185h1M413 141h1M390 192h1M402 143h1M400 166h1M407 166h1M417 136h1M408 152h1M399 162h1M377 168h1M416 162h1M399 147h1M406 174h1M439 143h1M385 186h1M378 175h1M418 142h1M401 162h1M390 164h1M415 148h1M403 155h1M394 151h1M410 166h1M388 174h1M405 166h1M439 142h1M403 171h1M388 160h1M431 142h1M408 157h1M427 143h1M395 186h1M402 177h1M378 170h1M434 147h1M382 175h1M382 164h1M420 150h1M432 139h1M399 163h1M393 151h1M419 152h1M437 135h1M433 143h1M423 151h1M399 198h1M407 145h1M382 182h1M429 146h1M406 164h1M402 151h1M387 190h1M426 140h1M385 175h1M399 166h1M379 182h1M392 176h1M432 152h1M423 145h1M398 181h1M383 175h1M413 155h1M401 172h1M401 158h1M413 155h1M387 166h1M430 142h1M378 196h1M424 148h1M401 156h1M384 191h1M412 162h1M416 146h1M406 159h1M402 165h1M400 170h1M444 140h1M397 182h1M410 150h1M417 149h1M409 171h1M409 174h1" stroke="#000" stroke-width="1" stroke-opacity=".17" fill="none" transform="translate(0 .5)"/>
<path d="M431 141h1M376 170h1M410 154h1M403 162h1M406 158h1M398 154h1M401 156h1M412 149h1M405 160h1M408 155h1M406 160h1M386 186h1M403 153h1M404 161h1M408 161h1M424 146h1M412 162h1M429 149h1M414 138h1M392 173h1M408 142h1M393 150h1M395 184h1M431 138h1M398 180h1M403 165h1M390 169h1M407 164h1M411 166h1M396 165h1M431 151h1M408 173h1M381 176h1M413 158h1M390 168h1M435 145h1M399 161h1M404 167h1M406 157h1M391 195h1M425 147h1M405 154h1M429 151h1M421 138h1M441 146h1M396 181h1M434 148h1M417 143h1M421 139h1M371 153h1M388 172h1M420 136h1M404 169h1M434 139h1M383 198h1M383 172h1M371 183h1M371 196h1M377 183h1M403 145h1M382 178h1M404 168h1M438 134h1M383 186h1M415 156h1M428 155h1M408 136h1M412 155h1M379 188h1M410 156h1M394 188h1M384 184h1M411 145h1M400 157h1M414 141h1M385 192h1M397 154h1M393 175h1M425 150h1M411 153h1M405 156h1M392 150h1M380 194h1M406 170h1M398 181h1M402 157h1M406 150h1M389 164h1M411 144h1M386 188h1M401 188h1M400 168h1M399 172h1M435 145h1M429 147h1M442 141h1M388 174h1M400 161h1M421 155h1M397 153h1M409 165h1M399 167h1M413 155h1M403 174h1M403 158h1M399 169h1M400 153h1M397 170h1M429 143h1M405 153h1M398 159h1M413 145h1M432 140h1M403 191h1M416 160h1M390 179h1M418 137h1M412 150h1M406 162h1M407 174h1M412 161h1M407 153h1M391 168h1M426 144h1M399 173h1M382 168h1M408 158h1M407 173h1M441 135h1M422 143h1M421 149h1M397 165h1M408 156h1M407 159h1M409 148h1M417 135h1M401 155h1M381 166h1M434 145h1M426 148h1M421 149h1M412 142h1M406 150h1M427 160h1M391 178h1M393 156h1M421 153h1M434 147h1M429 146h1M401 172h1M423 147h1M412 165h1M395 166h1M383 172h1M410 188h1M430 144h1M414 156h1M384 187h1M439 132h1M414 145h1M414 161h1M402 165h1M398 159h1M407 175h1M409 158h1M401 181h1M415 161h1M402 165h1M400 175h1M422 152h1M431 149h1M402 163h1M403 167h1M398 182h1M409 142h1M424 151h1M413 158h1M430 138h1M395 192h1M430 145h1M398 152h1M418 141h1M424 154h1M436 148h1M379 182h1M385 165h1M391 168h1M395 167h1M380 183h1M395 163h1M394 153h1M406 170h1M401 166h1M396 160h1M383 187h1M402 169h1M392 184h1M377 194h1M407 172h1M416 156h1M415 142h1M401 167h1M418 145h1M374 198h1M383 181h1M411 155h1M432 142h1M397 173h1M425 160h1M383 158h1M413 178h1M403 145h1M410 145h1M404 161h1M410 166h1M396 192h1M401 175h1M404 172h1M407 158h1M396 190h1M406 177h1M385 181h1M391 174h1M413 164h1M401 186h1M388 165h1M430 150h1M406 161h1M376 191h1M415 158h1M387 183h1M413 166h1M404 149h1M423 145h1M392 192h1M389 179h1M417 147h1M410 158h1M397 162h1M415 165h1M415 147h1M415 143h1M412 152h1M422 138h1M398 175h1M405 144h1M406 155h1M416 145h1M385 172h1M423 148h1M407 166h1M415 149h1M383 188h1M397 159h1M391 181h1M439 144h1M399 168h1M394 180h1M410 166h1M401 179h1M418 150h1M403 173h1M412 147h1M396 165h1M412 169h1M414 145h1M403 183h1M377 187h1M420 136h1M424 145h1M383 175h1M413 156h1M443 148h1M412 160h1M418 164h1M423 150h1M400 148h1M398 179h1M414 173h1M374 199h1M419 146h1M390 180h1M430 149h1M391 160h1M395 165h1M430 141h1M401 151h1M430 149h1M427 142h1M401 196h1M432 139h1M433 150h1M391 180h1M405 167h1M400 178h1M407 165h1M398 160h1M407 154h1M397 164h1M376 191h1M400 167h1M402 163h1M404 141h1M426 154h1M405 151h1M389 193h1M401 189h1M402 159h1M430 148h1M427 149h1M395 176h1M423 147h1M427 145h1M401 143h1M405 169h1M415 144h1M389 198h1M392 186h1M404 148h1M405 175h1M402 148h1M412 143h1M405 187h1M392 193h1M440 146h1M414 158h1M421 140h1M369 180h1M424 137h1M401 173h1M427 139h1M407 167h1M392 166h1M407 173h1M405 157h1M398 154h1M380 173h1M408 145h1M423 142h1M413 143h1M382 191h1M413 151h1M398 162h1M411 156h1M403 163h1M400 176h1M387 185h1M412 171h1M396 169h1M411 161h1M406 159h1M426 144h1M373 182h1M391 170h1M403 160h1M414 153h1M395 167h1M414 150h1M420 151h1M404 156h1M406 170h1M401 149h1M400 149h1M402 164h1M390 198h1M384 171h1M404 155h1M384 173h1M434 154h1M407 169h1M396 169h1M398 168h1M401 159h1M375 187h1M407 174h1M391 181h1M378 184h1M399 158h1M440 150h1M386 181h1M412 154h1M402 161h1M445 132h1M396 159h1M402 174h1M396 178h1M408 153h1M408 158h1M387 151h1M412 149h1M443 142h1M398 173h1M382 176h1M399 162h1M433 149h1M427 144h1M424 139h1M400 167h1M412 146h1M415 167h1M381 169h1M385 182h1M407 145h1M408 169h1M438 134h1M403 163h1M403 139h1M388 173h1M388 172h1M403 167h1M397 169h1M420 170h1M406 156h1M389 164h1M400 166h1M396 159h1M403 158h1M412 159h1M388 184h1M407 169h1M397 185h1M406 171h1M404 170h1M441 130h1M401 151h1M382 167h1M392 174h1M406 161h1M432 143h1M425 146h1M432 143h1M400 169h1M375 190h1M382 186h1M429 148h1M407 165h1M394 175h1M400 142h1M427 139h1M422 136h1M431 137h1M395 168h1M372 189h1M404 157h1M402 182h1M383 179h1M432 139h1M439 136h1M407 162h1M428 150h1M386 193h1M403 149h1M411 140h1M390 179h1M382 191h1M389 174h1M436 147h1M407 146h1M379 164h1M418 154h1M400 181h1M401 159h1M403 166h1M381 189h1M428 139h1M397 148h1M407 170h1M403 165h1M385 166h1M379 172h1M402 166h1M411 179h1M427 148h1M391 186h1M409 151h1M406 153h1M420 141h1M416 154h1M396 192h1M384 169h1M391 156h1M429 152h1M409 161h1M407 164h1M401 160h1M422 148h1M396 169h1M428 150h1M395 179h1M370 199h1M396 163h1M402 155h1M396 151h1M393 167h1M400 160h1M391 191h1M409 158h1M387 163h1M431 139h1M403 156h1M415 176h1M409 165h1M430 148h1M404 169h1M406 162h1M393 175h1M413 151h1M415 145h1M384 182h1M421 140h1M422 144h1M410 156h1M397 155h1M417 161h1M415 148h1M395 165h1M422 149h1M423 144h1M429 146h1M390 167h1M408 158h1M431 147h1M387 167h1M405 151h1M399 172h1M410 164h1M414 164h1M426 130h1M406 170h1M399 182h1M433 147h1M392 171h1M379 177h1M414 143h1M385 187h1M408 178h1M407 151h1M431 141h1M422 144h1M428 143h1M401 167h1M383 194h1M409 166h1M386 191h1M376 180h1M410 163h1M403 155h1M400 159h1M398 173h1M395 146h1M372 193h1M400 175h1M428 175h1M398 149h1M395 171h1M400 172h1M396 183h1M406 155h1M408 164h1M399 173h1M406 168h1M402 181h1M383 175h1M401 159h1M375 170h1M414 154h1M402 171h1M408 138h1M386 189h1M433 142h1M402 186h1M392 178h1M399 160h1M411 163h1M437 153h1M399 159h1M409 164h1M404 149h1M385 171h1M395 163h1M385 169h1M399 160h1M404 171h1M400 164h1" stroke="#000" stroke-width="1" stroke-opacity=".17" fill="none" transform="translate(0 .5)"/>
</g>
<line x1="410.2" y1="121.8" x2="410.2" y2="200" stroke="#ff5555" stroke-width="1.1"/>
<line x1="367.5" y1="160.7" x2="446.3" y2="160.7" stroke="#ff5555" stroke-width="1.1"/>
<rect x="367.5" y="121.8" width="78.8" height="78.2" fill="none" stroke="#6a8ad0" stroke-width="1.2"/>
<clipPath id="c11"><rect x="451.3" y="121.8" width="78.3" height="78.2"/></clipPath>
<g clip-path="url(#c11)">
<ellipse cx="486.8" cy="163.6" rx="4.5" ry="6.5" transform="rotate(30 486.8 163.6)" fill="#000" fill-opacity="0.75" filter="url(#bl2)"/>
<ellipse cx="478" cy="174" rx="9" ry="16" transform="rotate(35 478 174)" fill="#000" fill-opacity="0.37" filter="url(#bl4)"/>
<ellipse cx="510.4" cy="151.8" rx="3" ry="4" transform="rotate(0 510.4 151.8)" fill="#000" fill-opacity="0.95" filter="url(#bl1)"/>
<ellipse cx="512" cy="148" rx="5" ry="7" transform="rotate(30 512 148)" fill="#000" fill-opacity="0.42" filter="url(#bl3)"/>
<path d="M462 175h1M465 183h1M455 139h1M491 170h1M479 154h1M492 176h1M483 165h1M496 162h1M489 166h1M471 175h1M487 190h1M477 166h1M466 163h1M479 174h1M474 160h1M483 175h1M480 193h1M483 178h1M496 171h1M474 158h1M456 187h1M511 146h1M490 161h1M496 175h1M510 149h1M512 153h1M482 181h1M482 170h1M487 184h1M486 159h1M475 187h1M467 166h1M486 186h1M493 153h1M510 148h1M482 158h1M477 177h1M470 163h1M458 181h1M492 181h1M513 158h1M481 180h1M482 170h1M468 196h1M490 169h1M463 191h1M513 156h1M495 163h1M495 154h1M485 145h1M475 169h1M484 155h1M454 173h1M483 172h1M516 154h1M485 168h1M507 157h1M487 166h1M467 157h1M491 188h1M475 180h1M459 181h1M468 196h1M492 163h1M485 158h1M482 179h1M489 160h1M473 173h1M493 156h1M507 155h1M513 148h1M484 169h1M470 190h1M479 169h1M461 175h1M503 155h1M524 136h1M494 151h1M496 178h1M483 185h1M518 149h1M473 190h1M477 144h1M490 161h1M486 153h1M518 139h1M466 175h1M490 151h1M478 183h1M493 140h1M491 166h1M489 176h1M483 177h1M481 173h1M491 174h1M469 187h1M459 181h1M463 164h1M507 146h1M478 163h1M498 167h1M483 193h1M497 161h1M486 160h1M499 161h1M519 147h1M490 153h1M487 168h1M508 156h1M466 182h1M468 163h1M459 185h1M460 191h1M513 150h1M485 150h1M513 159h1M465 176h1M467 196h1M485 155h1M506 153h1M501 145h1M484 183h1M476 188h1M471 160h1M511 148h1M479 141h1M508 148h1M487 171h1M485 160h1M484 149h1M488 184h1M494 150h1M483 163h1M479 169h1M463 184h1M470 191h1M468 172h1M462 173h1M482 165h1M474 172h1M513 141h1M507 146h1M492 158h1M476 157h1M485 167h1M513 160h1M485 155h1M479 167h1M473 184h1M483 166h1M501 140h1M496 162h1M488 175h1M496 163h1M489 170h1M514 141h1M469 163h1M491 170h1M487 160h1M492 143h1M486 164h1M502 152h1M521 139h1M486 172h1M465 174h1M480 179h1M498 162h1M471 169h1M479 159h1M512 151h1M469 189h1M494 151h1M470 182h1M485 153h1M489 175h1M496 158h1M479 173h1M487 161h1M500 149h1M479 180h1M476 179h1M493 167h1M459 189h1M508 150h1M495 159h1M494 167h1M481 165h1M477 145h1M465 175h1M476 180h1M485 157h1M477 182h1M481 172h1M493 157h1M456 173h1M500 165h1M513 163h1M486 141h1M485 174h1M467 188h1M491 176h1M478 165h1M485 166h1M478 163h1M515 153h1M490 171h1M496 174h1M479 177h1M488 179h1M514 152h1M485 166h1M479 176h1M484 164h1M479 188h1M470 186h1M490 174h1M484 167h1M487 156h1M484 186h1M504 143h1M467 187h1M484 155h1M492 152h1M480 153h1M482 169h1M460 192h1M492 159h1M475 170h1M505 160h1M508 144h1M466 179h1M495 145h1M457 191h1M468 189h1M478 169h1M491 174h1M478 165h1M484 164h1M485 171h1M485 154h1M508 155h1M461 186h1M502 161h1M492 164h1M469 169h1M474 170h1M506 147h1M466 181h1M486 160h1M473 176h1M492 167h1M485 152h1M513 156h1M461 158h1M486 164h1M490 182h1M493 160h1M493 158h1M495 164h1M481 173h1M487 153h1M464 163h1M502 160h1M461 187h1M480 172h1M501 147h1M490 165h1M490 165h1M460 159h1M473 157h1M487 162h1M491 174h1M465 169h1M471 162h1M473 172h1M491 177h1M466 175h1M487 168h1M481 173h1M472 188h1M477 186h1M496 171h1M497 160h1M469 156h1M472 170h1M511 144h1M474 163h1M516 151h1M479 178h1M498 151h1M474 179h1M514 142h1M465 186h1M456 179h1M466 169h1M479 174h1M489 155h1M504 160h1M483 168h1M469 162h1M482 165h1M470 176h1M495 160h1M486 174h1M490 145h1M479 154h1M467 183h1M489 193h1M470 190h1M492 162h1M479 156h1M470 156h1M466 184h1M477 154h1M508 156h1M485 182h1M462 195h1M483 157h1M489 161h1M469 160h1M482 167h1M486 172h1M520 144h1M491 159h1M471 197h1M484 185h1M492 160h1M483 153h1M477 168h1M470 191h1M507 139h1M477 159h1M481 170h1M467 183h1M481 167h1M477 158h1M495 156h1M482 176h1M493 173h1M509 155h1M475 178h1M504 149h1M486 163h1M482 181h1M489 172h1M522 144h1M495 164h1M508 154h1M510 152h1M467 172h1M488 158h1M485 160h1M489 182h1M480 180h1M490 163h1M470 190h1M512 146h1M491 160h1M494 173h1M463 183h1M483 151h1M522 139h1M483 154h1M478 171h1M486 169h1M499 162h1M468 160h1M481 165h1M484 158h1M481 173h1M512 142h1M515 147h1M475 198h1M485 183h1M494 166h1M480 182h1M511 150h1M487 163h1M489 159h1M475 178h1M463 195h1M468 176h1M452 179h1M473 190h1M487 162h1M486 159h1M479 143h1M461 186h1M505 155h1M471 184h1M490 175h1M474 171h1M492 162h1M474 185h1M484 172h1M493 170h1M470 188h1M486 177h1M499 160h1M466 171h1M481 162h1M489 167h1M516 143h1M456 198h1M483 173h1M487 165h1M494 154h1M493 151h1M493 169h1M494 170h1M496 177h1M490 172h1M510 150h1M469 155h1M473 190h1M476 187h1M484 187h1M482 165h1M484 166h1M470 169h1M475 166h1M485 167h1M465 179h1M479 163h1M490 169h1M481 163h1M485 174h1M487 158h1M493 168h1M501 158h1M512 143h1M454 192h1M483 156h1M482 174h1M489 183h1M482 187h1M489 158h1M477 165h1M487 158h1M511 154h1M492 168h1M486 153h1M486 173h1M487 149h1M459 188h1M491 174h1M487 156h1M479 194h1M480 194h1M485 176h1M513 138h1M473 173h1M475 165h1M483 172h1M478 160h1M520 182h1M484 160h1M500 159h1M484 153h1M488 159h1M491 161h1M513 138h1M475 184h1M513 151h1M465 188h1M488 191h1M474 169h1M479 197h1M491 163h1M471 167h1M476 187h1M515 152h1M504 162h1M486 163h1M459 184h1M485 174h1M486 157h1M515 145h1M482 155h1M483 159h1M475 174h1M490 168h1M495 178h1M482 167h1M508 155h1M492 162h1M457 169h1M496 153h1M495 172h1M465 184h1M495 181h1M479 195h1M514 148h1M488 166h1M469 162h1M515 143h1M476 150h1M483 180h1M513 154h1M476 166h1M509 164h1M491 153h1M479 167h1M457 187h1M497 146h1M475 160h1M479 164h1M468 176h1M489 161h1M487 183h1M484 159h1M493 164h1M472 176h1" stroke="#000" stroke-width="1" stroke-opacity=".17" fill="none" transform="translate(0 .5)"/>
<path d="M469 194h1M475 181h1M475 165h1M477 163h1M478 156h1M483 161h1M489 165h1M475 165h1M514 146h1M508 154h1M471 166h1M462 159h1M484 182h1M497 173h1M487 167h1M496 149h1M489 164h1M513 156h1M505 151h1M494 166h1M458 188h1M459 196h1M471 185h1M494 155h1M515 156h1M483 149h1M454 173h1M482 161h1M485 161h1M492 171h1M463 195h1M461 189h1M482 176h1M483 174h1M513 146h1M471 186h1M472 185h1M481 169h1M509 155h1M481 179h1M504 153h1M487 173h1M474 153h1M471 178h1M477 187h1M486 170h1M477 163h1M492 158h1M499 162h1M464 180h1M471 188h1M498 164h1M481 152h1M493 154h1M463 184h1M487 159h1M483 166h1M497 177h1M491 166h1M465 190h1M487 164h1M516 157h1M482 174h1M473 196h1M489 169h1M475 167h1M482 169h1M472 176h1M498 186h1M464 159h1M493 140h1M481 178h1M514 158h1M472 162h1M486 160h1M482 158h1M495 161h1M512 141h1M497 151h1M483 155h1M522 137h1M460 175h1M488 155h1M468 174h1M463 177h1M493 152h1M463 165h1M482 169h1M467 174h1M461 191h1M465 194h1M486 171h1M480 157h1M488 177h1M471 178h1M486 170h1M481 160h1M484 157h1M472 197h1M472 174h1M492 178h1M485 159h1M497 155h1M469 171h1M489 153h1M504 150h1M479 196h1M502 155h1M488 161h1M514 146h1M489 163h1M465 186h1M508 148h1M483 164h1M486 162h1M499 141h1M485 161h1M478 173h1M489 157h1M464 189h1M466 195h1M467 174h1M480 161h1M480 171h1M482 179h1M489 174h1M469 165h1M493 156h1M497 170h1M492 175h1M489 186h1M505 144h1M491 171h1M459 175h1M491 161h1M482 166h1M482 185h1M489 166h1M485 167h1M465 191h1M475 169h1M497 176h1M480 168h1M518 150h1M496 161h1M479 155h1M511 144h1M484 160h1M484 153h1M502 178h1M469 192h1M492 157h1M481 178h1M513 151h1M481 160h1M511 155h1M486 170h1M461 182h1M485 176h1M518 142h1M471 189h1M481 193h1M490 173h1M514 150h1M478 161h1M491 163h1M486 158h1M478 180h1M487 167h1M484 173h1M485 166h1M502 177h1M503 153h1M480 182h1M501 150h1M482 165h1M485 167h1M471 187h1M473 173h1M494 152h1M496 157h1M475 189h1M480 170h1M476 167h1M478 144h1M509 148h1M485 155h1M513 152h1M513 147h1M470 188h1M486 151h1M478 167h1M483 161h1M470 189h1M461 165h1M482 154h1M457 165h1M513 139h1M486 169h1M490 164h1M482 186h1M468 174h1M505 149h1M469 186h1M512 143h1M472 170h1M470 188h1M487 196h1M492 151h1M480 176h1M472 166h1M487 164h1M459 184h1M482 152h1M475 183h1M496 163h1M512 147h1M485 167h1M490 165h1M463 188h1M486 159h1M486 150h1M511 148h1M474 171h1M482 164h1M457 194h1M484 160h1M484 172h1M493 169h1M488 161h1M476 181h1M480 168h1M514 143h1M488 168h1M508 150h1M466 176h1M482 176h1M470 170h1M468 162h1M461 186h1M489 160h1M467 186h1M515 156h1M510 152h1M471 178h1M481 167h1M483 165h1M488 139h1M455 188h1M467 193h1M492 172h1M464 180h1M454 175h1M453 188h1M482 172h1M481 171h1M471 195h1M485 159h1M488 154h1M514 151h1M472 184h1M475 157h1M480 183h1M489 160h1M483 182h1M484 155h1M481 168h1M455 183h1M479 185h1M456 195h1M503 159h1M457 172h1M467 152h1M525 142h1M492 164h1M488 181h1M469 156h1M498 138h1M492 151h1M491 160h1M508 152h1M493 167h1M488 165h1M486 168h1M507 158h1M476 154h1M481 176h1M488 166h1M487 161h1M484 172h1M511 154h1M485 168h1M493 159h1M488 164h1M470 180h1M482 175h1M510 147h1M459 181h1M483 171h1M511 153h1M479 193h1M483 160h1M497 153h1M467 186h1M484 161h1M476 183h1M489 173h1M472 193h1M511 153h1M475 173h1M470 194h1M465 169h1M453 173h1M482 142h1M492 164h1M489 158h1M460 179h1M492 155h1M506 146h1M459 185h1M488 167h1M512 149h1M471 194h1M513 156h1M496 166h1M471 169h1M476 179h1M487 157h1M479 173h1M491 168h1M479 177h1M493 192h1M486 152h1M452 189h1M483 184h1M512 148h1M479 190h1M491 163h1M486 178h1M465 184h1M476 174h1M454 193h1M468 154h1M468 182h1M491 182h1M473 158h1M520 150h1M461 193h1M486 173h1M478 174h1M478 171h1M507 152h1M488 163h1M480 168h1M473 169h1M488 173h1M489 164h1M478 183h1M488 141h1M467 169h1M483 152h1M492 159h1M480 198h1M457 188h1M476 189h1M468 171h1M465 154h1M517 152h1M523 137h1M470 188h1M484 166h1M509 153h1M485 170h1M490 168h1M506 152h1M472 190h1M507 144h1M480 176h1M491 147h1M491 166h1M489 167h1M485 168h1M481 164h1M485 168h1M488 155h1M490 174h1M478 162h1M472 160h1M512 147h1M489 181h1M493 164h1M485 163h1M486 181h1M497 170h1M464 184h1M489 155h1M475 158h1M496 167h1M484 157h1M492 173h1M504 147h1M454 199h1M488 157h1M485 166h1M469 184h1M476 159h1M496 156h1M484 173h1M491 161h1M480 165h1M475 180h1M474 160h1M518 146h1M473 179h1M473 196h1M482 162h1M485 165h1M483 179h1M493 155h1M506 146h1M467 165h1M491 169h1M464 168h1M472 188h1M481 179h1M482 162h1M494 160h1M506 149h1M487 160h1M488 187h1M472 179h1M488 168h1M469 167h1M484 152h1M478 191h1M468 175h1M464 199h1M491 155h1M480 170h1M469 190h1M512 148h1M484 157h1M493 159h1M478 154h1M514 138h1M466 168h1M469 166h1M486 174h1M493 159h1M491 161h1M486 167h1M468 192h1M514 153h1M495 156h1M490 157h1M488 169h1M486 156h1M512 149h1M469 165h1M478 162h1M488 171h1M512 155h1M466 175h1M513 143h1M478 169h1M459 165h1M471 171h1M504 161h1M473 183h1M480 167h1M487 154h1M456 191h1M454 184h1M482 155h1M472 192h1M473 185h1M493 162h1M498 156h1M513 155h1M482 159h1M483 190h1M491 160h1M476 165h1M480 171h1M483 158h1M491 152h1M459 193h1M483 147h1M516 158h1M487 163h1M487 151h1M512 152h1M497 156h1M492 169h1M480 170h1M464 192h1M501 162h1M500 142h1M511 154h1M493 162h1M473 185h1M466 177h1M479 166h1M485 171h1M486 177h1M504 156h1M483 192h1M478 178h1M475 178h1M512 154h1M522 157h1M491 151h1M515 148h1" stroke="#000" stroke-width="1" stroke-opacity=".17" fill="none" transform="translate(0 .5)"/>
</g>
<line x1="493.9" y1="121.8" x2="493.9" y2="200" stroke="#ff5555" stroke-width="1.1"/>
<line x1="451.3" y1="160.5" x2="529.6" y2="160.5" stroke="#ff5555" stroke-width="1.1"/>
<rect x="451.3" y="121.8" width="78.3" height="78.2" fill="none" stroke="#6a8ad0" stroke-width="1.2"/>
<clipPath id="c12"><rect x="532.2" y="121.8" width="79.3" height="78.2"/></clipPath>
<g clip-path="url(#c12)">
<ellipse cx="570" cy="164" rx="4" ry="6" transform="rotate(20 570 164)" fill="#000" fill-opacity="0.85" filter="url(#bl2)"/>
<ellipse cx="558" cy="174" rx="9" ry="16" transform="rotate(35 558 174)" fill="#000" fill-opacity="0.37" filter="url(#bl4)"/>
<ellipse cx="584" cy="145.5" rx="12" ry="4.5" transform="rotate(-10 584 145.5)" fill="#000" fill-opacity="0.58" filter="url(#bl3)"/>
<ellipse cx="595" cy="149.2" rx="3.2" ry="4.2" transform="rotate(0 595 149.2)" fill="#000" fill-opacity="0.95" filter="url(#bl1)"/>
<path d="M574 170h1M597 145h1M542 192h1M548 199h1M571 161h1M571 156h1M584 149h1M564 157h1M593 156h1M579 177h1M573 148h1M593 155h1M575 147h1M555 192h1M549 187h1M558 147h1M566 171h1M591 155h1M545 179h1M571 175h1M567 165h1M584 153h1M594 142h1M563 160h1M590 156h1M567 174h1M572 147h1M545 168h1M567 174h1M563 185h1M593 153h1M591 150h1M554 165h1M593 154h1M575 166h1M578 160h1M573 171h1M547 190h1M565 173h1M576 167h1M564 142h1M577 144h1M559 173h1M573 160h1M561 152h1M569 169h1M555 149h1M575 146h1M575 152h1M560 149h1M563 166h1M593 141h1M593 145h1M571 164h1M584 146h1M583 144h1M564 176h1M561 168h1M568 154h1M566 169h1M535 176h1M557 166h1M578 166h1M571 157h1M569 160h1M539 191h1M551 156h1M570 141h1M566 153h1M577 157h1M564 168h1M561 167h1M554 171h1M536 187h1M553 192h1M546 187h1M545 184h1M557 176h1M594 150h1M575 179h1M544 187h1M597 138h1M601 149h1M599 151h1M575 159h1M597 150h1M577 141h1M572 177h1M576 154h1M558 182h1M557 171h1M552 168h1M584 175h1M571 146h1M575 149h1M580 150h1M556 193h1M572 166h1M572 168h1M563 171h1M552 188h1M580 153h1M540 163h1M570 190h1M595 147h1M583 147h1M562 167h1M590 153h1M575 157h1M585 153h1M568 161h1M567 149h1M571 162h1M559 167h1M544 181h1M570 166h1M589 138h1M573 160h1M563 166h1M569 160h1M566 162h1M568 154h1M595 153h1M562 165h1M561 171h1M568 164h1M574 164h1M545 181h1M570 150h1M558 190h1M564 163h1M568 163h1M552 181h1M571 169h1M554 171h1M565 173h1M554 156h1M570 161h1M571 174h1M582 148h1M574 156h1M577 141h1M548 155h1M564 177h1M559 173h1M601 147h1M566 159h1M570 181h1M578 148h1M597 150h1M550 173h1M575 166h1M573 173h1M570 148h1M575 147h1M581 150h1M566 171h1M590 143h1M563 175h1M573 159h1M571 168h1M563 145h1M607 144h1M563 168h1M563 149h1M564 178h1M546 180h1M601 148h1M577 154h1M554 187h1M565 173h1M574 170h1M557 183h1M573 143h1M591 146h1M542 188h1M589 145h1M574 165h1M536 186h1M553 152h1M557 153h1M565 158h1M554 165h1M566 150h1M579 141h1M589 147h1M572 188h1M573 151h1M566 186h1M556 155h1M553 192h1M568 171h1M600 158h1M576 142h1M554 160h1M566 168h1M572 176h1M555 160h1M565 181h1M576 162h1M552 159h1M573 148h1M558 196h1M546 191h1M570 164h1M557 186h1M557 172h1M570 158h1M592 143h1M568 146h1M581 137h1M535 190h1M561 157h1M575 161h1M563 179h1M534 183h1M582 152h1M544 178h1M568 157h1M552 192h1M589 149h1M558 153h1M575 141h1M563 170h1M577 147h1M570 152h1M584 144h1M566 173h1M560 175h1M545 186h1M605 149h1M565 167h1M587 143h1M567 141h1M559 182h1M569 156h1M562 174h1M572 159h1M547 171h1M555 185h1M545 183h1M547 167h1M556 185h1M584 146h1M555 170h1M583 147h1M555 172h1M568 159h1M574 147h1M550 172h1M571 148h1M581 158h1M562 190h1M573 149h1M565 193h1M556 175h1M581 152h1M588 146h1M559 147h1M562 168h1M590 158h1M570 168h1M570 159h1M542 184h1M548 168h1M565 188h1M558 148h1M563 157h1M582 153h1M563 142h1M572 146h1M566 169h1M585 151h1M538 178h1M556 178h1M552 175h1M571 159h1M571 156h1M563 148h1M584 146h1M602 141h1M565 144h1M568 175h1M573 155h1M541 169h1M581 141h1M575 156h1M597 152h1M597 143h1M583 158h1M565 155h1M552 194h1M541 183h1M587 147h1M554 153h1M595 149h1M580 161h1M558 160h1M566 167h1M572 158h1M572 169h1M543 165h1M593 150h1M567 173h1M594 143h1M542 182h1M546 185h1M563 188h1M536 178h1M565 164h1M577 153h1M553 175h1M600 137h1M565 152h1M594 141h1M546 190h1M603 147h1M568 150h1M559 168h1M578 166h1M575 150h1M585 151h1M557 167h1M594 148h1M570 169h1M567 165h1M587 144h1M578 168h1M592 144h1M582 148h1M572 151h1M555 156h1M535 179h1M566 179h1M568 153h1M537 165h1M569 166h1M571 176h1M579 152h1M578 146h1M561 166h1M545 154h1M554 163h1M551 173h1M556 162h1M552 180h1M556 166h1M598 153h1M577 167h1M564 152h1M558 171h1M563 188h1M568 160h1M596 138h1M556 168h1M576 142h1M553 175h1M574 165h1M556 179h1M570 154h1M594 139h1M595 147h1M573 173h1M568 169h1M555 184h1M570 155h1M560 177h1M569 159h1M564 163h1M592 148h1M565 168h1M578 144h1M567 165h1M599 141h1M566 170h1M570 168h1M539 174h1M540 188h1M571 154h1M583 141h1M576 145h1M546 196h1M581 175h1M584 143h1M567 178h1M578 160h1M555 198h1M571 170h1M575 175h1M558 189h1M545 192h1M591 144h1M610 136h1M562 175h1M560 172h1M562 184h1M567 155h1M557 195h1M547 167h1M589 150h1M576 161h1M584 149h1M591 144h1M555 176h1M576 151h1M573 161h1M591 147h1M600 142h1M581 148h1M558 192h1M567 179h1M560 167h1M564 182h1M578 170h1M598 147h1M553 168h1M591 144h1M564 153h1M550 183h1M546 153h1M555 158h1M595 147h1M555 147h1M561 174h1M547 176h1M539 177h1M576 174h1M591 146h1M579 159h1M575 151h1M570 170h1M564 163h1M560 173h1M550 147h1M561 178h1M572 144h1M552 178h1M556 154h1M550 196h1M596 153h1M609 141h1M577 148h1M581 149h1M564 150h1M592 159h1M562 152h1M569 184h1M597 146h1M574 161h1M558 194h1M582 155h1M567 180h1M595 152h1M557 173h1M553 172h1M572 164h1M593 142h1M568 168h1M558 182h1M606 148h1M554 167h1M550 175h1M554 176h1M594 145h1M543 184h1M557 173h1M554 194h1M580 148h1M564 171h1M564 161h1M582 138h1M574 163h1M568 170h1M553 177h1M590 145h1M570 166h1M564 146h1M569 164h1M591 143h1M593 143h1M535 172h1M562 186h1M555 167h1M541 169h1M599 144h1M576 164h1M566 154h1M570 165h1M556 191h1M572 147h1M565 149h1M583 143h1M561 148h1M560 163h1M548 184h1M553 182h1M553 172h1M560 179h1M570 163h1M549 185h1M576 154h1M568 149h1M569 169h1M541 181h1M540 187h1M577 148h1M561 166h1M553 173h1M542 187h1M560 175h1M592 147h1M572 174h1M563 172h1M593 153h1M567 151h1M600 133h1M544 171h1M577 165h1M589 145h1M556 183h1M593 146h1M581 147h1M556 161h1M582 139h1M572 171h1M553 189h1M568 170h1M580 145h1M560 179h1M610 144h1M584 151h1M581 152h1M564 195h1M570 165h1M581 142h1M550 163h1M578 162h1M590 135h1M597 149h1M571 156h1M569 163h1M551 174h1M571 177h1M572 150h1M568 168h1M568 157h1M549 187h1M574 172h1M538 171h1M582 138h1M553 193h1M554 160h1M589 142h1M567 167h1M568 179h1M543 169h1M589 149h1M570 152h1M571 159h1M600 143h1M572 170h1M593 147h1" stroke="#000" stroke-width="1" stroke-opacity=".17" fill="none" transform="translate(0 .5)"/>
<path d="M558 170h1M556 144h1M567 170h1M584 142h1M582 170h1M588 143h1M555 182h1M568 159h1M569 167h1M572 183h1M551 186h1M572 155h1M563 176h1M592 148h1M581 161h1M591 150h1M582 144h1M561 150h1M548 187h1M545 174h1M595 148h1M575 164h1M573 146h1M543 159h1M563 173h1M585 151h1M604 147h1M569 175h1M586 147h1M569 152h1M608 146h1M548 185h1M583 143h1M562 170h1M566 169h1M561 170h1M565 164h1M559 166h1M568 159h1M551 188h1M550 186h1M565 158h1M569 176h1M589 146h1M564 175h1M542 193h1M569 168h1M551 196h1M559 184h1M596 144h1M590 140h1M572 178h1M539 191h1M577 162h1M564 150h1M573 141h1M594 140h1M546 197h1M538 187h1M569 153h1M592 144h1M607 141h1M579 141h1M590 147h1M581 146h1M585 151h1M566 145h1M559 174h1M547 166h1M572 166h1M566 179h1M553 166h1M551 168h1M559 174h1M562 162h1M566 162h1M554 160h1M566 159h1M576 148h1M568 161h1M533 176h1M554 186h1M570 192h1M597 151h1M565 160h1M564 164h1M562 163h1M544 172h1M565 157h1M568 158h1M561 149h1M585 144h1M567 153h1M574 161h1M593 147h1M570 167h1M543 178h1M578 146h1M592 149h1M569 174h1M583 140h1M556 173h1M571 163h1M553 172h1M545 172h1M568 176h1M588 148h1M574 170h1M575 154h1M589 149h1M580 170h1M590 145h1M591 153h1M581 158h1M570 163h1M585 144h1M557 159h1M553 175h1M574 148h1M550 175h1M571 161h1M571 145h1M575 151h1M560 173h1M572 154h1M566 174h1M565 185h1M557 174h1M563 192h1M547 171h1M550 188h1M573 162h1M568 162h1M568 163h1M564 165h1M563 160h1M595 149h1M594 142h1M534 188h1M562 175h1M556 176h1M575 153h1M557 184h1M559 144h1M608 141h1M599 150h1M572 161h1M567 159h1M562 159h1M547 186h1M563 151h1M571 164h1M597 149h1M570 171h1M569 167h1M600 143h1M592 149h1M563 170h1M589 134h1M560 179h1M578 143h1M549 175h1M573 158h1M559 171h1M571 147h1M609 141h1M579 156h1M576 172h1M574 171h1M581 172h1M601 138h1M573 163h1M545 180h1M553 158h1M574 145h1M563 161h1M554 165h1M572 150h1M565 171h1M560 150h1M567 151h1M563 164h1M555 173h1M587 141h1M562 178h1M605 140h1M559 165h1M562 166h1M603 149h1M571 161h1M600 150h1M563 142h1M594 155h1M571 152h1M572 140h1M587 138h1M555 156h1M544 181h1M558 190h1M580 156h1M559 175h1M553 172h1M585 149h1M536 173h1M539 183h1M570 176h1M570 162h1M559 151h1M580 175h1M537 184h1M566 166h1M576 165h1M573 145h1M583 156h1M563 175h1M574 156h1M573 146h1M569 170h1M566 167h1M560 180h1M577 156h1M535 190h1M577 149h1M577 145h1M606 136h1M600 148h1M598 147h1M556 162h1M571 185h1M596 151h1M581 147h1M544 170h1M573 168h1M601 137h1M556 152h1M574 140h1M541 184h1M570 161h1M549 160h1M566 179h1M562 144h1M574 177h1M556 168h1M563 177h1M558 152h1M560 179h1M548 177h1M551 177h1M568 160h1M593 139h1M570 157h1M548 172h1M581 151h1M550 170h1M569 142h1M553 190h1M559 193h1M547 173h1M562 182h1M577 164h1M596 152h1M594 153h1M569 161h1M568 144h1M591 147h1M573 148h1M566 162h1M569 160h1M559 146h1M593 145h1M556 194h1M541 182h1M549 181h1M564 190h1M544 162h1M573 170h1M551 180h1M575 147h1M577 153h1M567 147h1M563 151h1M565 151h1M575 160h1M567 165h1M561 182h1M572 159h1M549 193h1M586 151h1M573 167h1M580 145h1M566 166h1M577 162h1M556 168h1M574 152h1M542 153h1M565 164h1M559 183h1M570 170h1M545 168h1M535 149h1M551 161h1M554 176h1M559 178h1M586 160h1M570 183h1M570 167h1M570 158h1M567 145h1M550 197h1M573 174h1M573 177h1M575 168h1M574 185h1M566 174h1M582 152h1M564 179h1M564 176h1M568 154h1M558 155h1M588 141h1M548 185h1M589 152h1M567 145h1M557 187h1M577 169h1M564 146h1M559 160h1M578 145h1M553 175h1M580 169h1M572 151h1M567 168h1M576 162h1M558 169h1M552 193h1M563 157h1M570 160h1M558 179h1M576 172h1M554 188h1M577 165h1M583 150h1M561 177h1M580 136h1M569 154h1M572 165h1M569 160h1M569 185h1M566 170h1M562 195h1M575 152h1M536 187h1M549 170h1M592 147h1M583 141h1M554 175h1M562 165h1M571 184h1M596 147h1M559 171h1M569 160h1M556 161h1M568 160h1M576 173h1M576 139h1M562 149h1M572 152h1M574 162h1M577 163h1M562 143h1M570 166h1M563 155h1M570 163h1M562 166h1M582 147h1M561 168h1M578 180h1M601 136h1M558 170h1M596 147h1M552 177h1M574 164h1M568 177h1M594 142h1M569 151h1M552 173h1M562 154h1M559 184h1M596 153h1M539 190h1M571 154h1M547 196h1M593 147h1M559 180h1M572 174h1M593 145h1M572 158h1M551 185h1M556 197h1M565 169h1M562 163h1M568 159h1M597 153h1M575 140h1M565 174h1M594 140h1M569 167h1M569 170h1M558 168h1M568 170h1M558 184h1M583 163h1M574 161h1M593 139h1M547 186h1M609 139h1M570 151h1M580 163h1M552 150h1M579 157h1M545 178h1M562 173h1M549 186h1M579 153h1M571 152h1M569 159h1M580 153h1M575 137h1M595 142h1M598 142h1M597 151h1M563 173h1M564 149h1M592 136h1M596 146h1M560 171h1M552 185h1M559 170h1M562 172h1M564 148h1M548 190h1M570 159h1M552 184h1M546 165h1M573 154h1M578 157h1M562 197h1M565 173h1M579 143h1M572 155h1M557 170h1M584 155h1M571 172h1M598 144h1M570 184h1M576 147h1M572 141h1M585 137h1M558 167h1M556 191h1M570 175h1M574 178h1M575 159h1M549 195h1M573 167h1M565 153h1M575 147h1M562 154h1M546 162h1M549 176h1M598 150h1M575 152h1M577 178h1M558 160h1M571 166h1M598 141h1M551 164h1M538 133h1M595 145h1M596 146h1M558 179h1M584 145h1M568 166h1M571 152h1M567 166h1M549 173h1M567 170h1M539 166h1M581 157h1M576 148h1M558 173h1M562 173h1M558 169h1M557 184h1M573 144h1M576 166h1M564 168h1M567 185h1M543 168h1M568 161h1M559 174h1M547 194h1M583 147h1M547 195h1M566 176h1M600 135h1M566 181h1M560 163h1M586 149h1M573 171h1M581 177h1M569 178h1M570 166h1M586 145h1M559 182h1M549 176h1M563 178h1M572 156h1M547 199h1M549 166h1M550 192h1M570 161h1M595 150h1M575 167h1M556 158h1M539 186h1M546 186h1M571 155h1M573 144h1M542 169h1M573 162h1M558 190h1M565 180h1M569 156h1M545 168h1M570 162h1M555 154h1M551 185h1M555 173h1M562 166h1M603 146h1M563 164h1M584 150h1M571 161h1M563 165h1M594 135h1M585 151h1M560 180h1M567 149h1M540 164h1M544 191h1M567 162h1M574 166h1M588 141h1M570 164h1M567 173h1M594 140h1M582 137h1M607 144h1M545 178h1M596 145h1M551 163h1M574 174h1" stroke="#000" stroke-width="1" stroke-opacity=".17" fill="none" transform="translate(0 .5)"/>
</g>
<line x1="571.9" y1="121.8" x2="571.9" y2="200" stroke="#ff5555" stroke-width="1.1"/>
<line x1="532.2" y1="160.2" x2="611.5" y2="160.2" stroke="#ff5555" stroke-width="1.1"/>
<rect x="532.2" y="121.8" width="79.3" height="78.2" fill="none" stroke="#6a8ad0" stroke-width="1.2"/>
<line x1="127.2" y1="69" x2="127.2" y2="117.1" stroke="#f00" stroke-width="2"/>
<path d="M127.2 123.4L123.7 116.6L130.7 116.6Z" fill="#f00"/>
<line x1="427.5" y1="79.5" x2="427.5" y2="126.3" stroke="#f00" stroke-width="2"/>
<path d="M427.5 133L423.8 125.8L431.2 125.8Z" fill="#f00"/>
<text x="119" y="53.6" font-size="12" class="b" textLength="26.3" lengthAdjust="spacingAndGlyphs">1.8%</text>
<text x="114.1" y="171.9" font-size="12" class="b" textLength="33.5" lengthAdjust="spacingAndGlyphs">30.9%</text>
<text x="412.2" y="58.6" font-size="12" class="b" textLength="28" lengthAdjust="spacingAndGlyphs">2.1%</text>
<text x="410.9" y="174.4" font-size="12" class="b" textLength="34.2" lengthAdjust="spacingAndGlyphs">20.2%</text>
<text x="59.8" y="135.3" font-size="12" text-anchor="end" textLength="11.8" lengthAdjust="spacingAndGlyphs">10</text>
<text x="60.2" y="130.7" font-size="6.5">5</text>
<line x1="66.8" y1="131.9" x2="70" y2="131.9" stroke="#222" stroke-width=".9"/>
<text x="59.8" y="152" font-size="12" text-anchor="end" textLength="11.8" lengthAdjust="spacingAndGlyphs">10</text>
<text x="60.2" y="147.4" font-size="6.5">4</text>
<line x1="66.8" y1="148.4" x2="70" y2="148.4" stroke="#222" stroke-width=".9"/>
<text x="59.8" y="169.5" font-size="12" text-anchor="end" textLength="11.8" lengthAdjust="spacingAndGlyphs">10</text>
<text x="60.2" y="164.9" font-size="6.5">3</text>
<line x1="66.8" y1="166.6" x2="70" y2="166.6" stroke="#222" stroke-width=".9"/>
<text x="59.8" y="185.9" font-size="12" text-anchor="end" textLength="11.8" lengthAdjust="spacingAndGlyphs">10</text>
<text x="60.2" y="181.3" font-size="6.5">2</text>
<line x1="66.8" y1="182.8" x2="70" y2="182.8" stroke="#222" stroke-width=".9"/>
<text x="59.8" y="202.9" font-size="12" text-anchor="end" textLength="11.8" lengthAdjust="spacingAndGlyphs">10</text>
<text x="60.2" y="198.3" font-size="6.5">1</text>
<line x1="66.8" y1="199.3" x2="70" y2="199.3" stroke="#222" stroke-width=".9"/>
<text x="80" y="213.3" font-size="12" textLength="12.6" lengthAdjust="spacingAndGlyphs">10</text>
<text x="92.8" y="209.3" font-size="6.5">2</text>
<text x="114.5" y="213.3" font-size="12" textLength="12.6" lengthAdjust="spacingAndGlyphs">10</text>
<text x="127.3" y="209.3" font-size="6.5">4</text>
<text x="137.2" y="213.3" font-size="12" textLength="12.6" lengthAdjust="spacingAndGlyphs">10</text>
<text x="150" y="209.3" font-size="6.5">5</text>
<line x1="70.7" y1="199.3" x2="70.7" y2="202.6" stroke="#222" stroke-width=".9"/>
<line x1="87.3" y1="199.3" x2="87.3" y2="202.6" stroke="#222" stroke-width=".9"/>
<line x1="103.9" y1="199.3" x2="103.9" y2="202.6" stroke="#222" stroke-width=".9"/>
<line x1="121.1" y1="199.3" x2="121.1" y2="202.6" stroke="#222" stroke-width=".9"/>
<line x1="137.6" y1="199.3" x2="137.6" y2="202.6" stroke="#222" stroke-width=".9"/>
<rect x="5" y="248.5" width="669" height="398" fill="none" stroke="#000" stroke-width="1.7"/>
<line x1="126.9" y1="248.5" x2="126.9" y2="646.5" stroke="#000" stroke-width="1.7"/>
<text x="11.3" y="266.5" font-size="17" class="b" textLength="8.3" lengthAdjust="spacingAndGlyphs">b</text>
<text x="137.6" y="264.9" font-size="17" class="b" textLength="6.8" lengthAdjust="spacingAndGlyphs">c</text>
<text x="71.2" y="277.7" font-size="13" class="b" text-anchor="middle">Spleen</text>
<path d="M45.8 292.2V350.3H96" fill="none" stroke="#444" stroke-width="1"/>
<line x1="44" y1="292.2" x2="45.8" y2="292.2" stroke="#444" stroke-width="1"/>
<text x="39.6" y="295" font-size="8" class="b" text-anchor="end">4×10</text>
<text x="39.8" y="292" font-size="5" class="b">7</text>
<line x1="44" y1="306.4" x2="45.8" y2="306.4" stroke="#444" stroke-width="1"/>
<text x="39.6" y="309.2" font-size="8" class="b" text-anchor="end">3×10</text>
<text x="39.8" y="306.2" font-size="5" class="b">7</text>
<line x1="44" y1="320.9" x2="45.8" y2="320.9" stroke="#444" stroke-width="1"/>
<text x="39.6" y="323.7" font-size="8" class="b" text-anchor="end">2×10</text>
<text x="39.8" y="320.7" font-size="5" class="b">7</text>
<line x1="44" y1="335.3" x2="45.8" y2="335.3" stroke="#444" stroke-width="1"/>
<text x="39.6" y="338.1" font-size="8" class="b" text-anchor="end">1×10</text>
<text x="39.8" y="335.1" font-size="5" class="b">7</text>
<line x1="44" y1="350.3" x2="45.8" y2="350.3" stroke="#444" stroke-width="1"/>
<text x="43" y="353.3" font-size="8" class="b" text-anchor="end">0</text>
<rect x="54.3" y="348.1" width="13.5" height="2.2" fill="#fff" stroke="#444" stroke-width="1.3"/>
<rect x="74.4" y="313" width="14.2" height="37.3" fill="#a0a0a0" stroke="#555" stroke-width="1.3"/>
<line x1="60.6" y1="350.3" x2="60.6" y2="352.5" stroke="#444" stroke-width="1"/>
<line x1="81.4" y1="350.3" x2="81.4" y2="352.5" stroke="#444" stroke-width="1"/>
<path d="M60.4 341.5V293.9H81.6V296.2" fill="none" stroke="#555" stroke-width=".8"/>
<line x1="81.4" y1="297.5" x2="81.4" y2="313" stroke="#555" stroke-width=".8"/>
<circle cx="81.4" cy="300.5" r="1.2" fill="#fff" stroke="#333" stroke-width=".7"/>
<circle cx="81.4" cy="315.5" r="1.2" fill="#fff" stroke="#333" stroke-width=".7"/>
<circle cx="81.4" cy="323.4" r="1.2" fill="#fff" stroke="#333" stroke-width=".7"/>
<path d="M56.5 346.8l1.3 1.8h-2.6z" fill="#222"/>
<path d="M60.6 346.2l1.3 1.8h-2.6z" fill="#222"/>
<path d="M65 346.8l1.3 1.8h-2.6z" fill="#222"/>
<text x="53.2" y="290.6" font-size="7.5" fill="#222"><tspan font-style="italic">p</tspan> = 0.0061</text>
<text x="85.6" y="299.9" font-size="8" class="b i">x16.4 fold</text>
<text x="18.8" y="318.5" font-size="9" class="b" text-anchor="middle" transform="rotate(-90 18.8 318.5)" textLength="87" lengthAdjust="spacingAndGlyphs">Neutrophils number</text>
<text x="64.5" y="359.8" font-size="8" class="b" text-anchor="end" transform="rotate(-45 64.5 359.8)">Naive</text>
<text x="85.3" y="359.5" font-size="8" class="b" text-anchor="end" transform="rotate(-45 85.3 359.5)">14 dpi</text>
<text x="79.2" y="410.3" font-size="13" class="b" text-anchor="middle">Blood</text>
<path d="M54.5 423.4V481.3H103.2" fill="none" stroke="#444" stroke-width="1"/>
<line x1="52.7" y1="423.4" x2="54.5" y2="423.4" stroke="#444" stroke-width="1"/>
<text x="48.3" y="426.2" font-size="8" class="b" text-anchor="end">1.5×10</text>
<text x="48.5" y="423.2" font-size="5" class="b">6</text>
<line x1="52.7" y1="443.2" x2="54.5" y2="443.2" stroke="#444" stroke-width="1"/>
<text x="48.3" y="446" font-size="8" class="b" text-anchor="end">1×10</text>
<text x="48.5" y="443" font-size="5" class="b">6</text>
<line x1="52.7" y1="462.4" x2="54.5" y2="462.4" stroke="#444" stroke-width="1"/>
<text x="48.3" y="465.2" font-size="8" class="b" text-anchor="end">5×10</text>
<text x="48.5" y="462.2" font-size="5" class="b">5</text>
<line x1="52.7" y1="481.3" x2="54.5" y2="481.3" stroke="#444" stroke-width="1"/>
<text x="51.7" y="484.3" font-size="8" class="b" text-anchor="end">0</text>
<rect x="61.7" y="464" width="13.8" height="17.3" fill="#fff" stroke="#444" stroke-width="1.3"/>
<rect x="82.5" y="446.1" width="13.5" height="35.2" fill="#a0a0a0" stroke="#555" stroke-width="1.3"/>
<line x1="68.8" y1="481.3" x2="68.8" y2="483.5" stroke="#444" stroke-width="1"/>
<line x1="89.2" y1="481.3" x2="89.2" y2="483.5" stroke="#444" stroke-width="1"/>
<path d="M68.8 460.4V429.3H89.2V431" fill="none" stroke="#555" stroke-width=".8"/>
<line x1="89.2" y1="435.2" x2="89.2" y2="446.1" stroke="#555" stroke-width=".8"/>
<circle cx="89.2" cy="436" r="1.2" fill="#fff" stroke="#333" stroke-width=".7"/>
<circle cx="89.2" cy="447.8" r="1.2" fill="#fff" stroke="#333" stroke-width=".7"/>
<circle cx="89.2" cy="455" r="1.2" fill="#fff" stroke="#333" stroke-width=".7"/>
<path d="M64.5 462.6l1.3 1.8h-2.6z" fill="#222"/>
<path d="M68.8 462.3l1.3 1.8h-2.6z" fill="#222"/>
<path d="M73 462.6l1.3 1.8h-2.6z" fill="#222"/>
<text x="61.2" y="426.8" font-size="7.5" fill="#222"><tspan font-style="italic">p</tspan> = 0.0332</text>
<text x="93.9" y="433.8" font-size="8" class="b i">x2 fold</text>
<text x="18.8" y="450.3" font-size="9" class="b" text-anchor="middle" transform="rotate(-90 18.8 450.3)" textLength="67.2" lengthAdjust="spacingAndGlyphs">Neutrophils/mL</text>
<text x="72" y="491.5" font-size="8" class="b" text-anchor="end" transform="rotate(-45 72 491.5)">Naive</text>
<text x="93.6" y="490.8" font-size="8" class="b" text-anchor="end" transform="rotate(-45 93.6 490.8)">14 dpi</text>
<text x="69.9" y="541.9" font-size="13" class="b" text-anchor="middle">Bone Marrow</text>
<path d="M48.6 559.8V618.5H91.4" fill="none" stroke="#444" stroke-width="1"/>
<line x1="46.8" y1="559.8" x2="48.6" y2="559.8" stroke="#444" stroke-width="1"/>
<text x="42.4" y="562.6" font-size="8" class="b" text-anchor="end">5×10</text>
<text x="42.6" y="559.6" font-size="5" class="b">6</text>
<line x1="46.8" y1="571.5" x2="48.6" y2="571.5" stroke="#444" stroke-width="1"/>
<text x="42.4" y="574.3" font-size="8" class="b" text-anchor="end">4×10</text>
<text x="42.6" y="571.3" font-size="5" class="b">6</text>
<line x1="46.8" y1="583.3" x2="48.6" y2="583.3" stroke="#444" stroke-width="1"/>
<text x="42.4" y="586.1" font-size="8" class="b" text-anchor="end">3×10</text>
<text x="42.6" y="583.1" font-size="5" class="b">6</text>
<line x1="46.8" y1="595" x2="48.6" y2="595" stroke="#444" stroke-width="1"/>
<text x="42.4" y="597.8" font-size="8" class="b" text-anchor="end">2×10</text>
<text x="42.6" y="594.8" font-size="5" class="b">6</text>
<line x1="46.8" y1="606.8" x2="48.6" y2="606.8" stroke="#444" stroke-width="1"/>
<text x="42.4" y="609.6" font-size="8" class="b" text-anchor="end">1×10</text>
<text x="42.6" y="606.6" font-size="5" class="b">6</text>
<line x1="46.8" y1="618.5" x2="48.6" y2="618.5" stroke="#444" stroke-width="1"/>
<text x="45.8" y="621.5" font-size="8" class="b" text-anchor="end">0</text>
<rect x="55" y="588.1" width="11.6" height="30.4" fill="#fff" stroke="#444" stroke-width="1.3"/>
<rect x="73.5" y="579.1" width="11.2" height="39.4" fill="#a0a0a0" stroke="#555" stroke-width="1.3"/>
<line x1="60.7" y1="618.5" x2="60.7" y2="620.7" stroke="#444" stroke-width="1"/>
<line x1="78.8" y1="618.5" x2="78.8" y2="620.7" stroke="#444" stroke-width="1"/>
<path d="M60.7 578.6V559.8H78.8V563.5" fill="none" stroke="#555" stroke-width=".8"/>
<line x1="60.7" y1="582.3" x2="60.7" y2="588.1" stroke="#555" stroke-width=".8"/>
<line x1="58.7" y1="582.3" x2="62.7" y2="582.3" stroke="#555" stroke-width=".8"/>
<line x1="78.8" y1="570.5" x2="78.8" y2="579.1" stroke="#555" stroke-width=".8"/>
<line x1="76.8" y1="570.5" x2="80.8" y2="570.5" stroke="#555" stroke-width=".8"/>
<circle cx="60.4" cy="589" r="1.2" fill="#fff" stroke="#333" stroke-width=".7"/>
<circle cx="58.7" cy="593.7" r="1.2" fill="#fff" stroke="#333" stroke-width=".7"/>
<circle cx="62.9" cy="593.7" r="1.2" fill="#fff" stroke="#333" stroke-width=".7"/>
<circle cx="78.8" cy="576" r="1.2" fill="#fff" stroke="#333" stroke-width=".7"/>
<circle cx="78.8" cy="580.3" r="1.2" fill="#fff" stroke="#333" stroke-width=".7"/>
<circle cx="78.8" cy="585.3" r="1.2" fill="#fff" stroke="#333" stroke-width=".7"/>
<circle cx="78.8" cy="590" r="1.2" fill="#fff" stroke="#333" stroke-width=".7"/>
<text x="51.1" y="555.9" font-size="7.5" fill="#222"><tspan font-style="italic">p</tspan> = 0.0467</text>
<text x="84.7" y="569.3" font-size="8" class="b i">x1.3 fold</text>
<text x="18.8" y="586.2" font-size="9" class="b" text-anchor="middle" transform="rotate(-90 18.8 586.2)" textLength="88.5" lengthAdjust="spacingAndGlyphs">Neutrophil numbers</text>
<text x="64.7" y="629" font-size="8" class="b" text-anchor="end" transform="rotate(-45 64.7 629)">Naive</text>
<text x="82.6" y="628.5" font-size="8" class="b" text-anchor="end" transform="rotate(-45 82.6 628.5)">14 dpi</text>
<path d="M205 295h1.4M211 297h1.4M217 298h1.4M202 292h1.4M204 298h1.4M208 295h1.4M207 289h1.4M199 301h1.4M205 299h1.4M198 299h1.4M206 308h1.4M214 288h1.4M218 295h1.4M208 305h1.4M203 290h1.4M202 299h1.4M214 302h1.4M202 293h1.4M214 295h1.4M206 292h1.4M200 299h1.4M221 291h1.4M203 302h1.4M205 302h1.4M204 292h1.4M206 289h1.4M204 301h1.4M198 296h1.4M205 309h1.4M194 298h1.4M205 295h1.4M184 294h1.4M206 297h1.4M214 295h1.4M199 290h1.4M199 293h1.4M198 292h1.4M207 296h1.4M202 296h1.4M202 295h1.4M202 296h1.4M206 301h1.4M204 292h1.4M198 304h1.4M203 294h1.4M205 283h1.4M215 299h1.4M211 296h1.4M206 295h1.4M209 283h1.4M202 311h1.4M200 307h1.4M201 304h1.4M201 303h1.4M203 304h1.4M201 307h1.4M203 306h1.4M203 308h1.4M202 304h1.4M202 307h1.4M495 296h1.4M483 291h1.4M490 296h1.4M476 303h1.4M480 307h1.4M489 294h1.4M486 292h1.4M481 297h1.4M487 291h1.4M488 308h1.4M497 295h1.4M484 295h1.4M483 309h1.4M492 301h1.4M489 306h1.4M474 307h1.4M480 299h1.4M486 295h1.4M477 295h1.4M499 293h1.4M484 298h1.4M486 303h1.4M481 294h1.4M482 298h1.4M493 292h1.4M481 295h1.4M494 302h1.4M485 313h1.4M490 302h1.4M481 307h1.4M478 303h1.4M484 290h1.4M483 294h1.4M491 306h1.4M478 303h1.4M496 297h1.4M493 293h1.4M475 295h1.4M477 309h1.4M479 300h1.4M483 307h1.4M478 305h1.4M489 302h1.4M493 296h1.4M477 301h1.4M493 300h1.4M480 303h1.4M486 299h1.4M474 303h1.4M493 301h1.4M477 301h1.4M485 307h1.4M485 291h1.4M483 308h1.4M481 303h1.4M477 311h1.4M494 302h1.4M485 294h1.4M489 306h1.4M481 295h1.4M489 300h1.4M485 305h1.4M479 293h1.4M483 299h1.4M487 296h1.4M474 302h1.4M482 308h1.4M488 298h1.4M501 294h1.4M485 291h1.4M483 311h1.4M490 301h1.4M498 299h1.4M497 292h1.4M487 294h1.4M487 312h1.4M486 299h1.4M484 297h1.4M481 294h1.4M477 299h1.4M481 307h1.4M478 311h1.4M481 313h1.4M477 305h1.4M493 296h1.4M478 300h1.4M474 302h1.4M500 295h1.4M488 305h1.4M482 296h1.4M478 292h1.4M488 301h1.4M488 306h1.4M483 296h1.4M480 302h1.4M476 305h1.4M479 302h1.4M488 304h1.4M479 308h1.4M490 290h1.4M482 301h1.4M476 304h1.4M485 297h1.4M483 297h1.4M482 310h1.4M482 310h1.4M500 297h1.4M474 299h1.4M490 303h1.4M492 296h1.4M500 293h1.4M479 307h1.4M486 291h1.4M480 291h1.4M477 307h1.4M480 296h1.4M479 311h1.4M477 293h1.4M482 313h1.4M477 301h1.4M477 303h1.4M485 309h1.4M491 302h1.4M485 299h1.4M475 307h1.4M491 306h1.4M494 292h1.4M475 302h1.4M488 309h1.4M482 314h1.4M492 302h1.4M492 293h1.4M474 307h1.4M495 295h1.4M483 302h1.4M478 298h1.4M480 298h1.4M481 305h1.4M480 308h1.4M483 295h1.4M485 312h1.4M488 296h1.4M490 290h1.4M489 293h1.4M483 293h1.4M479 314h1.4M481 302h1.4M482 305h1.4M475 304h1.4M477 303h1.4M497 294h1.4M497 294h1.4M481 313h1.4M492 290h1.4M495 293h1.4M481 307h1.4M500 294h1.4M491 301h1.4M493 295h1.4M483 305h1.4M482 312h1.4M482 300h1.4M483 302h1.4M490 289h1.4M500 294h1.4M476 299h1.4M476 300h1.4M485 312h1.4M478 303h1.4M487 291h1.4M482 303h1.4M478 302h1.4M493 302h1.4M481 312h1.4M484 300h1.4M475 300h1.4M498 293h1.4M481 312h1.4M488 311h1.4M478 310h1.4M485 291h1.4M489 309h1.4M487 297h1.4M491 307h1.4M493 295h1.4M484 310h1.4M487 310h1.4M487 306h1.4M492 305h1.4M482 301h1.4M482 313h1.4M490 297h1.4M485 297h1.4M476 311h1.4M499 293h1.4M484 304h1.4M486 295h1.4M488 291h1.4M487 299h1.4M480 313h1.4M485 305h1.4M493 295h1.4M490 294h1.4M490 300h1.4M490 304h1.4M483 290h1.4M479 292h1.4M480 294h1.4M480 306h1.4M490 297h1.4M495 303h1.4M482 305h1.4M497 298h1.4M477 300h1.4M489 300h1.4M499 295h1.4M492 294h1.4M486 290h1.4M491 295h1.4M495 296h1.4M486 298h1.4M475 300h1.4M498 292h1.4M484 293h1.4M484 292h1.4M479 293h1.4M491 300h1.4M477 313h1.4M481 309h1.4M491 299h1.4M487 291h1.4M498 300h1.4M477 307h1.4M484 308h1.4M489 297h1.4M497 296h1.4M492 296h1.4M481 301h1.4M484 305h1.4M486 299h1.4M489 307h1.4M488 296h1.4M489 289h1.4M477 304h1.4M479 296h1.4M488 303h1.4M485 305h1.4M490 300h1.4M487 297h1.4M477 305h1.4M496 297h1.4M484 292h1.4M491 297h1.4M479 313h1.4M498 295h1.4M479 302h1.4M478 299h1.4M479 308h1.4M489 305h1.4M493 302h1.4M487 294h1.4M479 309h1.4M492 289h1.4M487 294h1.4M495 297h1.4M479 310h1.4M490 307h1.4M478 301h1.4M475 300h1.4M486 308h1.4M484 296h1.4M482 306h1.4M475 303h1.4M489 304h1.4M477 296h1.4M487 289h1.4M484 289h1.4M492 293h1.4M494 293h1.4M494 295h1.4M487 296h1.4M491 295h1.4M475 309h1.4M484 306h1.4M478 307h1.4M481 302h1.4M484 299h1.4M482 311h1.4M485 313h1.4M491 290h1.4M492 290h1.4M479 312h1.4M492 304h1.4M478 301h1.4M481 310h1.4M477 302h1.4M494 302h1.4M474 309h1.4M476 295h1.4M492 289h1.4M488 302h1.4M479 313h1.4M475 298h1.4M491 307h1.4M485 293h1.4M479 310h1.4M490 291h1.4M480 313h1.4M489 296h1.4M478 310h1.4M493 305h1.4M485 300h1.4M481 308h1.4M484 308h1.4M491 291h1.4M487 309h1.4M476 312h1.4M485 293h1.4M477 310h1.4M491 305h1.4M486 299h1.4M493 303h1.4M494 298h1.4M484 289h1.4M477 295h1.4M477 305h1.4M484 299h1.4M477 309h1.4M478 313h1.4M476 308h1.4M474 306h1.4M485 292h1.4M484 298h1.4M495 295h1.4M489 309h1.4M486 292h1.4M485 303h1.4M480 311h1.4M481 306h1.4M478 294h1.4M486 309h1.4M498 292h1.4M485 313h1.4M495 302h1.4M484 293h1.4M485 297h1.4M491 299h1.4M493 295h1.4M498 294h1.4M487 311h1.4M497 300h1.4M490 302h1.4M490 299h1.4M485 297h1.4M483 291h1.4M489 302h1.4M481 312h1.4M494 294h1.4M492 304h1.4M499 292h1.4M493 290h1.4M480 305h1.4M483 310h1.4M477 295h1.4M484 298h1.4M475 309h1.4M485 294h1.4M496 296h1.4M481 309h1.4M486 289h1.4M485 312h1.4M496 299h1.4M487 300h1.4M478 306h1.4M481 291h1.4M492 293h1.4M489 290h1.4M496 292h1.4M484 304h1.4M477 314h1.4M483 300h1.4M492 299h1.4M493 302h1.4M482 304h1.4M475 295h1.4M491 300h1.4M489 292h1.4M480 307h1.4M478 302h1.4M489 293h1.4M487 297h1.4M481 294h1.4M483 293h1.4M497 295h1.4M480 296h1.4M475 304h1.4M477 307h1.4M482 293h1.4M476 302h1.4M485 311h1.4M495 290h1.4M485 294h1.4M478 313h1.4M486 307h1.4M491 293h1.4M490 295h1.4M494 299h1.4M478 294h1.4M485 293h1.4M481 313h1.4M487 291h1.4M488 297h1.4M483 313h1.4M499 296h1.4M495 291h1.4M488 298h1.4M482 313h1.4M474 307h1.4M499 294h1.4M485 297h1.4M484 294h1.4M480 297h1.4M489 306h1.4M493 303h1.4M488 308h1.4M478 299h1.4M492 295h1.4M480 296h1.4M488 310h1.4M479 301h1.4M482 290h1.4M483 314h1.4M480 306h1.4M495 300h1.4M483 294h1.4M491 299h1.4M479 311h1.4M487 288h1.4M495 301h1.4M485 295h1.4M495 302h1.4M476 306h1.4M484 304h1.4M498 295h1.4M483 296h1.4M476 306h1.4M482 313h1.4M489 307h1.4M492 300h1.4M489 290h1.4M481 294h1.4M491 295h1.4M483 297h1.4M493 290h1.4M476 309h1.4M487 292h1.4M489 293h1.4M488 289h1.4M484 294h1.4M481 304h1.4M490 297h1.4M490 291h1.4M499 294h1.4M481 291h1.4M477 314h1.4M477 295h1.4M492 301h1.4M490 292h1.4M481 302h1.4M489 288h1.4M492 290h1.4M480 310h1.4M499 297h1.4M483 313h1.4M493 295h1.4M479 297h1.4M493 294h1.4M484 296h1.4M484 311h1.4M478 295h1.4M493 294h1.4M479 308h1.4M493 294h1.4M480 313h1.4M488 297h1.4M493 302h1.4M493 301h1.4M480 294h1.4M477 298h1.4M474 302h1.4M474 302h1.4M495 300h1.4M494 302h1.4M488 307h1.4M482 308h1.4M474 303h1.4M477 306h1.4M488 306h1.4M478 293h1.4M476 307h1.4M478 314h1.4M490 304h1.4M488 310h1.4M487 301h1.4M483 307h1.4M493 303h1.4M475 310h1.4M477 299h1.4M474 303h1.4M478 314h1.4M474 303h1.4M479 312h1.4M487 309h1.4M499 295h1.4M498 292h1.4M484 304h1.4M498 291h1.4M484 304h1.4M492 290h1.4M500 297h1.4M490 289h1.4M479 295h1.4M487 303h1.4M484 307h1.4M486 291h1.4M478 295h1.4M489 289h1.4M479 296h1.4M489 307h1.4M489 301h1.4M477 305h1.4M480 295h1.4M481 301h1.4M480 307h1.4M482 308h1.4M491 295h1.4M490 306h1.4M496 292h1.4M493 295h1.4M483 309h1.4M486 295h1.4M493 300h1.4M474 300h1.4M484 306h1.4M490 290h1.4M478 308h1.4M479 311h1.4M479 297h1.4M480 295h1.4M482 310h1.4M487 292h1.4M500 293h1.4M487 298h1.4M484 299h1.4M485 290h1.4M485 294h1.4M482 303h1.4M491 294h1.4M490 303h1.4M479 314h1.4M490 299h1.4M477 300h1.4M490 308h1.4M490 308h1.4M482 311h1.4M481 308h1.4M488 293h1.4M482 311h1.4M479 310h1.4M486 290h1.4M493 296h1.4M495 292h1.4M490 303h1.4M478 308h1.4M478 298h1.4M480 296h1.4M488 310h1.4M486 301h1.4M490 304h1.4M495 300h1.4M486 294h1.4M498 298h1.4M484 310h1.4M482 308h1.4M488 309h1.4M476 303h1.4M480 311h1.4M490 294h1.4M478 310h1.4M485 297h1.4M483 294h1.4M481 304h1.4M480 293h1.4M481 298h1.4M480 297h1.4M486 301h1.4M477 296h1.4M481 292h1.4M481 298h1.4M484 304h1.4M475 307h1.4M491 298h1.4M480 300h1.4M490 293h1.4M483 292h1.4M478 303h1.4M498 292h1.4M487 300h1.4M487 310h1.4M487 302h1.4M498 299h1.4M484 308h1.4M491 297h1.4M491 302h1.4M482 304h1.4M489 294h1.4M480 308h1.4M494 295h1.4M494 300h1.4M484 312h1.4M482 307h1.4M489 295h1.4M479 301h1.4M493 291h1.4M492 291h1.4M481 312h1.4M490 301h1.4M496 292h1.4M476 296h1.4M478 299h1.4M489 300h1.4M488 310h1.4M487 295h1.4M476 311h1.4M487 302h1.4M490 307h1.4M475 307h1.4M479 303h1.4M478 294h1.4M490 296h1.4M485 312h1.4M478 313h1.4M485 297h1.4M487 311h1.4M488 310h1.4M475 306h1.4M498 299h1.4M486 293h1.4M495 300h1.4M487 296h1.4M485 296h1.4M483 301h1.4M490 303h1.4M492 296h1.4M491 298h1.4M499 293h1.4M493 295h1.4M493 294h1.4M486 307h1.4M486 304h1.4M477 309h1.4M486 306h1.4M475 310h1.4M488 305h1.4M475 308h1.4M481 308h1.4M480 304h1.4M481 312h1.4M495 300h1.4M494 299h1.4M482 290h1.4M490 298h1.4M488 294h1.4M487 295h1.4M489 304h1.4M475 303h1.4M486 300h1.4M485 295h1.4M500 295h1.4M484 303h1.4M490 294h1.4M478 310h1.4M492 290h1.4M488 301h1.4M489 306h1.4M481 310h1.4M479 292h1.4M483 301h1.4M490 294h1.4M488 293h1.4M496 296h1.4M476 312h1.4M493 297h1.4M484 298h1.4M499 297h1.4M482 295h1.4M486 313h1.4M498 294h1.4M492 302h1.4M488 303h1.4M497 292h1.4M501 294h1.4M501 295h1.4M502 295h1.4M498 291h1.4M499 294h1.4M501 293h1.4M500 292h1.4M501 294h1.4M497 293h1.4M502 292h1.4M498 292h1.4M500 294h1.4M497 292h1.4M499 294h1.4M499 294h1.4M502 293h1.4M500 294h1.4M501 294h1.4M498 292h1.4" stroke="#f07f4a" stroke-width="1.4" stroke-opacity=".95" fill="none" transform="translate(0 .5)"/>
<path d="M201 325h1.4M199 316h1.4M194 327h1.4M213 345h1.4M206 343h1.4M210 343h1.4M205 339h1.4M202 330h1.4M206 335h1.4M198 322h1.4M206 349h1.4M199 341h1.4M198 322h1.4M199 333h1.4M201 337h1.4M204 349h1.4M202 325h1.4M201 326h1.4M210 347h1.4M198 338h1.4M198 327h1.4M208 341h1.4M201 323h1.4M196 317h1.4M196 314h1.4M204 335h1.4M209 342h1.4M199 329h1.4M205 315h1.4M203 334h1.4M201 323h1.4M196 334h1.4M205 341h1.4M210 346h1.4M198 327h1.4M210 347h1.4M195 328h1.4M197 322h1.4M202 317h1.4M194 328h1.4M209 341h1.4M199 333h1.4M196 333h1.4M209 341h1.4M206 350h1.4M194 321h1.4M206 342h1.4M196 334h1.4M205 345h1.4M202 345h1.4M208 345h1.4M201 327h1.4M201 340h1.4M203 330h1.4M202 316h1.4M203 334h1.4M205 338h1.4M208 347h1.4M202 338h1.4M197 312h1.4M206 336h1.4M199 313h1.4M201 342h1.4M201 327h1.4M194 318h1.4M204 342h1.4M213 346h1.4M211 347h1.4M205 346h1.4M211 344h1.4M211 346h1.4M209 345h1.4M208 343h1.4M214 340h1.4M211 347h1.4M211 347h1.4M209 344h1.4M209 347h1.4M209 341h1.4M209 346h1.4M211 346h1.4M212 351h1.4M213 343h1.4M213 346h1.4M211 341h1.4M491 355h1.4M475 338h1.4M491 351h1.4M478 320h1.4M483 348h1.4M482 345h1.4M488 354h1.4M483 344h1.4M477 317h1.4M481 348h1.4M478 342h1.4M479 322h1.4M473 333h1.4M481 335h1.4M474 321h1.4M481 317h1.4M483 341h1.4M473 320h1.4M485 352h1.4M475 342h1.4M480 345h1.4M477 323h1.4M482 342h1.4M483 351h1.4M478 324h1.4M478 320h1.4M478 328h1.4M473 319h1.4M479 335h1.4M475 340h1.4M476 342h1.4M478 329h1.4M486 342h1.4M490 348h1.4M478 344h1.4M479 337h1.4M488 349h1.4M479 336h1.4M483 342h1.4M474 333h1.4M479 345h1.4M478 326h1.4M488 346h1.4M491 347h1.4M480 321h1.4M479 316h1.4M481 333h1.4M477 333h1.4M472 326h1.4M478 323h1.4M478 329h1.4M475 327h1.4M479 341h1.4M491 355h1.4M477 340h1.4M481 347h1.4M474 318h1.4M479 315h1.4M478 313h1.4M490 355h1.4M490 348h1.4M484 339h1.4M478 334h1.4M474 329h1.4M487 344h1.4M479 325h1.4M481 323h1.4M479 337h1.4M481 324h1.4M482 346h1.4M480 315h1.4M485 348h1.4M478 339h1.4M490 344h1.4M483 345h1.4M490 351h1.4M479 325h1.4M489 349h1.4M477 342h1.4M487 350h1.4M481 347h1.4M483 339h1.4M474 337h1.4M474 337h1.4M475 331h1.4M475 340h1.4M489 344h1.4M477 327h1.4M476 341h1.4M474 325h1.4M475 333h1.4M485 349h1.4M475 333h1.4M477 335h1.4M484 351h1.4M493 348h1.4M479 326h1.4M490 351h1.4M484 348h1.4M476 332h1.4M480 327h1.4M483 347h1.4M476 331h1.4M478 335h1.4M481 317h1.4M483 344h1.4M486 349h1.4M492 347h1.4M476 332h1.4M481 350h1.4M477 325h1.4M480 316h1.4M475 323h1.4M477 327h1.4M476 338h1.4M487 343h1.4M483 336h1.4M490 352h1.4M482 335h1.4M483 342h1.4M478 325h1.4M493 352h1.4M477 337h1.4M475 315h1.4M479 318h1.4M474 337h1.4M474 329h1.4M480 327h1.4M486 354h1.4M475 328h1.4M473 321h1.4M481 321h1.4M486 340h1.4M483 336h1.4M477 323h1.4M475 322h1.4M473 318h1.4M480 318h1.4M479 347h1.4M482 319h1.4M488 350h1.4M481 315h1.4M486 349h1.4M484 352h1.4M486 344h1.4M479 336h1.4M483 351h1.4M476 344h1.4M476 338h1.4M483 337h1.4M490 347h1.4M474 322h1.4M489 347h1.4M488 345h1.4M485 353h1.4M478 332h1.4M478 316h1.4M475 321h1.4M472 321h1.4M487 351h1.4M480 329h1.4M490 347h1.4M475 323h1.4M479 326h1.4M484 337h1.4M482 337h1.4M475 323h1.4M475 321h1.4M484 351h1.4M477 318h1.4M484 347h1.4M486 349h1.4M477 333h1.4M480 349h1.4M491 350h1.4M477 314h1.4M476 329h1.4M479 339h1.4M481 349h1.4M478 333h1.4M481 341h1.4M490 346h1.4M482 319h1.4M478 344h1.4M475 334h1.4M480 316h1.4M487 354h1.4M474 322h1.4M483 350h1.4M479 344h1.4M479 330h1.4M476 337h1.4M478 322h1.4M487 354h1.4M476 319h1.4M488 343h1.4M477 324h1.4M477 335h1.4M476 335h1.4M478 335h1.4M474 319h1.4M480 317h1.4M488 350h1.4M488 343h1.4M480 338h1.4M486 352h1.4M479 333h1.4M492 349h1.4M477 328h1.4M479 317h1.4M478 327h1.4M472 330h1.4M479 340h1.4M481 341h1.4M481 348h1.4M475 329h1.4M479 325h1.4M473 321h1.4M478 346h1.4M477 336h1.4M473 324h1.4M486 344h1.4M479 329h1.4M485 339h1.4M489 349h1.4M493 348h1.4M493 350h1.4M478 340h1.4M478 332h1.4M476 328h1.4M480 341h1.4M481 337h1.4M484 339h1.4M479 339h1.4M480 339h1.4M488 343h1.4M492 354h1.4M484 348h1.4M477 343h1.4M476 338h1.4M475 326h1.4M482 333h1.4M485 342h1.4M480 322h1.4M479 316h1.4M492 349h1.4M479 328h1.4M477 324h1.4M480 329h1.4M473 324h1.4M489 345h1.4M477 322h1.4M482 337h1.4M479 321h1.4M488 353h1.4M488 352h1.4M484 349h1.4M476 330h1.4M488 354h1.4M482 341h1.4M478 323h1.4M484 340h1.4M475 327h1.4M481 343h1.4M490 347h1.4M480 346h1.4M482 335h1.4M485 349h1.4M479 323h1.4M478 327h1.4M479 328h1.4M485 352h1.4M484 348h1.4M475 326h1.4M490 347h1.4M481 320h1.4M479 318h1.4M473 333h1.4M488 343h1.4M488 350h1.4M479 324h1.4M488 345h1.4M487 346h1.4M475 314h1.4M489 344h1.4M474 314h1.4M489 345h1.4M491 353h1.4M480 325h1.4M481 324h1.4M486 340h1.4M476 334h1.4M476 332h1.4M479 339h1.4M478 319h1.4M473 326h1.4M479 328h1.4M484 349h1.4M479 339h1.4M489 344h1.4M490 353h1.4M477 337h1.4M481 345h1.4M485 346h1.4M478 346h1.4M483 346h1.4M491 346h1.4M477 342h1.4M483 342h1.4M491 347h1.4M481 348h1.4M483 341h1.4M473 326h1.4M490 348h1.4M478 314h1.4M480 343h1.4M480 316h1.4M476 338h1.4M490 354h1.4M475 316h1.4M487 345h1.4M479 342h1.4M480 347h1.4M474 334h1.4M482 344h1.4M485 342h1.4M491 351h1.4M480 323h1.4M475 323h1.4M480 343h1.4M475 323h1.4M485 348h1.4M489 347h1.4M491 345h1.4M482 321h1.4M480 337h1.4M488 348h1.4M481 319h1.4M484 343h1.4M489 351h1.4M483 339h1.4M479 346h1.4M478 324h1.4M489 354h1.4M490 355h1.4M478 335h1.4M482 340h1.4M478 335h1.4M476 336h1.4M477 337h1.4M479 342h1.4M479 335h1.4M483 342h1.4M487 352h1.4M479 326h1.4M474 324h1.4M491 353h1.4M488 344h1.4M488 349h1.4M483 346h1.4M488 342h1.4M484 340h1.4M482 340h1.4M475 328h1.4M483 349h1.4M485 343h1.4M479 329h1.4M474 331h1.4M474 337h1.4M485 341h1.4M491 349h1.4M485 344h1.4M480 326h1.4M476 333h1.4M487 351h1.4M482 339h1.4M493 351h1.4M481 327h1.4M483 337h1.4M488 342h1.4M477 346h1.4M481 340h1.4M487 344h1.4M485 341h1.4M489 346h1.4M495 343h1.4M485 345h1.4M498 340h1.4M489 349h1.4M480 350h1.4M485 341h1.4M485 348h1.4M486 345h1.4M489 349h1.4M486 346h1.4M480 343h1.4M484 350h1.4M484 345h1.4M488 346h1.4M492 347h1.4M490 339h1.4M489 352h1.4M491 346h1.4M482 344h1.4M486 342h1.4M491 355h1.4M479 346h1.4M484 346h1.4M488 341h1.4M489 347h1.4M491 340h1.4M487 342h1.4M484 346h1.4M485 341h1.4M482 340h1.4M491 358h1.4M484 350h1.4M489 349h1.4M494 347h1.4M485 340h1.4" stroke="#1dc081" stroke-width="1.4" stroke-opacity=".95" fill="none" transform="translate(0 .5)"/>
<path d="M270 290h1.4M267 296h1.4M263 296h1.4M270 294h1.4M263 293h1.4M263 293h1.4M271 296h1.4M271 291h1.4M263 289h1.4M268 292h1.4M259 290h1.4M275 293h1.4M265 291h1.4M272 287h1.4M262 290h1.4M268 300h1.4M266 297h1.4M257 291h1.4M259 295h1.4M259 285h1.4M269 284h1.4M261 290h1.4M257 292h1.4M267 298h1.4M263 289h1.4M266 293h1.4M267 301h1.4M253 297h1.4M264 289h1.4M261 289h1.4M268 303h1.4M262 300h1.4M268 291h1.4M273 281h1.4M267 295h1.4M267 283h1.4M269 292h1.4M266 297h1.4M256 299h1.4M273 296h1.4M261 292h1.4M256 287h1.4M267 296h1.4M266 289h1.4M262 295h1.4M267 287h1.4M275 300h1.4M276 299h1.4M273 295h1.4M268 287h1.4M269 293h1.4M268 287h1.4M268 287h1.4M274 297h1.4M270 289h1.4M249 311h1.4M251 306h1.4M250 311h1.4M249 311h1.4M252 308h1.4M251 311h1.4M253 307h1.4M251 309h1.4M552 289h1.4M546 289h1.4M542 289h1.4M549 297h1.4M545 300h1.4M548 288h1.4M545 293h1.4M539 292h1.4M539 296h1.4M547 286h1.4M550 293h1.4M545 299h1.4M548 298h1.4M548 293h1.4M541 290h1.4M545 303h1.4M551 287h1.4M540 291h1.4M537 294h1.4M544 285h1.4M537 295h1.4M542 286h1.4M544 292h1.4M542 291h1.4M542 301h1.4M545 286h1.4M546 289h1.4M546 301h1.4M549 290h1.4M546 288h1.4M549 296h1.4M553 291h1.4M539 288h1.4M540 299h1.4M536 292h1.4M543 291h1.4M542 287h1.4M545 293h1.4M539 295h1.4M541 302h1.4M542 293h1.4M544 290h1.4M551 287h1.4M548 301h1.4M545 289h1.4M537 300h1.4M537 293h1.4M547 300h1.4M546 285h1.4M536 291h1.4M542 285h1.4M548 291h1.4M551 287h1.4M555 292h1.4M545 297h1.4M545 290h1.4M544 303h1.4M544 302h1.4M539 290h1.4M547 286h1.4M548 302h1.4M547 298h1.4M555 296h1.4M545 293h1.4M545 293h1.4M548 299h1.4M541 303h1.4M538 297h1.4M546 285h1.4M543 292h1.4M538 301h1.4M554 294h1.4M540 286h1.4M549 285h1.4M553 292h1.4M548 292h1.4M539 289h1.4M550 291h1.4M538 293h1.4M546 291h1.4M543 295h1.4M550 301h1.4M553 293h1.4M550 288h1.4M549 289h1.4M541 287h1.4M546 288h1.4M545 300h1.4M546 302h1.4M542 289h1.4M548 293h1.4M544 294h1.4M554 298h1.4M535 294h1.4M552 291h1.4M553 300h1.4M556 294h1.4M544 287h1.4M548 303h1.4M541 299h1.4M544 291h1.4M545 285h1.4M549 299h1.4M541 285h1.4M553 289h1.4M542 285h1.4M549 292h1.4M536 291h1.4M548 301h1.4M552 288h1.4M538 300h1.4M539 301h1.4M538 293h1.4M539 298h1.4M541 302h1.4M551 288h1.4M543 298h1.4M540 290h1.4M546 289h1.4M547 302h1.4M541 285h1.4M544 301h1.4M552 293h1.4M550 288h1.4M536 290h1.4M552 291h1.4M546 297h1.4M545 295h1.4M550 295h1.4M542 291h1.4M540 293h1.4M546 299h1.4M546 286h1.4M539 290h1.4M542 289h1.4M547 290h1.4M543 296h1.4M548 294h1.4M545 296h1.4M547 288h1.4M554 298h1.4M555 295h1.4M541 291h1.4M544 300h1.4M542 294h1.4M542 303h1.4M550 296h1.4M542 289h1.4M542 285h1.4M547 291h1.4M536 293h1.4M540 291h1.4M543 298h1.4M542 296h1.4M543 294h1.4M555 293h1.4M552 294h1.4M553 287h1.4M544 299h1.4M549 293h1.4M546 302h1.4M554 289h1.4M548 300h1.4M539 287h1.4M548 291h1.4M547 299h1.4M541 301h1.4M555 294h1.4M553 297h1.4M550 291h1.4M543 298h1.4M546 298h1.4M545 293h1.4M553 294h1.4M551 295h1.4M543 290h1.4M548 290h1.4M539 297h1.4M542 296h1.4M541 302h1.4M544 294h1.4M542 303h1.4M552 287h1.4M552 294h1.4M546 302h1.4M541 301h1.4M546 300h1.4M550 294h1.4M547 285h1.4M539 291h1.4M539 296h1.4M544 294h1.4M548 285h1.4M548 299h1.4M537 290h1.4M542 292h1.4M549 289h1.4M540 302h1.4M550 286h1.4M548 294h1.4M537 297h1.4M548 301h1.4M545 298h1.4M537 299h1.4M546 302h1.4M538 296h1.4M551 302h1.4M539 291h1.4M548 286h1.4M551 302h1.4M541 301h1.4M549 293h1.4M538 290h1.4M545 291h1.4M541 294h1.4M541 300h1.4M548 295h1.4M547 292h1.4M538 301h1.4M539 299h1.4M554 290h1.4M552 289h1.4M547 284h1.4M553 290h1.4M548 301h1.4M546 292h1.4M550 301h1.4M543 286h1.4M542 294h1.4M539 292h1.4M543 286h1.4M541 302h1.4M548 286h1.4M552 296h1.4M549 296h1.4M540 288h1.4M541 303h1.4M549 303h1.4M550 288h1.4M541 294h1.4M544 302h1.4M545 295h1.4M556 294h1.4M544 290h1.4M538 296h1.4M553 301h1.4M548 300h1.4M545 300h1.4M548 294h1.4M543 292h1.4M543 288h1.4M551 292h1.4M549 298h1.4M538 300h1.4M553 291h1.4M549 288h1.4M542 300h1.4M543 287h1.4M542 300h1.4M549 297h1.4M536 290h1.4M552 302h1.4M551 300h1.4M543 284h1.4M553 296h1.4M539 289h1.4M542 287h1.4M537 299h1.4M540 290h1.4M554 295h1.4M544 295h1.4M540 296h1.4M547 299h1.4M550 288h1.4M552 296h1.4M540 289h1.4M542 290h1.4M543 301h1.4M552 297h1.4M544 290h1.4M543 299h1.4M546 295h1.4M538 295h1.4M551 299h1.4M541 292h1.4M540 289h1.4M551 293h1.4M544 287h1.4M548 297h1.4M546 298h1.4M555 294h1.4M539 297h1.4M551 291h1.4M550 288h1.4M545 289h1.4M543 292h1.4M537 300h1.4M538 292h1.4M541 293h1.4M550 299h1.4M546 289h1.4M555 298h1.4M541 296h1.4M542 297h1.4M542 294h1.4M543 304h1.4M546 290h1.4M540 288h1.4M547 286h1.4M547 285h1.4M554 296h1.4M539 287h1.4M538 294h1.4M542 299h1.4M538 294h1.4M548 297h1.4M546 285h1.4M553 294h1.4M538 290h1.4M552 292h1.4M550 285h1.4M542 293h1.4M545 300h1.4M540 298h1.4M545 303h1.4M550 291h1.4M550 289h1.4M545 285h1.4M549 293h1.4M549 295h1.4M549 290h1.4M538 288h1.4M540 297h1.4M541 299h1.4M551 299h1.4M543 296h1.4M548 295h1.4M547 289h1.4M538 290h1.4M540 286h1.4M541 298h1.4M542 300h1.4M547 288h1.4M551 296h1.4M553 298h1.4M545 287h1.4M537 294h1.4M541 297h1.4M547 295h1.4M551 298h1.4M547 302h1.4M550 297h1.4M539 302h1.4M546 289h1.4M550 286h1.4M538 288h1.4M536 298h1.4M544 303h1.4M555 294h1.4M537 297h1.4M538 290h1.4M546 285h1.4M546 294h1.4M549 295h1.4M544 291h1.4M538 294h1.4M540 290h1.4M555 292h1.4M550 298h1.4M541 288h1.4M546 302h1.4M542 297h1.4M543 290h1.4M541 288h1.4M547 299h1.4M549 297h1.4M550 302h1.4M538 288h1.4M545 284h1.4M543 286h1.4M537 288h1.4M550 286h1.4M549 303h1.4M549 288h1.4M546 297h1.4M546 300h1.4M549 297h1.4M541 302h1.4M539 289h1.4M542 286h1.4M551 287h1.4M554 290h1.4M545 297h1.4M539 297h1.4M548 285h1.4M544 299h1.4M545 288h1.4M538 298h1.4M553 299h1.4M548 295h1.4M550 301h1.4M540 287h1.4M553 297h1.4M544 291h1.4M552 301h1.4M537 298h1.4M542 286h1.4M540 297h1.4M543 287h1.4M551 301h1.4M554 290h1.4M545 294h1.4M540 295h1.4M543 287h1.4M553 290h1.4M553 297h1.4M539 301h1.4M548 295h1.4M537 288h1.4M545 299h1.4M541 289h1.4M543 297h1.4M545 297h1.4M550 291h1.4M548 294h1.4M548 301h1.4M547 291h1.4M549 291h1.4M551 300h1.4M548 293h1.4M552 288h1.4M545 302h1.4M543 286h1.4M551 296h1.4M546 287h1.4M547 304h1.4M549 293h1.4M544 298h1.4M546 298h1.4M538 289h1.4M544 297h1.4M545 285h1.4M542 294h1.4M537 300h1.4M547 298h1.4M549 287h1.4M548 291h1.4M546 303h1.4M555 296h1.4M544 301h1.4M546 291h1.4M537 298h1.4M544 298h1.4M542 296h1.4M551 295h1.4M550 286h1.4M548 286h1.4M540 287h1.4M550 299h1.4M553 291h1.4M541 288h1.4M546 290h1.4M543 304h1.4M552 296h1.4M548 302h1.4M544 284h1.4M551 302h1.4M545 291h1.4M551 299h1.4M547 303h1.4M551 300h1.4M549 291h1.4M543 293h1.4M546 302h1.4M540 293h1.4M545 296h1.4M542 300h1.4M545 294h1.4M542 295h1.4M551 292h1.4M553 289h1.4M537 295h1.4M545 295h1.4M551 292h1.4M550 289h1.4M548 286h1.4M535 294h1.4M552 300h1.4M548 290h1.4M553 292h1.4M546 287h1.4M542 291h1.4M541 303h1.4M538 297h1.4M542 285h1.4M540 288h1.4M541 288h1.4M547 296h1.4M537 288h1.4M539 287h1.4M550 291h1.4M540 298h1.4M553 300h1.4M546 290h1.4M550 296h1.4M551 294h1.4M540 299h1.4M555 296h1.4M547 303h1.4M536 292h1.4M538 297h1.4M551 299h1.4M542 301h1.4M548 301h1.4M545 288h1.4M551 298h1.4M538 300h1.4M537 289h1.4M541 295h1.4M542 288h1.4M545 298h1.4M554 297h1.4M554 294h1.4M545 288h1.4M549 301h1.4M537 297h1.4M545 297h1.4M556 293h1.4M536 293h1.4M544 288h1.4M539 288h1.4M542 293h1.4M537 293h1.4M540 295h1.4M551 297h1.4M549 291h1.4M538 287h1.4M545 284h1.4M542 289h1.4M554 294h1.4M546 290h1.4M548 302h1.4M543 298h1.4M536 290h1.4M540 293h1.4M550 286h1.4M544 288h1.4M554 299h1.4M543 304h1.4M554 295h1.4M546 297h1.4M548 300h1.4M542 302h1.4M554 295h1.4M547 301h1.4M536 298h1.4M540 291h1.4M540 297h1.4M548 301h1.4M549 299h1.4M537 289h1.4M539 298h1.4M551 299h1.4M545 290h1.4M546 303h1.4M536 291h1.4M550 299h1.4M548 295h1.4M538 296h1.4M537 289h1.4M549 285h1.4M547 285h1.4M537 296h1.4M542 286h1.4M544 289h1.4M546 298h1.4M539 294h1.4M550 296h1.4M536 298h1.4M542 290h1.4M544 294h1.4M540 291h1.4M549 289h1.4M540 297h1.4M548 301h1.4M554 297h1.4M552 288h1.4M540 299h1.4M536 291h1.4M541 290h1.4M544 289h1.4M547 287h1.4M545 289h1.4M553 292h1.4M542 289h1.4M550 298h1.4M537 294h1.4M553 292h1.4M540 297h1.4M553 287h1.4M548 297h1.4M538 301h1.4M539 300h1.4M554 295h1.4M542 298h1.4M546 293h1.4M540 285h1.4M541 301h1.4M544 297h1.4M544 301h1.4M555 291h1.4M553 295h1.4M548 298h1.4M552 288h1.4M543 302h1.4M551 296h1.4M550 292h1.4M550 291h1.4M551 298h1.4M547 302h1.4M537 290h1.4M540 288h1.4M546 302h1.4M536 292h1.4M549 300h1.4M537 292h1.4M548 291h1.4M547 292h1.4M539 290h1.4M543 285h1.4M552 291h1.4M544 290h1.4M539 291h1.4M538 291h1.4M547 294h1.4M539 297h1.4M549 285h1.4M542 291h1.4M547 300h1.4M545 285h1.4M552 289h1.4M543 288h1.4M540 296h1.4M542 290h1.4M547 295h1.4M541 300h1.4M536 294h1.4M539 287h1.4M549 289h1.4M541 303h1.4M556 312h1.4M555 315h1.4M556 300h1.4M556 302h1.4M555 303h1.4M557 307h1.4M555 308h1.4M556 300h1.4M555 317h1.4M557 309h1.4M556 316h1.4M556 317h1.4M556 313h1.4M556 302h1.4M555 305h1.4M555 315h1.4M555 318h1.4M556 310h1.4" stroke="#c99a0a" stroke-width="1.4" stroke-opacity=".95" fill="none" transform="translate(0 .5)"/>
<path d="M253 327h1.4M250 327h1.4M260 311h1.4M257 329h1.4M256 314h1.4M256 321h1.4M249 328h1.4M257 315h1.4M258 324h1.4M260 319h1.4M262 311h1.4M257 317h1.4M257 309h1.4M252 321h1.4M260 326h1.4M257 320h1.4M261 318h1.4M254 322h1.4M259 322h1.4M257 317h1.4M251 323h1.4M258 316h1.4M256 323h1.4M251 323h1.4M258 319h1.4M259 312h1.4M255 330h1.4M257 313h1.4M260 316h1.4M260 314h1.4M259 314h1.4M257 324h1.4M259 325h1.4M259 311h1.4M258 325h1.4M256 331h1.4M257 314h1.4M260 313h1.4M253 323h1.4M259 311h1.4M258 309h1.4M250 323h1.4M258 330h1.4M258 321h1.4M251 329h1.4M259 313h1.4M251 325h1.4M261 319h1.4M253 323h1.4M258 326h1.4M259 338h1.4M254 337h1.4M256 327h1.4M257 334h1.4M257 333h1.4M251 336h1.4M258 339h1.4M264 334h1.4M256 337h1.4M258 330h1.4M258 336h1.4M261 334h1.4M245 329h1.4M257 331h1.4M254 328h1.4M251 333h1.4M263 327h1.4M250 336h1.4M253 333h1.4M261 340h1.4M248 327h1.4M254 341h1.4M247 334h1.4M253 328h1.4M244 334h1.4M240 322h1.4M259 328h1.4M253 338h1.4M256 339h1.4M260 330h1.4M256 327h1.4M255 330h1.4M247 332h1.4M255 340h1.4M256 337h1.4M249 337h1.4M257 335h1.4M250 330h1.4M258 342h1.4M250 334h1.4M250 322h1.4M257 335h1.4M259 327h1.4M259 342h1.4M256 326h1.4M262 336h1.4M254 338h1.4M259 331h1.4M250 329h1.4M256 323h1.4M242 338h1.4M253 333h1.4M250 336h1.4M252 337h1.4M251 328h1.4M256 333h1.4M255 329h1.4M254 333h1.4M254 338h1.4M256 338h1.4M256 339h1.4M250 333h1.4M249 335h1.4M262 333h1.4M253 337h1.4M253 335h1.4M263 331h1.4M253 334h1.4M255 332h1.4M243 334h1.4M251 342h1.4M261 328h1.4M264 329h1.4M258 342h1.4M249 321h1.4M258 332h1.4M254 336h1.4M260 338h1.4M252 337h1.4M253 331h1.4M257 342h1.4M244 335h1.4M248 336h1.4M249 339h1.4M248 336h1.4M264 338h1.4M257 331h1.4M260 320h1.4M252 344h1.4M253 331h1.4M252 332h1.4M240 331h1.4M261 332h1.4M253 334h1.4M250 326h1.4M256 342h1.4M260 340h1.4M256 334h1.4M250 331h1.4M264 327h1.4M258 323h1.4M261 333h1.4M252 343h1.4M252 329h1.4M261 333h1.4M250 321h1.4M253 339h1.4M255 332h1.4M243 338h1.4M249 341h1.4M243 324h1.4M247 328h1.4M260 331h1.4M253 331h1.4M260 333h1.4M264 338h1.4M254 342h1.4M241 330h1.4M257 330h1.4M250 330h1.4M258 330h1.4M249 345h1.4M256 337h1.4M249 335h1.4M256 325h1.4M255 326h1.4M256 337h1.4M262 337h1.4M265 333h1.4M243 332h1.4M255 320h1.4M246 340h1.4M260 329h1.4M239 340h1.4M253 329h1.4M251 330h1.4M248 332h1.4M240 336h1.4M247 328h1.4M258 329h1.4M256 323h1.4M247 331h1.4M255 331h1.4M260 342h1.4M249 327h1.4M258 340h1.4M262 334h1.4M253 335h1.4M251 343h1.4M255 337h1.4M257 333h1.4M260 332h1.4M258 341h1.4M265 333h1.4M258 335h1.4M257 332h1.4M253 336h1.4M241 338h1.4M258 331h1.4M263 336h1.4M254 339h1.4M260 333h1.4M249 323h1.4M256 334h1.4M248 341h1.4M262 336h1.4M255 322h1.4M253 333h1.4M256 335h1.4M262 333h1.4M259 324h1.4M259 340h1.4M242 337h1.4M250 342h1.4M249 328h1.4M249 335h1.4M250 332h1.4M259 336h1.4M253 338h1.4M255 323h1.4M261 324h1.4M259 326h1.4M253 337h1.4M249 334h1.4M263 334h1.4M256 327h1.4M251 336h1.4M255 328h1.4M248 327h1.4M250 339h1.4M253 330h1.4M259 340h1.4M257 336h1.4M258 334h1.4M255 336h1.4M252 334h1.4M260 330h1.4M250 329h1.4M248 335h1.4M251 342h1.4M256 332h1.4M252 331h1.4M243 335h1.4M250 323h1.4M256 338h1.4M261 325h1.4M255 337h1.4M246 330h1.4M256 342h1.4M262 330h1.4M259 330h1.4M252 329h1.4M254 340h1.4M257 338h1.4M264 332h1.4M258 334h1.4M255 332h1.4M252 338h1.4M261 331h1.4M258 339h1.4M259 350h1.4M248 323h1.4M260 323h1.4M264 336h1.4M264 328h1.4M249 350h1.4M256 339h1.4M255 340h1.4M252 328h1.4M257 341h1.4M244 355h1.4M246 354h1.4M250 352h1.4M251 350h1.4M243 351h1.4M244 356h1.4M247 351h1.4M242 354h1.4M253 348h1.4M248 350h1.4M248 351h1.4M245 354h1.4M242 355h1.4M248 346h1.4M247 347h1.4M251 346h1.4M247 351h1.4M250 344h1.4M252 348h1.4M246 353h1.4M250 350h1.4M245 353h1.4M251 347h1.4M253 348h1.4M246 350h1.4M246 355h1.4M254 347h1.4M246 349h1.4M253 345h1.4M249 348h1.4M244 356h1.4M254 348h1.4M252 346h1.4M243 354h1.4M248 354h1.4M248 351h1.4M246 347h1.4M250 346h1.4M243 351h1.4M244 355h1.4M253 348h1.4M247 350h1.4M242 353h1.4M249 350h1.4M243 355h1.4M249 349h1.4M244 355h1.4M250 347h1.4M245 348h1.4M251 345h1.4M248 351h1.4M252 346h1.4M249 347h1.4M243 353h1.4M244 353h1.4M244 350h1.4M253 347h1.4M250 352h1.4M245 348h1.4M246 355h1.4M243 351h1.4M249 347h1.4M245 352h1.4M243 354h1.4M251 345h1.4M250 350h1.4M246 350h1.4M245 354h1.4M252 345h1.4M247 347h1.4M244 356h1.4M252 348h1.4M249 346h1.4M247 352h1.4M252 345h1.4M245 354h1.4M253 348h1.4M252 347h1.4M249 345h1.4M248 350h1.4M534 315h1.4M526 346h1.4M525 346h1.4M536 321h1.4M531 334h1.4M535 332h1.4M531 327h1.4M541 319h1.4M532 332h1.4M541 327h1.4M544 315h1.4M535 327h1.4M536 309h1.4M538 322h1.4M524 347h1.4M532 323h1.4M541 316h1.4M541 328h1.4M544 309h1.4M544 317h1.4M536 319h1.4M534 339h1.4M529 337h1.4M521 351h1.4M536 321h1.4M538 316h1.4M540 325h1.4M543 312h1.4M535 315h1.4M538 313h1.4M537 333h1.4M530 342h1.4M532 340h1.4M519 348h1.4M533 329h1.4M541 318h1.4M536 308h1.4M541 325h1.4M544 306h1.4M542 317h1.4M534 326h1.4M541 329h1.4M535 323h1.4M534 338h1.4M535 318h1.4M536 318h1.4M529 334h1.4M537 331h1.4M536 327h1.4M526 350h1.4M520 348h1.4M543 315h1.4M540 317h1.4M530 345h1.4M534 328h1.4M528 337h1.4M539 307h1.4M527 348h1.4M541 325h1.4M537 334h1.4M539 330h1.4M538 319h1.4M524 350h1.4M535 326h1.4M538 304h1.4M543 311h1.4M540 306h1.4M532 324h1.4M527 340h1.4M528 338h1.4M533 343h1.4M527 346h1.4M540 329h1.4M531 329h1.4M542 321h1.4M535 334h1.4M537 311h1.4M538 311h1.4M530 331h1.4M533 326h1.4M535 319h1.4M540 304h1.4M529 346h1.4M535 310h1.4M522 347h1.4M536 332h1.4M527 341h1.4M534 343h1.4M523 348h1.4M524 345h1.4M533 343h1.4M535 316h1.4M523 346h1.4M537 323h1.4M528 348h1.4M536 329h1.4M541 317h1.4M543 306h1.4M538 305h1.4M538 325h1.4M534 334h1.4M520 349h1.4M538 334h1.4M536 327h1.4M529 333h1.4M544 307h1.4M537 323h1.4M525 349h1.4M540 324h1.4M542 319h1.4M524 347h1.4M538 325h1.4M535 334h1.4M542 322h1.4M542 326h1.4M539 311h1.4M529 340h1.4M540 308h1.4M536 323h1.4M528 348h1.4M538 337h1.4M538 312h1.4M528 343h1.4M543 306h1.4M529 334h1.4M534 325h1.4M532 331h1.4M533 320h1.4M540 307h1.4M542 311h1.4M540 311h1.4M531 339h1.4M533 341h1.4M535 314h1.4M538 325h1.4M540 312h1.4M537 311h1.4M539 327h1.4M530 341h1.4M539 315h1.4M531 331h1.4M543 308h1.4M535 325h1.4M538 335h1.4M524 344h1.4M531 329h1.4M533 341h1.4M528 340h1.4M540 317h1.4M534 313h1.4M536 321h1.4M536 326h1.4M538 310h1.4M533 323h1.4M530 335h1.4M540 325h1.4M531 334h1.4M534 322h1.4M538 334h1.4M524 345h1.4M538 329h1.4M526 343h1.4M545 309h1.4M539 314h1.4M529 338h1.4M539 329h1.4M536 324h1.4M533 323h1.4M535 325h1.4M526 349h1.4M540 330h1.4M543 311h1.4M534 318h1.4M537 323h1.4M539 305h1.4M534 338h1.4M537 327h1.4M526 346h1.4M541 319h1.4M532 329h1.4M530 332h1.4M539 314h1.4M535 331h1.4M524 346h1.4M544 313h1.4M541 313h1.4M543 321h1.4M533 319h1.4M535 328h1.4M527 348h1.4M540 331h1.4M530 334h1.4M540 313h1.4M531 342h1.4M535 334h1.4M539 327h1.4M526 344h1.4M534 319h1.4M539 305h1.4M533 322h1.4M534 337h1.4M536 310h1.4M525 347h1.4M542 308h1.4M537 332h1.4M530 336h1.4M528 339h1.4M532 341h1.4M532 326h1.4M533 332h1.4M541 311h1.4M522 346h1.4M536 310h1.4M528 345h1.4M530 339h1.4M539 327h1.4M539 310h1.4M530 342h1.4M534 327h1.4M533 334h1.4M526 348h1.4M539 333h1.4M527 340h1.4M538 305h1.4M542 319h1.4M529 336h1.4M529 343h1.4M541 329h1.4M544 312h1.4M533 321h1.4M524 345h1.4M534 336h1.4M539 318h1.4M535 313h1.4M531 345h1.4M536 310h1.4M520 350h1.4M521 350h1.4M528 343h1.4M543 319h1.4M543 311h1.4M535 324h1.4M535 313h1.4M532 329h1.4M545 305h1.4M541 309h1.4M541 320h1.4M530 344h1.4M536 322h1.4M535 328h1.4M525 345h1.4M533 333h1.4M528 347h1.4M522 352h1.4M539 314h1.4M541 319h1.4M537 308h1.4M540 332h1.4M527 348h1.4M533 339h1.4M536 309h1.4M534 317h1.4M539 332h1.4M542 316h1.4M540 333h1.4M521 347h1.4M541 311h1.4M538 311h1.4M539 311h1.4M534 321h1.4M533 330h1.4M543 322h1.4M540 305h1.4M534 338h1.4M535 311h1.4M543 306h1.4M540 320h1.4M537 319h1.4M534 333h1.4M534 340h1.4M534 315h1.4M534 317h1.4M534 318h1.4M526 349h1.4M542 311h1.4M539 307h1.4M535 315h1.4M539 327h1.4M541 313h1.4M540 327h1.4M536 335h1.4M534 325h1.4M537 316h1.4M525 350h1.4M530 335h1.4M541 311h1.4M527 346h1.4M529 334h1.4M541 324h1.4M533 330h1.4M541 323h1.4M537 314h1.4M534 328h1.4M539 321h1.4M542 322h1.4M534 323h1.4M523 344h1.4M532 338h1.4M539 309h1.4M542 307h1.4M537 327h1.4M537 315h1.4M537 333h1.4M524 348h1.4M540 316h1.4M542 324h1.4M536 323h1.4M526 350h1.4M532 334h1.4M540 325h1.4M539 312h1.4M536 310h1.4M539 320h1.4M534 323h1.4M530 346h1.4M528 343h1.4M535 318h1.4M535 317h1.4M541 309h1.4M536 325h1.4M540 331h1.4M528 339h1.4M536 327h1.4M540 311h1.4M527 345h1.4M531 328h1.4M540 318h1.4M538 321h1.4M542 321h1.4M542 310h1.4M538 333h1.4M521 352h1.4M541 309h1.4M536 317h1.4M535 320h1.4M535 323h1.4M539 305h1.4M538 318h1.4M536 309h1.4M538 331h1.4M543 316h1.4M536 330h1.4M539 322h1.4M523 349h1.4M539 309h1.4M539 323h1.4M527 341h1.4M535 317h1.4M534 337h1.4M542 315h1.4M522 349h1.4M528 345h1.4M528 338h1.4M538 314h1.4M525 348h1.4M538 316h1.4M531 332h1.4M541 318h1.4M534 332h1.4M533 330h1.4M534 343h1.4M539 327h1.4M542 313h1.4M540 319h1.4M534 316h1.4M542 313h1.4M534 332h1.4M531 335h1.4M524 348h1.4M544 306h1.4M542 316h1.4M539 333h1.4M534 322h1.4M539 332h1.4M541 306h1.4M537 316h1.4M536 340h1.4M530 339h1.4M537 332h1.4M529 340h1.4M536 315h1.4M542 325h1.4M541 326h1.4M530 335h1.4M536 327h1.4M538 304h1.4M531 335h1.4M539 314h1.4M535 337h1.4M541 320h1.4M537 325h1.4M532 340h1.4M536 317h1.4M532 336h1.4M536 338h1.4M523 346h1.4M539 313h1.4M538 332h1.4M538 314h1.4M536 321h1.4M531 334h1.4M539 323h1.4M540 325h1.4M521 352h1.4M540 313h1.4M542 324h1.4M532 335h1.4M535 337h1.4M539 330h1.4M523 349h1.4M532 309h1.4M531 309h1.4M527 305h1.4M529 309h1.4M530 309h1.4M526 308h1.4M531 309h1.4M529 309h1.4M527 308h1.4M530 308h1.4M531 309h1.4M528 307h1.4M532 322h1.4M534 327h1.4M531 320h1.4M529 321h1.4M530 326h1.4M526 334h1.4M540 316h1.4M534 317h1.4M527 334h1.4M528 324h1.4M533 319h1.4M535 330h1.4M525 321h1.4M527 320h1.4M531 336h1.4M530 323h1.4M535 324h1.4M537 321h1.4M530 335h1.4M526 329h1.4M530 327h1.4M535 328h1.4M530 329h1.4M537 317h1.4M528 337h1.4M536 332h1.4M526 321h1.4M517 320h1.4M534 317h1.4M533 333h1.4M529 320h1.4M529 325h1.4M536 320h1.4M526 328h1.4M530 330h1.4M533 332h1.4M529 337h1.4M532 332h1.4M527 322h1.4M522 319h1.4" stroke="#b3a512" stroke-width="1.4" stroke-opacity=".95" fill="none" transform="translate(0 .5)"/>
<path d="M229 332h1.4M233 332h1.4M227 335h1.4M235 331h1.4M233 331h1.4M229 334h1.4M228 334h1.4M229 333h1.4M228 335h1.4M230 334h1.4M232 330h1.4M227 337h1.4M231 334h1.4M231 331h1.4M228 335h1.4M230 333h1.4M233 329h1.4M233 333h1.4M230 334h1.4M228 335h1.4M236 330h1.4M235 329h1.4M229 335h1.4M230 334h1.4M229 333h1.4M253 312h1.4M253 310h1.4M255 310h1.4M254 307h1.4M251 308h1.4M253 308h1.4M253 310h1.4M254 309h1.4M253 308h1.4M254 310h1.4M250 489h1.4M252 490h1.4M249 488h1.4M252 489h1.4M250 490h1.4M250 488h1.4M248 489h1.4M251 490h1.4M381 497h1.4M382 498h1.4M333 522h1.4M334 522h1.4M379 414h1.4M374 409h1.4M376 414h1.4M377 409h1.4M377 420h1.4M376 418h1.4M378 419h1.4M381 411h1.4M377 418h1.4M378 417h1.4M378 418h1.4M377 415h1.4M379 411h1.4M376 411h1.4M375 414h1.4M504 340h1.4M509 331h1.4M507 335h1.4M505 339h1.4M509 334h1.4M506 337h1.4M507 337h1.4M509 334h1.4M511 332h1.4M506 338h1.4M511 332h1.4M508 338h1.4M505 339h1.4M505 338h1.4M506 336h1.4M504 337h1.4M506 336h1.4M508 332h1.4M505 337h1.4M504 338h1.4" stroke="#dd9a20" stroke-width="1.4" stroke-opacity=".95" fill="none" transform="translate(0 .5)"/>
<path d="M278 343h1.4M271 341h1.4M272 342h1.4M270 345h1.4M270 345h1.4M269 350h1.4M269 341h1.4M268 345h1.4M271 351h1.4M263 348h1.4M271 354h1.4M270 341h1.4M275 346h1.4M270 336h1.4M264 344h1.4M268 340h1.4M266 336h1.4M276 346h1.4M270 352h1.4M274 340h1.4M263 339h1.4M271 342h1.4M276 342h1.4M270 347h1.4M275 343h1.4M270 345h1.4M270 344h1.4M270 338h1.4M270 339h1.4M274 337h1.4M265 345h1.4M271 345h1.4M268 344h1.4M269 340h1.4M270 348h1.4M272 345h1.4M271 345h1.4M269 346h1.4M268 346h1.4M268 342h1.4M276 345h1.4M272 347h1.4M268 343h1.4M266 345h1.4M270 343h1.4M548 347h1.4M548 340h1.4M545 344h1.4M546 345h1.4M555 345h1.4M556 345h1.4M545 340h1.4M558 342h1.4M551 337h1.4M550 340h1.4M546 341h1.4M550 342h1.4M551 347h1.4M556 344h1.4M548 345h1.4M546 346h1.4M551 343h1.4M555 343h1.4M547 342h1.4M546 347h1.4M550 346h1.4M551 338h1.4M552 340h1.4M545 343h1.4M557 341h1.4M552 337h1.4M544 340h1.4M553 344h1.4M547 346h1.4M558 341h1.4M548 343h1.4M548 341h1.4M550 339h1.4M544 343h1.4M556 345h1.4M556 345h1.4M547 347h1.4M550 349h1.4M556 346h1.4M552 340h1.4M551 348h1.4M550 347h1.4M552 347h1.4M546 343h1.4M553 348h1.4M552 347h1.4M548 346h1.4M556 345h1.4M556 346h1.4M553 338h1.4M556 344h1.4M558 343h1.4M552 337h1.4M545 339h1.4M546 344h1.4M558 344h1.4M553 339h1.4M547 342h1.4M552 339h1.4M545 343h1.4M549 340h1.4M557 342h1.4M546 344h1.4M546 343h1.4M550 343h1.4M551 340h1.4M547 342h1.4M554 341h1.4M543 342h1.4M556 339h1.4M552 348h1.4M544 346h1.4M548 343h1.4M544 345h1.4M546 347h1.4M550 340h1.4M557 346h1.4M546 347h1.4M548 338h1.4M549 341h1.4M554 343h1.4M549 344h1.4M544 343h1.4M549 342h1.4M555 344h1.4M553 337h1.4M557 342h1.4M548 341h1.4M550 337h1.4M551 338h1.4M545 342h1.4M544 345h1.4M547 343h1.4M555 340h1.4M553 348h1.4M556 342h1.4M553 343h1.4M551 346h1.4M547 348h1.4M546 346h1.4M546 339h1.4M548 340h1.4M550 337h1.4M546 345h1.4M555 341h1.4M550 340h1.4M548 344h1.4M551 341h1.4M549 340h1.4M556 342h1.4M546 344h1.4M545 343h1.4M548 344h1.4M551 345h1.4M552 338h1.4M546 347h1.4M547 342h1.4M553 345h1.4M548 339h1.4M555 347h1.4M552 341h1.4M549 337h1.4M557 343h1.4M551 348h1.4M543 344h1.4M545 344h1.4M546 339h1.4M546 340h1.4M546 344h1.4M548 347h1.4M549 338h1.4M555 341h1.4M554 339h1.4M546 338h1.4M543 343h1.4M547 348h1.4M548 347h1.4M547 348h1.4M544 340h1.4M553 343h1.4M549 342h1.4M546 342h1.4M543 343h1.4M550 345h1.4M546 342h1.4M544 341h1.4M545 339h1.4M550 346h1.4M553 342h1.4M547 346h1.4M552 339h1.4M550 341h1.4M548 342h1.4M554 340h1.4M545 347h1.4M556 344h1.4M553 342h1.4M551 348h1.4M556 347h1.4M552 337h1.4M554 339h1.4M551 344h1.4M551 343h1.4M543 342h1.4M544 344h1.4M551 347h1.4M550 345h1.4M548 340h1.4M556 346h1.4M553 343h1.4M550 346h1.4M554 343h1.4M548 340h1.4M557 343h1.4M548 346h1.4M554 345h1.4M543 344h1.4M544 341h1.4M552 341h1.4M550 344h1.4M558 345h1.4M550 339h1.4M545 346h1.4M548 338h1.4M543 342h1.4M547 347h1.4M554 341h1.4M553 344h1.4M546 346h1.4M550 345h1.4M553 340h1.4M554 341h1.4M547 338h1.4M545 346h1.4M555 343h1.4M550 347h1.4M545 345h1.4M551 340h1.4M556 340h1.4M549 347h1.4M544 343h1.4M543 342h1.4M550 345h1.4M554 343h1.4M548 337h1.4M547 346h1.4M552 341h1.4M545 342h1.4M547 347h1.4M549 345h1.4M544 344h1.4M548 340h1.4M543 342h1.4M557 345h1.4M548 347h1.4M543 342h1.4M554 345h1.4M543 341h1.4M548 342h1.4M551 347h1.4M548 346h1.4M547 348h1.4M553 343h1.4M548 345h1.4M553 346h1.4M544 343h1.4M553 344h1.4M543 341h1.4M552 341h1.4M553 339h1.4" stroke="#1dbb62" stroke-width="1.4" stroke-opacity=".95" fill="none" transform="translate(0 .5)"/>
<path d="M235 353h1.4M229 350h1.4M241 358h1.4M230 356h1.4M236 354h1.4M239 361h1.4M232 350h1.4M230 351h1.4M234 353h1.4M242 361h1.4M227 350h1.4M237 362h1.4M239 364h1.4M237 357h1.4M231 348h1.4M237 358h1.4M238 364h1.4M231 354h1.4M235 356h1.4M233 351h1.4M228 353h1.4M240 361h1.4M235 356h1.4M235 358h1.4M229 352h1.4M242 361h1.4M228 349h1.4M236 358h1.4M228 351h1.4M238 353h1.4M233 353h1.4M231 349h1.4M232 354h1.4M244 361h1.4M232 351h1.4M229 350h1.4M228 353h1.4M236 356h1.4M227 351h1.4M239 360h1.4M241 360h1.4M227 350h1.4M241 360h1.4M234 358h1.4M242 360h1.4M233 350h1.4M232 349h1.4M236 355h1.4M239 359h1.4M237 361h1.4M244 360h1.4M229 351h1.4M239 359h1.4M227 350h1.4M238 364h1.4M232 369h1.4M228 368h1.4M229 368h1.4M228 368h1.4M231 369h1.4M229 366h1.4M225 368h1.4M227 370h1.4M517 361h1.4M515 359h1.4M513 359h1.4M514 358h1.4M512 359h1.4M515 361h1.4M512 364h1.4M513 359h1.4M514 363h1.4M511 360h1.4M512 361h1.4M512 359h1.4M514 360h1.4M510 361h1.4M511 360h1.4M516 359h1.4M511 363h1.4M516 359h1.4M512 358h1.4M516 360h1.4M512 364h1.4M515 359h1.4M511 362h1.4M516 363h1.4M514 363h1.4M510 360h1.4M513 359h1.4M511 363h1.4M513 363h1.4M514 361h1.4M511 358h1.4M512 363h1.4M517 362h1.4M513 359h1.4M516 360h1.4M510 360h1.4M511 360h1.4M513 362h1.4M511 360h1.4M514 361h1.4M516 362h1.4M515 360h1.4M515 360h1.4M510 362h1.4M510 360h1.4M515 364h1.4M512 364h1.4M515 358h1.4M512 363h1.4M513 358h1.4M511 359h1.4M512 362h1.4M515 362h1.4M510 360h1.4M511 360h1.4M517 361h1.4M516 361h1.4M511 360h1.4M516 361h1.4M517 360h1.4M513 361h1.4M512 363h1.4M515 359h1.4M515 362h1.4M512 358h1.4M512 360h1.4M510 361h1.4M511 363h1.4M511 359h1.4M515 361h1.4M511 355h1.4M512 353h1.4M504 349h1.4M509 353h1.4M511 351h1.4M508 357h1.4M511 346h1.4M512 353h1.4M505 354h1.4M513 354h1.4M506 352h1.4M511 347h1.4M509 351h1.4M508 352h1.4M507 352h1.4M508 356h1.4M505 351h1.4M509 354h1.4M509 353h1.4M504 354h1.4M511 354h1.4M504 350h1.4M510 350h1.4M510 351h1.4M499 351h1.4M506 368h1.4M507 368h1.4M508 371h1.4M509 371h1.4M509 370h1.4M507 369h1.4" stroke="#1dbec4" stroke-width="1.4" stroke-opacity=".95" fill="none" transform="translate(0 .5)"/>
<path d="M215 360h1.4M211 361h1.4M217 359h1.4M213 360h1.4M210 360h1.4M200 358h1.4M199 361h1.4M221 358h1.4M204 361h1.4M208 359h1.4M219 358h1.4M205 360h1.4M214 360h1.4M214 360h1.4M199 360h1.4M215 357h1.4M212 359h1.4M217 357h1.4M198 360h1.4M200 357h1.4M219 358h1.4M205 360h1.4M209 361h1.4M219 358h1.4M201 358h1.4M202 359h1.4M217 357h1.4M221 359h1.4M199 361h1.4M204 360h1.4M201 358h1.4M207 360h1.4M201 358h1.4M217 359h1.4M221 357h1.4M210 357h1.4M212 358h1.4M222 357h1.4M215 358h1.4M212 361h1.4M203 377h1.4M205 371h1.4M207 364h1.4M204 366h1.4M206 373h1.4M206 363h1.4M206 363h1.4M206 369h1.4M203 377h1.4M205 365h1.4M203 373h1.4M205 366h1.4M205 366h1.4M206 371h1.4M203 374h1.4M204 365h1.4M204 368h1.4M205 363h1.4M205 370h1.4M207 370h1.4M202 377h1.4M205 367h1.4M205 371h1.4M206 362h1.4M204 369h1.4M205 371h1.4M205 375h1.4M207 367h1.4M204 364h1.4M205 377h1.4M216 339h1.4M214 333h1.4M214 337h1.4M213 342h1.4M212 338h1.4M214 340h1.4M214 341h1.4M212 339h1.4M213 344h1.4M217 340h1.4M214 332h1.4M211 334h1.4M213 331h1.4M211 331h1.4M210 334h1.4M212 332h1.4M212 333h1.4M213 341h1.4M215 340h1.4M213 340h1.4M480 365h1.4M480 370h1.4M484 359h1.4M482 374h1.4M484 377h1.4M480 365h1.4M481 360h1.4M482 359h1.4M482 359h1.4M481 365h1.4M484 358h1.4M482 364h1.4M483 376h1.4M482 362h1.4M481 366h1.4M480 371h1.4M481 370h1.4M483 364h1.4M481 374h1.4M482 372h1.4M481 367h1.4M482 364h1.4M481 362h1.4M482 376h1.4M480 368h1.4M483 366h1.4M480 369h1.4M482 373h1.4M480 364h1.4M484 360h1.4M481 364h1.4M482 368h1.4M482 363h1.4M485 358h1.4M482 362h1.4M482 372h1.4M480 368h1.4M484 375h1.4M485 374h1.4M485 377h1.4M484 377h1.4M484 373h1.4M482 357h1.4M482 366h1.4M484 373h1.4M481 358h1.4M484 372h1.4M480 372h1.4M482 370h1.4M482 367h1.4M483 366h1.4M480 372h1.4M482 373h1.4M482 361h1.4M481 374h1.4M477 361h1.4M477 361h1.4M475 357h1.4M477 361h1.4M476 360h1.4M477 361h1.4M475 358h1.4M477 360h1.4M474 359h1.4M477 362h1.4" stroke="#a2a61a" stroke-width="1.4" stroke-opacity=".95" fill="none" transform="translate(0 .5)"/>
<path d="M222 410h1.4M224 407h1.4M222 409h1.4M224 407h1.4M221 408h1.4M214 422h1.4M227 397h1.4M216 420h1.4M214 422h1.4M226 397h1.4M223 404h1.4M226 396h1.4M227 395h1.4M217 415h1.4M223 404h1.4M223 407h1.4M211 421h1.4M213 418h1.4M219 413h1.4M216 418h1.4M215 417h1.4M220 409h1.4M225 399h1.4M218 412h1.4M217 415h1.4M226 402h1.4M227 401h1.4M227 397h1.4M223 402h1.4M224 404h1.4M222 405h1.4M228 398h1.4M216 417h1.4M218 417h1.4M224 403h1.4M505 413h1.4M502 413h1.4M497 416h1.4M506 401h1.4M505 403h1.4M508 400h1.4M507 398h1.4M500 415h1.4M501 418h1.4M508 408h1.4M507 408h1.4M508 398h1.4M506 411h1.4M511 399h1.4M503 415h1.4M500 415h1.4M502 414h1.4M502 414h1.4M500 413h1.4M510 400h1.4M503 416h1.4M506 401h1.4M508 398h1.4M507 409h1.4M507 401h1.4M500 418h1.4M499 418h1.4M509 403h1.4M501 415h1.4M507 398h1.4M506 404h1.4M499 416h1.4M508 395h1.4M506 407h1.4M502 416h1.4M508 399h1.4M502 411h1.4M508 405h1.4M506 406h1.4M509 399h1.4M501 416h1.4M505 412h1.4M504 407h1.4M506 399h1.4M507 407h1.4M508 399h1.4M503 414h1.4M505 412h1.4M510 398h1.4M509 406h1.4M500 416h1.4M506 411h1.4M499 419h1.4M508 395h1.4M506 399h1.4M504 412h1.4M507 408h1.4M500 415h1.4M507 407h1.4M501 412h1.4M497 417h1.4M507 397h1.4M508 406h1.4M504 414h1.4M509 395h1.4M506 412h1.4M511 397h1.4M510 396h1.4M507 410h1.4M509 404h1.4M506 404h1.4M509 405h1.4M508 408h1.4M505 405h1.4M504 410h1.4M502 411h1.4M504 405h1.4M506 401h1.4M504 415h1.4M503 416h1.4M510 397h1.4M506 404h1.4M505 404h1.4M497 416h1.4M509 397h1.4M507 398h1.4M499 419h1.4M497 416h1.4M506 411h1.4M504 415h1.4M504 407h1.4M507 400h1.4M508 395h1.4M510 401h1.4M509 395h1.4M502 407h1.4M508 400h1.4M506 405h1.4M509 396h1.4M509 397h1.4M499 418h1.4M509 401h1.4M503 416h1.4M504 403h1.4M498 418h1.4M503 413h1.4M504 410h1.4M499 418h1.4M502 409h1.4M508 406h1.4M497 416h1.4M502 413h1.4M504 413h1.4M509 400h1.4M508 404h1.4M503 406h1.4M510 395h1.4M503 411h1.4M508 404h1.4M498 415h1.4M503 406h1.4M502 415h1.4M504 407h1.4M507 398h1.4M506 408h1.4M509 406h1.4M504 407h1.4M509 408h1.4M507 397h1.4M509 402h1.4M510 402h1.4M503 413h1.4M506 401h1.4M509 408h1.4M507 411h1.4M508 397h1.4M504 413h1.4M506 403h1.4M509 394h1.4M500 411h1.4M508 400h1.4M499 417h1.4M511 398h1.4M500 416h1.4M506 406h1.4M504 414h1.4M504 411h1.4M509 394h1.4M509 405h1.4M498 416h1.4M508 398h1.4M511 396h1.4M508 406h1.4M509 394h1.4M499 414h1.4M501 412h1.4M499 417h1.4M506 399h1.4M505 404h1.4M507 402h1.4M499 416h1.4M504 407h1.4M510 403h1.4M499 415h1.4M498 418h1.4M499 417h1.4M498 414h1.4M509 407h1.4M510 397h1.4M502 416h1.4M504 413h1.4M509 402h1.4M504 410h1.4M506 409h1.4M509 395h1.4M510 402h1.4M498 415h1.4M500 412h1.4M508 408h1.4M505 410h1.4M507 404h1.4M500 415h1.4M510 397h1.4M499 415h1.4M510 402h1.4M498 415h1.4M501 417h1.4M510 396h1.4M501 416h1.4M500 412h1.4M511 395h1.4M503 415h1.4M504 411h1.4M499 418h1.4M506 410h1.4M500 412h1.4M507 400h1.4M501 411h1.4M510 404h1.4M508 403h1.4" stroke="#a58cff" stroke-width="1.4" stroke-opacity=".95" fill="none" transform="translate(0 .5)"/>
<path d="M220 434h1.4M224 428h1.4M245 417h1.4M243 452h1.4M211 447h1.4M236 444h1.4M196 438h1.4M239 453h1.4M221 432h1.4M227 452h1.4M233 437h1.4M242 429h1.4M247 449h1.4M239 418h1.4M219 442h1.4M207 441h1.4M203 449h1.4M226 432h1.4M217 432h1.4M245 437h1.4M228 427h1.4M212 452h1.4M231 449h1.4M210 454h1.4M214 454h1.4M225 451h1.4M217 434h1.4M228 443h1.4M213 426h1.4M238 425h1.4M226 445h1.4M203 434h1.4M199 431h1.4M209 437h1.4M207 448h1.4M248 425h1.4M241 452h1.4M215 435h1.4M231 428h1.4M234 429h1.4M226 448h1.4M229 438h1.4M245 428h1.4M235 420h1.4M213 439h1.4M249 431h1.4M247 427h1.4M246 426h1.4M243 443h1.4M203 433h1.4M226 423h1.4M232 438h1.4M212 436h1.4M235 438h1.4M233 451h1.4M199 446h1.4M203 432h1.4M211 435h1.4M224 423h1.4M236 430h1.4M210 450h1.4M231 439h1.4M243 434h1.4M225 437h1.4M230 433h1.4M224 444h1.4M229 430h1.4M216 449h1.4M240 449h1.4M227 446h1.4M222 449h1.4M226 423h1.4M233 422h1.4M248 429h1.4M210 443h1.4M204 439h1.4M215 425h1.4M245 440h1.4M225 444h1.4M196 438h1.4M221 450h1.4M236 434h1.4M208 438h1.4M231 422h1.4M204 451h1.4M246 447h1.4M224 445h1.4M244 436h1.4M217 429h1.4M247 448h1.4M212 436h1.4M220 447h1.4M200 435h1.4M216 454h1.4M235 447h1.4M247 446h1.4M242 430h1.4M228 445h1.4M232 454h1.4M244 444h1.4M239 430h1.4M243 429h1.4M232 445h1.4M202 434h1.4M233 439h1.4M243 429h1.4M208 439h1.4M214 450h1.4M219 431h1.4M217 434h1.4M230 426h1.4M211 450h1.4M232 450h1.4M244 451h1.4M243 431h1.4M224 448h1.4M215 424h1.4M196 443h1.4M221 444h1.4M210 428h1.4M248 436h1.4M198 444h1.4M249 429h1.4M247 448h1.4M238 439h1.4M235 444h1.4M238 432h1.4M218 454h1.4M215 432h1.4M226 429h1.4M229 430h1.4M218 425h1.4M246 445h1.4M232 440h1.4M240 433h1.4M229 425h1.4M227 427h1.4M215 425h1.4M198 434h1.4M215 454h1.4M226 422h1.4M216 451h1.4M237 438h1.4M231 443h1.4M222 435h1.4M229 435h1.4M245 435h1.4M244 447h1.4M245 433h1.4M244 446h1.4M234 454h1.4M229 443h1.4M233 431h1.4M204 436h1.4M222 439h1.4M233 442h1.4M241 437h1.4M217 428h1.4M237 423h1.4M232 425h1.4M225 439h1.4M218 437h1.4M217 429h1.4M213 441h1.4M236 432h1.4M233 446h1.4M242 418h1.4M245 450h1.4M195 440h1.4M212 430h1.4M243 438h1.4M196 437h1.4M212 448h1.4M227 428h1.4M216 436h1.4M223 453h1.4M220 452h1.4M239 431h1.4M216 449h1.4M211 453h1.4M245 426h1.4M209 432h1.4M224 430h1.4M226 441h1.4M221 437h1.4M203 440h1.4M231 450h1.4M243 447h1.4M198 440h1.4M238 438h1.4M207 447h1.4M203 452h1.4M233 425h1.4M240 421h1.4M207 442h1.4M225 442h1.4M240 442h1.4M215 429h1.4M231 435h1.4M216 444h1.4M201 439h1.4M233 430h1.4M234 445h1.4M241 452h1.4M218 436h1.4M197 444h1.4M205 451h1.4M247 434h1.4M220 436h1.4M224 439h1.4M243 420h1.4M226 424h1.4M235 450h1.4M225 440h1.4M226 447h1.4M241 452h1.4M229 421h1.4M218 425h1.4M244 449h1.4M229 447h1.4M205 434h1.4M228 446h1.4M204 429h1.4M234 433h1.4M198 445h1.4M206 441h1.4M218 454h1.4M223 450h1.4M246 434h1.4M243 445h1.4M223 445h1.4M200 438h1.4M207 451h1.4M217 445h1.4M245 446h1.4M203 441h1.4M240 449h1.4M243 423h1.4M236 433h1.4M232 429h1.4M235 433h1.4M242 426h1.4M248 422h1.4M215 436h1.4M242 445h1.4M234 424h1.4M241 438h1.4M230 428h1.4M220 454h1.4M226 445h1.4M205 440h1.4M213 438h1.4M214 448h1.4M203 433h1.4M216 440h1.4M246 435h1.4M242 419h1.4M222 444h1.4M242 448h1.4M208 450h1.4M240 445h1.4M214 433h1.4M211 425h1.4M196 440h1.4M221 435h1.4M242 440h1.4M213 446h1.4M220 442h1.4M244 446h1.4M202 446h1.4M223 428h1.4M236 423h1.4M245 434h1.4M197 436h1.4M220 435h1.4M220 424h1.4M224 447h1.4M235 441h1.4M225 454h1.4M230 444h1.4M209 425h1.4M243 430h1.4M239 439h1.4M212 427h1.4M235 440h1.4M232 447h1.4M206 435h1.4M208 431h1.4M238 423h1.4M243 425h1.4M235 439h1.4M249 428h1.4M230 440h1.4M209 454h1.4M238 436h1.4M227 431h1.4M220 441h1.4M205 448h1.4M201 430h1.4M231 424h1.4M214 435h1.4M242 423h1.4M244 433h1.4M227 422h1.4M195 438h1.4M241 443h1.4M211 438h1.4M243 421h1.4M239 440h1.4M237 450h1.4M212 428h1.4M224 428h1.4M236 450h1.4M233 442h1.4M217 438h1.4M196 441h1.4M239 433h1.4M247 442h1.4M198 448h1.4M246 449h1.4M238 418h1.4M237 430h1.4M248 437h1.4M208 438h1.4M210 433h1.4M221 434h1.4M231 437h1.4M197 440h1.4M242 439h1.4M222 423h1.4M230 431h1.4M203 443h1.4M247 431h1.4M216 442h1.4M248 444h1.4M225 435h1.4M219 447h1.4M236 450h1.4M222 451h1.4M229 436h1.4M225 441h1.4M238 440h1.4M232 443h1.4M225 452h1.4M209 442h1.4M228 445h1.4M245 420h1.4M211 438h1.4M227 433h1.4M212 440h1.4M229 435h1.4M201 445h1.4M199 431h1.4M219 446h1.4M227 427h1.4M197 434h1.4M210 437h1.4M238 423h1.4M212 432h1.4M235 454h1.4M206 426h1.4M242 440h1.4M228 439h1.4M217 433h1.4M200 434h1.4M221 444h1.4M249 421h1.4M233 435h1.4M240 451h1.4M210 431h1.4M222 432h1.4M240 447h1.4M222 440h1.4M238 454h1.4M237 428h1.4M222 425h1.4M228 430h1.4M199 440h1.4M244 434h1.4M206 429h1.4M232 432h1.4M239 437h1.4M247 444h1.4M213 432h1.4M203 439h1.4M215 438h1.4M236 429h1.4M236 438h1.4M241 450h1.4M212 451h1.4M233 442h1.4M236 445h1.4M246 429h1.4M246 441h1.4M247 419h1.4M246 444h1.4M209 440h1.4M216 451h1.4M228 434h1.4M232 428h1.4M247 429h1.4M209 448h1.4M246 422h1.4M209 427h1.4M241 442h1.4M225 439h1.4M223 449h1.4M200 445h1.4M232 447h1.4M222 454h1.4M244 424h1.4M234 424h1.4M215 444h1.4M227 444h1.4M232 426h1.4M208 442h1.4M210 447h1.4M228 426h1.4M245 449h1.4M206 434h1.4M247 425h1.4M221 424h1.4M207 444h1.4M199 433h1.4M229 447h1.4M236 451h1.4M217 431h1.4M227 426h1.4M197 434h1.4M220 426h1.4M246 438h1.4M203 447h1.4M208 450h1.4M237 452h1.4M218 450h1.4M233 443h1.4M229 445h1.4M229 425h1.4M239 423h1.4M231 442h1.4M212 441h1.4M241 428h1.4M249 426h1.4M240 452h1.4M226 431h1.4M222 453h1.4M246 429h1.4M211 442h1.4M233 426h1.4M222 431h1.4M235 447h1.4M212 433h1.4M222 423h1.4M218 438h1.4M247 437h1.4M242 443h1.4M244 429h1.4M203 450h1.4M217 450h1.4M244 431h1.4M231 430h1.4M205 447h1.4M224 443h1.4M237 421h1.4M228 442h1.4M236 424h1.4M210 441h1.4M205 447h1.4M203 435h1.4M215 433h1.4M215 435h1.4M236 425h1.4M244 421h1.4M218 425h1.4M207 450h1.4M227 432h1.4M208 430h1.4M232 422h1.4M197 446h1.4M246 427h1.4M232 450h1.4M198 435h1.4M233 448h1.4M239 432h1.4M249 433h1.4M220 438h1.4M243 423h1.4M227 443h1.4M233 426h1.4M247 435h1.4M200 444h1.4M241 423h1.4M211 426h1.4M224 432h1.4M208 432h1.4M206 443h1.4M242 442h1.4M214 427h1.4M222 431h1.4M225 442h1.4M212 434h1.4M210 425h1.4M203 446h1.4M246 434h1.4M229 446h1.4M230 446h1.4M218 442h1.4M218 428h1.4M208 445h1.4M204 438h1.4M226 425h1.4M214 454h1.4M225 447h1.4M224 450h1.4M225 454h1.4M202 435h1.4M245 421h1.4M211 434h1.4M230 423h1.4M227 435h1.4M231 430h1.4M220 435h1.4M239 430h1.4M241 441h1.4M202 439h1.4M203 445h1.4M221 423h1.4M247 447h1.4M216 443h1.4M231 444h1.4M218 439h1.4M227 427h1.4M204 437h1.4M211 434h1.4M225 429h1.4M234 421h1.4M236 440h1.4M226 445h1.4M237 424h1.4M240 417h1.4M238 428h1.4M242 430h1.4M226 430h1.4M228 455h1.4M225 445h1.4M240 418h1.4M205 428h1.4M218 426h1.4M232 433h1.4M210 431h1.4M241 447h1.4M199 443h1.4M237 437h1.4M215 449h1.4M244 428h1.4M235 424h1.4M234 439h1.4M219 433h1.4M230 437h1.4M222 437h1.4M218 441h1.4M224 433h1.4M231 453h1.4M223 433h1.4M199 449h1.4M212 446h1.4M211 437h1.4M214 439h1.4M204 445h1.4M218 446h1.4M243 443h1.4M242 431h1.4M231 429h1.4M213 434h1.4M228 425h1.4M246 423h1.4M232 438h1.4M203 443h1.4M228 435h1.4M210 437h1.4M205 435h1.4M210 430h1.4M228 448h1.4M238 427h1.4M241 417h1.4M241 439h1.4M231 437h1.4M231 424h1.4M240 434h1.4M214 453h1.4M214 445h1.4M240 450h1.4M234 425h1.4M209 439h1.4M248 437h1.4M229 432h1.4M241 434h1.4M248 434h1.4M248 437h1.4M197 440h1.4M229 427h1.4M244 448h1.4M196 436h1.4M222 454h1.4M235 439h1.4M210 443h1.4M206 444h1.4M239 420h1.4M223 428h1.4M219 439h1.4M221 452h1.4M225 423h1.4M233 420h1.4M238 428h1.4M207 432h1.4M226 426h1.4M216 448h1.4M206 429h1.4M223 423h1.4M206 451h1.4M211 450h1.4M222 453h1.4M217 429h1.4M224 433h1.4M224 433h1.4M232 422h1.4M219 434h1.4M224 423h1.4M247 437h1.4M243 434h1.4M234 440h1.4M200 435h1.4M236 453h1.4M202 430h1.4M202 448h1.4M233 426h1.4M224 435h1.4M215 450h1.4M235 427h1.4M228 447h1.4M220 428h1.4M229 450h1.4M204 441h1.4M240 429h1.4M210 430h1.4M240 442h1.4M216 431h1.4M238 428h1.4M226 433h1.4M198 440h1.4M237 443h1.4M224 425h1.4M241 439h1.4M228 444h1.4M201 443h1.4M244 450h1.4M238 453h1.4M219 441h1.4M217 432h1.4M206 435h1.4M196 442h1.4M225 436h1.4M227 452h1.4M216 436h1.4M232 452h1.4M227 432h1.4M208 432h1.4M239 434h1.4M210 452h1.4M232 452h1.4M226 427h1.4M216 448h1.4M222 432h1.4M225 437h1.4M217 429h1.4M211 446h1.4M236 423h1.4M211 428h1.4M240 439h1.4M241 442h1.4M215 454h1.4M233 440h1.4M206 437h1.4M218 425h1.4M220 433h1.4M228 437h1.4M247 446h1.4M201 432h1.4M221 432h1.4M205 438h1.4M245 442h1.4M196 438h1.4M242 426h1.4M235 433h1.4M203 432h1.4M222 423h1.4M239 441h1.4M223 444h1.4M238 427h1.4M228 455h1.4M236 427h1.4M199 443h1.4M228 427h1.4M212 445h1.4M217 452h1.4M200 440h1.4M219 433h1.4M206 448h1.4M234 419h1.4M226 423h1.4M202 436h1.4M221 447h1.4M208 434h1.4M241 438h1.4M221 429h1.4M211 436h1.4M217 439h1.4M235 450h1.4M200 429h1.4M231 421h1.4M202 443h1.4M203 440h1.4M205 428h1.4M210 452h1.4M227 435h1.4M233 438h1.4M225 448h1.4M247 448h1.4M219 445h1.4M242 420h1.4M230 447h1.4M209 426h1.4M239 424h1.4M202 430h1.4M226 454h1.4M223 452h1.4M203 442h1.4M207 437h1.4M207 428h1.4M220 446h1.4M220 426h1.4M204 450h1.4M234 431h1.4M204 448h1.4M231 432h1.4M239 434h1.4M220 424h1.4M221 434h1.4M246 431h1.4M244 449h1.4M241 421h1.4M224 449h1.4M236 428h1.4M246 449h1.4M248 425h1.4M203 438h1.4M248 437h1.4M201 444h1.4M201 443h1.4M202 440h1.4M230 423h1.4M222 440h1.4M245 450h1.4M223 445h1.4M231 430h1.4M210 429h1.4M213 429h1.4M216 433h1.4M213 450h1.4M248 439h1.4M209 449h1.4M249 426h1.4M219 447h1.4M227 430h1.4M214 453h1.4M200 445h1.4M248 433h1.4M240 438h1.4M228 435h1.4M243 440h1.4M230 455h1.4M231 444h1.4M230 431h1.4M235 439h1.4M212 437h1.4M219 434h1.4M209 437h1.4M205 433h1.4M205 439h1.4M244 417h1.4M211 434h1.4M210 451h1.4M238 450h1.4M205 433h1.4M242 436h1.4M242 425h1.4M229 453h1.4M247 434h1.4M233 438h1.4M199 441h1.4M226 437h1.4M225 448h1.4M237 428h1.4M244 432h1.4M232 428h1.4M215 449h1.4M237 420h1.4M230 448h1.4M238 423h1.4M233 424h1.4M215 429h1.4M207 433h1.4M199 447h1.4M234 429h1.4M196 435h1.4M224 442h1.4M201 437h1.4M236 421h1.4M216 428h1.4M220 444h1.4M209 439h1.4M216 447h1.4M245 435h1.4M236 425h1.4M238 442h1.4M246 444h1.4M217 449h1.4M235 438h1.4M219 438h1.4M237 438h1.4M237 429h1.4M219 452h1.4M242 432h1.4M226 430h1.4M240 449h1.4M212 430h1.4M230 451h1.4M244 420h1.4M244 447h1.4M200 450h1.4M246 441h1.4M224 423h1.4M246 424h1.4M200 443h1.4M243 432h1.4M233 446h1.4M221 448h1.4M232 429h1.4M212 440h1.4M214 427h1.4M244 424h1.4M236 443h1.4M204 435h1.4M239 437h1.4M234 447h1.4M229 430h1.4M220 452h1.4M241 428h1.4M213 451h1.4M209 436h1.4M235 440h1.4M215 427h1.4M201 450h1.4M228 438h1.4M211 452h1.4M241 431h1.4M213 433h1.4M210 439h1.4M206 430h1.4M217 435h1.4M216 430h1.4M238 444h1.4M207 451h1.4M226 426h1.4M227 421h1.4M249 422h1.4M235 445h1.4M234 420h1.4M228 449h1.4M237 420h1.4M232 438h1.4M239 450h1.4M234 432h1.4M233 431h1.4M239 422h1.4M196 445h1.4M232 432h1.4M212 425h1.4M234 428h1.4M237 447h1.4M241 439h1.4M237 436h1.4M199 444h1.4M205 453h1.4M233 435h1.4M196 442h1.4M229 428h1.4M207 440h1.4M229 440h1.4M239 433h1.4M211 440h1.4M209 442h1.4M228 426h1.4M218 446h1.4M236 434h1.4M226 426h1.4M232 438h1.4M227 428h1.4M206 433h1.4M213 426h1.4M206 452h1.4M225 423h1.4M201 439h1.4M218 441h1.4M232 431h1.4M213 438h1.4M222 443h1.4M249 428h1.4M236 441h1.4M238 444h1.4M247 436h1.4M230 424h1.4M200 443h1.4M241 449h1.4M229 453h1.4M229 437h1.4M246 419h1.4M246 442h1.4M198 433h1.4M241 429h1.4M240 451h1.4M213 453h1.4M227 434h1.4M215 433h1.4M218 454h1.4M232 445h1.4M198 445h1.4M236 437h1.4M202 436h1.4M223 448h1.4M210 447h1.4M224 431h1.4M242 427h1.4M213 432h1.4M213 452h1.4M212 432h1.4M245 427h1.4M222 431h1.4M203 451h1.4M223 442h1.4M236 427h1.4M243 427h1.4M223 444h1.4M203 444h1.4M209 439h1.4M224 448h1.4M218 433h1.4M242 422h1.4M201 445h1.4M208 438h1.4M242 439h1.4M211 446h1.4M213 430h1.4M238 430h1.4M229 448h1.4M232 438h1.4M206 427h1.4M240 452h1.4M218 455h1.4M236 437h1.4M217 433h1.4M247 421h1.4M230 435h1.4M209 436h1.4M242 428h1.4M237 426h1.4M216 448h1.4M219 433h1.4M242 442h1.4M231 450h1.4M216 427h1.4M211 446h1.4M223 454h1.4M235 445h1.4M221 453h1.4M223 449h1.4M202 429h1.4M215 452h1.4M210 447h1.4M232 441h1.4M232 423h1.4M217 439h1.4M210 428h1.4M219 445h1.4M213 433h1.4M238 429h1.4M204 442h1.4M240 425h1.4M212 425h1.4M246 426h1.4M210 425h1.4M217 439h1.4M209 429h1.4M210 438h1.4M247 443h1.4M206 445h1.4M234 448h1.4M220 440h1.4M238 444h1.4M225 450h1.4M219 441h1.4M222 427h1.4M235 421h1.4M205 442h1.4M235 427h1.4M227 441h1.4M205 449h1.4M208 451h1.4M225 424h1.4M238 452h1.4M233 434h1.4M225 446h1.4M211 424h1.4M207 432h1.4M237 443h1.4M240 434h1.4M226 432h1.4M226 453h1.4M205 435h1.4M220 448h1.4M212 434h1.4M245 434h1.4M219 444h1.4M240 422h1.4M247 431h1.4M243 445h1.4M196 437h1.4M218 451h1.4M206 434h1.4M235 427h1.4M217 446h1.4M225 437h1.4M238 418h1.4M236 436h1.4M248 445h1.4M247 441h1.4M212 441h1.4M239 418h1.4M244 428h1.4M232 437h1.4M205 451h1.4M218 449h1.4M224 446h1.4M221 447h1.4M238 444h1.4M231 454h1.4M233 445h1.4M227 427h1.4M224 428h1.4M211 440h1.4M244 449h1.4M213 436h1.4M247 429h1.4M217 453h1.4M236 445h1.4M209 427h1.4M233 446h1.4M236 444h1.4M238 440h1.4M235 441h1.4M200 451h1.4M212 436h1.4M199 445h1.4M236 439h1.4M224 443h1.4M204 451h1.4M218 430h1.4M209 448h1.4M219 437h1.4M226 443h1.4M232 426h1.4M244 421h1.4M213 447h1.4M208 435h1.4M242 438h1.4M235 444h1.4M236 438h1.4M222 436h1.4M211 437h1.4M209 441h1.4M246 434h1.4M226 450h1.4M234 451h1.4M248 425h1.4M234 434h1.4M207 429h1.4M233 446h1.4M248 421h1.4M233 421h1.4M236 419h1.4M245 447h1.4M241 442h1.4M208 445h1.4M245 440h1.4M210 427h1.4M235 426h1.4M227 422h1.4M232 451h1.4M214 454h1.4M196 436h1.4M236 423h1.4M204 435h1.4M241 443h1.4M204 439h1.4M208 436h1.4M235 421h1.4M222 429h1.4M244 418h1.4M220 439h1.4M209 436h1.4M234 454h1.4M244 426h1.4M222 431h1.4M220 427h1.4M207 425h1.4M224 446h1.4M248 444h1.4M207 434h1.4M201 450h1.4M218 428h1.4M241 421h1.4M217 438h1.4M232 441h1.4M231 444h1.4M211 439h1.4M217 424h1.4M200 432h1.4M232 445h1.4M219 442h1.4M210 431h1.4M209 452h1.4M218 451h1.4M228 442h1.4M212 439h1.4M238 443h1.4M239 449h1.4M196 438h1.4M243 430h1.4M226 439h1.4M226 439h1.4M211 451h1.4M222 461h1.4M217 455h1.4M208 455h1.4M213 457h1.4M213 457h1.4M220 463h1.4M220 459h1.4M218 460h1.4M213 455h1.4M222 458h1.4M214 453h1.4M224 460h1.4M222 461h1.4M216 459h1.4M216 461h1.4M221 462h1.4M218 454h1.4M220 463h1.4M212 451h1.4M222 460h1.4M218 461h1.4M220 458h1.4M218 462h1.4M212 458h1.4M216 457h1.4M217 460h1.4M224 461h1.4M217 459h1.4M213 459h1.4M214 458h1.4M210 455h1.4M222 459h1.4M223 461h1.4M212 454h1.4M216 459h1.4M213 455h1.4M219 457h1.4M222 460h1.4M218 456h1.4M224 459h1.4M217 462h1.4M212 454h1.4M214 456h1.4M213 455h1.4M214 453h1.4M221 463h1.4M219 461h1.4M212 450h1.4M218 459h1.4M233 469h1.4M228 471h1.4M233 471h1.4M229 469h1.4M230 477h1.4M226 465h1.4M222 466h1.4M238 468h1.4M231 467h1.4M235 466h1.4M232 473h1.4M230 467h1.4M229 468h1.4M226 475h1.4M228 460h1.4M229 470h1.4M229 472h1.4M230 459h1.4M231 467h1.4M229 464h1.4M231 467h1.4M227 466h1.4M228 471h1.4M229 464h1.4M231 465h1.4M228 474h1.4M237 470h1.4M232 466h1.4M226 464h1.4M227 470h1.4M226 471h1.4M230 466h1.4M232 470h1.4M229 473h1.4M230 469h1.4M230 474h1.4M232 468h1.4M233 478h1.4M229 469h1.4M228 469h1.4M230 471h1.4M234 469h1.4M228 469h1.4M231 475h1.4M228 479h1.4M232 466h1.4M236 466h1.4M233 465h1.4M232 460h1.4M233 472h1.4M225 478h1.4M236 460h1.4M236 465h1.4M234 466h1.4M228 469h1.4M228 469h1.4M232 474h1.4M229 471h1.4M228 471h1.4M228 471h1.4M227 463h1.4M228 474h1.4M231 458h1.4M236 465h1.4M231 473h1.4M229 469h1.4M233 468h1.4M230 460h1.4M227 468h1.4M233 468h1.4M230 474h1.4M223 471h1.4M228 468h1.4M226 473h1.4M226 467h1.4M235 475h1.4M228 465h1.4M228 466h1.4M232 476h1.4M232 471h1.4M234 473h1.4M227 476h1.4M232 474h1.4M229 469h1.4M232 474h1.4M228 473h1.4M229 465h1.4M231 471h1.4M231 473h1.4M228 470h1.4M236 476h1.4M230 472h1.4M233 470h1.4M232 474h1.4M236 470h1.4M228 469h1.4M229 473h1.4M232 473h1.4M229 474h1.4M232 470h1.4M230 473h1.4M232 466h1.4M230 466h1.4M229 470h1.4M233 471h1.4M231 473h1.4M227 463h1.4M233 472h1.4M229 471h1.4M233 473h1.4M239 453h1.4M235 458h1.4M237 459h1.4M239 454h1.4M236 458h1.4M241 454h1.4M237 460h1.4M236 455h1.4M240 455h1.4M236 460h1.4M237 460h1.4M236 455h1.4M239 458h1.4M238 452h1.4M236 456h1.4M239 454h1.4M240 453h1.4M239 452h1.4M237 458h1.4M239 452h1.4M234 459h1.4M238 452h1.4M238 457h1.4M235 460h1.4M237 453h1.4M231 435h1.4M216 434h1.4M217 451h1.4M203 431h1.4M213 424h1.4M247 458h1.4M225 435h1.4M203 443h1.4M223 450h1.4M194 442h1.4M236 426h1.4M238 447h1.4M221 460h1.4M217 426h1.4M188 438h1.4M250 444h1.4M239 433h1.4M236 446h1.4M204 423h1.4M234 436h1.4M215 444h1.4M243 454h1.4M243 439h1.4M203 441h1.4M248 431h1.4M207 442h1.4M238 431h1.4M210 441h1.4M248 448h1.4M216 432h1.4M209 447h1.4M196 434h1.4M208 449h1.4M240 450h1.4M240 449h1.4M224 446h1.4M238 430h1.4M225 455h1.4M210 449h1.4M202 446h1.4M224 447h1.4M222 440h1.4M201 451h1.4M210 433h1.4M233 438h1.4M213 442h1.4M233 439h1.4M218 443h1.4M202 436h1.4M206 448h1.4M214 439h1.4M202 424h1.4M218 437h1.4M221 447h1.4M247 438h1.4M237 427h1.4M245 440h1.4M198 441h1.4M197 440h1.4M248 440h1.4M235 445h1.4M192 449h1.4M224 426h1.4M237 427h1.4M208 444h1.4M214 433h1.4M207 421h1.4M236 444h1.4M226 447h1.4M205 455h1.4M240 444h1.4M238 447h1.4M228 434h1.4M213 448h1.4M222 459h1.4M237 450h1.4M213 434h1.4M211 439h1.4M214 427h1.4M211 440h1.4M502 442h1.4M496 449h1.4M481 438h1.4M490 444h1.4M499 441h1.4M489 439h1.4M476 438h1.4M497 427h1.4M488 443h1.4M475 432h1.4M483 438h1.4M506 434h1.4M491 455h1.4M484 443h1.4M487 424h1.4M499 446h1.4M494 422h1.4M485 429h1.4M491 423h1.4M494 456h1.4M483 435h1.4M492 444h1.4M474 437h1.4M498 433h1.4M479 431h1.4M491 437h1.4M479 450h1.4M501 429h1.4M495 450h1.4M501 446h1.4M494 451h1.4M476 448h1.4M491 442h1.4M504 439h1.4M491 437h1.4M487 424h1.4M486 446h1.4M480 438h1.4M490 446h1.4M482 426h1.4M488 439h1.4M475 438h1.4M477 428h1.4M491 440h1.4M487 433h1.4M490 453h1.4M485 435h1.4M487 436h1.4M475 435h1.4M490 443h1.4M475 432h1.4M497 432h1.4M493 455h1.4M501 450h1.4M504 438h1.4M491 443h1.4M505 446h1.4M491 429h1.4M492 435h1.4M484 453h1.4M486 449h1.4M500 429h1.4M502 435h1.4M479 451h1.4M501 427h1.4M501 423h1.4M484 445h1.4M481 444h1.4M500 442h1.4M493 453h1.4M493 436h1.4M503 447h1.4M497 442h1.4M498 453h1.4M494 444h1.4M494 442h1.4M478 446h1.4M494 441h1.4M498 448h1.4M482 443h1.4M489 438h1.4M501 429h1.4M482 439h1.4M499 448h1.4M498 452h1.4M481 455h1.4M475 441h1.4M501 449h1.4M491 449h1.4M502 426h1.4M483 427h1.4M489 423h1.4M497 440h1.4M483 440h1.4M505 444h1.4M495 444h1.4M487 439h1.4M491 431h1.4M502 451h1.4M497 455h1.4M481 436h1.4M475 437h1.4M497 424h1.4M473 443h1.4M505 440h1.4M482 425h1.4M480 435h1.4M502 448h1.4M500 448h1.4M476 450h1.4M504 424h1.4M494 426h1.4M476 435h1.4M487 424h1.4M500 425h1.4M484 454h1.4M479 438h1.4M483 425h1.4M498 451h1.4M500 442h1.4M478 437h1.4M481 432h1.4M488 441h1.4M497 441h1.4M502 449h1.4M500 437h1.4M488 453h1.4M497 434h1.4M487 428h1.4M477 443h1.4M477 443h1.4M492 425h1.4M484 443h1.4M497 443h1.4M480 452h1.4M494 449h1.4M483 448h1.4M487 452h1.4M479 432h1.4M486 447h1.4M493 448h1.4M489 435h1.4M485 431h1.4M498 448h1.4M475 446h1.4M499 435h1.4M502 432h1.4M476 446h1.4M478 435h1.4M478 449h1.4M493 426h1.4M481 448h1.4M499 453h1.4M485 429h1.4M495 437h1.4M479 426h1.4M486 455h1.4M485 434h1.4M489 453h1.4M486 440h1.4M497 448h1.4M488 426h1.4M490 454h1.4M499 436h1.4M496 452h1.4M504 425h1.4M480 435h1.4M494 427h1.4M497 424h1.4M505 433h1.4M495 450h1.4M489 447h1.4M488 453h1.4M486 448h1.4M485 451h1.4M506 437h1.4M490 430h1.4M503 452h1.4M497 431h1.4M492 425h1.4M496 429h1.4M495 452h1.4M493 429h1.4M479 446h1.4M484 446h1.4M475 445h1.4M498 434h1.4M475 437h1.4M504 435h1.4M497 441h1.4M491 422h1.4M481 435h1.4M491 441h1.4M496 434h1.4M478 442h1.4M503 449h1.4M499 447h1.4M502 425h1.4M487 433h1.4M488 449h1.4M477 434h1.4M487 435h1.4M476 437h1.4M479 445h1.4M494 427h1.4M490 430h1.4M500 450h1.4M503 438h1.4M476 437h1.4M503 434h1.4M499 446h1.4M486 427h1.4M492 423h1.4M483 427h1.4M485 456h1.4M487 430h1.4M485 425h1.4M490 431h1.4M497 444h1.4M504 428h1.4M489 448h1.4M501 428h1.4M483 447h1.4M476 449h1.4M492 451h1.4M496 451h1.4M480 428h1.4M485 452h1.4M479 436h1.4M483 432h1.4M490 434h1.4M480 438h1.4M503 445h1.4M493 454h1.4M490 448h1.4M496 440h1.4M487 449h1.4M491 443h1.4M473 438h1.4M485 442h1.4M486 453h1.4M483 427h1.4M497 445h1.4M474 441h1.4M502 449h1.4M490 449h1.4M504 435h1.4M481 452h1.4M476 440h1.4M495 431h1.4M498 423h1.4M491 429h1.4M504 438h1.4M476 432h1.4M492 448h1.4M499 424h1.4M479 427h1.4M489 435h1.4M487 431h1.4M494 442h1.4M495 448h1.4M495 445h1.4M504 426h1.4M481 434h1.4M503 439h1.4M484 451h1.4M476 448h1.4M481 436h1.4M501 434h1.4M500 441h1.4M484 439h1.4M502 431h1.4M492 440h1.4M506 444h1.4M496 438h1.4M479 441h1.4M478 449h1.4M483 426h1.4M484 436h1.4M496 447h1.4M504 440h1.4M486 447h1.4M495 429h1.4M495 455h1.4M480 442h1.4M492 454h1.4M503 430h1.4M495 440h1.4M480 435h1.4M499 440h1.4M495 443h1.4M503 436h1.4M484 433h1.4M475 432h1.4M485 434h1.4M496 453h1.4M496 443h1.4M490 422h1.4M492 438h1.4M485 432h1.4M500 431h1.4M489 444h1.4M489 443h1.4M487 452h1.4M497 440h1.4M480 430h1.4M476 431h1.4M494 439h1.4M506 436h1.4M485 448h1.4M490 428h1.4M493 451h1.4M497 453h1.4M488 432h1.4M497 442h1.4M495 444h1.4M497 452h1.4M480 432h1.4M500 445h1.4M492 428h1.4M498 437h1.4M499 425h1.4M484 454h1.4M486 442h1.4M476 433h1.4M500 443h1.4M497 451h1.4M485 438h1.4M484 451h1.4M505 444h1.4M479 450h1.4M494 444h1.4M494 427h1.4M486 440h1.4M491 450h1.4M481 441h1.4M489 447h1.4M494 423h1.4M483 435h1.4M484 433h1.4M501 445h1.4M492 427h1.4M478 428h1.4M474 433h1.4M504 449h1.4M500 431h1.4M495 453h1.4M499 426h1.4M484 440h1.4M483 454h1.4M482 441h1.4M481 447h1.4M495 455h1.4M502 431h1.4M492 434h1.4M492 450h1.4M476 428h1.4M485 439h1.4M487 428h1.4M487 432h1.4M473 443h1.4M500 425h1.4M501 434h1.4M479 450h1.4M479 433h1.4M503 427h1.4M486 424h1.4M490 434h1.4M482 433h1.4M475 430h1.4M482 445h1.4M476 439h1.4M476 449h1.4M480 443h1.4M494 444h1.4M483 440h1.4M486 447h1.4M489 435h1.4M501 445h1.4M481 441h1.4M486 437h1.4M481 428h1.4M502 435h1.4M492 427h1.4M479 429h1.4M479 443h1.4M483 441h1.4M489 434h1.4M488 435h1.4M480 437h1.4M502 434h1.4M490 455h1.4M496 431h1.4M489 452h1.4M483 443h1.4M489 443h1.4M504 446h1.4M499 423h1.4M500 452h1.4M487 439h1.4M502 433h1.4M480 450h1.4M478 441h1.4M484 432h1.4M481 451h1.4M499 436h1.4M482 426h1.4M497 436h1.4M476 437h1.4M484 447h1.4M485 445h1.4M494 444h1.4M490 440h1.4M490 435h1.4M489 451h1.4M497 444h1.4M497 443h1.4M500 428h1.4M479 447h1.4M490 437h1.4M490 452h1.4M502 442h1.4M481 445h1.4M486 456h1.4M474 433h1.4M493 455h1.4M482 453h1.4M484 445h1.4M492 446h1.4M497 435h1.4M495 438h1.4M478 438h1.4M488 427h1.4M501 436h1.4M502 424h1.4M483 450h1.4M497 427h1.4M498 442h1.4M501 437h1.4M480 451h1.4M494 427h1.4M486 432h1.4M499 435h1.4M504 450h1.4M505 431h1.4M500 452h1.4M476 437h1.4M496 453h1.4M497 429h1.4M483 432h1.4M499 436h1.4M485 450h1.4M479 450h1.4M487 443h1.4M475 432h1.4M485 450h1.4M474 440h1.4M481 446h1.4M475 439h1.4M479 449h1.4M500 443h1.4M502 444h1.4M485 426h1.4M499 433h1.4M496 422h1.4M475 448h1.4M473 442h1.4M488 441h1.4M503 427h1.4M485 427h1.4M496 425h1.4M476 428h1.4M504 434h1.4M496 455h1.4M488 434h1.4M499 425h1.4M492 443h1.4M494 428h1.4M496 449h1.4M484 451h1.4M482 432h1.4M484 430h1.4M492 454h1.4M474 436h1.4M495 436h1.4M483 427h1.4M480 429h1.4M487 429h1.4M485 425h1.4M495 426h1.4M500 429h1.4M498 422h1.4M493 431h1.4M482 427h1.4M494 449h1.4M501 440h1.4M478 452h1.4M490 435h1.4M488 428h1.4M502 452h1.4M479 443h1.4M504 443h1.4M478 434h1.4M503 436h1.4M487 431h1.4M500 449h1.4M502 425h1.4M502 439h1.4M474 441h1.4M497 429h1.4M488 437h1.4M499 454h1.4M490 424h1.4M489 443h1.4M485 428h1.4M481 436h1.4M483 454h1.4M501 447h1.4M477 447h1.4M492 448h1.4M498 450h1.4M502 445h1.4M480 440h1.4M479 442h1.4M494 433h1.4M486 431h1.4M494 448h1.4M489 448h1.4M499 445h1.4M494 452h1.4M484 435h1.4M505 435h1.4M487 428h1.4M483 434h1.4M496 451h1.4M493 452h1.4M476 434h1.4M482 455h1.4M501 435h1.4M492 426h1.4M482 444h1.4M492 452h1.4M497 444h1.4M494 427h1.4M486 451h1.4M485 452h1.4M499 442h1.4M496 429h1.4M478 447h1.4M497 447h1.4M484 429h1.4M492 422h1.4M480 429h1.4M477 440h1.4M487 441h1.4M489 452h1.4M495 432h1.4M502 446h1.4M493 432h1.4M485 433h1.4M505 435h1.4M474 436h1.4M494 447h1.4M504 441h1.4M483 451h1.4M473 440h1.4M490 446h1.4M501 428h1.4M484 445h1.4M491 444h1.4M495 444h1.4M491 454h1.4M489 444h1.4M505 442h1.4M477 447h1.4M478 434h1.4M489 427h1.4M484 432h1.4M490 448h1.4M501 427h1.4M501 441h1.4M497 455h1.4M476 441h1.4M477 442h1.4M503 435h1.4M496 442h1.4M481 446h1.4M488 424h1.4M488 447h1.4M481 446h1.4M500 437h1.4M502 445h1.4M487 456h1.4M496 434h1.4M480 429h1.4M492 428h1.4M498 446h1.4M482 435h1.4M485 450h1.4M501 443h1.4M500 450h1.4M488 435h1.4M480 439h1.4M481 432h1.4M499 429h1.4M504 446h1.4M505 445h1.4M504 438h1.4M492 437h1.4M480 436h1.4M477 429h1.4M499 448h1.4M481 437h1.4M490 425h1.4M482 428h1.4M493 443h1.4M476 439h1.4M475 434h1.4M492 439h1.4M482 429h1.4M476 450h1.4M486 428h1.4M500 423h1.4M495 449h1.4M493 434h1.4M492 451h1.4M474 432h1.4M496 432h1.4M498 447h1.4M477 429h1.4M502 434h1.4M493 433h1.4M475 432h1.4M482 426h1.4M488 445h1.4M497 440h1.4M484 450h1.4M495 452h1.4M480 452h1.4M493 423h1.4M498 441h1.4M498 437h1.4M504 442h1.4M481 431h1.4M488 446h1.4M489 451h1.4M487 449h1.4M496 442h1.4M476 445h1.4M487 435h1.4M499 431h1.4M494 427h1.4M492 443h1.4M490 451h1.4M505 449h1.4M486 436h1.4M505 434h1.4M477 440h1.4M480 433h1.4M496 455h1.4M500 451h1.4M498 440h1.4M499 434h1.4M499 449h1.4M495 437h1.4M487 437h1.4M487 451h1.4M492 427h1.4M491 453h1.4M483 455h1.4M486 424h1.4M496 434h1.4M492 434h1.4M486 455h1.4M477 452h1.4M480 449h1.4M493 442h1.4M476 451h1.4M496 454h1.4M481 429h1.4M487 439h1.4M474 433h1.4M481 444h1.4M503 424h1.4M483 431h1.4M488 431h1.4M478 434h1.4M493 450h1.4M504 439h1.4M478 437h1.4M494 446h1.4M482 452h1.4M488 432h1.4M501 434h1.4M480 438h1.4M489 426h1.4M502 438h1.4M488 443h1.4M487 431h1.4M493 434h1.4M500 453h1.4M489 442h1.4M487 428h1.4M487 429h1.4M482 445h1.4M479 439h1.4M488 454h1.4M501 431h1.4M484 450h1.4M497 444h1.4M497 433h1.4M483 440h1.4M503 431h1.4M506 432h1.4M482 429h1.4M486 430h1.4M481 439h1.4M492 423h1.4M481 454h1.4M498 427h1.4M479 445h1.4M489 442h1.4M483 427h1.4M478 439h1.4M497 425h1.4M480 452h1.4M479 445h1.4M476 449h1.4M488 441h1.4M503 447h1.4M502 448h1.4M503 426h1.4M478 438h1.4M481 425h1.4M500 430h1.4M489 445h1.4M479 453h1.4M491 444h1.4M493 439h1.4M500 430h1.4M497 434h1.4M477 441h1.4M497 431h1.4M485 434h1.4M486 437h1.4M483 425h1.4M484 434h1.4M503 424h1.4M477 435h1.4M491 442h1.4M479 441h1.4M494 455h1.4M490 425h1.4M485 447h1.4M491 442h1.4M473 440h1.4M478 449h1.4M505 434h1.4M501 424h1.4M497 450h1.4M498 433h1.4M501 438h1.4M504 432h1.4M497 425h1.4M502 436h1.4M499 446h1.4M475 432h1.4M479 438h1.4M487 428h1.4M475 430h1.4M482 435h1.4M505 427h1.4M497 454h1.4M489 425h1.4M504 426h1.4M496 451h1.4M494 432h1.4M495 455h1.4M490 424h1.4M478 431h1.4M497 435h1.4M497 451h1.4M500 424h1.4M491 440h1.4M492 447h1.4M501 452h1.4M494 450h1.4M505 444h1.4M495 440h1.4M504 448h1.4M500 439h1.4M496 450h1.4M490 443h1.4M486 426h1.4M478 443h1.4M490 455h1.4M504 447h1.4M500 441h1.4M498 450h1.4M501 440h1.4M499 447h1.4M500 442h1.4M474 444h1.4M478 436h1.4M479 447h1.4M482 444h1.4M481 431h1.4M476 428h1.4M477 445h1.4M503 450h1.4M500 432h1.4M502 445h1.4M488 444h1.4M494 422h1.4M501 433h1.4M485 441h1.4M484 432h1.4M492 453h1.4M504 434h1.4M486 438h1.4M482 427h1.4M477 440h1.4M502 429h1.4M481 442h1.4M489 453h1.4M476 429h1.4M504 423h1.4M474 443h1.4M493 456h1.4M496 454h1.4M496 443h1.4M476 437h1.4M502 428h1.4M503 446h1.4M501 453h1.4M494 446h1.4M477 441h1.4M484 454h1.4M504 451h1.4M489 452h1.4M488 424h1.4M488 438h1.4M487 456h1.4M491 433h1.4M482 430h1.4M500 448h1.4M499 455h1.4M485 439h1.4M485 445h1.4M481 437h1.4M478 450h1.4M493 438h1.4M475 428h1.4M474 443h1.4M483 425h1.4M492 429h1.4M480 446h1.4M477 435h1.4M498 436h1.4M479 431h1.4M496 435h1.4M489 443h1.4M475 441h1.4M483 440h1.4M501 432h1.4M484 431h1.4M496 441h1.4M491 436h1.4M494 441h1.4M491 441h1.4M488 451h1.4M503 441h1.4M503 433h1.4M501 435h1.4M475 433h1.4M485 435h1.4M486 448h1.4M495 423h1.4M492 430h1.4M504 436h1.4M479 448h1.4M490 430h1.4M506 444h1.4M492 456h1.4M493 452h1.4M489 426h1.4M497 453h1.4M493 424h1.4M486 436h1.4M474 445h1.4M491 442h1.4M504 437h1.4M504 441h1.4M490 444h1.4M502 437h1.4M486 446h1.4M494 450h1.4M491 430h1.4M477 431h1.4M496 427h1.4M491 425h1.4M498 453h1.4M490 431h1.4M475 435h1.4M503 429h1.4M488 443h1.4M499 425h1.4M504 436h1.4M482 454h1.4M489 445h1.4M498 455h1.4M493 423h1.4M475 428h1.4M497 432h1.4M496 442h1.4M495 439h1.4M494 450h1.4M489 454h1.4M481 448h1.4M490 443h1.4M477 451h1.4M503 449h1.4M483 453h1.4M494 441h1.4M487 455h1.4M495 445h1.4M480 450h1.4M501 423h1.4M475 430h1.4M475 431h1.4M495 425h1.4M484 431h1.4M480 429h1.4M489 453h1.4M474 435h1.4M490 450h1.4M505 432h1.4M489 424h1.4M482 424h1.4M487 430h1.4M480 452h1.4M490 434h1.4M494 432h1.4M477 427h1.4M492 449h1.4M493 437h1.4M486 442h1.4M502 423h1.4M499 432h1.4M500 438h1.4M489 444h1.4M504 434h1.4M498 443h1.4M482 431h1.4M473 439h1.4M491 444h1.4M483 441h1.4M483 436h1.4M494 446h1.4M484 456h1.4M481 438h1.4M487 447h1.4M482 442h1.4M493 444h1.4M474 441h1.4M504 448h1.4M485 454h1.4M486 456h1.4M491 439h1.4M506 433h1.4M483 433h1.4M482 436h1.4M490 444h1.4M479 443h1.4M474 434h1.4M499 441h1.4M496 426h1.4M474 437h1.4M497 445h1.4M492 432h1.4M495 445h1.4M497 439h1.4M491 439h1.4M481 434h1.4M488 455h1.4M481 433h1.4M492 448h1.4M501 437h1.4M474 434h1.4M473 436h1.4M487 454h1.4M477 450h1.4M473 438h1.4M487 450h1.4M490 445h1.4M494 442h1.4M477 429h1.4M503 434h1.4M489 430h1.4M497 432h1.4M500 432h1.4M490 438h1.4M474 434h1.4M477 447h1.4M490 439h1.4M502 444h1.4M485 457h1.4M496 425h1.4M486 437h1.4M502 432h1.4M499 428h1.4M479 439h1.4M477 437h1.4M490 435h1.4M503 433h1.4M505 443h1.4M487 435h1.4M496 423h1.4M506 443h1.4M481 428h1.4M484 437h1.4M496 453h1.4M490 448h1.4M497 452h1.4M493 445h1.4M487 448h1.4M484 445h1.4M487 431h1.4M487 426h1.4M506 436h1.4M479 437h1.4M492 444h1.4M496 436h1.4M493 453h1.4M502 443h1.4M479 433h1.4M477 446h1.4M505 450h1.4M477 450h1.4M499 426h1.4M499 450h1.4M486 453h1.4M499 434h1.4M499 444h1.4M500 443h1.4M476 431h1.4M495 446h1.4M501 454h1.4M502 441h1.4M485 437h1.4M489 430h1.4M493 436h1.4M488 442h1.4M495 432h1.4M492 447h1.4M500 431h1.4M489 455h1.4M483 425h1.4M492 425h1.4M506 438h1.4M475 429h1.4M486 444h1.4M497 447h1.4M479 446h1.4M476 438h1.4M492 452h1.4M503 424h1.4M496 424h1.4M480 440h1.4M474 444h1.4M480 453h1.4M489 427h1.4M473 441h1.4M484 445h1.4M475 442h1.4M486 430h1.4M495 437h1.4M482 441h1.4M484 426h1.4M488 448h1.4M499 439h1.4M488 435h1.4M480 442h1.4M478 442h1.4M477 437h1.4M474 435h1.4M479 435h1.4M497 426h1.4M485 429h1.4M504 427h1.4M485 437h1.4M499 444h1.4M480 452h1.4M500 446h1.4M502 443h1.4M481 446h1.4M502 429h1.4M494 451h1.4M482 453h1.4M485 435h1.4M484 455h1.4M495 429h1.4M493 440h1.4M492 442h1.4M493 437h1.4M496 432h1.4M488 440h1.4M494 436h1.4M496 431h1.4M480 444h1.4M493 434h1.4M489 438h1.4M478 432h1.4M497 433h1.4M482 437h1.4M496 442h1.4M482 449h1.4M483 428h1.4M487 436h1.4M504 444h1.4M476 446h1.4M484 439h1.4M479 426h1.4M501 447h1.4M474 442h1.4M486 455h1.4M480 442h1.4M505 440h1.4M485 438h1.4M487 450h1.4M476 429h1.4M506 433h1.4M484 436h1.4M491 438h1.4M496 422h1.4M498 433h1.4M484 453h1.4M489 446h1.4M476 445h1.4M490 445h1.4M494 429h1.4M488 446h1.4M496 450h1.4M489 439h1.4M491 441h1.4M493 432h1.4M475 445h1.4M503 436h1.4M487 441h1.4M490 435h1.4M496 431h1.4M499 439h1.4M502 440h1.4M480 452h1.4M490 435h1.4M489 448h1.4M478 441h1.4M494 424h1.4M503 445h1.4M489 437h1.4M481 428h1.4M491 427h1.4M488 436h1.4M504 433h1.4M501 424h1.4M491 446h1.4M488 429h1.4M503 431h1.4M489 435h1.4M491 435h1.4M491 447h1.4M495 428h1.4M479 436h1.4M478 444h1.4M497 435h1.4M503 439h1.4M485 424h1.4M506 443h1.4M486 455h1.4M497 440h1.4M484 445h1.4M492 443h1.4M497 453h1.4M482 449h1.4M481 439h1.4M491 443h1.4M488 435h1.4M495 436h1.4M502 452h1.4M506 433h1.4M504 436h1.4M502 431h1.4M485 452h1.4M480 437h1.4M502 452h1.4M499 449h1.4M495 422h1.4M491 423h1.4M491 435h1.4M488 456h1.4M479 429h1.4M492 431h1.4M497 437h1.4M492 449h1.4M479 442h1.4M503 444h1.4M475 433h1.4M491 428h1.4M474 432h1.4M497 439h1.4M502 423h1.4M473 434h1.4M487 430h1.4M478 438h1.4M502 437h1.4M501 440h1.4M491 447h1.4M486 432h1.4M486 443h1.4M497 443h1.4M482 440h1.4M489 427h1.4M476 430h1.4M496 441h1.4M500 445h1.4M498 446h1.4M482 443h1.4M481 425h1.4M489 428h1.4M477 439h1.4M490 448h1.4M500 430h1.4M501 444h1.4M502 449h1.4M504 442h1.4M493 422h1.4M487 447h1.4M493 428h1.4M483 443h1.4M484 439h1.4M487 449h1.4M481 431h1.4M500 438h1.4M483 456h1.4M481 427h1.4M494 448h1.4M475 434h1.4M488 434h1.4M494 437h1.4M505 445h1.4M488 443h1.4M487 426h1.4M496 448h1.4M503 423h1.4M498 444h1.4M491 450h1.4M500 425h1.4M492 440h1.4M499 455h1.4M499 431h1.4M483 434h1.4M488 455h1.4M498 453h1.4M498 440h1.4M487 433h1.4M494 432h1.4M485 435h1.4M499 435h1.4M496 448h1.4M495 427h1.4M502 438h1.4M477 443h1.4M488 448h1.4M485 455h1.4M485 449h1.4M494 446h1.4M498 427h1.4M499 447h1.4M475 448h1.4M488 427h1.4M495 450h1.4M489 438h1.4M497 447h1.4M474 440h1.4M478 451h1.4M502 427h1.4M498 444h1.4M491 429h1.4M495 438h1.4M500 423h1.4M474 441h1.4M482 449h1.4M487 452h1.4M477 436h1.4M504 433h1.4M492 439h1.4M502 449h1.4M486 432h1.4M478 444h1.4M504 437h1.4M489 432h1.4M484 456h1.4M485 456h1.4M500 445h1.4M489 446h1.4M480 428h1.4M497 456h1.4M502 441h1.4M485 455h1.4M474 439h1.4M501 453h1.4M484 452h1.4M481 446h1.4M501 439h1.4M497 434h1.4M488 446h1.4M490 429h1.4M484 444h1.4M494 453h1.4M500 451h1.4M494 426h1.4M481 436h1.4M493 452h1.4M488 431h1.4M491 435h1.4M487 454h1.4M477 443h1.4M491 435h1.4M493 452h1.4M473 436h1.4M476 432h1.4M497 439h1.4M487 430h1.4M493 426h1.4M488 450h1.4M484 428h1.4M485 440h1.4M481 438h1.4M500 454h1.4M485 448h1.4M488 452h1.4M493 441h1.4M475 435h1.4M481 445h1.4M497 426h1.4M493 447h1.4M483 435h1.4M490 428h1.4M502 433h1.4M475 432h1.4M491 447h1.4M485 433h1.4M499 425h1.4M485 450h1.4M482 433h1.4M480 447h1.4M487 453h1.4M489 456h1.4M497 431h1.4M487 431h1.4M491 441h1.4M504 441h1.4M479 450h1.4M489 449h1.4M483 441h1.4M490 453h1.4M492 448h1.4M495 446h1.4M491 424h1.4M493 444h1.4M490 429h1.4M501 435h1.4M504 445h1.4M494 439h1.4M484 433h1.4M505 430h1.4M503 434h1.4M499 428h1.4M477 441h1.4M482 455h1.4M491 444h1.4M493 429h1.4M477 443h1.4M482 428h1.4M483 446h1.4M478 441h1.4M478 426h1.4M494 424h1.4M490 424h1.4M501 437h1.4M487 455h1.4M505 428h1.4M504 446h1.4M490 435h1.4M485 427h1.4M491 433h1.4M504 441h1.4M505 432h1.4M487 449h1.4M502 427h1.4M480 433h1.4M501 431h1.4M478 435h1.4M502 447h1.4M495 429h1.4M486 427h1.4M486 432h1.4M485 439h1.4M494 423h1.4M499 447h1.4M498 426h1.4M490 437h1.4M491 449h1.4M482 450h1.4M498 433h1.4M500 441h1.4M506 438h1.4M500 430h1.4M496 423h1.4M500 437h1.4M478 427h1.4M489 453h1.4M494 453h1.4M482 445h1.4M476 451h1.4M500 444h1.4M475 442h1.4M500 445h1.4M491 450h1.4M483 456h1.4M506 444h1.4M479 426h1.4M498 435h1.4M499 443h1.4M476 432h1.4M487 427h1.4M491 445h1.4M491 455h1.4M487 451h1.4M485 452h1.4M498 447h1.4M488 424h1.4M505 438h1.4M479 450h1.4M497 438h1.4M477 428h1.4M480 434h1.4M479 442h1.4M476 430h1.4M498 445h1.4M493 433h1.4M495 446h1.4M500 438h1.4M496 431h1.4M490 455h1.4M494 453h1.4M490 450h1.4M493 443h1.4M491 455h1.4M491 450h1.4M502 436h1.4M485 452h1.4M495 456h1.4M486 446h1.4M487 456h1.4M477 445h1.4M477 447h1.4M479 428h1.4M489 424h1.4M496 439h1.4M500 445h1.4M494 453h1.4M483 426h1.4M504 426h1.4M481 448h1.4M482 431h1.4M491 449h1.4M501 434h1.4M481 443h1.4M498 425h1.4M492 430h1.4M496 442h1.4M502 423h1.4M488 437h1.4M476 429h1.4M490 456h1.4M486 429h1.4M487 455h1.4M491 452h1.4M489 438h1.4M488 439h1.4M482 434h1.4M504 440h1.4M496 429h1.4M480 452h1.4M494 425h1.4M491 437h1.4M495 431h1.4M481 441h1.4M505 431h1.4M518 449h1.4M523 441h1.4M519 449h1.4M516 438h1.4M508 447h1.4M524 443h1.4M504 442h1.4M509 438h1.4M511 456h1.4M514 444h1.4M527 445h1.4M512 449h1.4M508 427h1.4M524 439h1.4M505 448h1.4M511 447h1.4M517 445h1.4M509 443h1.4M527 446h1.4M515 433h1.4M522 444h1.4M507 428h1.4M524 437h1.4M515 454h1.4M520 453h1.4M512 439h1.4M517 427h1.4M523 450h1.4M508 454h1.4M514 428h1.4M522 452h1.4M520 443h1.4M511 444h1.4M516 454h1.4M506 429h1.4M520 438h1.4M512 440h1.4M510 445h1.4M508 441h1.4M505 427h1.4M510 438h1.4M519 444h1.4M510 456h1.4M518 442h1.4M517 440h1.4M516 440h1.4M525 433h1.4M515 443h1.4M524 429h1.4M526 449h1.4M518 453h1.4M511 427h1.4M510 430h1.4M507 454h1.4M518 427h1.4M511 447h1.4M507 424h1.4M522 439h1.4M515 436h1.4M526 444h1.4M520 440h1.4M506 436h1.4M505 432h1.4M523 439h1.4M513 434h1.4M524 439h1.4M510 450h1.4M513 432h1.4M510 447h1.4M505 427h1.4M523 445h1.4M507 433h1.4M520 432h1.4M527 449h1.4M515 441h1.4M527 435h1.4M526 443h1.4M523 444h1.4M516 446h1.4M510 450h1.4M512 443h1.4M516 440h1.4M524 435h1.4M516 454h1.4M512 454h1.4M510 442h1.4M510 435h1.4M520 434h1.4M516 454h1.4M520 447h1.4M521 437h1.4M509 447h1.4M510 439h1.4M507 440h1.4M505 427h1.4M507 430h1.4M516 433h1.4M522 450h1.4M510 429h1.4M511 427h1.4M521 434h1.4M510 425h1.4M505 443h1.4M526 445h1.4M526 434h1.4M522 447h1.4M512 447h1.4M506 433h1.4M509 437h1.4M505 432h1.4M508 435h1.4M506 434h1.4M519 453h1.4M525 431h1.4M504 425h1.4M524 450h1.4M520 450h1.4M515 434h1.4M527 437h1.4M526 444h1.4M527 444h1.4M522 442h1.4M519 445h1.4M507 451h1.4M509 433h1.4M505 441h1.4M515 433h1.4M523 433h1.4M516 442h1.4M524 439h1.4M507 451h1.4M511 446h1.4M519 452h1.4M513 436h1.4M515 450h1.4M522 433h1.4M516 443h1.4M516 433h1.4M526 446h1.4M510 453h1.4M507 439h1.4M520 433h1.4M508 434h1.4M509 424h1.4M514 438h1.4M507 426h1.4M521 441h1.4M506 451h1.4M524 437h1.4M506 428h1.4M505 432h1.4M526 448h1.4M516 435h1.4M509 437h1.4M516 450h1.4M521 430h1.4M529 448h1.4M505 425h1.4M510 450h1.4M516 443h1.4M513 436h1.4M514 426h1.4M508 448h1.4M508 431h1.4M504 437h1.4M506 424h1.4M515 455h1.4M510 447h1.4M523 440h1.4M523 438h1.4M517 443h1.4M510 429h1.4M514 434h1.4M519 451h1.4M522 431h1.4M525 431h1.4M506 444h1.4M524 439h1.4M511 437h1.4M510 450h1.4M511 449h1.4M519 450h1.4M523 430h1.4M517 453h1.4M518 447h1.4M505 429h1.4M513 430h1.4M510 434h1.4M513 426h1.4M509 450h1.4M507 451h1.4M517 437h1.4M510 432h1.4M507 439h1.4M528 443h1.4M513 429h1.4M510 442h1.4M521 444h1.4M513 432h1.4M515 455h1.4M506 427h1.4M524 438h1.4M507 449h1.4M525 430h1.4M519 445h1.4M524 448h1.4M506 449h1.4M510 433h1.4M514 440h1.4M523 449h1.4M506 429h1.4M523 445h1.4M519 434h1.4M525 433h1.4M526 436h1.4M528 443h1.4M513 452h1.4M505 445h1.4M523 434h1.4M515 433h1.4M516 431h1.4M528 449h1.4M513 438h1.4M521 448h1.4M505 434h1.4M507 444h1.4M507 454h1.4M508 443h1.4M510 452h1.4M523 449h1.4M526 439h1.4M509 450h1.4M520 439h1.4M527 439h1.4M517 447h1.4M506 438h1.4M526 450h1.4M506 448h1.4M521 436h1.4M520 442h1.4M520 453h1.4M511 427h1.4M506 440h1.4M523 432h1.4M516 448h1.4M512 444h1.4M514 441h1.4M510 429h1.4M521 431h1.4M516 434h1.4M515 450h1.4M517 438h1.4M506 446h1.4M515 447h1.4M528 450h1.4M511 445h1.4M511 435h1.4M511 428h1.4M506 455h1.4M519 454h1.4M514 450h1.4M518 446h1.4M510 447h1.4M507 447h1.4M526 441h1.4M508 447h1.4M521 447h1.4M509 438h1.4M508 437h1.4M508 432h1.4M508 444h1.4M512 438h1.4M522 437h1.4M521 449h1.4M522 451h1.4M516 454h1.4M514 453h1.4M520 440h1.4M527 437h1.4M523 428h1.4M506 425h1.4M510 427h1.4M525 438h1.4M514 455h1.4M506 431h1.4M522 448h1.4M513 441h1.4M520 440h1.4M514 442h1.4M525 445h1.4M509 432h1.4M514 449h1.4M520 434h1.4M513 440h1.4M525 438h1.4M506 435h1.4M520 431h1.4M513 455h1.4M510 425h1.4M525 428h1.4M517 450h1.4M528 449h1.4M506 444h1.4M507 430h1.4M518 436h1.4M523 437h1.4M512 455h1.4M505 430h1.4M520 438h1.4M509 443h1.4M516 446h1.4M518 446h1.4M509 455h1.4M510 450h1.4M507 442h1.4M509 431h1.4M517 450h1.4M525 450h1.4M512 451h1.4M513 451h1.4M525 439h1.4M520 439h1.4M505 445h1.4M516 438h1.4M525 440h1.4M515 432h1.4M507 435h1.4M521 441h1.4M512 434h1.4M514 432h1.4M508 445h1.4M517 453h1.4M505 437h1.4M509 451h1.4M525 449h1.4M508 427h1.4M508 451h1.4M515 447h1.4M517 455h1.4M524 430h1.4M523 441h1.4M520 442h1.4M514 437h1.4M521 450h1.4M527 448h1.4M522 451h1.4M513 441h1.4M515 443h1.4M519 445h1.4M518 434h1.4M525 447h1.4M509 438h1.4M505 440h1.4M522 449h1.4M507 425h1.4M507 449h1.4M518 430h1.4M509 433h1.4M519 442h1.4M522 446h1.4M518 442h1.4M514 435h1.4M520 434h1.4M523 430h1.4M509 441h1.4M512 429h1.4M509 441h1.4M523 450h1.4M506 455h1.4M527 438h1.4M509 441h1.4M511 450h1.4M514 452h1.4M517 446h1.4M516 439h1.4M515 455h1.4M524 433h1.4M521 427h1.4M516 434h1.4M506 439h1.4M528 449h1.4M508 433h1.4M515 443h1.4M512 429h1.4M505 439h1.4M522 427h1.4M510 430h1.4M518 428h1.4M516 432h1.4M504 449h1.4M506 450h1.4M521 434h1.4M512 429h1.4M523 448h1.4M510 447h1.4M528 440h1.4M509 449h1.4M510 426h1.4M505 432h1.4M515 439h1.4M514 434h1.4M514 455h1.4M516 448h1.4M524 442h1.4M510 433h1.4M514 452h1.4M523 440h1.4M513 432h1.4M516 437h1.4M526 433h1.4M505 440h1.4M508 430h1.4M523 439h1.4M526 451h1.4M527 439h1.4M525 450h1.4M515 445h1.4M518 427h1.4M509 427h1.4M525 438h1.4M508 433h1.4M506 430h1.4M511 445h1.4M508 442h1.4M507 444h1.4M505 451h1.4M528 447h1.4M507 454h1.4M507 442h1.4M513 451h1.4M511 435h1.4M509 450h1.4M521 453h1.4M509 452h1.4M513 454h1.4M527 439h1.4M527 435h1.4M509 451h1.4M521 434h1.4M505 425h1.4M514 450h1.4M508 451h1.4M522 440h1.4M512 441h1.4M509 455h1.4M527 443h1.4M522 451h1.4M513 438h1.4M527 437h1.4M522 449h1.4M524 432h1.4M517 449h1.4M522 438h1.4M506 452h1.4M516 435h1.4M509 427h1.4M509 432h1.4M519 434h1.4M506 440h1.4M525 433h1.4M512 435h1.4M512 430h1.4M512 430h1.4M518 442h1.4M518 435h1.4M510 434h1.4M519 443h1.4M514 445h1.4M521 433h1.4M522 439h1.4M524 431h1.4M527 436h1.4M516 444h1.4M521 445h1.4M518 440h1.4M510 433h1.4M505 429h1.4M508 428h1.4M524 451h1.4M512 434h1.4M514 418h1.4M519 420h1.4M521 416h1.4M504 422h1.4M504 416h1.4M525 415h1.4M526 421h1.4M495 422h1.4M511 414h1.4M533 426h1.4M521 414h1.4M483 419h1.4M521 422h1.4M522 426h1.4M513 421h1.4M519 418h1.4M514 424h1.4M507 416h1.4M523 423h1.4M507 425h1.4M529 415h1.4M544 412h1.4M514 418h1.4M495 423h1.4M515 428h1.4M510 421h1.4M521 412h1.4M517 424h1.4M496 413h1.4M498 424h1.4M525 416h1.4M518 426h1.4M536 419h1.4M511 420h1.4M521 419h1.4M509 424h1.4M495 417h1.4M523 423h1.4M519 422h1.4M521 422h1.4M506 423h1.4M514 410h1.4M509 427h1.4M501 417h1.4M515 417h1.4M511 420h1.4M513 414h1.4M514 420h1.4M530 419h1.4M527 418h1.4M539 413h1.4M512 421h1.4M530 410h1.4M510 419h1.4M519 421h1.4M504 421h1.4M534 418h1.4M520 421h1.4M516 425h1.4M521 423h1.4M521 414h1.4M517 424h1.4M521 416h1.4M518 414h1.4M518 418h1.4M509 423h1.4M512 421h1.4M523 422h1.4M518 413h1.4M512 417h1.4M517 419h1.4M514 414h1.4M502 416h1.4M508 414h1.4M523 415h1.4M518 425h1.4M509 426h1.4M535 420h1.4M496 421h1.4M514 420h1.4M514 415h1.4M520 429h1.4M501 416h1.4M514 416h1.4M507 412h1.4M516 426h1.4M512 422h1.4M528 419h1.4M520 420h1.4M523 415h1.4M506 472h1.4M497 464h1.4M509 470h1.4M500 465h1.4M507 475h1.4M509 472h1.4M510 472h1.4M501 466h1.4M493 463h1.4M511 476h1.4M510 471h1.4M511 474h1.4M508 467h1.4M500 468h1.4M508 473h1.4M493 462h1.4M488 463h1.4M512 473h1.4M498 460h1.4M491 456h1.4M504 470h1.4M502 471h1.4M506 468h1.4M496 465h1.4M500 470h1.4M511 473h1.4M491 461h1.4M493 462h1.4M493 457h1.4M494 459h1.4M508 467h1.4M492 457h1.4M491 460h1.4M494 464h1.4M497 469h1.4M491 459h1.4M495 463h1.4M491 463h1.4M505 471h1.4M503 469h1.4M511 474h1.4M505 472h1.4M508 473h1.4M510 472h1.4M508 474h1.4M505 471h1.4M493 462h1.4M495 467h1.4M509 471h1.4M503 468h1.4M497 468h1.4M488 461h1.4M502 465h1.4M489 459h1.4M506 471h1.4M507 466h1.4M513 474h1.4M498 459h1.4M498 465h1.4M502 464h1.4M511 470h1.4M509 473h1.4M506 469h1.4M510 472h1.4M500 468h1.4M506 465h1.4M504 465h1.4M504 471h1.4M489 464h1.4M490 461h1.4M495 464h1.4M497 465h1.4M492 462h1.4M502 464h1.4M504 468h1.4M505 465h1.4M494 465h1.4M506 474h1.4M501 463h1.4M501 466h1.4M502 470h1.4M494 465h1.4M493 465h1.4M492 461h1.4M508 471h1.4M505 466h1.4M490 456h1.4M496 463h1.4M498 463h1.4M506 469h1.4M502 471h1.4M504 465h1.4M494 460h1.4M497 467h1.4M501 461h1.4M494 465h1.4M506 472h1.4M511 472h1.4M490 461h1.4M509 472h1.4M506 474h1.4M492 456h1.4M489 459h1.4M506 469h1.4M496 468h1.4M495 464h1.4M507 474h1.4M501 462h1.4M490 457h1.4M508 475h1.4M494 458h1.4M510 470h1.4M510 471h1.4M499 470h1.4M494 461h1.4M512 473h1.4M494 465h1.4M494 466h1.4M504 468h1.4M503 469h1.4M508 474h1.4M505 471h1.4M511 473h1.4M505 470h1.4M502 470h1.4M508 475h1.4M509 469h1.4M507 471h1.4M514 473h1.4M508 469h1.4M510 472h1.4M501 466h1.4M497 460h1.4M493 456h1.4M510 474h1.4M488 461h1.4M490 458h1.4M492 461h1.4M494 462h1.4M499 464h1.4M491 464h1.4M510 476h1.4M492 462h1.4M512 475h1.4M490 456h1.4M495 462h1.4M498 469h1.4M496 461h1.4M491 464h1.4M512 475h1.4M503 464h1.4M491 457h1.4M500 469h1.4M502 463h1.4M502 468h1.4M498 467h1.4M504 471h1.4M490 461h1.4M489 459h1.4M499 460h1.4M492 465h1.4M505 472h1.4M511 472h1.4M495 459h1.4M507 467h1.4M504 468h1.4M508 474h1.4M505 470h1.4M501 463h1.4M495 460h1.4M531 442h1.4M525 445h1.4M526 445h1.4M529 441h1.4M531 443h1.4M528 445h1.4M527 444h1.4M535 445h1.4M524 442h1.4M529 445h1.4M528 443h1.4M529 443h1.4M529 442h1.4M528 447h1.4M521 444h1.4M528 442h1.4M527 449h1.4M523 440h1.4M525 441h1.4M531 444h1.4M526 442h1.4M531 445h1.4M525 447h1.4M523 439h1.4M523 442h1.4" stroke="#d99a1c" stroke-width="1.4" stroke-opacity=".95" fill="none" transform="translate(0 .5)"/>
<path d="M240 418h1.4M243 418h1.4M252 405h1.4M252 409h1.4M243 416h1.4M250 410h1.4M243 414h1.4M245 417h1.4M251 411h1.4M246 415h1.4M240 419h1.4M252 407h1.4M252 410h1.4M243 413h1.4M250 409h1.4M252 410h1.4M239 418h1.4M252 409h1.4M240 417h1.4M243 413h1.4M251 412h1.4M249 408h1.4M239 417h1.4M244 418h1.4M247 410h1.4M250 410h1.4M244 414h1.4M243 417h1.4M252 410h1.4M242 417h1.4M246 414h1.4M240 418h1.4M243 418h1.4M241 416h1.4M239 416h1.4M249 409h1.4M252 406h1.4M252 405h1.4M242 418h1.4M239 419h1.4M255 407h1.4M251 406h1.4M244 416h1.4M252 408h1.4M245 414h1.4M517 414h1.4M522 421h1.4M518 421h1.4M529 418h1.4M528 410h1.4M527 417h1.4M517 421h1.4M528 416h1.4M524 421h1.4M526 421h1.4M519 415h1.4M529 412h1.4M516 415h1.4M517 414h1.4M521 422h1.4M518 419h1.4M525 416h1.4M528 418h1.4M526 418h1.4M524 416h1.4M521 418h1.4M517 420h1.4M519 419h1.4M528 416h1.4M523 410h1.4M527 419h1.4M528 421h1.4M531 416h1.4M525 415h1.4M525 417h1.4M522 422h1.4M518 415h1.4M529 412h1.4M523 416h1.4M522 412h1.4M523 419h1.4M516 417h1.4M524 412h1.4M521 409h1.4M530 422h1.4M525 420h1.4M522 417h1.4M520 423h1.4M526 412h1.4M518 413h1.4M517 420h1.4M528 411h1.4M530 416h1.4M525 414h1.4M517 417h1.4M518 420h1.4M522 417h1.4M525 413h1.4M523 417h1.4M521 415h1.4M520 410h1.4M532 416h1.4M520 415h1.4M522 418h1.4M520 409h1.4M520 410h1.4M525 421h1.4M524 423h1.4M527 420h1.4M525 422h1.4M528 422h1.4M519 416h1.4M519 410h1.4M529 420h1.4M531 412h1.4M517 414h1.4M518 410h1.4M530 416h1.4M524 421h1.4M526 409h1.4M522 415h1.4M517 420h1.4M527 411h1.4M518 419h1.4M520 422h1.4M515 428h1.4M503 414h1.4M510 428h1.4M506 427h1.4M515 427h1.4M527 428h1.4M504 430h1.4M519 423h1.4M506 417h1.4M516 431h1.4M526 438h1.4M519 433h1.4M516 421h1.4M517 426h1.4M517 422h1.4M512 431h1.4M508 426h1.4M504 428h1.4M516 422h1.4M509 422h1.4M512 425h1.4M514 428h1.4M499 421h1.4M502 425h1.4M510 424h1.4M513 426h1.4M527 433h1.4M509 427h1.4M520 424h1.4M514 434h1.4M521 433h1.4M523 423h1.4M519 431h1.4M514 425h1.4M521 423h1.4M515 425h1.4M506 423h1.4M508 423h1.4M503 424h1.4M507 425h1.4M493 429h1.4M516 419h1.4M524 424h1.4M508 435h1.4M524 425h1.4M512 418h1.4M507 420h1.4M520 420h1.4M509 428h1.4M502 426h1.4M533 410h1.4M530 406h1.4M531 411h1.4M531 412h1.4M530 410h1.4M528 417h1.4M530 407h1.4M533 405h1.4M530 410h1.4M531 409h1.4M527 410h1.4M527 408h1.4M532 410h1.4M529 412h1.4M530 413h1.4M530 411h1.4M528 408h1.4M531 412h1.4M531 406h1.4M532 406h1.4M530 409h1.4M533 412h1.4M532 410h1.4M528 408h1.4M531 408h1.4" stroke="#3cb82a" stroke-width="1.4" stroke-opacity=".95" fill="none" transform="translate(0 .5)"/>
<path d="M241 421h1.4M244 423h1.4M242 429h1.4M259 425h1.4M244 425h1.4M242 423h1.4M235 420h1.4M248 421h1.4M254 421h1.4M247 413h1.4M243 416h1.4M234 429h1.4M240 434h1.4M250 429h1.4M249 430h1.4M255 421h1.4M241 416h1.4M243 420h1.4M237 426h1.4M250 430h1.4M251 423h1.4M233 432h1.4M251 426h1.4M245 421h1.4M243 431h1.4M238 422h1.4M245 425h1.4M231 432h1.4M240 424h1.4M240 424h1.4M242 436h1.4M248 436h1.4M238 423h1.4M234 424h1.4M255 419h1.4M253 431h1.4M246 425h1.4M246 425h1.4M251 427h1.4M245 428h1.4M251 435h1.4M242 429h1.4M241 421h1.4M253 419h1.4M241 423h1.4M246 421h1.4M237 426h1.4M249 423h1.4M243 422h1.4M241 415h1.4M253 422h1.4M247 427h1.4M250 411h1.4M253 432h1.4M242 425h1.4M254 431h1.4M243 424h1.4M250 422h1.4M236 429h1.4M240 429h1.4M527 429h1.4M531 427h1.4M528 428h1.4M532 425h1.4M526 430h1.4M534 428h1.4M525 425h1.4M528 423h1.4M530 429h1.4M525 432h1.4M529 429h1.4M534 429h1.4M533 431h1.4M531 428h1.4M525 433h1.4M523 432h1.4M526 433h1.4M525 429h1.4M525 423h1.4M531 428h1.4M526 434h1.4M528 431h1.4M525 427h1.4M527 429h1.4M530 432h1.4M523 431h1.4M522 431h1.4M525 428h1.4M526 430h1.4M528 431h1.4M530 431h1.4M533 428h1.4M526 426h1.4M532 427h1.4M533 431h1.4M529 427h1.4M527 433h1.4M529 424h1.4M530 425h1.4M534 426h1.4M533 430h1.4M527 423h1.4M527 427h1.4M521 430h1.4M524 425h1.4M530 424h1.4M529 432h1.4M527 434h1.4M533 425h1.4M532 429h1.4M535 429h1.4M528 432h1.4M525 427h1.4M530 426h1.4M533 424h1.4M530 427h1.4M528 426h1.4M532 432h1.4M523 426h1.4M527 431h1.4M531 430h1.4M529 429h1.4M526 429h1.4M530 426h1.4M531 426h1.4M535 427h1.4M526 424h1.4M531 422h1.4M529 431h1.4M523 429h1.4M528 426h1.4M536 427h1.4M531 428h1.4M524 428h1.4M521 428h1.4M527 423h1.4M523 431h1.4M522 431h1.4M530 426h1.4M534 425h1.4M529 434h1.4M526 431h1.4M526 423h1.4M525 433h1.4M531 430h1.4M529 429h1.4M527 424h1.4M522 430h1.4M528 427h1.4M526 425h1.4M534 429h1.4M530 427h1.4M533 424h1.4M529 431h1.4M524 432h1.4M526 429h1.4M533 430h1.4M527 433h1.4M523 430h1.4M530 427h1.4M523 432h1.4M534 429h1.4M525 426h1.4M531 430h1.4M530 430h1.4M526 429h1.4M523 428h1.4M531 427h1.4M533 428h1.4M528 423h1.4M530 432h1.4M523 427h1.4M533 426h1.4M534 427h1.4M522 428h1.4M524 428h1.4M532 432h1.4M530 427h1.4M528 424h1.4M531 427h1.4M524 428h1.4M530 427h1.4M529 424h1.4M526 429h1.4M530 432h1.4M524 426h1.4M533 428h1.4M524 431h1.4M530 426h1.4M522 430h1.4M525 424h1.4M521 429h1.4M527 427h1.4M534 432h1.4M529 422h1.4M534 430h1.4M522 430h1.4M534 427h1.4M530 426h1.4M532 426h1.4M524 429h1.4M531 427h1.4M530 422h1.4M533 429h1.4M530 429h1.4M527 429h1.4M526 433h1.4M522 429h1.4M527 429h1.4M523 425h1.4M533 429h1.4M532 430h1.4M528 427h1.4M533 427h1.4M528 423h1.4M531 430h1.4M530 432h1.4M535 430h1.4M527 424h1.4M521 428h1.4M527 428h1.4M530 429h1.4M523 424h1.4M526 423h1.4M521 427h1.4M528 422h1.4M521 428h1.4M531 424h1.4M534 427h1.4M524 426h1.4M526 425h1.4M525 424h1.4M525 426h1.4M535 431h1.4M532 432h1.4M524 428h1.4M525 433h1.4M528 424h1.4M526 432h1.4M523 432h1.4M530 432h1.4M521 428h1.4M531 426h1.4M522 429h1.4M530 429h1.4M529 433h1.4M529 434h1.4M534 432h1.4M530 430h1.4M529 433h1.4M525 428h1.4M533 427h1.4M533 429h1.4M533 427h1.4M527 432h1.4M527 423h1.4M528 423h1.4M523 424h1.4M523 430h1.4M535 430h1.4M530 428h1.4M530 432h1.4M526 427h1.4M532 433h1.4M535 428h1.4M524 424h1.4M522 429h1.4M529 425h1.4M524 424h1.4M535 426h1.4M527 423h1.4M532 425h1.4M526 433h1.4M523 427h1.4M529 432h1.4M528 422h1.4M529 426h1.4M531 423h1.4M534 426h1.4M532 431h1.4M531 426h1.4M521 426h1.4M531 422h1.4M531 431h1.4M531 433h1.4M523 428h1.4M531 424h1.4M531 433h1.4M528 434h1.4M526 431h1.4M533 428h1.4M525 424h1.4M523 428h1.4M524 428h1.4M523 424h1.4M527 430h1.4M527 423h1.4M529 427h1.4M532 424h1.4M524 433h1.4M526 431h1.4M534 430h1.4M533 428h1.4M531 427h1.4M531 429h1.4M532 424h1.4M525 427h1.4M525 428h1.4M529 434h1.4M523 427h1.4M529 425h1.4M532 429h1.4M522 427h1.4M534 432h1.4M525 430h1.4M532 429h1.4M531 428h1.4M535 430h1.4M526 423h1.4M528 428h1.4" stroke="#52b51d" stroke-width="1.4" stroke-opacity=".95" fill="none" transform="translate(0 .5)"/>
<path d="M281 434h1.4M263 429h1.4M271 460h1.4M266 456h1.4M273 461h1.4M274 458h1.4M278 455h1.4M276 428h1.4M274 429h1.4M280 433h1.4M282 435h1.4M263 428h1.4M276 461h1.4M279 457h1.4M267 428h1.4M265 428h1.4M268 427h1.4M286 437h1.4M280 457h1.4M287 447h1.4M270 428h1.4M272 461h1.4M279 459h1.4M263 429h1.4M272 430h1.4M282 449h1.4M278 457h1.4M280 436h1.4M278 429h1.4M266 427h1.4M282 437h1.4M277 459h1.4M271 461h1.4M273 428h1.4M285 449h1.4M284 439h1.4M279 431h1.4M281 436h1.4M283 441h1.4M283 438h1.4M278 460h1.4M279 434h1.4M281 434h1.4M279 433h1.4M261 428h1.4M286 450h1.4M282 450h1.4M262 426h1.4M282 437h1.4M281 458h1.4M286 442h1.4M282 431h1.4M273 430h1.4M284 453h1.4M276 432h1.4M278 432h1.4M276 458h1.4M270 426h1.4M285 443h1.4M281 433h1.4M262 428h1.4M282 434h1.4M265 458h1.4M277 431h1.4M283 445h1.4M285 446h1.4M271 460h1.4M275 429h1.4M285 439h1.4M283 435h1.4M281 458h1.4M283 444h1.4M267 426h1.4M282 437h1.4M266 427h1.4M277 430h1.4M280 453h1.4M286 441h1.4M279 458h1.4M271 430h1.4M278 460h1.4M280 433h1.4M270 459h1.4M273 460h1.4M284 438h1.4M271 428h1.4M280 456h1.4M287 441h1.4M276 457h1.4M265 426h1.4M281 454h1.4M275 458h1.4M276 430h1.4M268 426h1.4M278 458h1.4M282 433h1.4M282 440h1.4M275 428h1.4M276 429h1.4M274 428h1.4M282 448h1.4M268 458h1.4M277 460h1.4M262 426h1.4M267 428h1.4M286 443h1.4M272 427h1.4M263 428h1.4M282 436h1.4M282 440h1.4M285 454h1.4M284 456h1.4M282 458h1.4M278 459h1.4M280 455h1.4M276 457h1.4M267 458h1.4M265 426h1.4M267 428h1.4M283 454h1.4M279 455h1.4M276 427h1.4M287 442h1.4M287 445h1.4M282 454h1.4M279 428h1.4M281 431h1.4M272 428h1.4M284 447h1.4M277 460h1.4M266 456h1.4M266 456h1.4M262 428h1.4M286 441h1.4M274 462h1.4M284 443h1.4M284 438h1.4M270 460h1.4M282 449h1.4M280 437h1.4M283 434h1.4M276 458h1.4M281 437h1.4M284 445h1.4M280 432h1.4M269 427h1.4M277 458h1.4M282 436h1.4M276 458h1.4M281 436h1.4M280 454h1.4M281 454h1.4M282 443h1.4M283 442h1.4M274 459h1.4M283 436h1.4M285 440h1.4M281 437h1.4M267 429h1.4M284 446h1.4M280 455h1.4M268 457h1.4M277 432h1.4M273 459h1.4M285 445h1.4M283 435h1.4M275 427h1.4M276 427h1.4M284 450h1.4M268 459h1.4M265 428h1.4M282 452h1.4M281 436h1.4M265 428h1.4M267 427h1.4M279 458h1.4M284 439h1.4M282 432h1.4M266 458h1.4M267 459h1.4M266 428h1.4M287 440h1.4M273 429h1.4M268 426h1.4M262 427h1.4M270 462h1.4M286 442h1.4M281 456h1.4M281 457h1.4M270 462h1.4M284 455h1.4M278 460h1.4M287 446h1.4M286 450h1.4M281 438h1.4M283 438h1.4M280 437h1.4M275 428h1.4M281 435h1.4M276 428h1.4M267 458h1.4M283 434h1.4M269 460h1.4M283 437h1.4M272 459h1.4M284 439h1.4M280 435h1.4M267 459h1.4M276 460h1.4M274 428h1.4M274 430h1.4M280 455h1.4M283 445h1.4M281 430h1.4M286 445h1.4M273 428h1.4M281 434h1.4M281 430h1.4M278 428h1.4M281 456h1.4M277 428h1.4M266 456h1.4M280 456h1.4M282 442h1.4M280 455h1.4M270 458h1.4M266 427h1.4M267 427h1.4M271 462h1.4M271 459h1.4M265 427h1.4M271 459h1.4M278 458h1.4M284 442h1.4M275 462h1.4M284 447h1.4M286 445h1.4M272 460h1.4M267 457h1.4M284 450h1.4M278 430h1.4M281 455h1.4M281 453h1.4M280 458h1.4M276 461h1.4M283 452h1.4M279 460h1.4M281 436h1.4M280 456h1.4M265 457h1.4M270 460h1.4M268 458h1.4M285 447h1.4M264 426h1.4M283 457h1.4M272 429h1.4M284 454h1.4M280 452h1.4M284 454h1.4M269 461h1.4M263 428h1.4M282 431h1.4M274 459h1.4M278 432h1.4M276 430h1.4M266 460h1.4M263 428h1.4M282 439h1.4M282 440h1.4M273 430h1.4M270 460h1.4M281 436h1.4M280 434h1.4M283 456h1.4M283 448h1.4M285 452h1.4M267 429h1.4M284 448h1.4M279 434h1.4M285 450h1.4M269 429h1.4M283 447h1.4M274 430h1.4M266 458h1.4M265 457h1.4M280 455h1.4M280 455h1.4M267 428h1.4M282 438h1.4M276 459h1.4M284 449h1.4M283 455h1.4M266 429h1.4M285 438h1.4M283 447h1.4M271 427h1.4M282 453h1.4M286 441h1.4M285 453h1.4M283 441h1.4M274 448h1.4M273 450h1.4M272 451h1.4M273 444h1.4M273 454h1.4M272 436h1.4M276 445h1.4M271 455h1.4M271 453h1.4M271 453h1.4M274 453h1.4M272 455h1.4M273 449h1.4M274 440h1.4M271 438h1.4M273 443h1.4M271 452h1.4M271 453h1.4M271 452h1.4M274 453h1.4M276 444h1.4M271 438h1.4M274 443h1.4M273 453h1.4M273 445h1.4M273 439h1.4M272 438h1.4M275 445h1.4M272 437h1.4M273 444h1.4M271 454h1.4M272 440h1.4M274 441h1.4M273 442h1.4M271 437h1.4M273 439h1.4M273 438h1.4M273 447h1.4M270 454h1.4M274 445h1.4M273 446h1.4M274 452h1.4M273 437h1.4M273 448h1.4M273 452h1.4M274 449h1.4M273 449h1.4M273 444h1.4M272 447h1.4M274 449h1.4M272 439h1.4M272 440h1.4M271 439h1.4M274 452h1.4M272 442h1.4M271 451h1.4M273 442h1.4M274 445h1.4M275 449h1.4M273 449h1.4M273 450h1.4M272 450h1.4M274 439h1.4M273 449h1.4M272 441h1.4M274 439h1.4M272 438h1.4M273 448h1.4M273 443h1.4M271 451h1.4M274 448h1.4M276 449h1.4M271 451h1.4M274 446h1.4M271 436h1.4M272 440h1.4M274 451h1.4M274 445h1.4M274 451h1.4M272 442h1.4M271 452h1.4M273 449h1.4M271 437h1.4M276 444h1.4M273 452h1.4M271 438h1.4M272 452h1.4M273 448h1.4M273 443h1.4M272 436h1.4M270 454h1.4M272 438h1.4M276 445h1.4M273 448h1.4M273 443h1.4M273 449h1.4M274 441h1.4M270 454h1.4M273 450h1.4M274 440h1.4M272 437h1.4M273 445h1.4M270 452h1.4M272 451h1.4M271 439h1.4M273 445h1.4M271 440h1.4M272 438h1.4M273 449h1.4M276 446h1.4M269 462h1.4M271 464h1.4M271 464h1.4M271 463h1.4M273 466h1.4M270 465h1.4M271 464h1.4M272 465h1.4M273 465h1.4M273 464h1.4M271 465h1.4M273 466h1.4M272 464h1.4M269 462h1.4M271 464h1.4M272 466h1.4M270 463h1.4M272 466h1.4M269 464h1.4M271 465h1.4M271 465h1.4M271 462h1.4M272 461h1.4M269 462h1.4M270 461h1.4M272 467h1.4M272 461h1.4M272 462h1.4M271 464h1.4M271 464h1.4M546 446h1.4M554 461h1.4M556 460h1.4M554 463h1.4M546 441h1.4M551 455h1.4M548 444h1.4M546 446h1.4M550 456h1.4M554 463h1.4M548 441h1.4M546 449h1.4M553 460h1.4M545 444h1.4M552 456h1.4M553 457h1.4M546 445h1.4M554 459h1.4M554 460h1.4M550 456h1.4M551 452h1.4M549 447h1.4M549 452h1.4M547 447h1.4M554 462h1.4M548 444h1.4M546 448h1.4M552 456h1.4M549 452h1.4M549 451h1.4M549 445h1.4M548 455h1.4M548 451h1.4M549 451h1.4M549 451h1.4" stroke="#1fa9f9" stroke-width="1.4" stroke-opacity=".95" fill="none" transform="translate(0 .5)"/>
<path d="M257 491h1.4M258 491h1.4M266 493h1.4M265 492h1.4M254 489h1.4M265 494h1.4M266 495h1.4M272 490h1.4M261 490h1.4M269 486h1.4M258 494h1.4M273 492h1.4M267 488h1.4M259 487h1.4M269 493h1.4M257 493h1.4M276 489h1.4M265 484h1.4M269 486h1.4M268 488h1.4M257 492h1.4M264 490h1.4M271 486h1.4M258 492h1.4M271 484h1.4M267 483h1.4M253 490h1.4M266 491h1.4M267 483h1.4M264 490h1.4M275 494h1.4M272 485h1.4M255 494h1.4M269 487h1.4M275 493h1.4M268 491h1.4M265 489h1.4M270 492h1.4M260 487h1.4M267 482h1.4M263 487h1.4M273 483h1.4M262 492h1.4M259 488h1.4M275 494h1.4M266 493h1.4M273 492h1.4M258 490h1.4M271 485h1.4M258 495h1.4M254 489h1.4M274 484h1.4M271 485h1.4M261 494h1.4M269 489h1.4M272 491h1.4M268 482h1.4M259 490h1.4M266 491h1.4M269 484h1.4M256 492h1.4M260 494h1.4M265 495h1.4M267 487h1.4M273 486h1.4M268 484h1.4M271 493h1.4M258 489h1.4M268 485h1.4M269 494h1.4M270 484h1.4M262 491h1.4M265 493h1.4M272 490h1.4M261 490h1.4M270 492h1.4M254 489h1.4M270 489h1.4M262 495h1.4M270 483h1.4M272 484h1.4M254 492h1.4M266 488h1.4M270 482h1.4M263 494h1.4M262 489h1.4M264 493h1.4M271 490h1.4M264 493h1.4M275 494h1.4M273 491h1.4M258 492h1.4M259 490h1.4M275 491h1.4M259 488h1.4M271 482h1.4M276 487h1.4M266 485h1.4M261 495h1.4M268 490h1.4M260 489h1.4M256 491h1.4M271 487h1.4M273 486h1.4M269 489h1.4M265 490h1.4M263 485h1.4M265 494h1.4M261 495h1.4M271 483h1.4M254 489h1.4M271 485h1.4M274 484h1.4M267 488h1.4M264 486h1.4M263 493h1.4M266 494h1.4M268 483h1.4M267 493h1.4M275 485h1.4M257 491h1.4M256 493h1.4M274 486h1.4M260 488h1.4M270 495h1.4M264 487h1.4M262 490h1.4M261 486h1.4M268 494h1.4M275 493h1.4M255 493h1.4M269 495h1.4M263 488h1.4M263 489h1.4M264 493h1.4M257 488h1.4M268 485h1.4M263 485h1.4M259 489h1.4M261 492h1.4M272 486h1.4M257 488h1.4M267 493h1.4M270 487h1.4M274 494h1.4M268 484h1.4M275 489h1.4M261 487h1.4M268 483h1.4M260 491h1.4M267 486h1.4M265 489h1.4M265 487h1.4M275 494h1.4M269 488h1.4M262 489h1.4M273 488h1.4M271 493h1.4M267 491h1.4M267 487h1.4M262 485h1.4M262 485h1.4M262 491h1.4M275 492h1.4M265 495h1.4M268 484h1.4M260 488h1.4M255 493h1.4M256 491h1.4M257 489h1.4M261 487h1.4M261 492h1.4M268 484h1.4M272 490h1.4M254 494h1.4M263 494h1.4M254 493h1.4M262 485h1.4M254 490h1.4M263 493h1.4M267 486h1.4M263 494h1.4M271 490h1.4M266 492h1.4M275 489h1.4M266 487h1.4M273 493h1.4M275 488h1.4M262 493h1.4M258 488h1.4M274 492h1.4M261 493h1.4M266 488h1.4M256 492h1.4M259 494h1.4M264 490h1.4M256 492h1.4M263 492h1.4M257 490h1.4M261 488h1.4M264 494h1.4M268 485h1.4M274 488h1.4M272 489h1.4M255 490h1.4M267 490h1.4M253 493h1.4M265 484h1.4M266 492h1.4M264 491h1.4M259 494h1.4M274 491h1.4M255 492h1.4M262 494h1.4M272 488h1.4M265 489h1.4M254 493h1.4M266 486h1.4M270 495h1.4M270 487h1.4M271 489h1.4M274 485h1.4M265 487h1.4M265 487h1.4M271 484h1.4M265 491h1.4M255 490h1.4M255 489h1.4M262 486h1.4M274 487h1.4M263 495h1.4M257 489h1.4M256 491h1.4M274 494h1.4M268 493h1.4M256 489h1.4M265 491h1.4M266 494h1.4M267 490h1.4M269 490h1.4M258 492h1.4M258 494h1.4M256 493h1.4M260 487h1.4M272 487h1.4M261 493h1.4M273 493h1.4M264 490h1.4M272 489h1.4M266 492h1.4M265 484h1.4M271 485h1.4M260 488h1.4M271 483h1.4M271 485h1.4M260 488h1.4M270 482h1.4M269 493h1.4M260 490h1.4M273 490h1.4M539 493h1.4M549 489h1.4M534 492h1.4M547 489h1.4M542 492h1.4M547 489h1.4M548 492h1.4M533 492h1.4M531 493h1.4M535 491h1.4M533 492h1.4M539 491h1.4M541 493h1.4M537 491h1.4M546 490h1.4M546 491h1.4M538 491h1.4M548 492h1.4M546 491h1.4M547 491h1.4M541 492h1.4M534 491h1.4M547 484h1.4M544 486h1.4M548 488h1.4M551 487h1.4M549 485h1.4M550 485h1.4M549 486h1.4M547 486h1.4" stroke="#1fa0f5" stroke-width="1.4" stroke-opacity=".95" fill="none" transform="translate(0 .5)"/>
<path d="M160 463h1.4M142 470h1.4M166 521h1.4M157 462h1.4M165 521h1.4M142 491h1.4M145 463h1.4M148 462h1.4M151 499h1.4M141 470h1.4M168 525h1.4M156 511h1.4M141 483h1.4M140 476h1.4M153 504h1.4M155 461h1.4M164 528h1.4M138 483h1.4M145 465h1.4M166 521h1.4M142 463h1.4M155 502h1.4M139 478h1.4M156 498h1.4M142 477h1.4M165 522h1.4M141 466h1.4M156 462h1.4M171 530h1.4M160 462h1.4M141 476h1.4M156 462h1.4M160 522h1.4M142 470h1.4M147 489h1.4M139 465h1.4M150 494h1.4M144 489h1.4M143 480h1.4M142 467h1.4M146 494h1.4M146 463h1.4M162 524h1.4M162 528h1.4M145 492h1.4M143 491h1.4M139 469h1.4M164 524h1.4M156 505h1.4M161 519h1.4M159 505h1.4M144 491h1.4M147 463h1.4M152 463h1.4M142 491h1.4M168 530h1.4M146 496h1.4M136 478h1.4M162 462h1.4M136 474h1.4M147 494h1.4M160 519h1.4M149 461h1.4M159 508h1.4M143 468h1.4M168 533h1.4M160 518h1.4M143 482h1.4M149 462h1.4M142 482h1.4M160 462h1.4M157 500h1.4M157 460h1.4M143 466h1.4M153 496h1.4M151 463h1.4M151 464h1.4M144 464h1.4M146 492h1.4M155 501h1.4M141 476h1.4M141 476h1.4M160 503h1.4M138 471h1.4M148 495h1.4M153 501h1.4M163 532h1.4M168 525h1.4M148 463h1.4M141 465h1.4M169 529h1.4M143 481h1.4M146 489h1.4M157 462h1.4M166 521h1.4M144 462h1.4M139 487h1.4M169 535h1.4M154 462h1.4M150 496h1.4M142 491h1.4M167 530h1.4M143 483h1.4M168 527h1.4M137 482h1.4M152 496h1.4M136 478h1.4M137 474h1.4M151 496h1.4M157 504h1.4M156 518h1.4M145 461h1.4M140 477h1.4M143 483h1.4M149 463h1.4M156 463h1.4M171 531h1.4M142 475h1.4M137 481h1.4M148 464h1.4M138 486h1.4M153 503h1.4M163 524h1.4M148 464h1.4M156 518h1.4M144 467h1.4M151 464h1.4M155 509h1.4M154 509h1.4M167 531h1.4M155 463h1.4M159 503h1.4M138 483h1.4M154 499h1.4M156 501h1.4M162 519h1.4M148 494h1.4M166 527h1.4M169 534h1.4M152 463h1.4M156 506h1.4M146 489h1.4M159 525h1.4M165 529h1.4M158 515h1.4M147 494h1.4M155 461h1.4M159 526h1.4M140 479h1.4M148 494h1.4M140 488h1.4M162 463h1.4M159 513h1.4M154 507h1.4M165 523h1.4M141 484h1.4M169 528h1.4M169 534h1.4M141 465h1.4M140 467h1.4M168 531h1.4M159 462h1.4M146 466h1.4M156 462h1.4M149 491h1.4M156 516h1.4M155 501h1.4M164 520h1.4M161 527h1.4M167 526h1.4M142 464h1.4M154 507h1.4M156 509h1.4M143 466h1.4M145 491h1.4M140 483h1.4M171 532h1.4M163 523h1.4M152 497h1.4M152 462h1.4M149 462h1.4M143 485h1.4M162 508h1.4M143 488h1.4M150 494h1.4M137 481h1.4M142 483h1.4M144 483h1.4M161 528h1.4M161 463h1.4M150 494h1.4M170 532h1.4M161 512h1.4M160 516h1.4M141 489h1.4M166 528h1.4M140 486h1.4M158 506h1.4M143 483h1.4M150 461h1.4M148 462h1.4M142 470h1.4M142 465h1.4M139 484h1.4M145 493h1.4M158 462h1.4M165 526h1.4M146 493h1.4M164 526h1.4M147 463h1.4M154 510h1.4M141 482h1.4M159 507h1.4M142 464h1.4M138 478h1.4M155 505h1.4M153 496h1.4M157 462h1.4M138 469h1.4M143 486h1.4M148 463h1.4M158 513h1.4M152 500h1.4M169 528h1.4M152 496h1.4M136 480h1.4M169 533h1.4M139 472h1.4M166 521h1.4M143 469h1.4M166 531h1.4M151 463h1.4M143 491h1.4M143 470h1.4M138 469h1.4M139 476h1.4M162 516h1.4M154 507h1.4M137 474h1.4M160 517h1.4M144 466h1.4M156 514h1.4M160 463h1.4M164 524h1.4M154 507h1.4M141 467h1.4M139 470h1.4M159 510h1.4M162 522h1.4M148 462h1.4M163 522h1.4M139 486h1.4M151 495h1.4M144 489h1.4M172 531h1.4M146 496h1.4M156 520h1.4M136 474h1.4M162 521h1.4M168 527h1.4M147 464h1.4M161 462h1.4M142 485h1.4M143 484h1.4M157 508h1.4M142 470h1.4M157 511h1.4M157 462h1.4M142 491h1.4M170 529h1.4M144 486h1.4M164 531h1.4M150 461h1.4M156 512h1.4M158 515h1.4M146 489h1.4M155 499h1.4M166 528h1.4M161 529h1.4M158 505h1.4M140 470h1.4M143 486h1.4M143 488h1.4M147 465h1.4M137 472h1.4M142 470h1.4M160 462h1.4M171 533h1.4M157 506h1.4M141 482h1.4M141 488h1.4M166 520h1.4M152 504h1.4M154 463h1.4M154 497h1.4M162 461h1.4M142 488h1.4M157 461h1.4M146 463h1.4M156 463h1.4M137 478h1.4M146 463h1.4M153 463h1.4M142 477h1.4M157 462h1.4M167 526h1.4M138 468h1.4M141 466h1.4M155 462h1.4M152 496h1.4M147 488h1.4M155 460h1.4M143 467h1.4M149 493h1.4M138 466h1.4M140 484h1.4M151 462h1.4M146 490h1.4M157 462h1.4M149 464h1.4M163 520h1.4M161 462h1.4M146 463h1.4M147 489h1.4M157 462h1.4M142 466h1.4M149 494h1.4M146 487h1.4M154 499h1.4M154 463h1.4M148 461h1.4M149 493h1.4M171 530h1.4M160 516h1.4M166 529h1.4M140 466h1.4M139 477h1.4M141 475h1.4M169 535h1.4M161 523h1.4M155 514h1.4M137 479h1.4M147 495h1.4M142 470h1.4M145 492h1.4M163 526h1.4M141 465h1.4M145 464h1.4M149 499h1.4M150 497h1.4M142 476h1.4M151 500h1.4M144 488h1.4M159 520h1.4M164 529h1.4M146 491h1.4M148 498h1.4M150 463h1.4M138 473h1.4M165 517h1.4M138 479h1.4M155 461h1.4M147 493h1.4M151 461h1.4M152 461h1.4M156 461h1.4M149 463h1.4M144 467h1.4M155 463h1.4M144 485h1.4M149 461h1.4M139 467h1.4M139 470h1.4M146 493h1.4M140 465h1.4M157 502h1.4M140 488h1.4M147 462h1.4M158 461h1.4M165 520h1.4M144 491h1.4M141 476h1.4M166 532h1.4M169 528h1.4M164 518h1.4M171 533h1.4M164 527h1.4M154 503h1.4M156 519h1.4M165 530h1.4M162 463h1.4M144 466h1.4M140 476h1.4M156 507h1.4M144 465h1.4M140 467h1.4M165 532h1.4M143 487h1.4M147 465h1.4M157 504h1.4M146 489h1.4M145 494h1.4M151 461h1.4M141 468h1.4M142 485h1.4M153 504h1.4M161 507h1.4M154 503h1.4M140 487h1.4M148 462h1.4M139 474h1.4M156 503h1.4M144 462h1.4M162 461h1.4M137 478h1.4M160 462h1.4M137 474h1.4M158 520h1.4M166 524h1.4M162 462h1.4M150 500h1.4M146 494h1.4M139 479h1.4M160 461h1.4M140 488h1.4M142 463h1.4M162 511h1.4M154 497h1.4M148 495h1.4M147 493h1.4M145 463h1.4M138 482h1.4M142 485h1.4M137 482h1.4M148 464h1.4M153 499h1.4M137 483h1.4M159 515h1.4M155 506h1.4M167 525h1.4M142 464h1.4M152 500h1.4M152 501h1.4M141 483h1.4M159 522h1.4M147 463h1.4M158 519h1.4M167 526h1.4M160 462h1.4M161 463h1.4M143 489h1.4M138 474h1.4M151 463h1.4M165 523h1.4M138 477h1.4M152 462h1.4M161 463h1.4M148 490h1.4M157 462h1.4M141 471h1.4M154 498h1.4M150 498h1.4M165 527h1.4M151 462h1.4M154 502h1.4M150 464h1.4M170 532h1.4M142 470h1.4M149 460h1.4M155 514h1.4M159 506h1.4M163 521h1.4M161 463h1.4M153 498h1.4M154 510h1.4M145 466h1.4M159 526h1.4M144 493h1.4M153 498h1.4M137 473h1.4M169 532h1.4M158 501h1.4M158 462h1.4M137 471h1.4M136 475h1.4M158 510h1.4M154 463h1.4M166 526h1.4M157 461h1.4M145 461h1.4M165 519h1.4M146 464h1.4M155 513h1.4M161 516h1.4M166 525h1.4M164 522h1.4M152 462h1.4M137 469h1.4M157 501h1.4M139 485h1.4M150 460h1.4M160 517h1.4M163 524h1.4M149 461h1.4M151 500h1.4M144 466h1.4M162 462h1.4M155 507h1.4M142 468h1.4M151 502h1.4M160 521h1.4M139 479h1.4M154 498h1.4M139 468h1.4M165 526h1.4M154 500h1.4M145 488h1.4M160 506h1.4M159 525h1.4M165 520h1.4M155 462h1.4M143 470h1.4M141 488h1.4M149 491h1.4M154 462h1.4M150 501h1.4M141 476h1.4M141 487h1.4M167 532h1.4M152 504h1.4M141 475h1.4M142 472h1.4M140 481h1.4M146 488h1.4M145 463h1.4M139 466h1.4M142 465h1.4M159 510h1.4M168 534h1.4M159 461h1.4M161 463h1.4M141 471h1.4M140 478h1.4M152 460h1.4M168 530h1.4M163 530h1.4M151 463h1.4M155 513h1.4M141 479h1.4M152 498h1.4M146 494h1.4M143 489h1.4M163 511h1.4M153 505h1.4M157 500h1.4M149 460h1.4M155 514h1.4M170 531h1.4M147 490h1.4M159 512h1.4M159 518h1.4M160 512h1.4M159 512h1.4M167 532h1.4M144 489h1.4M159 502h1.4M141 466h1.4M164 524h1.4M159 515h1.4M158 463h1.4M150 461h1.4M162 463h1.4M144 489h1.4M148 462h1.4M152 500h1.4M159 522h1.4M156 461h1.4M158 501h1.4M152 494h1.4M139 465h1.4M143 491h1.4M146 464h1.4M137 482h1.4M141 490h1.4M143 469h1.4M149 494h1.4M139 474h1.4M142 472h1.4M158 462h1.4M164 532h1.4M156 506h1.4M144 491h1.4M137 482h1.4M164 525h1.4M165 526h1.4M165 521h1.4M142 471h1.4M147 491h1.4M142 480h1.4M158 520h1.4M139 482h1.4M161 462h1.4M150 497h1.4M150 462h1.4M164 513h1.4M160 511h1.4M161 513h1.4M142 481h1.4M140 483h1.4M150 497h1.4M162 525h1.4M143 468h1.4M167 528h1.4M165 527h1.4M162 526h1.4M164 531h1.4M147 489h1.4M157 516h1.4M158 525h1.4M157 506h1.4M153 462h1.4M160 524h1.4M146 466h1.4M139 480h1.4M139 465h1.4M137 471h1.4M139 477h1.4M146 461h1.4M139 466h1.4M140 476h1.4M139 485h1.4M138 468h1.4M162 528h1.4M144 485h1.4M158 511h1.4M155 505h1.4M159 525h1.4M138 482h1.4M166 524h1.4M165 533h1.4M161 506h1.4M157 522h1.4M144 463h1.4M157 523h1.4M158 500h1.4M139 466h1.4M145 488h1.4M152 462h1.4M161 528h1.4M142 487h1.4M145 464h1.4M164 514h1.4M143 464h1.4M161 462h1.4M145 464h1.4M140 486h1.4M151 495h1.4M147 497h1.4M157 461h1.4M158 506h1.4M153 463h1.4M151 503h1.4M162 461h1.4M162 508h1.4M150 461h1.4M139 474h1.4M151 461h1.4M171 532h1.4M162 522h1.4M169 533h1.4M147 495h1.4M150 464h1.4M142 468h1.4M148 491h1.4M145 494h1.4M149 496h1.4M155 498h1.4M154 463h1.4M144 491h1.4M168 529h1.4M151 461h1.4M143 484h1.4M168 532h1.4M152 497h1.4M144 493h1.4M164 517h1.4M141 475h1.4M159 523h1.4M150 461h1.4M144 465h1.4M144 466h1.4M152 463h1.4M158 463h1.4M158 505h1.4M153 461h1.4M148 490h1.4M138 483h1.4M141 476h1.4M144 466h1.4M139 465h1.4M143 466h1.4M161 508h1.4M142 467h1.4M142 487h1.4M155 508h1.4M168 526h1.4M137 478h1.4M147 494h1.4M138 467h1.4M169 526h1.4M144 466h1.4M156 505h1.4M160 503h1.4M160 462h1.4M163 527h1.4M142 465h1.4M171 533h1.4M153 496h1.4M140 477h1.4M155 511h1.4M153 498h1.4M142 481h1.4M157 505h1.4M140 476h1.4M142 474h1.4M163 530h1.4M147 489h1.4M158 463h1.4M141 488h1.4M139 472h1.4M145 462h1.4M150 464h1.4M156 461h1.4M141 474h1.4M150 502h1.4M151 463h1.4M150 461h1.4M141 484h1.4M148 463h1.4M157 461h1.4M154 460h1.4M141 486h1.4M138 483h1.4M152 501h1.4M154 505h1.4M141 470h1.4M161 513h1.4M144 463h1.4M160 518h1.4M154 496h1.4M172 532h1.4M149 462h1.4M138 480h1.4M137 474h1.4M162 510h1.4M148 497h1.4M151 493h1.4M142 462h1.4M151 494h1.4M158 463h1.4M155 505h1.4M143 488h1.4M155 462h1.4M146 462h1.4M162 523h1.4M169 527h1.4M144 487h1.4M164 517h1.4M155 460h1.4M149 461h1.4M140 468h1.4M164 531h1.4M154 509h1.4M156 502h1.4M144 462h1.4M155 512h1.4M137 473h1.4M161 463h1.4M142 480h1.4M151 461h1.4M147 464h1.4M140 469h1.4M158 461h1.4M136 477h1.4M143 480h1.4M169 535h1.4M153 504h1.4M143 482h1.4M152 461h1.4M160 513h1.4M153 506h1.4M139 482h1.4M162 462h1.4M150 499h1.4M158 505h1.4M169 530h1.4M147 463h1.4M162 461h1.4M151 500h1.4M157 524h1.4M158 461h1.4M144 466h1.4M168 526h1.4M167 528h1.4M158 501h1.4M146 464h1.4M149 496h1.4M169 534h1.4M157 506h1.4M143 482h1.4M162 511h1.4M167 530h1.4M156 519h1.4M142 482h1.4M142 468h1.4M147 490h1.4M164 532h1.4M136 480h1.4M137 470h1.4M165 522h1.4M143 491h1.4M160 516h1.4M163 518h1.4M169 534h1.4M145 464h1.4M157 504h1.4M147 497h1.4M138 477h1.4M139 468h1.4M138 477h1.4M138 479h1.4M147 465h1.4M167 534h1.4M152 494h1.4M162 510h1.4M137 473h1.4M148 489h1.4M147 461h1.4M141 482h1.4M155 507h1.4M154 508h1.4M140 475h1.4M148 497h1.4M160 517h1.4M155 505h1.4M143 477h1.4M165 531h1.4M163 528h1.4M158 462h1.4M168 532h1.4M159 514h1.4M137 481h1.4M148 490h1.4M155 497h1.4M138 479h1.4M154 505h1.4M146 461h1.4M141 489h1.4M154 461h1.4M146 494h1.4M167 532h1.4M140 483h1.4M139 476h1.4M137 474h1.4M146 463h1.4M162 516h1.4M154 507h1.4M145 463h1.4M151 462h1.4M142 467h1.4M143 467h1.4M153 462h1.4M158 508h1.4M145 491h1.4M143 465h1.4M155 513h1.4M157 503h1.4M159 461h1.4M140 477h1.4M137 470h1.4M154 495h1.4M161 462h1.4M144 491h1.4M144 463h1.4M162 520h1.4M158 518h1.4M163 531h1.4M154 506h1.4M138 467h1.4M157 508h1.4M146 492h1.4M160 463h1.4M139 468h1.4M163 527h1.4M145 466h1.4M160 503h1.4M152 499h1.4M147 494h1.4M145 489h1.4M140 470h1.4M160 511h1.4M166 528h1.4M161 463h1.4M138 480h1.4M164 518h1.4M157 499h1.4M161 524h1.4M148 493h1.4M162 527h1.4M154 503h1.4M157 508h1.4M171 535h1.4M150 498h1.4M160 509h1.4M153 460h1.4M144 465h1.4M150 461h1.4M149 500h1.4M165 523h1.4M138 479h1.4M159 507h1.4M166 531h1.4M162 527h1.4M153 507h1.4M152 464h1.4M157 513h1.4M165 528h1.4M156 462h1.4M162 511h1.4M152 460h1.4M163 521h1.4M161 463h1.4M143 464h1.4M166 524h1.4M154 512h1.4M142 471h1.4M161 461h1.4M157 504h1.4M151 499h1.4M142 488h1.4M146 496h1.4M162 529h1.4M146 490h1.4M159 515h1.4M159 462h1.4M148 491h1.4M160 462h1.4M140 485h1.4M169 529h1.4M141 480h1.4M157 501h1.4M139 486h1.4M155 509h1.4M142 474h1.4M147 461h1.4M168 534h1.4M141 466h1.4M157 512h1.4M164 530h1.4M162 461h1.4M145 495h1.4M141 470h1.4M156 501h1.4M141 479h1.4M159 507h1.4M152 461h1.4M156 506h1.4M155 504h1.4M160 462h1.4M143 465h1.4M157 506h1.4M156 507h1.4M155 511h1.4M147 464h1.4M151 497h1.4M148 493h1.4M142 486h1.4M165 520h1.4M161 510h1.4M157 463h1.4M162 462h1.4M142 476h1.4M142 471h1.4M145 493h1.4M153 499h1.4M151 502h1.4M142 491h1.4M169 534h1.4M151 461h1.4M167 530h1.4M157 461h1.4M146 492h1.4M143 488h1.4M144 491h1.4M142 491h1.4M143 462h1.4M155 508h1.4M158 463h1.4M158 523h1.4M158 525h1.4M165 518h1.4M154 509h1.4M142 468h1.4M139 473h1.4M163 515h1.4M156 463h1.4M167 527h1.4M146 463h1.4M147 493h1.4M167 532h1.4M138 478h1.4M166 531h1.4M157 500h1.4M158 515h1.4M142 462h1.4M163 523h1.4M150 499h1.4M162 463h1.4M140 477h1.4M152 463h1.4M156 515h1.4M144 486h1.4M158 518h1.4M155 501h1.4M170 531h1.4M152 501h1.4M161 526h1.4M141 478h1.4M138 468h1.4M141 464h1.4M142 476h1.4M143 464h1.4M162 462h1.4M161 508h1.4M148 490h1.4M165 530h1.4M148 489h1.4M155 499h1.4M144 493h1.4M157 502h1.4M165 519h1.4M140 471h1.4M147 491h1.4M162 520h1.4M156 510h1.4M157 463h1.4M159 509h1.4M140 478h1.4M152 498h1.4M142 478h1.4M141 472h1.4M155 503h1.4M153 496h1.4M144 490h1.4M144 486h1.4M139 477h1.4M167 526h1.4M138 481h1.4M138 470h1.4M146 486h1.4M164 522h1.4M157 516h1.4M145 490h1.4M144 466h1.4M140 484h1.4M156 461h1.4M143 488h1.4M159 522h1.4M143 482h1.4M159 503h1.4M146 496h1.4M159 507h1.4M167 530h1.4M170 531h1.4M161 515h1.4M142 466h1.4M150 500h1.4M153 461h1.4M137 474h1.4M168 534h1.4M142 463h1.4M139 470h1.4M172 533h1.4M168 528h1.4M153 497h1.4M148 462h1.4M171 534h1.4M156 463h1.4M155 509h1.4M160 511h1.4M149 491h1.4M140 473h1.4M161 513h1.4M141 488h1.4M141 464h1.4M154 461h1.4M148 498h1.4M157 514h1.4M141 468h1.4M141 473h1.4M442 516h1.4M439 507h1.4M439 503h1.4M439 516h1.4M438 507h1.4M438 500h1.4M439 503h1.4M437 501h1.4M440 516h1.4M440 506h1.4M438 501h1.4M439 516h1.4M438 508h1.4M440 513h1.4M438 509h1.4M437 501h1.4M440 512h1.4M438 506h1.4M438 501h1.4M437 502h1.4M439 505h1.4M439 505h1.4M439 506h1.4M439 511h1.4M439 513h1.4M438 508h1.4M437 504h1.4M437 503h1.4M438 510h1.4M441 509h1.4M438 509h1.4M438 507h1.4M440 513h1.4M439 510h1.4M437 501h1.4M440 505h1.4M439 512h1.4M439 510h1.4M437 501h1.4M439 512h1.4M440 506h1.4M439 514h1.4M439 510h1.4M440 510h1.4M439 507h1.4M438 507h1.4M440 503h1.4M438 500h1.4M439 514h1.4M440 504h1.4M422 489h1.4M447 525h1.4M445 532h1.4M440 521h1.4" stroke="#de8c0a" stroke-width="1.4" stroke-opacity=".95" fill="none" transform="translate(0 .5)"/>
<path d="M236 541h1.4M224 529h1.4M226 530h1.4M229 532h1.4M227 557h1.4M238 555h1.4M234 531h1.4M248 572h1.4M249 560h1.4M238 539h1.4M230 562h1.4M229 529h1.4M245 566h1.4M261 580h1.4M239 572h1.4M231 550h1.4M229 553h1.4M231 531h1.4M240 542h1.4M237 564h1.4M229 546h1.4M232 565h1.4M230 553h1.4M242 569h1.4M239 528h1.4M239 566h1.4M248 574h1.4M227 551h1.4M230 537h1.4M227 551h1.4M227 552h1.4M236 549h1.4M238 538h1.4M236 526h1.4M226 545h1.4M246 570h1.4M244 555h1.4M240 538h1.4M239 568h1.4M240 566h1.4M230 545h1.4M228 528h1.4M245 571h1.4M243 551h1.4M233 533h1.4M244 548h1.4M239 572h1.4M227 553h1.4M239 555h1.4M239 545h1.4M256 579h1.4M238 569h1.4M234 566h1.4M226 547h1.4M258 580h1.4M245 575h1.4M243 561h1.4M232 529h1.4M248 553h1.4M245 559h1.4M235 539h1.4M231 540h1.4M237 561h1.4M236 535h1.4M229 537h1.4M246 548h1.4M236 555h1.4M245 547h1.4M236 546h1.4M238 531h1.4M228 537h1.4M240 553h1.4M248 555h1.4M246 548h1.4M245 537h1.4M245 554h1.4M224 527h1.4M244 561h1.4M260 581h1.4M235 551h1.4M231 528h1.4M233 532h1.4M232 541h1.4M232 537h1.4M240 546h1.4M236 539h1.4M231 537h1.4M229 559h1.4M232 543h1.4M227 540h1.4M242 564h1.4M240 572h1.4M238 565h1.4M244 574h1.4M232 526h1.4M227 546h1.4M259 576h1.4M246 559h1.4M239 560h1.4M247 568h1.4M235 563h1.4M252 578h1.4M242 546h1.4M226 531h1.4M250 576h1.4M247 554h1.4M241 568h1.4M237 529h1.4M245 560h1.4M236 543h1.4M245 540h1.4M245 558h1.4M233 567h1.4M244 535h1.4M246 566h1.4M234 564h1.4M229 539h1.4M235 555h1.4M246 555h1.4M243 553h1.4M229 540h1.4M225 535h1.4M231 558h1.4M237 562h1.4M247 555h1.4M237 552h1.4M227 527h1.4M232 526h1.4M226 550h1.4M232 530h1.4M243 568h1.4M236 534h1.4M230 529h1.4M226 532h1.4M235 539h1.4M229 561h1.4M240 573h1.4M248 572h1.4M239 565h1.4M239 528h1.4M238 529h1.4M226 554h1.4M246 559h1.4M248 570h1.4M231 558h1.4M244 560h1.4M234 533h1.4M232 561h1.4M241 533h1.4M248 560h1.4M240 550h1.4M241 556h1.4M243 546h1.4M230 529h1.4M241 566h1.4M245 565h1.4M259 578h1.4M243 569h1.4M239 561h1.4M226 540h1.4M238 535h1.4M251 572h1.4M254 579h1.4M244 571h1.4M237 546h1.4M244 536h1.4M244 572h1.4M243 556h1.4M227 546h1.4M239 556h1.4M237 568h1.4M236 527h1.4M228 528h1.4M233 551h1.4M250 564h1.4M231 545h1.4M233 570h1.4M226 550h1.4M238 572h1.4M226 529h1.4M235 543h1.4M234 560h1.4M235 547h1.4M245 539h1.4M245 573h1.4M239 562h1.4M249 570h1.4M230 546h1.4M260 578h1.4M238 569h1.4M249 576h1.4M231 564h1.4M246 551h1.4M232 525h1.4M246 551h1.4M226 533h1.4M242 556h1.4M237 544h1.4M238 568h1.4M245 544h1.4M249 570h1.4M250 572h1.4M230 554h1.4M262 579h1.4M245 573h1.4M226 539h1.4M237 526h1.4M234 569h1.4M238 548h1.4M249 568h1.4M237 567h1.4M232 538h1.4M241 534h1.4M242 554h1.4M248 557h1.4M225 538h1.4M236 533h1.4M230 551h1.4M231 530h1.4M225 546h1.4M232 556h1.4M229 533h1.4M256 579h1.4M236 548h1.4M233 562h1.4M226 545h1.4M229 526h1.4M230 555h1.4M232 566h1.4M229 556h1.4M245 539h1.4M235 534h1.4M242 534h1.4M247 569h1.4M225 531h1.4M225 535h1.4M242 555h1.4M229 546h1.4M235 537h1.4M236 556h1.4M244 540h1.4M236 546h1.4M225 549h1.4M226 529h1.4M242 540h1.4M253 573h1.4M233 557h1.4M243 537h1.4M236 568h1.4M230 562h1.4M229 531h1.4M244 563h1.4M235 539h1.4M237 565h1.4M238 563h1.4M242 545h1.4M237 528h1.4M234 561h1.4M244 539h1.4M245 553h1.4M243 535h1.4M235 553h1.4M229 561h1.4M240 538h1.4M237 570h1.4M247 570h1.4M244 569h1.4M228 528h1.4M229 538h1.4M230 563h1.4M237 565h1.4M227 547h1.4M233 566h1.4M242 539h1.4M229 561h1.4M225 535h1.4M244 534h1.4M257 581h1.4M233 569h1.4M244 535h1.4M249 569h1.4M227 543h1.4M243 557h1.4M226 526h1.4M236 569h1.4M233 549h1.4M235 559h1.4M250 578h1.4M232 527h1.4M242 549h1.4M240 532h1.4M229 544h1.4M249 560h1.4M231 541h1.4M239 545h1.4M232 566h1.4M241 539h1.4M261 578h1.4M242 570h1.4M247 551h1.4M240 540h1.4M235 535h1.4M244 568h1.4M232 563h1.4M254 579h1.4M230 546h1.4M235 554h1.4M246 557h1.4M226 530h1.4M258 578h1.4M236 569h1.4M229 560h1.4M246 554h1.4M233 538h1.4M247 565h1.4M248 563h1.4M239 542h1.4M241 533h1.4M225 550h1.4M244 560h1.4M235 532h1.4M245 569h1.4M242 574h1.4M234 561h1.4M238 530h1.4M237 542h1.4M235 541h1.4M239 549h1.4M229 553h1.4M247 552h1.4M243 569h1.4M225 536h1.4M234 531h1.4M230 540h1.4M251 578h1.4M255 573h1.4M238 545h1.4M233 533h1.4M225 525h1.4M232 551h1.4M244 538h1.4M243 537h1.4M245 570h1.4M240 531h1.4M225 532h1.4M239 571h1.4M224 530h1.4M244 550h1.4M238 568h1.4M229 548h1.4M239 560h1.4M255 581h1.4M237 562h1.4M230 564h1.4M263 578h1.4M254 578h1.4M236 529h1.4M226 551h1.4M250 566h1.4M227 538h1.4M236 562h1.4M245 574h1.4M238 557h1.4M244 557h1.4M245 568h1.4M225 546h1.4M235 536h1.4M233 539h1.4M237 566h1.4M227 546h1.4M231 563h1.4M240 563h1.4M237 558h1.4M227 554h1.4M237 568h1.4M245 541h1.4M233 542h1.4M254 578h1.4M246 546h1.4M233 537h1.4M228 546h1.4M237 544h1.4M240 531h1.4M230 561h1.4M242 567h1.4M243 569h1.4M231 553h1.4M237 555h1.4M228 535h1.4M224 526h1.4M245 552h1.4M247 550h1.4M248 556h1.4M236 566h1.4M230 526h1.4M231 544h1.4M256 578h1.4M249 574h1.4M240 534h1.4M234 562h1.4M234 547h1.4M231 561h1.4M227 556h1.4M242 540h1.4M226 540h1.4M226 528h1.4M241 552h1.4M228 545h1.4M251 576h1.4M243 560h1.4M230 542h1.4M234 526h1.4M245 555h1.4M225 542h1.4M227 549h1.4M238 530h1.4M237 541h1.4M229 549h1.4M228 526h1.4M231 560h1.4M231 566h1.4M241 561h1.4M226 538h1.4M241 554h1.4M225 532h1.4M227 533h1.4M240 557h1.4M235 541h1.4M245 547h1.4M226 540h1.4M226 544h1.4M224 526h1.4M245 575h1.4M227 530h1.4M234 531h1.4M230 539h1.4M252 574h1.4M241 567h1.4M235 529h1.4M237 538h1.4M245 545h1.4M243 551h1.4M248 576h1.4M234 550h1.4M231 556h1.4M230 540h1.4M233 556h1.4M237 544h1.4M244 535h1.4M238 545h1.4M240 545h1.4M227 533h1.4M235 534h1.4M234 537h1.4M237 533h1.4M234 562h1.4M242 570h1.4M234 560h1.4M249 573h1.4M232 558h1.4M238 548h1.4M240 560h1.4M226 551h1.4M232 529h1.4M225 529h1.4M243 540h1.4M229 529h1.4M227 541h1.4M230 544h1.4M246 556h1.4M228 528h1.4M243 558h1.4M239 556h1.4M234 564h1.4M255 580h1.4M243 567h1.4M246 561h1.4M244 564h1.4M241 531h1.4M236 538h1.4M245 546h1.4M242 566h1.4M244 535h1.4M242 535h1.4M233 544h1.4M227 549h1.4M231 565h1.4M248 566h1.4M224 530h1.4M241 544h1.4M228 559h1.4M232 541h1.4M239 554h1.4M241 564h1.4M243 570h1.4M249 572h1.4M236 532h1.4M230 532h1.4M236 571h1.4M245 568h1.4M238 567h1.4M244 539h1.4M249 576h1.4M259 578h1.4M243 549h1.4M235 567h1.4M225 529h1.4M239 544h1.4M249 563h1.4M240 530h1.4M240 530h1.4M232 545h1.4M246 575h1.4M235 536h1.4M237 546h1.4M229 557h1.4M249 569h1.4M228 541h1.4M259 579h1.4M232 545h1.4M244 550h1.4M238 567h1.4M245 559h1.4M245 547h1.4M235 569h1.4M230 541h1.4M242 535h1.4M227 551h1.4M230 559h1.4M242 536h1.4M227 528h1.4M237 552h1.4M261 581h1.4M239 559h1.4M237 534h1.4M252 576h1.4M236 535h1.4M233 556h1.4M242 565h1.4M231 562h1.4M234 534h1.4M238 536h1.4M245 562h1.4M230 534h1.4M232 545h1.4M245 542h1.4M245 543h1.4M238 560h1.4M240 547h1.4M242 561h1.4M251 573h1.4M225 534h1.4M250 566h1.4M235 553h1.4M236 561h1.4M235 540h1.4M240 555h1.4M255 578h1.4M242 544h1.4M240 531h1.4M245 542h1.4M233 548h1.4M241 531h1.4M245 557h1.4M245 554h1.4M225 545h1.4M232 566h1.4M242 572h1.4M235 567h1.4M231 559h1.4M235 532h1.4M239 529h1.4M233 538h1.4M240 550h1.4M243 536h1.4M232 565h1.4M234 536h1.4M242 553h1.4M232 526h1.4M250 573h1.4M234 562h1.4M242 574h1.4M248 557h1.4M227 554h1.4M243 539h1.4M253 580h1.4M238 570h1.4M232 542h1.4M227 557h1.4M232 556h1.4M243 537h1.4M229 537h1.4M227 539h1.4M246 572h1.4M234 540h1.4M255 573h1.4M241 554h1.4M236 554h1.4M226 543h1.4M231 564h1.4M235 535h1.4M230 550h1.4M240 568h1.4M249 562h1.4M256 580h1.4M233 568h1.4M225 530h1.4M247 573h1.4M247 550h1.4M229 541h1.4M226 539h1.4M238 551h1.4M231 545h1.4M245 562h1.4M243 570h1.4M233 548h1.4M255 578h1.4M243 548h1.4M234 558h1.4M246 575h1.4M226 537h1.4M230 541h1.4M238 553h1.4M233 548h1.4M225 528h1.4M241 573h1.4M239 534h1.4M229 545h1.4M238 554h1.4M248 559h1.4M227 543h1.4M260 576h1.4M255 577h1.4M233 542h1.4M229 534h1.4M229 531h1.4M239 550h1.4M225 535h1.4M236 563h1.4M234 542h1.4M239 566h1.4M244 538h1.4M237 534h1.4M245 565h1.4M233 544h1.4M231 559h1.4M242 556h1.4M239 557h1.4M233 563h1.4M240 528h1.4M239 544h1.4M231 541h1.4M224 536h1.4M239 543h1.4M242 536h1.4M237 552h1.4M240 571h1.4M236 546h1.4M228 537h1.4M247 575h1.4M231 543h1.4M241 554h1.4M228 547h1.4M252 575h1.4M231 547h1.4M236 541h1.4M241 536h1.4M237 559h1.4M231 534h1.4M229 558h1.4M242 539h1.4M241 550h1.4M229 552h1.4M243 569h1.4M237 553h1.4M254 573h1.4M231 550h1.4M230 533h1.4M257 581h1.4M238 550h1.4M240 530h1.4M241 554h1.4M247 576h1.4M238 535h1.4M238 569h1.4M243 537h1.4M262 579h1.4M240 563h1.4M239 537h1.4M244 544h1.4M259 578h1.4M234 537h1.4M245 566h1.4M246 552h1.4M240 533h1.4M240 567h1.4M259 580h1.4M232 564h1.4M247 555h1.4M236 544h1.4M250 568h1.4M227 540h1.4M229 559h1.4M229 551h1.4M227 540h1.4M254 577h1.4M237 563h1.4M246 568h1.4M238 566h1.4M228 558h1.4M235 530h1.4M225 526h1.4M239 532h1.4M241 563h1.4M242 565h1.4M228 556h1.4M244 552h1.4M234 558h1.4M232 544h1.4M230 526h1.4M229 555h1.4M234 549h1.4M243 557h1.4M244 567h1.4M234 553h1.4M242 571h1.4M231 530h1.4M234 538h1.4M228 531h1.4M234 528h1.4M242 555h1.4M231 564h1.4M240 552h1.4M242 563h1.4M229 547h1.4M239 570h1.4M243 548h1.4M232 534h1.4M237 553h1.4M240 570h1.4M245 572h1.4M236 536h1.4M231 526h1.4M230 526h1.4M232 529h1.4M246 571h1.4M224 531h1.4M243 555h1.4M235 542h1.4M240 546h1.4M238 531h1.4M233 536h1.4M228 558h1.4M241 562h1.4M228 530h1.4M246 569h1.4M244 556h1.4M232 562h1.4M239 532h1.4M239 559h1.4M237 558h1.4M225 536h1.4M245 563h1.4M241 570h1.4M232 531h1.4M233 549h1.4M247 555h1.4M231 559h1.4M236 554h1.4M258 579h1.4M240 557h1.4M241 539h1.4M242 566h1.4M244 537h1.4M225 531h1.4M245 547h1.4M257 579h1.4M247 574h1.4M226 551h1.4M238 542h1.4M242 565h1.4M247 554h1.4M242 537h1.4M243 535h1.4M227 553h1.4M231 545h1.4M229 527h1.4M241 543h1.4M246 554h1.4M244 572h1.4M226 546h1.4M228 540h1.4M252 576h1.4M231 539h1.4M230 559h1.4M241 552h1.4M258 575h1.4M230 528h1.4M234 559h1.4M233 534h1.4M228 549h1.4M236 535h1.4M241 543h1.4M226 547h1.4M234 529h1.4M246 544h1.4M236 550h1.4M235 567h1.4M239 542h1.4M225 529h1.4M256 577h1.4M239 557h1.4M247 550h1.4M252 578h1.4M236 535h1.4M227 542h1.4M247 573h1.4M229 529h1.4M247 574h1.4M229 563h1.4M228 547h1.4M231 563h1.4M248 551h1.4M244 546h1.4M234 553h1.4M257 578h1.4M244 545h1.4M247 572h1.4M229 527h1.4M250 570h1.4M230 533h1.4M245 564h1.4M233 540h1.4M239 571h1.4M241 548h1.4M237 547h1.4M232 539h1.4M236 548h1.4M235 531h1.4M244 551h1.4M234 559h1.4M232 542h1.4M251 578h1.4M238 530h1.4M245 560h1.4M227 542h1.4M247 551h1.4M249 561h1.4M238 548h1.4M247 574h1.4M237 570h1.4M246 547h1.4M233 564h1.4M229 558h1.4M241 551h1.4M238 553h1.4M234 563h1.4M244 568h1.4M228 539h1.4M225 533h1.4M235 532h1.4M245 549h1.4M239 554h1.4M237 558h1.4M226 538h1.4M240 569h1.4M240 561h1.4M246 566h1.4M233 537h1.4M245 545h1.4M237 559h1.4M227 529h1.4M246 564h1.4M244 559h1.4M243 571h1.4M228 549h1.4M231 528h1.4M241 554h1.4M227 545h1.4M241 555h1.4M252 576h1.4M230 560h1.4M238 528h1.4M229 536h1.4M236 545h1.4M245 557h1.4M236 552h1.4M241 543h1.4M230 529h1.4M243 550h1.4M238 528h1.4M237 538h1.4M229 561h1.4M229 557h1.4M244 538h1.4M241 573h1.4M229 541h1.4M224 538h1.4M245 569h1.4M229 558h1.4M238 547h1.4M234 537h1.4M230 546h1.4M228 559h1.4M235 525h1.4M229 548h1.4M245 563h1.4M235 559h1.4M228 540h1.4M249 571h1.4M233 527h1.4M246 568h1.4M244 537h1.4M235 552h1.4M233 538h1.4M232 560h1.4M239 554h1.4M233 568h1.4M236 533h1.4M243 558h1.4M245 576h1.4M239 556h1.4M229 548h1.4M248 561h1.4M259 577h1.4M231 558h1.4M237 564h1.4M248 567h1.4M244 550h1.4M255 579h1.4M235 548h1.4M239 527h1.4M231 564h1.4M235 558h1.4M236 564h1.4M257 576h1.4M228 558h1.4M240 572h1.4M235 528h1.4M231 542h1.4M242 568h1.4M260 581h1.4M230 546h1.4M225 531h1.4M236 540h1.4M229 529h1.4M253 576h1.4M239 542h1.4M234 534h1.4M236 550h1.4M245 541h1.4M233 538h1.4M241 547h1.4M238 540h1.4M238 554h1.4M242 552h1.4M236 550h1.4M256 580h1.4M236 557h1.4M234 556h1.4M235 558h1.4M237 569h1.4M254 573h1.4M235 557h1.4M249 576h1.4M244 564h1.4M244 544h1.4M225 535h1.4M230 561h1.4M229 550h1.4M235 539h1.4M232 547h1.4M239 537h1.4M248 557h1.4M238 549h1.4M224 527h1.4M226 527h1.4M228 539h1.4M244 544h1.4M238 560h1.4M241 540h1.4M245 540h1.4M231 555h1.4M235 570h1.4M248 561h1.4M228 542h1.4M246 553h1.4M238 526h1.4M225 531h1.4M229 531h1.4M242 569h1.4M245 559h1.4M224 531h1.4M227 527h1.4M242 557h1.4M250 577h1.4M228 554h1.4M237 550h1.4M229 530h1.4M238 545h1.4M230 534h1.4M225 546h1.4M229 541h1.4M247 575h1.4M229 543h1.4M251 572h1.4M239 572h1.4M239 530h1.4M241 556h1.4M228 530h1.4M252 578h1.4M238 557h1.4M233 546h1.4M242 535h1.4M248 569h1.4M232 545h1.4M250 577h1.4M241 542h1.4M241 553h1.4M241 550h1.4M259 579h1.4M230 536h1.4M262 579h1.4M235 555h1.4M243 554h1.4M232 526h1.4M238 548h1.4M244 570h1.4M240 564h1.4M245 550h1.4M233 543h1.4M229 539h1.4M233 539h1.4M237 529h1.4M229 544h1.4M245 543h1.4M234 557h1.4M247 560h1.4M247 565h1.4M242 549h1.4M236 564h1.4M227 532h1.4M240 539h1.4M243 558h1.4M237 535h1.4M225 548h1.4M248 554h1.4M229 558h1.4M245 553h1.4M226 545h1.4M227 535h1.4M237 541h1.4M232 557h1.4M244 540h1.4M237 566h1.4M236 563h1.4M244 572h1.4M233 567h1.4M241 545h1.4M224 529h1.4M228 545h1.4M228 530h1.4M246 563h1.4M235 546h1.4M239 570h1.4M238 545h1.4M232 559h1.4M239 533h1.4M241 533h1.4M225 541h1.4M240 540h1.4M238 553h1.4M236 538h1.4M243 544h1.4M238 528h1.4M235 564h1.4M246 569h1.4M245 569h1.4M228 545h1.4M228 555h1.4M249 560h1.4M247 551h1.4M243 550h1.4M237 545h1.4M235 526h1.4M245 547h1.4M247 558h1.4M232 546h1.4M224 535h1.4M242 562h1.4M232 535h1.4M250 574h1.4M243 562h1.4M243 548h1.4M235 539h1.4M228 541h1.4M241 554h1.4M246 569h1.4M243 545h1.4M232 552h1.4M229 536h1.4M234 553h1.4M234 558h1.4M229 556h1.4M250 576h1.4M233 569h1.4M246 548h1.4M243 547h1.4M260 579h1.4M225 546h1.4M239 551h1.4M239 556h1.4M236 534h1.4M246 561h1.4M233 552h1.4M242 535h1.4M238 544h1.4M224 530h1.4M231 550h1.4M241 537h1.4M225 546h1.4M258 574h1.4M243 535h1.4M246 565h1.4M238 560h1.4M236 558h1.4M244 575h1.4M234 569h1.4M239 532h1.4M244 561h1.4M244 541h1.4M237 534h1.4M225 527h1.4M238 529h1.4M242 564h1.4M228 547h1.4M252 578h1.4M234 563h1.4M231 566h1.4M245 575h1.4M237 533h1.4M246 554h1.4M228 546h1.4M231 527h1.4M238 561h1.4M261 578h1.4M232 535h1.4M244 555h1.4M233 568h1.4M231 541h1.4M259 545h1.4M251 550h1.4M274 544h1.4M273 545h1.4M269 546h1.4M252 549h1.4M269 545h1.4M263 546h1.4M274 546h1.4M276 545h1.4M272 545h1.4M272 544h1.4M260 546h1.4M265 545h1.4M276 548h1.4M252 550h1.4M263 546h1.4M254 550h1.4M253 547h1.4M270 546h1.4M258 548h1.4M270 545h1.4M265 546h1.4M273 545h1.4M275 547h1.4M260 547h1.4M250 550h1.4M253 547h1.4M269 543h1.4M265 547h1.4M266 546h1.4M269 543h1.4M262 546h1.4M261 545h1.4M276 547h1.4M261 546h1.4M272 543h1.4M271 546h1.4M260 547h1.4M265 547h1.4M262 544h1.4M266 547h1.4M279 548h1.4M258 548h1.4M279 549h1.4M272 544h1.4M279 549h1.4M274 547h1.4M270 545h1.4M260 547h1.4M274 543h1.4M251 549h1.4M270 544h1.4M268 546h1.4M275 546h1.4M255 548h1.4M257 545h1.4M259 548h1.4M253 549h1.4M258 545h1.4M266 545h1.4M275 545h1.4M251 549h1.4M271 546h1.4M257 548h1.4M270 544h1.4M272 546h1.4M256 548h1.4M278 547h1.4M261 548h1.4M250 546h1.4M264 546h1.4M276 545h1.4M272 543h1.4M266 547h1.4M276 546h1.4M268 546h1.4M258 545h1.4M265 544h1.4M258 548h1.4M271 543h1.4M269 544h1.4M257 549h1.4M263 547h1.4M275 545h1.4M249 547h1.4M254 550h1.4M252 547h1.4M264 545h1.4M253 550h1.4M280 548h1.4M282 547h1.4M293 537h1.4M283 546h1.4M283 545h1.4M288 542h1.4M283 545h1.4M284 544h1.4M285 542h1.4M295 534h1.4M520 533h1.4M509 561h1.4M516 529h1.4M509 566h1.4M520 544h1.4M516 541h1.4M510 564h1.4M522 568h1.4M509 563h1.4M518 554h1.4M525 571h1.4M522 564h1.4M507 563h1.4M514 544h1.4M504 537h1.4M522 565h1.4M508 553h1.4M515 550h1.4M509 561h1.4M522 533h1.4M513 561h1.4M508 564h1.4M517 535h1.4M514 573h1.4M513 565h1.4M509 564h1.4M520 547h1.4M518 533h1.4M514 531h1.4M516 540h1.4M507 555h1.4M524 571h1.4M508 535h1.4M521 572h1.4M516 573h1.4M520 538h1.4M514 548h1.4M510 530h1.4M509 542h1.4M516 532h1.4M509 565h1.4M517 552h1.4M517 568h1.4M521 534h1.4M505 531h1.4M508 533h1.4M504 529h1.4M511 547h1.4M519 571h1.4M511 557h1.4M519 561h1.4M506 539h1.4M519 539h1.4M510 540h1.4M522 545h1.4M526 558h1.4M509 532h1.4M521 561h1.4M521 571h1.4M524 562h1.4M523 563h1.4M521 548h1.4M525 554h1.4M523 569h1.4M512 553h1.4M510 553h1.4M516 555h1.4M513 570h1.4M512 559h1.4M506 528h1.4M505 548h1.4M510 558h1.4M508 558h1.4M519 574h1.4M509 553h1.4M515 547h1.4M522 573h1.4M515 552h1.4M505 532h1.4M514 552h1.4M512 550h1.4M513 537h1.4M519 564h1.4M519 555h1.4M507 529h1.4M523 558h1.4M518 538h1.4M523 563h1.4M525 548h1.4M506 533h1.4M523 557h1.4M525 565h1.4M511 553h1.4M525 568h1.4M518 532h1.4M505 556h1.4M525 553h1.4M506 550h1.4M513 537h1.4M504 545h1.4M509 528h1.4M521 537h1.4M514 535h1.4M513 557h1.4M517 569h1.4M519 562h1.4M511 543h1.4M505 531h1.4M511 559h1.4M506 554h1.4M515 531h1.4M521 531h1.4M518 532h1.4M511 565h1.4M507 541h1.4M514 534h1.4M514 559h1.4M508 533h1.4M506 555h1.4M514 536h1.4M515 550h1.4M505 540h1.4M515 555h1.4M509 568h1.4M516 567h1.4M523 556h1.4M513 568h1.4M522 545h1.4M514 537h1.4M521 566h1.4M506 545h1.4M505 554h1.4M510 544h1.4M509 544h1.4M522 566h1.4M515 531h1.4M519 546h1.4M510 540h1.4M523 543h1.4M507 555h1.4M522 538h1.4M517 537h1.4M512 568h1.4M505 535h1.4M515 561h1.4M505 537h1.4M522 569h1.4M525 549h1.4M523 566h1.4M519 568h1.4M521 543h1.4M525 562h1.4M520 554h1.4M516 568h1.4M518 550h1.4M513 547h1.4M522 559h1.4M518 535h1.4M520 561h1.4M514 571h1.4M505 548h1.4M521 557h1.4M517 534h1.4M514 554h1.4M522 541h1.4M515 553h1.4M510 537h1.4M520 560h1.4M523 554h1.4M505 533h1.4M513 562h1.4M506 551h1.4M508 529h1.4M507 548h1.4M523 558h1.4M517 549h1.4M523 552h1.4M524 569h1.4M511 530h1.4M509 548h1.4M515 539h1.4M526 568h1.4M513 555h1.4M521 561h1.4M523 559h1.4M510 561h1.4M517 567h1.4M516 536h1.4M519 574h1.4M524 544h1.4M515 574h1.4M513 540h1.4M518 563h1.4M513 548h1.4M519 564h1.4M523 552h1.4M510 551h1.4M511 545h1.4M517 574h1.4M518 558h1.4M511 562h1.4M507 529h1.4M512 558h1.4M508 533h1.4M513 528h1.4M524 557h1.4M505 539h1.4M518 567h1.4M514 573h1.4M510 557h1.4M512 541h1.4M521 534h1.4M518 544h1.4M518 561h1.4M517 539h1.4M513 571h1.4M522 566h1.4M508 539h1.4M509 533h1.4M512 542h1.4M508 541h1.4M515 560h1.4M510 557h1.4M514 572h1.4M522 548h1.4M512 533h1.4M517 549h1.4M510 549h1.4M521 542h1.4M522 548h1.4M522 548h1.4M504 538h1.4M511 532h1.4M517 546h1.4M511 551h1.4M507 562h1.4M510 560h1.4M524 561h1.4M521 553h1.4M516 556h1.4M518 548h1.4M523 559h1.4M510 563h1.4M524 556h1.4M513 530h1.4M519 533h1.4M515 531h1.4M515 572h1.4M516 560h1.4M516 562h1.4M512 544h1.4M513 544h1.4M516 529h1.4M505 557h1.4M514 573h1.4M513 539h1.4M523 563h1.4M524 568h1.4M526 559h1.4M520 536h1.4M519 564h1.4M505 544h1.4M515 535h1.4M505 550h1.4M519 541h1.4M522 539h1.4M509 534h1.4M523 552h1.4M513 546h1.4M528 570h1.4M526 568h1.4M513 572h1.4M522 570h1.4M508 556h1.4M513 564h1.4M508 555h1.4M520 564h1.4M513 563h1.4M518 531h1.4M515 539h1.4M524 551h1.4M509 559h1.4M508 564h1.4M517 557h1.4M518 570h1.4M510 533h1.4M511 528h1.4M522 536h1.4M509 545h1.4M518 547h1.4M513 528h1.4M522 536h1.4M505 558h1.4M527 568h1.4M505 550h1.4M522 568h1.4M506 549h1.4M524 566h1.4M516 572h1.4M511 533h1.4M536 546h1.4M531 547h1.4M529 549h1.4M556 548h1.4M544 546h1.4M547 548h1.4M541 547h1.4M548 548h1.4M527 547h1.4M525 550h1.4M553 548h1.4M547 547h1.4M544 546h1.4M528 547h1.4M547 547h1.4M541 548h1.4M529 548h1.4M549 549h1.4M526 548h1.4M536 547h1.4M552 548h1.4M540 548h1.4M534 548h1.4M526 549h1.4M526 549h1.4M535 549h1.4M549 549h1.4M526 549h1.4M553 548h1.4M527 550h1.4M527 548h1.4M539 548h1.4M554 548h1.4M526 548h1.4M533 546h1.4M528 548h1.4M548 547h1.4M533 548h1.4M555 548h1.4M552 548h1.4M549 547h1.4M537 548h1.4M554 548h1.4M538 546h1.4M530 548h1.4M539 579h1.4M538 577h1.4M537 579h1.4M538 577h1.4M541 580h1.4M538 576h1.4M539 581h1.4M539 576h1.4M535 581h1.4M537 579h1.4M540 578h1.4M538 580h1.4M538 577h1.4M535 580h1.4M540 581h1.4M538 581h1.4M541 580h1.4M537 577h1.4M537 579h1.4M538 579h1.4M538 581h1.4M538 581h1.4M538 581h1.4M538 581h1.4M536 577h1.4M534 579h1.4M536 577h1.4M539 578h1.4M541 578h1.4M538 577h1.4M538 577h1.4M540 577h1.4M534 579h1.4M534 578h1.4M538 578h1.4" stroke="#f4766c" stroke-width="1.4" stroke-opacity=".95" fill="none" transform="translate(0 .5)"/>
<path d="M281 613h1.4M278 625h1.4M281 613h1.4M279 611h1.4M285 618h1.4M269 629h1.4M284 616h1.4M282 624h1.4M284 616h1.4M271 628h1.4M274 626h1.4M281 625h1.4M280 611h1.4M280 624h1.4M272 628h1.4M284 614h1.4M282 622h1.4M271 628h1.4M282 626h1.4M278 624h1.4M283 619h1.4M282 611h1.4M271 629h1.4M282 612h1.4M277 625h1.4M282 620h1.4M267 628h1.4M271 628h1.4M270 628h1.4M283 615h1.4M282 611h1.4M285 617h1.4M282 621h1.4M285 618h1.4M266 630h1.4M279 625h1.4M283 614h1.4M267 629h1.4M281 624h1.4M279 611h1.4M276 627h1.4M271 627h1.4M285 619h1.4M279 611h1.4M280 609h1.4M276 625h1.4M282 613h1.4M278 625h1.4M282 615h1.4M274 627h1.4M284 620h1.4M285 616h1.4M285 618h1.4M265 629h1.4M283 616h1.4M276 627h1.4M272 628h1.4M286 618h1.4M284 618h1.4M284 619h1.4M277 626h1.4M282 613h1.4M285 618h1.4M270 629h1.4M271 628h1.4M267 629h1.4M265 629h1.4M284 613h1.4M285 621h1.4M278 627h1.4M282 616h1.4M281 613h1.4M271 629h1.4M267 629h1.4M281 613h1.4M285 618h1.4M267 629h1.4M277 627h1.4M276 626h1.4M269 629h1.4M279 627h1.4M278 626h1.4M284 619h1.4M270 628h1.4M266 628h1.4M279 627h1.4M267 628h1.4M281 623h1.4M279 625h1.4M267 628h1.4M282 616h1.4M283 614h1.4M275 627h1.4M283 613h1.4M283 616h1.4M280 610h1.4M265 628h1.4M282 621h1.4M280 625h1.4M280 626h1.4M280 611h1.4M280 611h1.4M277 625h1.4M278 625h1.4M269 629h1.4M286 618h1.4M284 615h1.4M268 628h1.4M274 627h1.4M282 624h1.4M284 621h1.4M284 620h1.4M282 622h1.4M277 627h1.4M282 624h1.4M279 624h1.4M276 627h1.4M284 618h1.4M282 624h1.4M285 617h1.4M265 628h1.4M280 610h1.4M284 614h1.4M269 630h1.4M279 624h1.4M276 625h1.4M266 629h1.4M284 614h1.4M280 611h1.4M275 626h1.4M278 626h1.4M281 625h1.4M278 627h1.4M283 616h1.4M281 612h1.4M277 626h1.4M276 626h1.4M283 623h1.4M281 612h1.4M277 627h1.4M283 622h1.4M277 625h1.4M281 612h1.4M279 610h1.4M276 628h1.4M285 618h1.4M285 615h1.4M283 619h1.4M278 627h1.4M281 612h1.4M265 629h1.4M276 626h1.4M284 622h1.4M269 629h1.4M277 628h1.4M281 611h1.4M266 629h1.4M278 627h1.4M270 629h1.4M276 625h1.4M271 628h1.4M286 618h1.4M276 628h1.4M280 611h1.4M275 627h1.4M282 623h1.4M274 628h1.4M271 629h1.4M285 617h1.4M281 625h1.4M560 624h1.4M561 623h1.4M561 615h1.4M562 625h1.4M560 616h1.4M562 625h1.4M560 620h1.4M560 625h1.4M559 624h1.4M561 615h1.4M562 623h1.4M561 618h1.4M563 619h1.4M559 614h1.4M561 613h1.4M560 621h1.4M562 620h1.4M560 614h1.4M561 617h1.4M562 618h1.4M560 614h1.4M560 623h1.4M562 625h1.4M561 622h1.4M562 619h1.4" stroke="#7592ff" stroke-width="1.4" stroke-opacity=".95" fill="none" transform="translate(0 .5)"/>
<path d="M294 522h1.4M295 520h1.4M296 520h1.4M293 521h1.4M285 511h1.4M294 521h1.4M296 519h1.4M290 526h1.4M295 516h1.4M291 520h1.4M291 522h1.4M290 520h1.4M294 519h1.4M282 517h1.4M294 516h1.4M293 524h1.4M299 517h1.4M294 520h1.4M294 519h1.4M297 516h1.4M295 520h1.4M292 522h1.4M306 516h1.4M295 519h1.4M298 518h1.4M294 522h1.4M296 520h1.4M293 516h1.4M289 523h1.4M292 519h1.4M289 518h1.4M287 524h1.4M291 521h1.4M292 521h1.4M289 521h1.4M297 518h1.4M296 521h1.4M292 523h1.4M298 516h1.4M294 520h1.4M289 525h1.4M293 515h1.4M293 518h1.4M289 515h1.4M294 518h1.4M289 522h1.4M281 518h1.4M296 519h1.4M295 519h1.4M292 519h1.4M299 519h1.4M288 516h1.4M290 519h1.4M295 515h1.4M299 522h1.4M294 521h1.4M291 520h1.4M296 522h1.4M290 525h1.4M285 513h1.4M293 517h1.4M296 519h1.4M292 518h1.4M297 518h1.4M301 516h1.4M293 522h1.4M296 521h1.4M290 518h1.4M291 520h1.4M284 518h1.4M290 512h1.4M296 519h1.4M292 523h1.4M291 520h1.4M295 516h1.4M294 522h1.4M289 516h1.4M288 521h1.4M290 521h1.4M291 518h1.4M292 527h1.4M293 521h1.4M290 516h1.4M288 518h1.4M285 517h1.4M297 518h1.4M294 520h1.4M292 523h1.4M290 517h1.4M299 517h1.4M292 521h1.4M290 517h1.4M296 524h1.4M286 521h1.4M295 524h1.4M292 519h1.4M293 518h1.4M298 520h1.4M292 517h1.4M292 517h1.4M295 523h1.4M299 519h1.4M293 516h1.4M294 517h1.4M289 522h1.4M293 514h1.4M291 519h1.4M293 517h1.4M291 522h1.4M292 517h1.4M292 523h1.4M286 518h1.4M293 511h1.4M301 522h1.4M290 522h1.4M289 521h1.4M294 516h1.4M289 515h1.4M300 520h1.4M288 511h1.4M296 521h1.4M299 519h1.4M296 522h1.4M295 521h1.4M298 522h1.4M295 519h1.4M291 525h1.4M302 521h1.4M298 520h1.4M288 516h1.4M292 519h1.4M294 518h1.4M289 522h1.4M286 518h1.4M285 521h1.4M298 515h1.4M293 524h1.4M296 519h1.4M287 519h1.4M287 523h1.4M295 519h1.4M291 523h1.4M293 522h1.4M292 515h1.4M301 520h1.4M293 520h1.4M284 522h1.4M292 520h1.4M285 513h1.4M293 523h1.4M291 520h1.4M289 519h1.4M296 520h1.4M292 519h1.4M293 521h1.4M291 520h1.4M292 523h1.4M289 517h1.4M293 519h1.4M291 521h1.4M297 519h1.4M287 515h1.4M290 519h1.4M305 514h1.4M283 517h1.4M298 516h1.4M284 520h1.4M292 521h1.4M291 516h1.4M293 521h1.4M291 518h1.4M297 521h1.4M299 516h1.4M299 517h1.4M301 520h1.4M291 519h1.4M294 519h1.4M290 514h1.4M292 519h1.4M296 520h1.4M296 518h1.4M288 522h1.4M288 522h1.4M296 516h1.4M287 518h1.4M293 518h1.4M290 521h1.4M287 522h1.4M296 517h1.4M296 522h1.4M294 516h1.4M284 523h1.4M300 517h1.4M283 521h1.4M290 522h1.4M291 519h1.4M297 522h1.4M296 517h1.4M298 521h1.4M301 519h1.4M291 520h1.4M287 524h1.4M297 521h1.4M289 520h1.4M294 514h1.4M301 515h1.4M286 518h1.4M300 515h1.4M297 523h1.4M278 511h1.4M286 516h1.4M297 517h1.4M296 522h1.4M297 517h1.4M297 519h1.4M286 519h1.4M290 515h1.4M293 521h1.4M292 517h1.4M298 518h1.4M287 524h1.4M295 527h1.4M283 519h1.4M294 521h1.4M298 522h1.4M294 518h1.4M296 515h1.4M293 520h1.4M292 516h1.4M295 520h1.4M286 522h1.4M288 522h1.4M280 524h1.4M287 524h1.4M288 522h1.4M282 521h1.4M289 520h1.4M282 520h1.4M286 524h1.4M287 520h1.4M287 514h1.4M286 521h1.4M286 521h1.4M287 521h1.4M291 521h1.4M284 523h1.4M286 522h1.4M287 523h1.4M286 521h1.4M289 518h1.4M288 521h1.4M279 519h1.4M292 521h1.4M283 520h1.4M285 521h1.4M288 523h1.4M286 521h1.4M283 520h1.4M287 523h1.4M287 524h1.4M293 517h1.4M285 521h1.4M289 522h1.4M289 517h1.4M289 518h1.4M289 524h1.4M287 523h1.4M285 523h1.4M286 516h1.4M282 519h1.4M286 520h1.4M287 521h1.4M283 523h1.4M285 519h1.4M286 520h1.4M291 517h1.4M282 526h1.4M287 517h1.4M290 520h1.4M284 520h1.4M288 522h1.4M287 519h1.4M286 522h1.4M290 518h1.4M283 519h1.4M285 520h1.4M283 519h1.4M286 523h1.4M286 524h1.4M287 524h1.4M289 510h1.4M287 508h1.4M290 507h1.4M282 509h1.4M289 509h1.4M287 509h1.4M289 507h1.4M293 507h1.4M289 511h1.4M286 509h1.4M286 508h1.4M290 509h1.4M288 509h1.4M291 509h1.4M285 507h1.4M291 508h1.4M295 509h1.4M288 510h1.4M289 508h1.4M289 507h1.4M291 507h1.4M289 510h1.4M284 508h1.4M292 506h1.4M297 507h1.4M292 510h1.4M289 509h1.4M284 509h1.4M291 508h1.4M293 506h1.4M286 530h1.4M285 532h1.4M289 528h1.4M284 534h1.4M283 535h1.4M289 529h1.4M286 530h1.4M291 526h1.4M281 535h1.4M291 526h1.4M284 534h1.4M284 532h1.4M289 530h1.4M285 531h1.4M292 525h1.4M285 532h1.4M287 529h1.4M287 530h1.4M289 529h1.4M286 532h1.4M303 501h1.4M301 503h1.4M302 502h1.4M302 502h1.4M300 505h1.4M300 506h1.4M302 503h1.4M302 504h1.4M302 503h1.4M305 500h1.4M303 502h1.4M304 502h1.4M305 502h1.4M302 502h1.4M302 503h1.4M299 506h1.4M302 505h1.4M304 502h1.4M316 519h1.4M325 516h1.4M324 515h1.4M325 515h1.4M329 511h1.4M316 518h1.4M318 519h1.4M315 522h1.4M315 519h1.4M323 515h1.4M321 517h1.4M324 515h1.4M328 513h1.4M321 516h1.4M320 518h1.4M321 517h1.4M316 519h1.4M315 521h1.4M329 514h1.4M319 518h1.4M326 512h1.4M323 516h1.4M318 518h1.4M326 515h1.4M316 520h1.4M316 522h1.4M329 511h1.4M320 517h1.4M326 513h1.4M314 521h1.4M314 523h1.4M319 519h1.4M328 511h1.4M319 518h1.4M314 523h1.4M329 512h1.4M317 521h1.4M318 519h1.4M323 516h1.4M316 522h1.4M314 522h1.4M326 513h1.4M318 516h1.4M324 517h1.4M316 521h1.4M329 513h1.4M313 521h1.4M329 514h1.4M316 520h1.4M331 512h1.4M318 520h1.4M325 515h1.4M322 517h1.4M326 512h1.4M321 518h1.4M318 518h1.4M330 512h1.4M316 519h1.4M317 519h1.4M327 515h1.4M328 511h1.4M322 516h1.4M331 512h1.4M326 516h1.4M322 515h1.4M326 516h1.4M323 516h1.4M326 515h1.4M323 516h1.4M316 521h1.4M327 513h1.4M320 519h1.4M319 519h1.4M319 518h1.4M319 518h1.4M323 517h1.4M323 515h1.4M330 511h1.4M319 518h1.4M314 522h1.4M315 520h1.4M317 519h1.4M322 518h1.4M320 520h1.4M328 511h1.4M326 514h1.4M316 519h1.4M319 520h1.4M328 512h1.4M318 518h1.4M323 515h1.4M326 515h1.4M327 512h1.4M322 516h1.4M314 522h1.4M315 520h1.4M325 513h1.4M321 516h1.4M327 514h1.4M323 516h1.4M317 520h1.4M328 513h1.4M329 514h1.4M326 515h1.4M329 514h1.4M329 512h1.4M324 514h1.4M314 521h1.4M326 514h1.4M324 515h1.4M310 534h1.4M310 534h1.4M311 534h1.4M314 541h1.4M307 538h1.4M310 533h1.4M308 530h1.4M308 536h1.4M308 534h1.4M313 537h1.4M312 536h1.4M309 537h1.4M311 539h1.4M309 538h1.4M311 537h1.4M310 534h1.4M310 537h1.4M308 534h1.4M307 536h1.4M308 533h1.4M307 537h1.4M309 537h1.4M309 539h1.4M308 537h1.4M309 536h1.4M308 537h1.4M306 537h1.4M309 535h1.4M308 535h1.4M309 539h1.4M316 541h1.4M308 532h1.4M310 535h1.4M310 535h1.4M308 539h1.4M307 536h1.4M312 536h1.4M310 536h1.4M310 533h1.4M314 539h1.4M309 535h1.4M308 535h1.4M312 538h1.4M308 537h1.4M309 532h1.4M307 535h1.4M308 537h1.4M307 538h1.4M310 536h1.4M312 535h1.4M313 533h1.4M307 541h1.4M309 533h1.4M310 537h1.4M315 539h1.4M311 534h1.4M307 540h1.4M310 533h1.4M309 537h1.4M310 541h1.4M315 533h1.4M317 533h1.4M317 533h1.4M317 533h1.4M314 534h1.4M316 533h1.4M316 533h1.4M313 534h1.4M572 517h1.4M577 514h1.4M577 520h1.4M568 509h1.4M572 518h1.4M572 515h1.4M570 511h1.4M565 521h1.4M568 520h1.4M562 515h1.4M561 525h1.4M576 512h1.4M574 522h1.4M572 521h1.4M576 522h1.4M562 518h1.4M570 515h1.4M573 518h1.4M570 511h1.4M578 520h1.4M572 516h1.4M571 513h1.4M575 516h1.4M569 517h1.4M566 527h1.4M559 520h1.4M563 516h1.4M569 510h1.4M572 513h1.4M572 512h1.4M569 517h1.4M565 509h1.4M574 518h1.4M569 517h1.4M570 520h1.4M564 509h1.4M570 517h1.4M569 518h1.4M563 511h1.4M567 519h1.4M573 515h1.4M582 510h1.4M562 514h1.4M570 517h1.4M566 520h1.4M572 517h1.4M572 517h1.4M563 507h1.4M569 517h1.4M576 516h1.4M574 516h1.4M571 515h1.4M576 513h1.4M576 514h1.4M580 518h1.4M574 519h1.4M572 518h1.4M574 517h1.4M566 515h1.4M575 517h1.4M558 519h1.4M576 517h1.4M574 519h1.4M571 511h1.4M573 514h1.4M571 511h1.4M577 514h1.4M563 515h1.4M579 515h1.4M565 514h1.4M568 513h1.4M577 511h1.4M566 515h1.4M579 515h1.4M579 517h1.4M573 522h1.4M565 512h1.4M582 518h1.4M567 512h1.4M571 521h1.4M569 518h1.4M577 514h1.4M573 516h1.4M565 517h1.4M571 511h1.4M573 511h1.4M571 521h1.4M572 518h1.4M578 512h1.4M576 525h1.4M619 511h1.4M592 518h1.4M590 517h1.4M606 515h1.4M594 518h1.4M600 515h1.4M618 513h1.4M597 515h1.4M608 514h1.4M598 514h1.4M612 513h1.4M601 515h1.4M606 513h1.4M579 521h1.4M607 514h1.4M614 514h1.4M582 519h1.4M581 521h1.4M608 513h1.4M604 516h1.4M603 514h1.4M615 510h1.4M585 517h1.4M606 512h1.4M604 512h1.4M597 516h1.4M608 513h1.4M596 517h1.4M582 518h1.4M615 511h1.4M602 516h1.4M579 521h1.4M611 511h1.4M590 518h1.4M618 510h1.4M609 512h1.4M594 516h1.4M586 519h1.4M589 519h1.4M578 523h1.4M597 516h1.4M618 510h1.4M581 520h1.4M587 519h1.4M616 512h1.4M600 517h1.4M595 515h1.4M610 512h1.4M591 518h1.4M585 517h1.4M591 515h1.4M585 517h1.4M597 515h1.4M621 512h1.4M603 512h1.4M602 514h1.4M619 509h1.4M592 517h1.4M600 515h1.4M588 517h1.4M591 517h1.4M605 515h1.4M597 515h1.4M601 513h1.4M601 513h1.4M584 520h1.4M603 513h1.4M617 510h1.4M613 512h1.4M614 511h1.4M582 529h1.4M590 536h1.4M592 539h1.4M593 540h1.4M590 534h1.4M589 535h1.4M593 538h1.4M590 535h1.4M584 529h1.4M588 533h1.4M582 530h1.4M589 536h1.4M592 538h1.4M593 539h1.4M585 529h1.4M591 535h1.4M593 542h1.4M595 540h1.4M581 529h1.4M581 529h1.4M585 531h1.4M594 540h1.4M583 529h1.4M585 530h1.4M585 534h1.4M587 531h1.4M591 537h1.4M586 530h1.4M591 541h1.4M588 535h1.4M594 540h1.4M585 532h1.4M588 535h1.4M585 534h1.4M582 528h1.4M582 531h1.4M589 536h1.4M584 529h1.4M589 533h1.4M589 534h1.4M582 529h1.4M583 532h1.4M587 533h1.4M583 530h1.4M586 535h1.4M574 504h1.4M569 504h1.4M565 504h1.4M582 501h1.4M566 507h1.4M572 502h1.4M579 505h1.4M574 502h1.4M569 505h1.4M582 502h1.4M569 503h1.4M567 503h1.4M583 502h1.4M579 502h1.4M574 504h1.4M579 504h1.4M574 502h1.4M569 507h1.4M573 504h1.4M573 504h1.4M577 502h1.4M583 505h1.4M578 504h1.4M583 501h1.4M573 504h1.4" stroke="#1dc08f" stroke-width="1.4" stroke-opacity=".95" fill="none" transform="translate(0 .5)"/>
<path d="M340 501h1.4M340 498h1.4M339 500h1.4M340 499h1.4M340 499h1.4M339 503h1.4M340 502h1.4M340 499h1.4M341 502h1.4M339 498h1.4M339 501h1.4M339 500h1.4M339 499h1.4M339 499h1.4M339 502h1.4M340 502h1.4M340 501h1.4M339 500h1.4M343 512h1.4M343 511h1.4M342 507h1.4M342 508h1.4M342 510h1.4M342 510h1.4M341 519h1.4M341 510h1.4M342 515h1.4M343 514h1.4M341 508h1.4M341 510h1.4M343 513h1.4M342 509h1.4M342 508h1.4M341 515h1.4M342 513h1.4M343 515h1.4M342 509h1.4M343 516h1.4M343 512h1.4M340 518h1.4M343 513h1.4M343 517h1.4M341 510h1.4M343 511h1.4M341 509h1.4M342 516h1.4M343 513h1.4M342 515h1.4M343 513h1.4M341 510h1.4M341 518h1.4M342 507h1.4M342 510h1.4M354 521h1.4M355 521h1.4M357 523h1.4M355 521h1.4M355 520h1.4M354 521h1.4M355 521h1.4M355 520h1.4M356 522h1.4M355 521h1.4M620 510h1.4M620 511h1.4M620 509h1.4M621 513h1.4M620 509h1.4M620 510h1.4M621 513h1.4M621 508h1.4M621 512h1.4M620 510h1.4" stroke="#1dbdb0" stroke-width="1.4" stroke-opacity=".95" fill="none" transform="translate(0 .5)"/>
<path d="M363 396h1.4M370 447h1.4M378 437h1.4M380 420h1.4M366 397h1.4M364 453h1.4M383 425h1.4M381 422h1.4M343 387h1.4M379 437h1.4M377 439h1.4M369 401h1.4M379 437h1.4M328 386h1.4M351 390h1.4M335 386h1.4M374 404h1.4M375 439h1.4M382 429h1.4M354 391h1.4M328 385h1.4M323 384h1.4M369 446h1.4M374 444h1.4M362 396h1.4M344 387h1.4M375 442h1.4M347 389h1.4M366 401h1.4M375 442h1.4M354 393h1.4M328 386h1.4M330 385h1.4M365 399h1.4M336 387h1.4M346 389h1.4M381 428h1.4M379 415h1.4M374 405h1.4M372 443h1.4M367 450h1.4M376 408h1.4M366 397h1.4M332 387h1.4M364 398h1.4M367 451h1.4M373 405h1.4M379 414h1.4M371 403h1.4M380 433h1.4M383 427h1.4M367 400h1.4M373 445h1.4M371 446h1.4M354 391h1.4M329 387h1.4M379 415h1.4M376 412h1.4M380 431h1.4M371 402h1.4M377 440h1.4M361 395h1.4M343 389h1.4M334 387h1.4M374 443h1.4M357 392h1.4M330 385h1.4M380 414h1.4M337 386h1.4M364 399h1.4M375 408h1.4M356 392h1.4M354 391h1.4M381 434h1.4M376 410h1.4M376 440h1.4M374 442h1.4M382 420h1.4M367 449h1.4M379 434h1.4M341 388h1.4M374 443h1.4M365 397h1.4M347 389h1.4M335 387h1.4M380 420h1.4M370 403h1.4M381 419h1.4M337 386h1.4M340 387h1.4M377 440h1.4M379 415h1.4M374 442h1.4M374 442h1.4M373 443h1.4M338 386h1.4M351 391h1.4M380 416h1.4M370 448h1.4M373 407h1.4M356 392h1.4M357 393h1.4M376 439h1.4M374 443h1.4M379 417h1.4M351 390h1.4M382 421h1.4M351 390h1.4M369 447h1.4M340 387h1.4M360 395h1.4M328 384h1.4M368 399h1.4M373 444h1.4M335 386h1.4M374 408h1.4M381 427h1.4M380 425h1.4M360 395h1.4M346 388h1.4M371 446h1.4M360 394h1.4M381 419h1.4M340 387h1.4M367 398h1.4M349 390h1.4M330 386h1.4M381 432h1.4M382 423h1.4M371 403h1.4M363 396h1.4M338 388h1.4M380 432h1.4M337 387h1.4M378 434h1.4M363 395h1.4M381 431h1.4M347 387h1.4M346 388h1.4M377 438h1.4M381 429h1.4M375 442h1.4M333 386h1.4M357 393h1.4M375 412h1.4M325 385h1.4M326 385h1.4M370 446h1.4M335 386h1.4M379 433h1.4M345 387h1.4M376 412h1.4M381 424h1.4M368 449h1.4M361 394h1.4M346 388h1.4M352 391h1.4M377 411h1.4M378 416h1.4M379 430h1.4M334 387h1.4M375 407h1.4M330 386h1.4M378 414h1.4M362 452h1.4M359 394h1.4M371 446h1.4M357 393h1.4M381 435h1.4M373 445h1.4M381 422h1.4M381 418h1.4M375 438h1.4M326 386h1.4M343 388h1.4M366 399h1.4M356 393h1.4M380 432h1.4M365 399h1.4M381 421h1.4M341 386h1.4M370 402h1.4M373 445h1.4M374 406h1.4M375 441h1.4M359 393h1.4M368 450h1.4M381 429h1.4M382 425h1.4M354 392h1.4M378 435h1.4M379 413h1.4M379 433h1.4M376 441h1.4M379 416h1.4M371 401h1.4M369 447h1.4M350 390h1.4M341 388h1.4M376 408h1.4M347 389h1.4M338 386h1.4M382 428h1.4M357 393h1.4M378 414h1.4M365 398h1.4M329 384h1.4M347 388h1.4M381 427h1.4M361 396h1.4M367 449h1.4M370 402h1.4M381 421h1.4M376 438h1.4M380 419h1.4M369 401h1.4M365 396h1.4M359 393h1.4M328 386h1.4M370 446h1.4M373 447h1.4M382 419h1.4M377 412h1.4M381 427h1.4M381 417h1.4M329 384h1.4M380 432h1.4M376 441h1.4M381 431h1.4M362 397h1.4M375 440h1.4M378 416h1.4M382 422h1.4M366 399h1.4M371 404h1.4M342 388h1.4M362 396h1.4M379 414h1.4M381 420h1.4M370 448h1.4M374 407h1.4M380 430h1.4M337 386h1.4M368 452h1.4M362 397h1.4M341 387h1.4M370 447h1.4M351 390h1.4M362 397h1.4M333 386h1.4M373 405h1.4M330 386h1.4M326 387h1.4M331 385h1.4M372 445h1.4M324 385h1.4M364 398h1.4M368 400h1.4M338 387h1.4M343 387h1.4M342 388h1.4M364 451h1.4M370 403h1.4M370 446h1.4M379 433h1.4M341 387h1.4M375 409h1.4M351 391h1.4M333 386h1.4M355 392h1.4M373 444h1.4M332 386h1.4M356 392h1.4M358 394h1.4M380 427h1.4M334 387h1.4M378 435h1.4M326 385h1.4M339 387h1.4M346 389h1.4M376 408h1.4M380 417h1.4M373 405h1.4M381 428h1.4M370 448h1.4M374 441h1.4M337 387h1.4M340 388h1.4M373 446h1.4M380 422h1.4M381 431h1.4M364 398h1.4M358 393h1.4M368 402h1.4M355 391h1.4M350 389h1.4M377 439h1.4M357 394h1.4M361 396h1.4M381 428h1.4M370 403h1.4M367 450h1.4M363 452h1.4M324 386h1.4M341 387h1.4M381 418h1.4M378 420h1.4M366 450h1.4M378 410h1.4M341 387h1.4M342 387h1.4M367 399h1.4M381 418h1.4M337 387h1.4M332 386h1.4M377 439h1.4M379 428h1.4M347 388h1.4M342 387h1.4M328 386h1.4M379 417h1.4M378 436h1.4M367 401h1.4M382 424h1.4M380 431h1.4M381 433h1.4M373 443h1.4M347 389h1.4M377 441h1.4M376 440h1.4M324 386h1.4M365 453h1.4M344 387h1.4M375 406h1.4M378 437h1.4M356 392h1.4M348 389h1.4M353 391h1.4M379 412h1.4M355 392h1.4M339 387h1.4M378 429h1.4M376 416h1.4M381 416h1.4M377 411h1.4M374 408h1.4M331 385h1.4M374 443h1.4M368 400h1.4M377 411h1.4M359 394h1.4M379 437h1.4M381 427h1.4M333 386h1.4M379 416h1.4M349 389h1.4M343 388h1.4M374 445h1.4M364 454h1.4M366 398h1.4M366 451h1.4M379 438h1.4M359 393h1.4M378 413h1.4M355 392h1.4M379 432h1.4M339 388h1.4M366 399h1.4M354 392h1.4M369 402h1.4M323 385h1.4M369 448h1.4M356 392h1.4M367 452h1.4M362 453h1.4M330 386h1.4M357 392h1.4M376 412h1.4M383 429h1.4M368 400h1.4M379 429h1.4M379 436h1.4M350 389h1.4M354 392h1.4M381 422h1.4M381 424h1.4M350 389h1.4M379 431h1.4M365 398h1.4M369 400h1.4M379 435h1.4M378 414h1.4M332 386h1.4M370 403h1.4M354 392h1.4M360 396h1.4M366 399h1.4M381 431h1.4M326 385h1.4M358 394h1.4M381 427h1.4M379 414h1.4M348 389h1.4M380 420h1.4M377 408h1.4M383 418h1.4M374 442h1.4M367 400h1.4M370 448h1.4M330 386h1.4M351 390h1.4M381 420h1.4M375 408h1.4M371 446h1.4M334 387h1.4M380 424h1.4M367 402h1.4M356 394h1.4M323 386h1.4M375 408h1.4M357 393h1.4M371 401h1.4M359 394h1.4M378 437h1.4M332 386h1.4M365 398h1.4M378 437h1.4M370 447h1.4M378 414h1.4M348 389h1.4M363 398h1.4M353 390h1.4M370 402h1.4M371 446h1.4M339 386h1.4M365 452h1.4M376 407h1.4M370 448h1.4M363 453h1.4M342 387h1.4M381 431h1.4M325 385h1.4M342 387h1.4M380 415h1.4M366 450h1.4M373 445h1.4M365 450h1.4M377 417h1.4M382 429h1.4M379 433h1.4M326 385h1.4M372 403h1.4M376 410h1.4M350 389h1.4M343 388h1.4M361 396h1.4M373 407h1.4M375 408h1.4M339 387h1.4M378 416h1.4M378 437h1.4M357 393h1.4M379 418h1.4M378 436h1.4M372 443h1.4M353 391h1.4M373 405h1.4M359 394h1.4M363 398h1.4M379 430h1.4M379 439h1.4M380 414h1.4M364 398h1.4M375 442h1.4M380 434h1.4M335 386h1.4M380 438h1.4M375 409h1.4M374 409h1.4M339 387h1.4M372 445h1.4M369 448h1.4M376 408h1.4M362 394h1.4M344 387h1.4M347 389h1.4M334 386h1.4M381 419h1.4M365 398h1.4M330 385h1.4M336 387h1.4M382 427h1.4M381 415h1.4M364 452h1.4M342 387h1.4M380 429h1.4M353 391h1.4M377 435h1.4M341 387h1.4M345 388h1.4M373 444h1.4M367 452h1.4M335 387h1.4M322 384h1.4M380 436h1.4M374 405h1.4M371 447h1.4M382 424h1.4M336 386h1.4M337 386h1.4M379 422h1.4M326 386h1.4M340 386h1.4M381 426h1.4M371 446h1.4M348 390h1.4M328 385h1.4M380 418h1.4M382 423h1.4M369 448h1.4M369 449h1.4M370 448h1.4M383 417h1.4M366 452h1.4M362 397h1.4M340 386h1.4M376 441h1.4M382 425h1.4M372 445h1.4M340 386h1.4M375 405h1.4M382 427h1.4M376 440h1.4M373 405h1.4M377 411h1.4M374 405h1.4M356 394h1.4M363 454h1.4M337 387h1.4M369 449h1.4M334 386h1.4M377 410h1.4M382 429h1.4M363 398h1.4M381 424h1.4M376 408h1.4M379 423h1.4M360 395h1.4M341 387h1.4M346 387h1.4M351 390h1.4M323 385h1.4M335 387h1.4M383 425h1.4M376 438h1.4M375 441h1.4M381 425h1.4M383 426h1.4M377 412h1.4M380 432h1.4M380 416h1.4M336 385h1.4M356 392h1.4M329 386h1.4M335 387h1.4M363 451h1.4M383 426h1.4M367 451h1.4M362 396h1.4M354 392h1.4M380 414h1.4M367 400h1.4M378 411h1.4M376 408h1.4M377 437h1.4M381 416h1.4M341 388h1.4M382 423h1.4M367 451h1.4M380 413h1.4M375 444h1.4M344 387h1.4M336 386h1.4M339 387h1.4M336 387h1.4M379 437h1.4M380 433h1.4M381 427h1.4M329 386h1.4M376 408h1.4M344 388h1.4M355 391h1.4M358 392h1.4M360 396h1.4M368 399h1.4M381 430h1.4M363 454h1.4M349 388h1.4M361 395h1.4M378 439h1.4M377 435h1.4M355 392h1.4M369 450h1.4M382 428h1.4M324 383h1.4M376 440h1.4M372 446h1.4M374 408h1.4M381 428h1.4M324 384h1.4M378 414h1.4M383 425h1.4M375 412h1.4M379 434h1.4M344 387h1.4M370 447h1.4M336 387h1.4M367 398h1.4M379 419h1.4M348 390h1.4M349 389h1.4M381 431h1.4M342 388h1.4M376 439h1.4M338 387h1.4M338 386h1.4M365 397h1.4M338 387h1.4M328 386h1.4M349 390h1.4M330 387h1.4M374 442h1.4M342 387h1.4M360 394h1.4M338 387h1.4M336 386h1.4M331 386h1.4M375 409h1.4M376 438h1.4M361 396h1.4M373 445h1.4M374 407h1.4M382 429h1.4M333 385h1.4M368 448h1.4M335 385h1.4M364 453h1.4M374 408h1.4M379 413h1.4M379 430h1.4M335 385h1.4M328 385h1.4M326 386h1.4M380 421h1.4M380 423h1.4M367 450h1.4M375 408h1.4M376 408h1.4M358 394h1.4M338 386h1.4M357 393h1.4M383 422h1.4M361 395h1.4M340 387h1.4M379 420h1.4M330 385h1.4M368 449h1.4M366 398h1.4M338 387h1.4M382 430h1.4M358 394h1.4M379 416h1.4M371 446h1.4M380 435h1.4M326 386h1.4M364 397h1.4M371 448h1.4M364 399h1.4M373 443h1.4M359 393h1.4M605 381h1.4M606 386h1.4M608 384h1.4M605 385h1.4M606 384h1.4M605 389h1.4M604 384h1.4M607 384h1.4M605 385h1.4M605 384h1.4M604 385h1.4M607 384h1.4M610 384h1.4M604 384h1.4M607 384h1.4M608 387h1.4M607 387h1.4M607 386h1.4M608 387h1.4M605 385h1.4M637 393h1.4M659 416h1.4" stroke="#f564d6" stroke-width="1.4" stroke-opacity=".95" fill="none" transform="translate(0 .5)"/>
<path d="M358 453h1.4M355 454h1.4M361 457h1.4M359 464h1.4M360 456h1.4M358 456h1.4M360 464h1.4M361 457h1.4M362 461h1.4M358 457h1.4M359 459h1.4M358 458h1.4M352 459h1.4M361 464h1.4M357 465h1.4M357 457h1.4M358 456h1.4M358 459h1.4M357 455h1.4M359 464h1.4M358 455h1.4M354 463h1.4M356 453h1.4M361 455h1.4M354 463h1.4M359 460h1.4M354 456h1.4M360 463h1.4M359 456h1.4M355 454h1.4M361 457h1.4M358 455h1.4M363 457h1.4M358 456h1.4M358 453h1.4M358 462h1.4M355 462h1.4M358 464h1.4M360 465h1.4M359 455h1.4M353 459h1.4M362 463h1.4M358 461h1.4M356 457h1.4M359 457h1.4M354 454h1.4M358 457h1.4M362 458h1.4M355 458h1.4M362 460h1.4M355 455h1.4M359 458h1.4M363 462h1.4M361 459h1.4M357 465h1.4M357 455h1.4M361 460h1.4M363 458h1.4M356 454h1.4M354 455h1.4M355 457h1.4M362 462h1.4M356 464h1.4M361 459h1.4M354 460h1.4M361 454h1.4M357 454h1.4M360 463h1.4M362 455h1.4M355 456h1.4M361 461h1.4M357 460h1.4M357 453h1.4M355 454h1.4M361 460h1.4M359 457h1.4M355 458h1.4M354 462h1.4M361 460h1.4M358 464h1.4M362 456h1.4M353 460h1.4M360 457h1.4M354 461h1.4M359 458h1.4M362 457h1.4M362 455h1.4M361 461h1.4M363 459h1.4M360 463h1.4M355 464h1.4M355 458h1.4M359 456h1.4M355 463h1.4M356 457h1.4M359 454h1.4M360 456h1.4M352 458h1.4M357 464h1.4M362 456h1.4M356 455h1.4M359 464h1.4M359 459h1.4M354 461h1.4M358 459h1.4M355 458h1.4M360 457h1.4M359 464h1.4M362 459h1.4M355 454h1.4M360 459h1.4M358 458h1.4M356 457h1.4M358 461h1.4M356 454h1.4M364 459h1.4M360 457h1.4M362 461h1.4M355 462h1.4M353 456h1.4M354 454h1.4M358 464h1.4M355 454h1.4M359 462h1.4M354 462h1.4M362 459h1.4M352 461h1.4M356 462h1.4M358 458h1.4M358 460h1.4M359 461h1.4M363 459h1.4M356 454h1.4M363 460h1.4M356 457h1.4M359 464h1.4M359 455h1.4M354 459h1.4M356 460h1.4M359 457h1.4M357 460h1.4M361 458h1.4M357 462h1.4M361 462h1.4M356 454h1.4M363 458h1.4M352 458h1.4M360 456h1.4M363 459h1.4M356 463h1.4M361 460h1.4M355 459h1.4M357 463h1.4M354 461h1.4M354 455h1.4M356 458h1.4M358 457h1.4M358 460h1.4M363 459h1.4M362 461h1.4M361 462h1.4M357 458h1.4M361 462h1.4M355 462h1.4M356 460h1.4M355 458h1.4M357 463h1.4M357 465h1.4M362 454h1.4M358 457h1.4M359 463h1.4M354 459h1.4M356 456h1.4M363 460h1.4M358 459h1.4M361 456h1.4M357 457h1.4M358 461h1.4M357 460h1.4M356 454h1.4M362 459h1.4M357 462h1.4M361 454h1.4M359 462h1.4M356 464h1.4M361 455h1.4M356 459h1.4M353 457h1.4M362 460h1.4M357 456h1.4M354 461h1.4M353 461h1.4M356 457h1.4M358 455h1.4M355 459h1.4M355 458h1.4M357 460h1.4M362 463h1.4M360 453h1.4M353 461h1.4M354 462h1.4M356 461h1.4M354 460h1.4M352 459h1.4M361 458h1.4M357 462h1.4M356 454h1.4M357 456h1.4M359 454h1.4M362 462h1.4M361 459h1.4M357 460h1.4M363 456h1.4M359 463h1.4M358 458h1.4M359 463h1.4M356 456h1.4M360 456h1.4M355 458h1.4M362 461h1.4M357 461h1.4M356 461h1.4M363 460h1.4M352 460h1.4M357 461h1.4M359 463h1.4M363 459h1.4M358 457h1.4M362 462h1.4M355 463h1.4M353 459h1.4M359 454h1.4M353 460h1.4M353 463h1.4M357 461h1.4M354 459h1.4M362 457h1.4M362 457h1.4M362 461h1.4M361 456h1.4M357 458h1.4M356 453h1.4M354 458h1.4M359 459h1.4M356 456h1.4M359 459h1.4M363 459h1.4M355 456h1.4M358 460h1.4M360 460h1.4M355 462h1.4M356 460h1.4M360 463h1.4M358 458h1.4M358 464h1.4M357 458h1.4M353 458h1.4M356 455h1.4M354 458h1.4M359 458h1.4M364 455h1.4M359 458h1.4M362 457h1.4M360 453h1.4M358 452h1.4M362 451h1.4M365 454h1.4M363 458h1.4M364 454h1.4M360 450h1.4M362 455h1.4M362 452h1.4M362 456h1.4M363 456h1.4M360 453h1.4M363 456h1.4M361 455h1.4M360 455h1.4M357 458h1.4M359 457h1.4M361 452h1.4M366 456h1.4M359 458h1.4M360 454h1.4M360 456h1.4M363 453h1.4M363 454h1.4M360 454h1.4M358 455h1.4M363 454h1.4" stroke="#dc6ee6" stroke-width="1.4" stroke-opacity=".95" fill="none" transform="translate(0 .5)"/>
<path d="M361 471h1.4M360 472h1.4M358 467h1.4M358 469h1.4M357 466h1.4M360 465h1.4M359 471h1.4M359 470h1.4M359 465h1.4M361 472h1.4M358 467h1.4M361 470h1.4M362 472h1.4M361 471h1.4M362 473h1.4M361 473h1.4M361 469h1.4M359 471h1.4M360 467h1.4M359 472h1.4M359 467h1.4M360 473h1.4M361 471h1.4M361 472h1.4M360 465h1.4M359 476h1.4" stroke="#e0900a" stroke-width="1.4" stroke-opacity=".95" fill="none" transform="translate(0 .5)"/>
<path d="M332 479h1.4M332 475h1.4M332 477h1.4M335 476h1.4M334 476h1.4M334 476h1.4M334 477h1.4M333 478h1.4M609 479h1.4M610 480h1.4M611 477h1.4M610 477h1.4M611 478h1.4" stroke="#1db9d8" stroke-width="1.4" stroke-opacity=".95" fill="none" transform="translate(0 .5)"/>
<text x="183.9" y="300.4" font-size="8.3" fill="#000" stroke="#000" stroke-width=".1">Naive CD8 T</text>
<text x="241.5" y="297.3" font-size="8.3" fill="#000" stroke="#000" stroke-width=".1">Naive CD4 T</text>
<text x="237.4" y="333.5" font-size="8.3" fill="#000" stroke="#000" stroke-width=".1">CD4 Tfh</text>
<text x="191.5" y="344.8" font-size="8.3" fill="#000" stroke="#000" stroke-width=".1">CD8 Eff T</text>
<text x="263" y="350.5" font-size="8.3" fill="#000" stroke="#000" stroke-width=".1">Tregs</text>
<text x="197.2" y="362.3" font-size="8.3" fill="#000" stroke="#000" stroke-width=".1">NK/NKT</text>
<text x="226.2" y="361.7" font-size="8.3" fill="#000" stroke="#000" stroke-width=".1">Th1</text>
<text x="215.4" y="409" font-size="8.3" fill="#000" stroke="#000" stroke-width=".1">TransB</text>
<text x="246.6" y="415.1" font-size="8.3" fill="#000" stroke="#000" stroke-width=".1">B1</text>
<text x="244" y="432.3" font-size="8.3" fill="#000" stroke="#000" stroke-width=".1">MZB</text>
<text x="219" y="442.1" font-size="8.3" fill="#000" stroke="#000" stroke-width=".1">FoB</text>
<text x="261.4" y="450.2" font-size="8.3" fill="#000" stroke="#000" stroke-width=".1">GC&#8211;like</text>
<text x="255.8" y="494.6" font-size="8.3" fill="#000" stroke="#000" stroke-width=".1">HPSC</text>
<text x="141.3" y="509.8" font-size="8.3" fill="#000" stroke="#000" stroke-width=".1">Erythroid</text>
<text x="214.6" y="552.8" font-size="8.3" fill="#000" stroke="#000" stroke-width=".1">Macrophage</text>
<text x="257.3" y="627.1" font-size="8.3" fill="#000" stroke="#000" stroke-width=".1">Plasma cells</text>
<text x="290.2" y="521.2" font-size="8.3" fill="#000" stroke="#000" stroke-width=".1">cDC</text>
<text x="325" y="513.7" font-size="8.3" fill="#000" stroke="#000" stroke-width=".1">Monocyte</text>
<text x="326.5" y="482.1" font-size="8.3" fill="#000" stroke="#000" stroke-width=".1">pDC</text>
<text x="322.8" y="387.7" font-size="8.3" fill="#000" stroke="#000" stroke-width=".1">N4</text>
<text x="365.2" y="404" font-size="8.3" fill="#000" stroke="#000" stroke-width=".1">N3</text>
<text x="374.5" y="436.8" font-size="8.3" fill="#000" stroke="#000" stroke-width=".1">N2</text>
<text x="352.2" y="462.1" font-size="8.3" fill="#000" stroke="#000" stroke-width=".1">N1</text>
<text x="353.4" y="470.6" font-size="8.3" fill="#000" stroke="#000" stroke-width=".1">GMP</text>
<text x="460.6" y="302.4" font-size="8.3" fill="#000" stroke="#000" stroke-width=".1">Naive CD8 T</text>
<text x="520.9" y="296.8" font-size="8.3" fill="#000" stroke="#000" stroke-width=".1">Naive CD4 T</text>
<text x="520.1" y="331" font-size="8.3" fill="#000" stroke="#000" stroke-width=".1">CD4 Tfh</text>
<text x="462.7" y="337.2" font-size="8.3" fill="#000" stroke="#000" stroke-width=".1">CD8 Eff T</text>
<text x="541.4" y="348.4" font-size="8.3" fill="#000" stroke="#000" stroke-width=".1">Tregs</text>
<text x="468.8" y="375.6" font-size="8.3" fill="#000" stroke="#000" stroke-width=".1">NK/NKT</text>
<text x="509.9" y="364.8" font-size="8.3" fill="#000" stroke="#000" stroke-width=".1">Th1</text>
<text x="492.9" y="409" font-size="8.3" fill="#000" stroke="#000" stroke-width=".1">TransB</text>
<text x="520.5" y="421.6" font-size="8.3" fill="#000" stroke="#000" stroke-width=".1">B1</text>
<text x="522.5" y="432.8" font-size="8.3" fill="#000" stroke="#000" stroke-width=".1">MZB</text>
<text x="487.2" y="443.1" font-size="8.3" fill="#000" stroke="#000" stroke-width=".1">FoB</text>
<text x="536.5" y="461.5" font-size="8.3" fill="#000" stroke="#000" stroke-width=".1">GC&#8211;like</text>
<text x="531.4" y="494.7" font-size="8.3" fill="#000" stroke="#000" stroke-width=".1">HPSC</text>
<text x="424.2" y="509.3" font-size="8.3" fill="#000" stroke="#000" stroke-width=".1">Erythroid</text>
<text x="491.4" y="556.6" font-size="8.3" fill="#000" stroke="#000" stroke-width=".1">Macrophage</text>
<text x="530.5" y="629" font-size="8.3" fill="#000" stroke="#000" stroke-width=".1">Plasma cells</text>
<text x="578.2" y="524" font-size="8.3" fill="#000" stroke="#000" stroke-width=".1">cDC</text>
<text x="617.7" y="525.1" font-size="8.3" fill="#000" stroke="#000" stroke-width=".1">Monocyte</text>
<text x="604.2" y="481.7" font-size="8.3" fill="#000" stroke="#000" stroke-width=".1">pDC</text>
<text x="601.6" y="386.7" font-size="8.3" fill="#000" stroke="#000" stroke-width=".1">N4</text>
<text x="650.8" y="410.2" font-size="8.3" fill="#000" stroke="#000" stroke-width=".1">N3</text>
<text x="654" y="434.1" font-size="8.3" fill="#000" stroke="#000" stroke-width=".1">N2</text>
<text x="640" y="455" font-size="8.3" fill="#000" stroke="#000" stroke-width=".1">N1</text>
<text x="652.9" y="502" font-size="8.3" fill="#000" stroke="#000" stroke-width=".1">GMP</text>
<text x="234" y="267.8" font-size="13.8" textLength="37.1" lengthAdjust="spacingAndGlyphs">14 dpi</text>
<text x="518.5" y="268.4" font-size="13.8" textLength="34.5" lengthAdjust="spacingAndGlyphs">Na&#239;ve</text>
<path d="M137.6 638V620" stroke="#111" stroke-width="1.3" fill="none"/>
<path d="M137.6 614.5L134.2 621.5L141 621.5Z" fill="#111"/>
<path d="M137 638H157" stroke="#111" stroke-width="1.3" fill="none"/>
<path d="M164 638L157 634.6L157 641.4Z" fill="#111"/>
<text x="173" y="641.8" font-size="14.5" class="b" textLength="55" lengthAdjust="spacingAndGlyphs">UMAP_1</text>
<text x="145" y="582" font-size="14.5" class="b" text-anchor="middle" transform="rotate(-90 145 582)" textLength="55" lengthAdjust="spacingAndGlyphs">UMAP_2</text>
<text x="15.4" y="667.9" font-size="16.8" class="b" textLength="8.3" lengthAdjust="spacingAndGlyphs">d</text>
<circle cx="58.4" cy="699" r=".5" fill="#b020c0"/>
<circle cx="78.4" cy="699" r="2.2" fill="#5510f0"/>
<circle cx="98.4" cy="699" r=".5" fill="#b020c0"/>
<circle cx="118.4" cy="699" r=".5" fill="#b020c0"/>
<circle cx="138.4" cy="699" r=".5" fill="#b020c0"/>
<circle cx="158.4" cy="699" r="1.3" fill="#e0105a"/>
<circle cx="178.4" cy="699" r=".8" fill="#b50cb0"/>
<circle cx="198.4" cy="699" r=".5" fill="#b020c0"/>
<circle cx="218.4" cy="699" r=".8" fill="#c20c95"/>
<circle cx="238.4" cy="699" r=".8" fill="#b50cb0"/>
<circle cx="258.4" cy="699" r="1.2" fill="#2a05ff"/>
<circle cx="278.4" cy="699" r=".5" fill="#b020c0"/>
<circle cx="298.4" cy="699" r="1.2" fill="#2a05ff"/>
<circle cx="318.4" cy="699" r="2" fill="#5510f0"/>
<circle cx="338.4" cy="699" r="5.8" fill="#800fe0"/>
<circle cx="358.4" cy="699" r="2.7" fill="#9d0cd0"/>
<circle cx="378.4" cy="699" r="3.7" fill="#9d0cd0"/>
<circle cx="398.4" cy="699" r="4.4" fill="#b50cb0"/>
<circle cx="418.4" cy="699" r="4" fill="#b50cb0"/>
<circle cx="438.4" cy="699" r="5.7" fill="#d01075"/>
<circle cx="458.4" cy="699" r="2" fill="#ff0010"/>
<circle cx="478.4" cy="699" r="3.7" fill="#f50035"/>
<circle cx="498.4" cy="699" r="5" fill="#f50035"/>
<circle cx="518.4" cy="699" r="5.7" fill="#ff0010"/>
<circle cx="538.4" cy="699" r="5.7" fill="#ff0010"/>
<text x="42.5" y="702.6" font-size="10.5" class="i" text-anchor="end" fill="#111">N4</text>
<line x1="44" y1="699" x2="46.8" y2="699" stroke="#333" stroke-width=".9"/>
<circle cx="58.4" cy="729.4" r=".5" fill="#b020c0"/>
<circle cx="78.4" cy="729.4" r="5.2" fill="#9d0cd0"/>
<circle cx="98.4" cy="729.4" r=".5" fill="#b020c0"/>
<circle cx="118.4" cy="729.4" r=".5" fill="#b020c0"/>
<circle cx="138.4" cy="729.4" r=".5" fill="#b020c0"/>
<circle cx="158.4" cy="729.4" r=".8" fill="#b50cb0"/>
<circle cx="178.4" cy="729.4" r=".8" fill="#b50cb0"/>
<circle cx="198.4" cy="729.4" r=".5" fill="#b020c0"/>
<circle cx="218.4" cy="729.4" r=".8" fill="#b50cb0"/>
<circle cx="238.4" cy="729.4" r="1.8" fill="#9d0cd0"/>
<circle cx="258.4" cy="729.4" r="2.6" fill="#9d0cd0"/>
<circle cx="278.4" cy="729.4" r=".8" fill="#b50cb0"/>
<circle cx="298.4" cy="729.4" r="4.7" fill="#9d0cd0"/>
<circle cx="318.4" cy="729.4" r="6.1" fill="#e0105a"/>
<circle cx="338.4" cy="729.4" r="6.1" fill="#e0105a"/>
<circle cx="358.4" cy="729.4" r="6" fill="#e0105a"/>
<circle cx="378.4" cy="729.4" r="6" fill="#ff0010"/>
<circle cx="398.4" cy="729.4" r="6" fill="#f50035"/>
<circle cx="418.4" cy="729.4" r="6" fill="#ff0010"/>
<circle cx="438.4" cy="729.4" r="6" fill="#f50035"/>
<circle cx="458.4" cy="729.4" r="1" fill="#b50cb0"/>
<circle cx="478.4" cy="729.4" r="4.7" fill="#b50cb0"/>
<circle cx="498.4" cy="729.4" r="2.3" fill="#9d0cd0"/>
<circle cx="518.4" cy="729.4" r="5.4" fill="#b50cb0"/>
<circle cx="538.4" cy="729.4" r="1.3" fill="#9d0cd0"/>
<text x="42.5" y="733" font-size="10.5" class="i" text-anchor="end" fill="#111">N3</text>
<line x1="44" y1="729.4" x2="46.8" y2="729.4" stroke="#333" stroke-width=".9"/>
<circle cx="58.4" cy="759.7" r=".5" fill="#b020c0"/>
<circle cx="78.4" cy="759.7" r="5.8" fill="#b50cb0"/>
<circle cx="98.4" cy="759.7" r="3.1" fill="#9d0cd0"/>
<circle cx="118.4" cy="759.7" r=".5" fill="#b020c0"/>
<circle cx="138.4" cy="759.7" r=".5" fill="#b020c0"/>
<circle cx="158.4" cy="759.7" r="1.2" fill="#9d0cd0"/>
<circle cx="178.4" cy="759.7" r=".8" fill="#b50cb0"/>
<circle cx="198.4" cy="759.7" r="1.4" fill="#b50cb0"/>
<circle cx="218.4" cy="759.7" r=".8" fill="#b50cb0"/>
<circle cx="238.4" cy="759.7" r="3.5" fill="#9d0cd0"/>
<circle cx="258.4" cy="759.7" r="4.4" fill="#c20c95"/>
<circle cx="278.4" cy="759.7" r="4.1" fill="#b50cb0"/>
<circle cx="298.4" cy="759.7" r="6.1" fill="#d01075"/>
<circle cx="318.4" cy="759.7" r="6.1" fill="#e0105a"/>
<circle cx="338.4" cy="759.7" r="6.1" fill="#d01075"/>
<circle cx="358.4" cy="759.7" r="6" fill="#d01075"/>
<circle cx="378.4" cy="759.7" r="6" fill="#c20c95"/>
<circle cx="398.4" cy="759.7" r="6" fill="#c20c95"/>
<circle cx="418.4" cy="759.7" r="2.3" fill="#9d0cd0"/>
<circle cx="438.4" cy="759.7" r="4.7" fill="#9d0cd0"/>
<circle cx="458.4" cy="759.7" r=".7" fill="#b50cb0"/>
<circle cx="478.4" cy="759.7" r="4" fill="#9d0cd0"/>
<circle cx="498.4" cy="759.7" r=".7" fill="#b50cb0"/>
<circle cx="518.4" cy="759.7" r="3.4" fill="#9d0cd0"/>
<circle cx="538.4" cy="759.7" r=".7" fill="#b50cb0"/>
<text x="42.5" y="763.3" font-size="10.5" class="i" text-anchor="end" fill="#111">N2</text>
<line x1="44" y1="759.7" x2="46.8" y2="759.7" stroke="#333" stroke-width=".9"/>
<circle cx="58.4" cy="790.1" r=".5" fill="#b020c0"/>
<circle cx="78.4" cy="790.1" r="6.2" fill="#b50cb0"/>
<circle cx="98.4" cy="790.1" r="5.6" fill="#b50cb0"/>
<circle cx="118.4" cy="790.1" r="1.4" fill="#9d0cd0"/>
<circle cx="138.4" cy="790.1" r="2.1" fill="#9d0cd0"/>
<circle cx="158.4" cy="790.1" r=".8" fill="#b50cb0"/>
<circle cx="178.4" cy="790.1" r=".6" fill="#b50cb0"/>
<circle cx="198.4" cy="790.1" r="3.1" fill="#e0105a"/>
<circle cx="218.4" cy="790.1" r="2" fill="#9d0cd0"/>
<circle cx="238.4" cy="790.1" r="5.8" fill="#c20c95"/>
<circle cx="258.4" cy="790.1" r="5.8" fill="#e0105a"/>
<circle cx="278.4" cy="790.1" r="6.1" fill="#ff0010"/>
<circle cx="298.4" cy="790.1" r="6.1" fill="#f50035"/>
<circle cx="318.4" cy="790.1" r="6.1" fill="#c20c95"/>
<circle cx="338.4" cy="790.1" r="5.8" fill="#c20c95"/>
<circle cx="358.4" cy="790.1" r="5.7" fill="#9d0cd0"/>
<circle cx="378.4" cy="790.1" r="6" fill="#800fe0"/>
<circle cx="398.4" cy="790.1" r="6" fill="#800fe0"/>
<circle cx="418.4" cy="790.1" r="1" fill="#b50cb0"/>
<circle cx="438.4" cy="790.1" r="2.3" fill="#9d0cd0"/>
<circle cx="458.4" cy="790.1" r=".7" fill="#b50cb0"/>
<circle cx="478.4" cy="790.1" r="5" fill="#9d0cd0"/>
<circle cx="498.4" cy="790.1" r=".7" fill="#b50cb0"/>
<circle cx="518.4" cy="790.1" r="2.3" fill="#9d0cd0"/>
<circle cx="538.4" cy="790.1" r=".7" fill="#b50cb0"/>
<text x="42.5" y="793.7" font-size="10.5" class="i" text-anchor="end" fill="#111">N1</text>
<line x1="44" y1="790.1" x2="46.8" y2="790.1" stroke="#333" stroke-width=".9"/>
<circle cx="58.4" cy="820.5" r="1" fill="#ff0010"/>
<circle cx="78.4" cy="820.5" r="5.5" fill="#ff0010"/>
<circle cx="98.4" cy="820.5" r="4.1" fill="#ff0010"/>
<circle cx="118.4" cy="820.5" r="3.3" fill="#ff0010"/>
<circle cx="138.4" cy="820.5" r="3.3" fill="#ff0010"/>
<circle cx="158.4" cy="820.5" r="2.3" fill="#f50035"/>
<circle cx="178.4" cy="820.5" r="2.1" fill="#ff0010"/>
<circle cx="198.4" cy="820.5" r="2.3" fill="#e0105a"/>
<circle cx="218.4" cy="820.5" r="2.3" fill="#ff0010"/>
<circle cx="238.4" cy="820.5" r="4.1" fill="#ff0010"/>
<circle cx="258.4" cy="820.5" r="4.4" fill="#d01075"/>
<circle cx="278.4" cy="820.5" r="2.9" fill="#c20c95"/>
<circle cx="298.4" cy="820.5" r="3.5" fill="#9d0cd0"/>
<circle cx="318.4" cy="820.5" r="2.9" fill="#800fe0"/>
<circle cx="338.4" cy="820.5" r="4.1" fill="#2a05ff"/>
<circle cx="358.4" cy="820.5" r="2.3" fill="#9d0cd0"/>
<circle cx="378.4" cy="820.5" r="4.7" fill="#9d0cd0"/>
<circle cx="398.4" cy="820.5" r="4.4" fill="#5510f0"/>
<circle cx="418.4" cy="820.5" r="1.7" fill="#9d0cd0"/>
<circle cx="438.4" cy="820.5" r="2" fill="#9d0cd0"/>
<circle cx="458.4" cy="820.5" r="1" fill="#9d0cd0"/>
<circle cx="478.4" cy="820.5" r="3.7" fill="#9d0cd0"/>
<circle cx="498.4" cy="820.5" r="2.3" fill="#e0105a"/>
<circle cx="518.4" cy="820.5" r="3" fill="#9d0cd0"/>
<circle cx="538.4" cy="820.5" r="1" fill="#b50cb0"/>
<text x="42.5" y="824.1" font-size="10.5" class="i" text-anchor="end" fill="#111">GMP</text>
<line x1="44" y1="820.5" x2="46.8" y2="820.5" stroke="#333" stroke-width=".9"/>
<path d="M46.8 680.6V838.5H550" fill="none" stroke="#222" stroke-width=".95"/>
<line x1="58.4" y1="838.5" x2="58.4" y2="841.3" stroke="#333" stroke-width=".9"/>
<text x="62.8" y="847.6" font-size="10.5" class="i" text-anchor="end" fill="#111" transform="rotate(-45 62.8 847.6)">Cd34</text>
<line x1="78.4" y1="838.5" x2="78.4" y2="841.3" stroke="#333" stroke-width=".9"/>
<text x="82.8" y="847.6" font-size="10.5" class="i" text-anchor="end" fill="#111" transform="rotate(-45 82.8 847.6)">Cd63</text>
<line x1="98.4" y1="838.5" x2="98.4" y2="841.3" stroke="#333" stroke-width=".9"/>
<text x="102.8" y="847.6" font-size="10.5" class="i" text-anchor="end" fill="#111" transform="rotate(-45 102.8 847.6)">Ms4a3</text>
<line x1="118.4" y1="838.5" x2="118.4" y2="841.3" stroke="#333" stroke-width=".9"/>
<text x="122.8" y="847.6" font-size="10.5" class="i" text-anchor="end" fill="#111" transform="rotate(-45 122.8 847.6)">Mpo</text>
<line x1="138.4" y1="838.5" x2="138.4" y2="841.3" stroke="#333" stroke-width=".9"/>
<text x="142.8" y="847.6" font-size="10.5" class="i" text-anchor="end" fill="#111" transform="rotate(-45 142.8 847.6)">Elane</text>
<line x1="158.4" y1="838.5" x2="158.4" y2="841.3" stroke="#333" stroke-width=".9"/>
<text x="162.8" y="847.6" font-size="10.5" class="i" text-anchor="end" fill="#111" transform="rotate(-45 162.8 847.6)">Irf8</text>
<line x1="178.4" y1="838.5" x2="178.4" y2="841.3" stroke="#333" stroke-width=".9"/>
<text x="182.8" y="847.6" font-size="10.5" class="i" text-anchor="end" fill="#111" transform="rotate(-45 182.8 847.6)">Ly86</text>
<line x1="198.4" y1="838.5" x2="198.4" y2="841.3" stroke="#333" stroke-width=".9"/>
<text x="202.8" y="847.6" font-size="10.5" class="i" text-anchor="end" fill="#111" transform="rotate(-45 202.8 847.6)">Gfi1</text>
<line x1="218.4" y1="838.5" x2="218.4" y2="841.3" stroke="#333" stroke-width=".9"/>
<text x="222.8" y="847.6" font-size="10.5" class="i" text-anchor="end" fill="#111" transform="rotate(-45 222.8 847.6)">Vcam1</text>
<line x1="238.4" y1="838.5" x2="238.4" y2="841.3" stroke="#333" stroke-width=".9"/>
<text x="242.8" y="847.6" font-size="10.5" class="i" text-anchor="end" fill="#111" transform="rotate(-45 242.8 847.6)">Rgcc</text>
<line x1="258.4" y1="838.5" x2="258.4" y2="841.3" stroke="#333" stroke-width=".9"/>
<text x="262.8" y="847.6" font-size="10.5" class="i" text-anchor="end" fill="#111" transform="rotate(-45 262.8 847.6)">Cd81</text>
<line x1="278.4" y1="838.5" x2="278.4" y2="841.3" stroke="#333" stroke-width=".9"/>
<text x="282.8" y="847.6" font-size="10.5" class="i" text-anchor="end" fill="#111" transform="rotate(-45 282.8 847.6)">Fcnb</text>
<line x1="298.4" y1="838.5" x2="298.4" y2="841.3" stroke="#333" stroke-width=".9"/>
<text x="302.8" y="847.6" font-size="10.5" class="i" text-anchor="end" fill="#111" transform="rotate(-45 302.8 847.6)">Cebpe</text>
<line x1="318.4" y1="838.5" x2="318.4" y2="841.3" stroke="#333" stroke-width=".9"/>
<text x="322.8" y="847.6" font-size="10.5" class="i" text-anchor="end" fill="#111" transform="rotate(-45 322.8 847.6)">Cd177</text>
<line x1="338.4" y1="838.5" x2="338.4" y2="841.3" stroke="#333" stroke-width=".9"/>
<text x="342.8" y="847.6" font-size="10.5" class="i" text-anchor="end" fill="#111" transform="rotate(-45 342.8 847.6)">S100a8</text>
<line x1="358.4" y1="838.5" x2="358.4" y2="841.3" stroke="#333" stroke-width=".9"/>
<text x="362.8" y="847.6" font-size="10.5" class="i" text-anchor="end" fill="#111" transform="rotate(-45 362.8 847.6)">Ly6g</text>
<line x1="378.4" y1="838.5" x2="378.4" y2="841.3" stroke="#333" stroke-width=".9"/>
<text x="382.8" y="847.6" font-size="10.5" class="i" text-anchor="end" fill="#111" transform="rotate(-45 382.8 847.6)">Ly6c2</text>
<line x1="398.4" y1="838.5" x2="398.4" y2="841.3" stroke="#333" stroke-width=".9"/>
<text x="402.8" y="847.6" font-size="10.5" class="i" text-anchor="end" fill="#111" transform="rotate(-45 402.8 847.6)">Itgam</text>
<line x1="418.4" y1="838.5" x2="418.4" y2="841.3" stroke="#333" stroke-width=".9"/>
<text x="422.8" y="847.6" font-size="10.5" class="i" text-anchor="end" fill="#111" transform="rotate(-45 422.8 847.6)">Mmp8</text>
<line x1="438.4" y1="838.5" x2="438.4" y2="841.3" stroke="#333" stroke-width=".9"/>
<text x="442.8" y="847.6" font-size="10.5" class="i" text-anchor="end" fill="#111" transform="rotate(-45 442.8 847.6)">Mmp9</text>
<line x1="458.4" y1="838.5" x2="458.4" y2="841.3" stroke="#333" stroke-width=".9"/>
<text x="462.8" y="847.6" font-size="10.5" class="i" text-anchor="end" fill="#111" transform="rotate(-45 462.8 847.6)">Csf1r</text>
<line x1="478.4" y1="838.5" x2="478.4" y2="841.3" stroke="#333" stroke-width=".9"/>
<text x="482.8" y="847.6" font-size="10.5" class="i" text-anchor="end" fill="#111" transform="rotate(-45 482.8 847.6)">Cxcr4</text>
<line x1="498.4" y1="838.5" x2="498.4" y2="841.3" stroke="#333" stroke-width=".9"/>
<text x="502.8" y="847.6" font-size="10.5" class="i" text-anchor="end" fill="#111" transform="rotate(-45 502.8 847.6)">Ccl6</text>
<line x1="518.4" y1="838.5" x2="518.4" y2="841.3" stroke="#333" stroke-width=".9"/>
<text x="522.8" y="847.6" font-size="10.5" class="i" text-anchor="end" fill="#111" transform="rotate(-45 522.8 847.6)">Cxcr2</text>
<line x1="538.4" y1="838.5" x2="538.4" y2="841.3" stroke="#333" stroke-width=".9"/>
<text x="542.8" y="847.6" font-size="10.5" class="i" text-anchor="end" fill="#111" transform="rotate(-45 542.8 847.6)">Il1b</text>
<path d="M184.8 860.1L185.4 861.4L186.9 861.6L185.8 862.6L186.1 864.1L184.8 863.4L183.5 864.1L183.8 862.6L182.7 861.6L184.2 861.4Z" fill="#ff0a0a"/>
<path d="M276.2 867L276.8 868.3L278.3 868.5L277.2 869.5L277.5 871L276.2 870.3L274.9 871L275.2 869.5L274.1 868.5L275.6 868.3Z" fill="#ff0a0a"/>
<path d="M295.8 867.7L296.4 869L297.9 869.2L296.8 870.2L297.1 871.7L295.8 871L294.5 871.7L294.8 870.2L293.7 869.2L295.2 869Z" fill="#ff0a0a"/>
<path d="M340.6 862L341.2 863.3L342.7 863.5L341.6 864.5L341.9 866L340.6 865.3L339.3 866L339.6 864.5L338.5 863.5L340 863.3Z" fill="#ff0a0a"/>
<path d="M356.6 863.3L357.2 864.6L358.7 864.8L357.6 865.8L357.9 867.3L356.6 866.6L355.3 867.3L355.6 865.8L354.5 864.8L356 864.6Z" fill="#ff0a0a"/>
<path d="M377.5 863.3L378.1 864.6L379.6 864.8L378.5 865.8L378.8 867.3L377.5 866.6L376.2 867.3L376.5 865.8L375.4 864.8L376.9 864.6Z" fill="#ff0a0a"/>
<path d="M458 863.3L458.6 864.6L460.1 864.8L459 865.8L459.3 867.3L458 866.6L456.7 867.3L457 865.8L455.9 864.8L457.4 864.6Z" fill="#ff0a0a"/>
<path d="M497.9 864L498.5 865.3L500 865.5L498.9 866.5L499.2 868L497.9 867.3L496.6 868L496.9 866.5L495.8 865.5L497.3 865.3Z" fill="#ff0a0a"/>
<text x="266.2" y="889.3" font-size="16.8" fill="#111" textLength="65" lengthAdjust="spacingAndGlyphs">Features</text>
<text x="14.2" y="759" font-size="17" text-anchor="middle" fill="#111" transform="rotate(-90 14.2 759)">Identity</text>
<text x="560.7" y="691.3" font-size="13.5" fill="#111">Percent Expressed</text>
<circle cx="567.8" cy="704.7" r=".5" fill="#000"/>
<text x="582.9" y="708.1" font-size="9.5" fill="#111">0</text>
<circle cx="567.8" cy="715.3" r="1.7" fill="#000"/>
<text x="582.9" y="718.7" font-size="9.5" fill="#111">25</text>
<circle cx="567.8" cy="725.5" r="3.1" fill="#000"/>
<text x="582.9" y="728.9" font-size="9.5" fill="#111">50</text>
<circle cx="567.8" cy="736.5" r="4.7" fill="#000"/>
<text x="582.9" y="739.9" font-size="9.5" fill="#111">75</text>
<circle cx="567.8" cy="750.9" r="6.1" fill="#000"/>
<text x="582.9" y="754.3" font-size="9.5" fill="#111">100</text>
<text x="560.7" y="778.5" font-size="13.5" fill="#111">Average Expression</text>
<rect x="560" y="786.8" width="10.7" height="53" fill="url(#cbar)"/>
<text x="577.7" y="804.3" font-size="9.5" fill="#111">1</text>
<text x="577.7" y="821.3" font-size="9.5" fill="#111">0</text>
<text x="577.5" y="839" font-size="9.5" fill="#111">&#8722;1</text>
</svg></body></html>
